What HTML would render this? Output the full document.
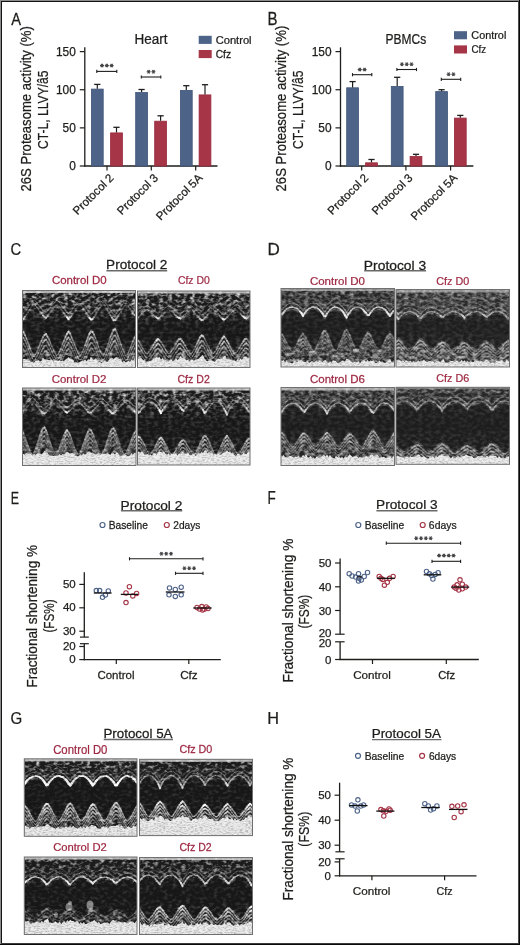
<!DOCTYPE html>
<html><head><meta charset="utf-8"><style>
html,body{margin:0;padding:0;background:#fff;}
body{width:520px;height:945px;overflow:hidden;}
svg{display:block;will-change:transform;}
text{font-family:"Liberation Sans", sans-serif;stroke:currentColor;}
</style></head><body>
<svg width="520" height="945" viewBox="0 0 520 945">
<defs><clipPath id="ec1"><rect x="22.5" y="290.5" width="113" height="77"/></clipPath><filter id="sp1" x="22.5" y="290.5" width="113" height="77" filterUnits="userSpaceOnUse" color-interpolation-filters="sRGB"><feTurbulence type="fractalNoise" baseFrequency="0.22 0.32" numOctaves="2" seed="11"/><feColorMatrix type="matrix" values="0 0 0 0 1 0 0 0 0 1 0 0 0 0 1 2.4 0 0 0 -1.02"/></filter><filter id="dk1" x="22.5" y="290.5" width="113" height="77" filterUnits="userSpaceOnUse" color-interpolation-filters="sRGB"><feTurbulence type="fractalNoise" baseFrequency="0.35 0.8" numOctaves="2" seed="61"/><feColorMatrix type="matrix" values="0 0 0 0 0 0 0 0 0 0 0 0 0 0 0 3.0 0 0 0 -1.25"/></filter><filter id="bl1" x="-5%" y="-20%" width="110%" height="140%"><feGaussianBlur stdDeviation="0.45"/></filter><linearGradient id="dg1" x1="0" y1="0" x2="0" y2="1"><stop offset="0" stop-color="#fff" stop-opacity="0.9"/><stop offset="0.12" stop-color="#fff" stop-opacity="0.8"/><stop offset="0.3" stop-color="#fff" stop-opacity="0.6"/><stop offset="0.45" stop-color="#fff" stop-opacity="0.3"/><stop offset="0.6" stop-color="#fff" stop-opacity="0.25"/><stop offset="0.75" stop-color="#fff" stop-opacity="0.5"/><stop offset="0.9" stop-color="#fff" stop-opacity="0.8"/><stop offset="1" stop-color="#fff" stop-opacity="0.9"/></linearGradient><mask id="mk1" maskUnits="userSpaceOnUse" x="22.5" y="290.5" width="113" height="77"><rect x="22.5" y="290.5" width="113" height="77" fill="url(#dg1)"/></mask><clipPath id="ec2"><rect x="137.5" y="291" width="112.5" height="76.5"/></clipPath><filter id="sp2" x="137.5" y="291" width="112.5" height="76.5" filterUnits="userSpaceOnUse" color-interpolation-filters="sRGB"><feTurbulence type="fractalNoise" baseFrequency="0.22 0.32" numOctaves="2" seed="12"/><feColorMatrix type="matrix" values="0 0 0 0 1 0 0 0 0 1 0 0 0 0 1 2.4 0 0 0 -1.02"/></filter><filter id="dk2" x="137.5" y="291" width="112.5" height="76.5" filterUnits="userSpaceOnUse" color-interpolation-filters="sRGB"><feTurbulence type="fractalNoise" baseFrequency="0.35 0.8" numOctaves="2" seed="62"/><feColorMatrix type="matrix" values="0 0 0 0 0 0 0 0 0 0 0 0 0 0 0 3.0 0 0 0 -1.25"/></filter><filter id="bl2" x="-5%" y="-20%" width="110%" height="140%"><feGaussianBlur stdDeviation="0.45"/></filter><linearGradient id="dg2" x1="0" y1="0" x2="0" y2="1"><stop offset="0" stop-color="#fff" stop-opacity="0.9"/><stop offset="0.12" stop-color="#fff" stop-opacity="0.8"/><stop offset="0.3" stop-color="#fff" stop-opacity="0.6"/><stop offset="0.45" stop-color="#fff" stop-opacity="0.3"/><stop offset="0.6" stop-color="#fff" stop-opacity="0.25"/><stop offset="0.75" stop-color="#fff" stop-opacity="0.5"/><stop offset="0.9" stop-color="#fff" stop-opacity="0.8"/><stop offset="1" stop-color="#fff" stop-opacity="0.9"/></linearGradient><mask id="mk2" maskUnits="userSpaceOnUse" x="137.5" y="291" width="112.5" height="76.5"><rect x="137.5" y="291" width="112.5" height="76.5" fill="url(#dg2)"/></mask><clipPath id="ec3"><rect x="22.5" y="388" width="113.5" height="77.5"/></clipPath><filter id="sp3" x="22.5" y="388" width="113.5" height="77.5" filterUnits="userSpaceOnUse" color-interpolation-filters="sRGB"><feTurbulence type="fractalNoise" baseFrequency="0.22 0.32" numOctaves="2" seed="13"/><feColorMatrix type="matrix" values="0 0 0 0 1 0 0 0 0 1 0 0 0 0 1 2.4 0 0 0 -1.02"/></filter><filter id="dk3" x="22.5" y="388" width="113.5" height="77.5" filterUnits="userSpaceOnUse" color-interpolation-filters="sRGB"><feTurbulence type="fractalNoise" baseFrequency="0.35 0.8" numOctaves="2" seed="63"/><feColorMatrix type="matrix" values="0 0 0 0 0 0 0 0 0 0 0 0 0 0 0 3.0 0 0 0 -1.25"/></filter><filter id="bl3" x="-5%" y="-20%" width="110%" height="140%"><feGaussianBlur stdDeviation="0.45"/></filter><linearGradient id="dg3" x1="0" y1="0" x2="0" y2="1"><stop offset="0" stop-color="#fff" stop-opacity="0.9"/><stop offset="0.12" stop-color="#fff" stop-opacity="0.8"/><stop offset="0.3" stop-color="#fff" stop-opacity="0.6"/><stop offset="0.45" stop-color="#fff" stop-opacity="0.3"/><stop offset="0.6" stop-color="#fff" stop-opacity="0.25"/><stop offset="0.75" stop-color="#fff" stop-opacity="0.5"/><stop offset="0.9" stop-color="#fff" stop-opacity="0.8"/><stop offset="1" stop-color="#fff" stop-opacity="0.9"/></linearGradient><mask id="mk3" maskUnits="userSpaceOnUse" x="22.5" y="388" width="113.5" height="77.5"><rect x="22.5" y="388" width="113.5" height="77.5" fill="url(#dg3)"/></mask><clipPath id="ec4"><rect x="137.5" y="388" width="112.5" height="77"/></clipPath><filter id="sp4" x="137.5" y="388" width="112.5" height="77" filterUnits="userSpaceOnUse" color-interpolation-filters="sRGB"><feTurbulence type="fractalNoise" baseFrequency="0.22 0.32" numOctaves="2" seed="14"/><feColorMatrix type="matrix" values="0 0 0 0 1 0 0 0 0 1 0 0 0 0 1 2.4 0 0 0 -1.02"/></filter><filter id="dk4" x="137.5" y="388" width="112.5" height="77" filterUnits="userSpaceOnUse" color-interpolation-filters="sRGB"><feTurbulence type="fractalNoise" baseFrequency="0.35 0.8" numOctaves="2" seed="64"/><feColorMatrix type="matrix" values="0 0 0 0 0 0 0 0 0 0 0 0 0 0 0 3.0 0 0 0 -1.25"/></filter><filter id="bl4" x="-5%" y="-20%" width="110%" height="140%"><feGaussianBlur stdDeviation="0.45"/></filter><linearGradient id="dg4" x1="0" y1="0" x2="0" y2="1"><stop offset="0" stop-color="#fff" stop-opacity="0.9"/><stop offset="0.12" stop-color="#fff" stop-opacity="0.8"/><stop offset="0.3" stop-color="#fff" stop-opacity="0.6"/><stop offset="0.45" stop-color="#fff" stop-opacity="0.3"/><stop offset="0.6" stop-color="#fff" stop-opacity="0.25"/><stop offset="0.75" stop-color="#fff" stop-opacity="0.5"/><stop offset="0.9" stop-color="#fff" stop-opacity="0.8"/><stop offset="1" stop-color="#fff" stop-opacity="0.9"/></linearGradient><mask id="mk4" maskUnits="userSpaceOnUse" x="137.5" y="388" width="112.5" height="77"><rect x="137.5" y="388" width="112.5" height="77" fill="url(#dg4)"/></mask><clipPath id="ec5"><rect x="281" y="288.5" width="113.5" height="78.5"/></clipPath><filter id="sp5" x="281" y="288.5" width="113.5" height="78.5" filterUnits="userSpaceOnUse" color-interpolation-filters="sRGB"><feTurbulence type="fractalNoise" baseFrequency="0.22 0.32" numOctaves="2" seed="15"/><feColorMatrix type="matrix" values="0 0 0 0 1 0 0 0 0 1 0 0 0 0 1 1.7 0 0 0 -0.62"/></filter><filter id="dk5" x="281" y="288.5" width="113.5" height="78.5" filterUnits="userSpaceOnUse" color-interpolation-filters="sRGB"><feTurbulence type="fractalNoise" baseFrequency="0.35 0.8" numOctaves="2" seed="65"/><feColorMatrix type="matrix" values="0 0 0 0 0 0 0 0 0 0 0 0 0 0 0 3.0 0 0 0 -1.25"/></filter><filter id="bl5" x="-5%" y="-20%" width="110%" height="140%"><feGaussianBlur stdDeviation="0.45"/></filter><linearGradient id="dg5" x1="0" y1="0" x2="0" y2="1"><stop offset="0" stop-color="#fff" stop-opacity="0.8"/><stop offset="0.1" stop-color="#fff" stop-opacity="0.6"/><stop offset="0.3" stop-color="#fff" stop-opacity="0.5"/><stop offset="0.5" stop-color="#fff" stop-opacity="0.3"/><stop offset="0.7" stop-color="#fff" stop-opacity="0.55"/><stop offset="0.85" stop-color="#fff" stop-opacity="0.8"/><stop offset="1" stop-color="#fff" stop-opacity="0.9"/></linearGradient><mask id="mk5" maskUnits="userSpaceOnUse" x="281" y="288.5" width="113.5" height="78.5"><rect x="281" y="288.5" width="113.5" height="78.5" fill="url(#dg5)"/></mask><clipPath id="ec6"><rect x="396" y="289.5" width="113.5" height="77.5"/></clipPath><filter id="sp6" x="396" y="289.5" width="113.5" height="77.5" filterUnits="userSpaceOnUse" color-interpolation-filters="sRGB"><feTurbulence type="fractalNoise" baseFrequency="0.22 0.32" numOctaves="2" seed="16"/><feColorMatrix type="matrix" values="0 0 0 0 1 0 0 0 0 1 0 0 0 0 1 1.7 0 0 0 -0.6"/></filter><filter id="dk6" x="396" y="289.5" width="113.5" height="77.5" filterUnits="userSpaceOnUse" color-interpolation-filters="sRGB"><feTurbulence type="fractalNoise" baseFrequency="0.35 0.8" numOctaves="2" seed="66"/><feColorMatrix type="matrix" values="0 0 0 0 0 0 0 0 0 0 0 0 0 0 0 3.0 0 0 0 -1.25"/></filter><filter id="bl6" x="-5%" y="-20%" width="110%" height="140%"><feGaussianBlur stdDeviation="0.45"/></filter><linearGradient id="dg6" x1="0" y1="0" x2="0" y2="1"><stop offset="0" stop-color="#fff" stop-opacity="0.8"/><stop offset="0.1" stop-color="#fff" stop-opacity="0.6"/><stop offset="0.3" stop-color="#fff" stop-opacity="0.5"/><stop offset="0.5" stop-color="#fff" stop-opacity="0.3"/><stop offset="0.7" stop-color="#fff" stop-opacity="0.55"/><stop offset="0.85" stop-color="#fff" stop-opacity="0.8"/><stop offset="1" stop-color="#fff" stop-opacity="0.9"/></linearGradient><mask id="mk6" maskUnits="userSpaceOnUse" x="396" y="289.5" width="113.5" height="77.5"><rect x="396" y="289.5" width="113.5" height="77.5" fill="url(#dg6)"/></mask><clipPath id="ec7"><rect x="281" y="387.5" width="113.5" height="78"/></clipPath><filter id="sp7" x="281" y="387.5" width="113.5" height="78" filterUnits="userSpaceOnUse" color-interpolation-filters="sRGB"><feTurbulence type="fractalNoise" baseFrequency="0.22 0.32" numOctaves="2" seed="17"/><feColorMatrix type="matrix" values="0 0 0 0 1 0 0 0 0 1 0 0 0 0 1 1.7 0 0 0 -0.62"/></filter><filter id="dk7" x="281" y="387.5" width="113.5" height="78" filterUnits="userSpaceOnUse" color-interpolation-filters="sRGB"><feTurbulence type="fractalNoise" baseFrequency="0.35 0.8" numOctaves="2" seed="67"/><feColorMatrix type="matrix" values="0 0 0 0 0 0 0 0 0 0 0 0 0 0 0 3.0 0 0 0 -1.25"/></filter><filter id="bl7" x="-5%" y="-20%" width="110%" height="140%"><feGaussianBlur stdDeviation="0.45"/></filter><linearGradient id="dg7" x1="0" y1="0" x2="0" y2="1"><stop offset="0" stop-color="#fff" stop-opacity="0.8"/><stop offset="0.1" stop-color="#fff" stop-opacity="0.6"/><stop offset="0.3" stop-color="#fff" stop-opacity="0.5"/><stop offset="0.5" stop-color="#fff" stop-opacity="0.3"/><stop offset="0.7" stop-color="#fff" stop-opacity="0.55"/><stop offset="0.85" stop-color="#fff" stop-opacity="0.8"/><stop offset="1" stop-color="#fff" stop-opacity="0.9"/></linearGradient><mask id="mk7" maskUnits="userSpaceOnUse" x="281" y="387.5" width="113.5" height="78"><rect x="281" y="387.5" width="113.5" height="78" fill="url(#dg7)"/></mask><clipPath id="ec8"><rect x="396" y="387.3" width="113.5" height="77"/></clipPath><filter id="sp8" x="396" y="387.3" width="113.5" height="77" filterUnits="userSpaceOnUse" color-interpolation-filters="sRGB"><feTurbulence type="fractalNoise" baseFrequency="0.22 0.32" numOctaves="2" seed="18"/><feColorMatrix type="matrix" values="0 0 0 0 1 0 0 0 0 1 0 0 0 0 1 1.6 0 0 0 -0.62"/></filter><filter id="dk8" x="396" y="387.3" width="113.5" height="77" filterUnits="userSpaceOnUse" color-interpolation-filters="sRGB"><feTurbulence type="fractalNoise" baseFrequency="0.35 0.8" numOctaves="2" seed="68"/><feColorMatrix type="matrix" values="0 0 0 0 0 0 0 0 0 0 0 0 0 0 0 3.0 0 0 0 -1.25"/></filter><filter id="bl8" x="-5%" y="-20%" width="110%" height="140%"><feGaussianBlur stdDeviation="0.45"/></filter><linearGradient id="dg8" x1="0" y1="0" x2="0" y2="1"><stop offset="0" stop-color="#fff" stop-opacity="0.8"/><stop offset="0.1" stop-color="#fff" stop-opacity="0.6"/><stop offset="0.3" stop-color="#fff" stop-opacity="0.5"/><stop offset="0.5" stop-color="#fff" stop-opacity="0.3"/><stop offset="0.7" stop-color="#fff" stop-opacity="0.55"/><stop offset="0.85" stop-color="#fff" stop-opacity="0.8"/><stop offset="1" stop-color="#fff" stop-opacity="0.9"/></linearGradient><mask id="mk8" maskUnits="userSpaceOnUse" x="396" y="387.3" width="113.5" height="77"><rect x="396" y="387.3" width="113.5" height="77" fill="url(#dg8)"/></mask><clipPath id="ec9"><rect x="24.3" y="758.8" width="112.7" height="77.5"/></clipPath><filter id="sp9" x="24.3" y="758.8" width="112.7" height="77.5" filterUnits="userSpaceOnUse" color-interpolation-filters="sRGB"><feTurbulence type="fractalNoise" baseFrequency="0.22 0.32" numOctaves="2" seed="19"/><feColorMatrix type="matrix" values="0 0 0 0 1 0 0 0 0 1 0 0 0 0 1 2.6 0 0 0 -1.22"/></filter><filter id="dk9" x="24.3" y="758.8" width="112.7" height="77.5" filterUnits="userSpaceOnUse" color-interpolation-filters="sRGB"><feTurbulence type="fractalNoise" baseFrequency="0.35 0.8" numOctaves="2" seed="69"/><feColorMatrix type="matrix" values="0 0 0 0 0 0 0 0 0 0 0 0 0 0 0 3.0 0 0 0 -1.25"/></filter><filter id="bl9" x="-5%" y="-20%" width="110%" height="140%"><feGaussianBlur stdDeviation="0.45"/></filter><linearGradient id="dg9" x1="0" y1="0" x2="0" y2="1"><stop offset="0" stop-color="#fff" stop-opacity="0.9"/><stop offset="0.1" stop-color="#fff" stop-opacity="0.8"/><stop offset="0.22" stop-color="#fff" stop-opacity="0.6"/><stop offset="0.35" stop-color="#fff" stop-opacity="0.3"/><stop offset="0.55" stop-color="#fff" stop-opacity="0.3"/><stop offset="0.7" stop-color="#fff" stop-opacity="0.6"/><stop offset="0.85" stop-color="#fff" stop-opacity="0.8"/><stop offset="1" stop-color="#fff" stop-opacity="0.9"/></linearGradient><mask id="mk9" maskUnits="userSpaceOnUse" x="24.3" y="758.8" width="112.7" height="77.5"><rect x="24.3" y="758.8" width="112.7" height="77.5" fill="url(#dg9)"/></mask><clipPath id="ec10"><rect x="139.5" y="759.3" width="113" height="76.3"/></clipPath><filter id="sp10" x="139.5" y="759.3" width="113" height="76.3" filterUnits="userSpaceOnUse" color-interpolation-filters="sRGB"><feTurbulence type="fractalNoise" baseFrequency="0.22 0.32" numOctaves="2" seed="20"/><feColorMatrix type="matrix" values="0 0 0 0 1 0 0 0 0 1 0 0 0 0 1 2.6 0 0 0 -1.22"/></filter><filter id="dk10" x="139.5" y="759.3" width="113" height="76.3" filterUnits="userSpaceOnUse" color-interpolation-filters="sRGB"><feTurbulence type="fractalNoise" baseFrequency="0.35 0.8" numOctaves="2" seed="70"/><feColorMatrix type="matrix" values="0 0 0 0 0 0 0 0 0 0 0 0 0 0 0 3.0 0 0 0 -1.25"/></filter><filter id="bl10" x="-5%" y="-20%" width="110%" height="140%"><feGaussianBlur stdDeviation="0.45"/></filter><linearGradient id="dg10" x1="0" y1="0" x2="0" y2="1"><stop offset="0" stop-color="#fff" stop-opacity="0.8"/><stop offset="0.1" stop-color="#fff" stop-opacity="0.6"/><stop offset="0.3" stop-color="#fff" stop-opacity="0.5"/><stop offset="0.5" stop-color="#fff" stop-opacity="0.3"/><stop offset="0.7" stop-color="#fff" stop-opacity="0.55"/><stop offset="0.85" stop-color="#fff" stop-opacity="0.8"/><stop offset="1" stop-color="#fff" stop-opacity="0.9"/></linearGradient><mask id="mk10" maskUnits="userSpaceOnUse" x="139.5" y="759.3" width="113" height="76.3"><rect x="139.5" y="759.3" width="113" height="76.3" fill="url(#dg10)"/></mask><clipPath id="ec11"><rect x="24.3" y="857" width="112.7" height="77.5"/></clipPath><filter id="sp11" x="24.3" y="857" width="112.7" height="77.5" filterUnits="userSpaceOnUse" color-interpolation-filters="sRGB"><feTurbulence type="fractalNoise" baseFrequency="0.22 0.32" numOctaves="2" seed="21"/><feColorMatrix type="matrix" values="0 0 0 0 1 0 0 0 0 1 0 0 0 0 1 2.6 0 0 0 -1.22"/></filter><filter id="dk11" x="24.3" y="857" width="112.7" height="77.5" filterUnits="userSpaceOnUse" color-interpolation-filters="sRGB"><feTurbulence type="fractalNoise" baseFrequency="0.35 0.8" numOctaves="2" seed="71"/><feColorMatrix type="matrix" values="0 0 0 0 0 0 0 0 0 0 0 0 0 0 0 3.0 0 0 0 -1.25"/></filter><filter id="bl11" x="-5%" y="-20%" width="110%" height="140%"><feGaussianBlur stdDeviation="0.45"/></filter><linearGradient id="dg11" x1="0" y1="0" x2="0" y2="1"><stop offset="0" stop-color="#fff" stop-opacity="0.8"/><stop offset="0.1" stop-color="#fff" stop-opacity="0.6"/><stop offset="0.3" stop-color="#fff" stop-opacity="0.5"/><stop offset="0.5" stop-color="#fff" stop-opacity="0.3"/><stop offset="0.7" stop-color="#fff" stop-opacity="0.55"/><stop offset="0.85" stop-color="#fff" stop-opacity="0.8"/><stop offset="1" stop-color="#fff" stop-opacity="0.9"/></linearGradient><mask id="mk11" maskUnits="userSpaceOnUse" x="24.3" y="857" width="112.7" height="77.5"><rect x="24.3" y="857" width="112.7" height="77.5" fill="url(#dg11)"/></mask><clipPath id="ec12"><rect x="139.5" y="857.5" width="113" height="77"/></clipPath><filter id="sp12" x="139.5" y="857.5" width="113" height="77" filterUnits="userSpaceOnUse" color-interpolation-filters="sRGB"><feTurbulence type="fractalNoise" baseFrequency="0.22 0.32" numOctaves="2" seed="22"/><feColorMatrix type="matrix" values="0 0 0 0 1 0 0 0 0 1 0 0 0 0 1 2.6 0 0 0 -1.22"/></filter><filter id="dk12" x="139.5" y="857.5" width="113" height="77" filterUnits="userSpaceOnUse" color-interpolation-filters="sRGB"><feTurbulence type="fractalNoise" baseFrequency="0.35 0.8" numOctaves="2" seed="72"/><feColorMatrix type="matrix" values="0 0 0 0 0 0 0 0 0 0 0 0 0 0 0 3.0 0 0 0 -1.25"/></filter><filter id="bl12" x="-5%" y="-20%" width="110%" height="140%"><feGaussianBlur stdDeviation="0.45"/></filter><linearGradient id="dg12" x1="0" y1="0" x2="0" y2="1"><stop offset="0" stop-color="#fff" stop-opacity="0.8"/><stop offset="0.1" stop-color="#fff" stop-opacity="0.6"/><stop offset="0.3" stop-color="#fff" stop-opacity="0.5"/><stop offset="0.5" stop-color="#fff" stop-opacity="0.3"/><stop offset="0.7" stop-color="#fff" stop-opacity="0.55"/><stop offset="0.85" stop-color="#fff" stop-opacity="0.8"/><stop offset="1" stop-color="#fff" stop-opacity="0.9"/></linearGradient><mask id="mk12" maskUnits="userSpaceOnUse" x="139.5" y="857.5" width="113" height="77"><rect x="139.5" y="857.5" width="113" height="77" fill="url(#dg12)"/></mask></defs>
<rect x="0" y="0" width="520" height="945" fill="#fff"/>
<text font-size="16.72" fill="#1d1d1b" color="#1d1d1b" stroke-width="0.25" transform="translate(11.17 25.00) scale(0.8752 1)">A</text>
<text font-size="17.59" fill="#1d1d1b" color="#1d1d1b" stroke-width="0.25" transform="translate(267.47 25.20) scale(0.8547 1)">B</text>
<text font-size="16.76" fill="#1d1d1b" color="#1d1d1b" stroke-width="0.25" transform="translate(10.45 254.80) scale(0.8858 1)">C</text>
<text font-size="17.15" fill="#1d1d1b" color="#1d1d1b" stroke-width="0.25" transform="translate(267.50 254.90) scale(0.9942 1)">D</text>
<text font-size="17.15" fill="#1d1d1b" color="#1d1d1b" stroke-width="0.25" transform="translate(10.79 504.00) scale(0.7207 1)">E</text>
<text font-size="17.44" fill="#1d1d1b" color="#1d1d1b" stroke-width="0.25" transform="translate(267.59 504.00) scale(0.7742 1)">F</text>
<text font-size="16.76" fill="#1d1d1b" color="#1d1d1b" stroke-width="0.25" transform="translate(10.49 723.90) scale(0.9004 1)">G</text>
<text font-size="17.30" fill="#1d1d1b" color="#1d1d1b" stroke-width="0.25" transform="translate(267.36 723.90) scale(0.9418 1)">H</text>
<text font-size="14.39" fill="#1d1d1b" color="#1d1d1b" stroke-width="0.25" transform="translate(134.49 44.00) scale(0.9380 1)">Heart</text>
<rect x="198.70" y="35.80" width="13.00" height="8.10" fill="#4e6388"/>
<rect x="198.70" y="50.00" width="13.00" height="8.10" fill="#a53547"/>
<text font-size="10.63" fill="#1d1d1b" color="#1d1d1b" stroke-width="0.25" transform="translate(215.63 43.50) scale(1.0513 1)">Control</text>
<text font-size="10.23" fill="#1d1d1b" color="#1d1d1b" stroke-width="0.25" transform="translate(215.68 57.60) scale(1.0062 1)">Cfz</text>
<text font-size="15.12" fill="#1d1d1b" color="#1d1d1b" stroke-width="0.25" transform="translate(30.80 191.46) rotate(-90) scale(0.8672 1)">26S Proteasome activity (%)</text>
<text font-size="15.12" fill="#1d1d1b" color="#1d1d1b" stroke-width="0.25" transform="translate(47.60 148.91) rotate(-90) scale(0.8003 1)">CT-L, LLVY/â5</text>
<line x1="84.80" y1="47.30" x2="84.80" y2="166.60" stroke="#1d1d1b" stroke-width="1.3"/>
<line x1="84.20" y1="166.00" x2="217.50" y2="166.00" stroke="#1d1d1b" stroke-width="1.3"/>
<line x1="79.80" y1="166.00" x2="84.80" y2="166.00" stroke="#1d1d1b" stroke-width="1.2"/>
<text x="75.80" y="170.25" font-size="11.9" fill="#1d1d1b" color="#1d1d1b" stroke-width="0.25" text-anchor="end">0</text>
<line x1="79.80" y1="127.87" x2="84.80" y2="127.87" stroke="#1d1d1b" stroke-width="1.2"/>
<text x="75.80" y="132.12" font-size="11.9" fill="#1d1d1b" color="#1d1d1b" stroke-width="0.25" text-anchor="end">50</text>
<line x1="79.80" y1="89.74" x2="84.80" y2="89.74" stroke="#1d1d1b" stroke-width="1.2"/>
<text x="75.80" y="93.99" font-size="11.9" fill="#1d1d1b" color="#1d1d1b" stroke-width="0.25" text-anchor="end">100</text>
<line x1="79.80" y1="51.61" x2="84.80" y2="51.61" stroke="#1d1d1b" stroke-width="1.2"/>
<text x="75.80" y="55.86" font-size="11.9" fill="#1d1d1b" color="#1d1d1b" stroke-width="0.25" text-anchor="end">150</text>
<line x1="107.00" y1="166.00" x2="107.00" y2="170.50" stroke="#1d1d1b" stroke-width="1.2"/>
<text x="0" y="0" font-size="11.6" fill="#1d1d1b" color="#1d1d1b" stroke-width="0.25" text-anchor="end" transform="translate(114.40 178.60) rotate(-45)">Protocol 2</text>
<line x1="151.30" y1="166.00" x2="151.30" y2="170.50" stroke="#1d1d1b" stroke-width="1.2"/>
<text x="0" y="0" font-size="11.6" fill="#1d1d1b" color="#1d1d1b" stroke-width="0.25" text-anchor="end" transform="translate(158.70 178.60) rotate(-45)">Protocol 3</text>
<line x1="195.70" y1="166.00" x2="195.70" y2="170.50" stroke="#1d1d1b" stroke-width="1.2"/>
<text x="0" y="0" font-size="11.6" fill="#1d1d1b" color="#1d1d1b" stroke-width="0.25" text-anchor="end" transform="translate(203.10 178.60) rotate(-45)">Protocol 5A</text>
<rect x="91.40" y="89.10" width="11.8" height="76.90" fill="#4e6388" stroke="#3e5479" stroke-width="0.8"/>
<line x1="97.30" y1="88.70" x2="97.30" y2="84.40" stroke="#1d1d1b" stroke-width="1.2"/>
<line x1="94.20" y1="84.40" x2="100.40" y2="84.40" stroke="#1d1d1b" stroke-width="1.3"/>
<rect x="110.60" y="132.90" width="11.8" height="33.10" fill="#a53547" stroke="#982a3d" stroke-width="0.8"/>
<line x1="116.50" y1="132.50" x2="116.50" y2="127.30" stroke="#1d1d1b" stroke-width="1.2"/>
<line x1="113.40" y1="127.30" x2="119.60" y2="127.30" stroke="#1d1d1b" stroke-width="1.3"/>
<rect x="135.70" y="92.50" width="11.8" height="73.50" fill="#4e6388" stroke="#3e5479" stroke-width="0.8"/>
<line x1="141.60" y1="92.10" x2="141.60" y2="89.50" stroke="#1d1d1b" stroke-width="1.2"/>
<line x1="138.50" y1="89.50" x2="144.70" y2="89.50" stroke="#1d1d1b" stroke-width="1.3"/>
<rect x="154.70" y="121.20" width="11.8" height="44.80" fill="#a53547" stroke="#982a3d" stroke-width="0.8"/>
<line x1="160.60" y1="120.80" x2="160.60" y2="115.80" stroke="#1d1d1b" stroke-width="1.2"/>
<line x1="157.50" y1="115.80" x2="163.70" y2="115.80" stroke="#1d1d1b" stroke-width="1.3"/>
<rect x="180.40" y="90.40" width="11.8" height="75.60" fill="#4e6388" stroke="#3e5479" stroke-width="0.8"/>
<line x1="186.30" y1="90.00" x2="186.30" y2="85.70" stroke="#1d1d1b" stroke-width="1.2"/>
<line x1="183.20" y1="85.70" x2="189.40" y2="85.70" stroke="#1d1d1b" stroke-width="1.3"/>
<rect x="199.10" y="94.90" width="11.8" height="71.10" fill="#a53547" stroke="#982a3d" stroke-width="0.8"/>
<line x1="205.00" y1="94.50" x2="205.00" y2="84.70" stroke="#1d1d1b" stroke-width="1.2"/>
<line x1="201.90" y1="84.70" x2="208.10" y2="84.70" stroke="#1d1d1b" stroke-width="1.3"/>
<line x1="96.80" y1="71.40" x2="116.80" y2="71.40" stroke="#1d1d1b" stroke-width="1.1"/>
<line x1="96.80" y1="69.80" x2="96.80" y2="73.00" stroke="#1d1d1b" stroke-width="1.1"/>
<line x1="116.80" y1="69.80" x2="116.80" y2="73.00" stroke="#1d1d1b" stroke-width="1.1"/>
<path d="M100.00 65.60L104.00 65.60M101.00 63.87L103.00 67.33M103.00 63.87L101.00 67.33" stroke="#444" stroke-width="1.1" fill="none"/>
<path d="M104.80 65.60L108.80 65.60M105.80 63.87L107.80 67.33M107.80 63.87L105.80 67.33" stroke="#444" stroke-width="1.1" fill="none"/>
<path d="M109.60 65.60L113.60 65.60M110.60 63.87L112.60 67.33M112.60 63.87L110.60 67.33" stroke="#444" stroke-width="1.1" fill="none"/>
<line x1="141.30" y1="77.00" x2="160.80" y2="77.00" stroke="#1d1d1b" stroke-width="1.1"/>
<line x1="141.30" y1="75.40" x2="141.30" y2="78.60" stroke="#1d1d1b" stroke-width="1.1"/>
<line x1="160.80" y1="75.40" x2="160.80" y2="78.60" stroke="#1d1d1b" stroke-width="1.1"/>
<path d="M146.65 71.80L150.65 71.80M147.65 70.07L149.65 73.53M149.65 70.07L147.65 73.53" stroke="#444" stroke-width="1.1" fill="none"/>
<path d="M151.45 71.80L155.45 71.80M152.45 70.07L154.45 73.53M154.45 70.07L152.45 73.53" stroke="#444" stroke-width="1.1" fill="none"/>
<text font-size="14.04" fill="#1d1d1b" color="#1d1d1b" stroke-width="0.25" transform="translate(385.52 43.60) scale(0.8539 1)">PBMCs</text>
<rect x="454.00" y="31.20" width="13.00" height="8.10" fill="#4e6388"/>
<rect x="454.00" y="45.40" width="13.00" height="8.10" fill="#a53547"/>
<text font-size="10.63" fill="#1d1d1b" color="#1d1d1b" stroke-width="0.25" transform="translate(471.35 38.80) scale(1.0211 1)">Control</text>
<text font-size="10.23" fill="#1d1d1b" color="#1d1d1b" stroke-width="0.25" transform="translate(471.40 52.70) scale(0.9573 1)">Cfz</text>
<text font-size="15.12" fill="#1d1d1b" color="#1d1d1b" stroke-width="0.25" transform="translate(285.80 191.46) rotate(-90) scale(0.8698 1)">26S Proteasome activity (%)</text>
<text font-size="15.12" fill="#1d1d1b" color="#1d1d1b" stroke-width="0.25" transform="translate(303.10 149.12) rotate(-90) scale(0.8034 1)">CT-L, LLVY/â5</text>
<line x1="340.50" y1="47.30" x2="340.50" y2="166.60" stroke="#1d1d1b" stroke-width="1.3"/>
<line x1="339.90" y1="166.00" x2="473.40" y2="166.00" stroke="#1d1d1b" stroke-width="1.3"/>
<line x1="335.50" y1="166.00" x2="340.50" y2="166.00" stroke="#1d1d1b" stroke-width="1.2"/>
<text x="331.50" y="170.25" font-size="11.9" fill="#1d1d1b" color="#1d1d1b" stroke-width="0.25" text-anchor="end">0</text>
<line x1="335.50" y1="127.87" x2="340.50" y2="127.87" stroke="#1d1d1b" stroke-width="1.2"/>
<text x="331.50" y="132.12" font-size="11.9" fill="#1d1d1b" color="#1d1d1b" stroke-width="0.25" text-anchor="end">50</text>
<line x1="335.50" y1="89.74" x2="340.50" y2="89.74" stroke="#1d1d1b" stroke-width="1.2"/>
<text x="331.50" y="93.99" font-size="11.9" fill="#1d1d1b" color="#1d1d1b" stroke-width="0.25" text-anchor="end">100</text>
<line x1="335.50" y1="51.61" x2="340.50" y2="51.61" stroke="#1d1d1b" stroke-width="1.2"/>
<text x="331.50" y="55.86" font-size="11.9" fill="#1d1d1b" color="#1d1d1b" stroke-width="0.25" text-anchor="end">150</text>
<line x1="361.70" y1="166.00" x2="361.70" y2="170.50" stroke="#1d1d1b" stroke-width="1.2"/>
<text x="0" y="0" font-size="11.6" fill="#1d1d1b" color="#1d1d1b" stroke-width="0.25" text-anchor="end" transform="translate(369.10 178.60) rotate(-45)">Protocol 2</text>
<line x1="405.90" y1="166.00" x2="405.90" y2="170.50" stroke="#1d1d1b" stroke-width="1.2"/>
<text x="0" y="0" font-size="11.6" fill="#1d1d1b" color="#1d1d1b" stroke-width="0.25" text-anchor="end" transform="translate(413.30 178.60) rotate(-45)">Protocol 3</text>
<line x1="450.60" y1="166.00" x2="450.60" y2="170.50" stroke="#1d1d1b" stroke-width="1.2"/>
<text x="0" y="0" font-size="11.6" fill="#1d1d1b" color="#1d1d1b" stroke-width="0.25" text-anchor="end" transform="translate(458.00 178.60) rotate(-45)">Protocol 5A</text>
<rect x="346.70" y="87.80" width="11.8" height="78.20" fill="#4e6388" stroke="#3e5479" stroke-width="0.8"/>
<line x1="352.60" y1="87.40" x2="352.60" y2="81.60" stroke="#1d1d1b" stroke-width="1.2"/>
<line x1="349.50" y1="81.60" x2="355.70" y2="81.60" stroke="#1d1d1b" stroke-width="1.3"/>
<rect x="365.60" y="162.80" width="11.8" height="3.20" fill="#a53547" stroke="#982a3d" stroke-width="0.8"/>
<line x1="371.50" y1="162.40" x2="371.50" y2="159.50" stroke="#1d1d1b" stroke-width="1.2"/>
<line x1="368.40" y1="159.50" x2="374.60" y2="159.50" stroke="#1d1d1b" stroke-width="1.3"/>
<rect x="391.30" y="86.40" width="11.8" height="79.60" fill="#4e6388" stroke="#3e5479" stroke-width="0.8"/>
<line x1="397.20" y1="86.00" x2="397.20" y2="77.30" stroke="#1d1d1b" stroke-width="1.2"/>
<line x1="394.10" y1="77.30" x2="400.30" y2="77.30" stroke="#1d1d1b" stroke-width="1.3"/>
<rect x="410.10" y="156.40" width="11.8" height="9.60" fill="#a53547" stroke="#982a3d" stroke-width="0.8"/>
<line x1="416.00" y1="156.00" x2="416.00" y2="154.30" stroke="#1d1d1b" stroke-width="1.2"/>
<line x1="412.90" y1="154.30" x2="419.10" y2="154.30" stroke="#1d1d1b" stroke-width="1.3"/>
<rect x="435.70" y="91.60" width="11.8" height="74.40" fill="#4e6388" stroke="#3e5479" stroke-width="0.8"/>
<line x1="441.60" y1="91.20" x2="441.60" y2="89.70" stroke="#1d1d1b" stroke-width="1.2"/>
<line x1="438.50" y1="89.70" x2="444.70" y2="89.70" stroke="#1d1d1b" stroke-width="1.3"/>
<rect x="454.40" y="118.10" width="11.8" height="47.90" fill="#a53547" stroke="#982a3d" stroke-width="0.8"/>
<line x1="460.30" y1="117.70" x2="460.30" y2="115.40" stroke="#1d1d1b" stroke-width="1.2"/>
<line x1="457.20" y1="115.40" x2="463.40" y2="115.40" stroke="#1d1d1b" stroke-width="1.3"/>
<line x1="352.50" y1="74.70" x2="371.80" y2="74.70" stroke="#1d1d1b" stroke-width="1.1"/>
<line x1="352.50" y1="73.10" x2="352.50" y2="76.30" stroke="#1d1d1b" stroke-width="1.1"/>
<line x1="371.80" y1="73.10" x2="371.80" y2="76.30" stroke="#1d1d1b" stroke-width="1.1"/>
<path d="M357.75 69.60L361.75 69.60M358.75 67.87L360.75 71.33M360.75 67.87L358.75 71.33" stroke="#444" stroke-width="1.1" fill="none"/>
<path d="M362.55 69.60L366.55 69.60M363.55 67.87L365.55 71.33M365.55 67.87L363.55 71.33" stroke="#444" stroke-width="1.1" fill="none"/>
<line x1="396.90" y1="69.50" x2="416.50" y2="69.50" stroke="#1d1d1b" stroke-width="1.1"/>
<line x1="396.90" y1="67.90" x2="396.90" y2="71.10" stroke="#1d1d1b" stroke-width="1.1"/>
<line x1="416.50" y1="67.90" x2="416.50" y2="71.10" stroke="#1d1d1b" stroke-width="1.1"/>
<path d="M399.90 64.20L403.90 64.20M400.90 62.47L402.90 65.93M402.90 62.47L400.90 65.93" stroke="#444" stroke-width="1.1" fill="none"/>
<path d="M404.70 64.20L408.70 64.20M405.70 62.47L407.70 65.93M407.70 62.47L405.70 65.93" stroke="#444" stroke-width="1.1" fill="none"/>
<path d="M409.50 64.20L413.50 64.20M410.50 62.47L412.50 65.93M412.50 62.47L410.50 65.93" stroke="#444" stroke-width="1.1" fill="none"/>
<line x1="441.30" y1="79.30" x2="460.70" y2="79.30" stroke="#1d1d1b" stroke-width="1.1"/>
<line x1="441.30" y1="77.70" x2="441.30" y2="80.90" stroke="#1d1d1b" stroke-width="1.1"/>
<line x1="460.70" y1="77.70" x2="460.70" y2="80.90" stroke="#1d1d1b" stroke-width="1.1"/>
<path d="M446.60 74.20L450.60 74.20M447.60 72.47L449.60 75.93M449.60 72.47L447.60 75.93" stroke="#444" stroke-width="1.1" fill="none"/>
<path d="M451.40 74.20L455.40 74.20M452.40 72.47L454.40 75.93M454.40 72.47L452.40 75.93" stroke="#444" stroke-width="1.1" fill="none"/>
<text font-size="12.97" fill="#1d1d1b" color="#1d1d1b" stroke-width="0.25" transform="translate(106.08 269.40) scale(1.0495 1)">Protocol 2</text>
<line x1="106.40" y1="270.70" x2="167.20" y2="270.70" stroke="#6a6a6a" stroke-width="1.4"/>
<text font-size="11.18" fill="#9e2a44" color="#9e2a44" stroke-width="0.25" transform="translate(51.92 284.10) scale(1.0262 1)">Control D0</text>
<text font-size="11.26" fill="#9e2a44" color="#9e2a44" stroke-width="0.25" transform="translate(177.97 284.40) scale(0.9249 1)">Cfz D0</text>
<text font-size="11.73" fill="#9e2a44" color="#9e2a44" stroke-width="0.25" transform="translate(51.72 382.50) scale(0.9766 1)">Control D2</text>
<text font-size="11.61" fill="#9e2a44" color="#9e2a44" stroke-width="0.25" transform="translate(177.46 382.50) scale(0.9125 1)">Cfz D2</text>
<g clip-path="url(#ec1)">
<rect x="22.5" y="290.5" width="113" height="77" fill="#1b1b1b"/>
<rect x="22.5" y="290.5" width="113" height="77" filter="url(#sp1)" mask="url(#mk1)"/>
<path d="M20.5 320.3 L22.0 322.1 L23.5 321.6 L25.0 319.7 L26.5 317.5 L28.0 315.2 L29.5 312.9 L31.0 310.7 L32.5 308.7 L34.0 307.0 L35.5 308.5 L37.0 310.3 L38.5 312.3 L40.0 314.3 L41.5 316.4 L43.0 318.3 L44.5 320.0 L46.0 320.5 L47.5 318.9 L49.0 317.0 L50.5 315.0 L52.0 312.9 L53.5 310.9 L55.0 309.1 L56.5 307.5 L58.0 308.1 L59.5 309.9 L61.0 312.0 L62.5 314.2 L64.0 316.5 L65.5 318.6 L67.0 320.5 L68.5 322.2 L70.0 320.5 L71.5 318.6 L73.0 316.5 L74.5 314.2 L76.0 312.0 L77.5 309.9 L79.0 308.1 L80.5 307.5 L82.0 309.4 L83.5 311.5 L85.0 313.8 L86.5 316.2 L88.0 318.5 L89.5 320.6 L91.0 322.4 L92.5 321.8 L94.0 319.9 L95.5 317.7 L97.0 315.4 L98.5 313.0 L100.0 310.8 L101.5 308.7 L103.0 307.0 L104.5 308.8 L106.0 311.0 L107.5 313.4 L109.0 316.0 L110.5 318.5 L112.0 320.8 L113.5 322.9 L115.0 323.5 L116.5 321.5 L118.0 319.3 L119.5 316.8 L121.0 314.3 L122.5 311.8 L124.0 309.5 L125.5 307.6 L127.0 308.0 L128.5 309.8 L130.0 311.7 L131.5 313.8 L133.0 316.0 L134.5 318.0 L136.0 319.9 L137.5 321.4 L139.0 319.9 L139.0 331.9 L137.5 329.9 L136.0 331.9 L134.5 334.8 L133.0 338.3 L131.5 342.1 L130.0 345.9 L128.5 349.2 L127.0 351.8 L125.5 352.3 L124.0 349.6 L122.5 346.0 L121.0 341.6 L119.5 337.1 L118.0 332.7 L116.5 329.1 L115.0 326.4 L113.5 327.1 L112.0 330.2 L110.5 334.1 L109.0 338.6 L107.5 343.1 L106.0 347.3 L104.5 350.7 L103.0 353.0 L101.5 350.8 L100.0 347.7 L98.5 343.8 L97.0 339.5 L95.5 335.4 L94.0 331.7 L92.5 328.8 L91.0 328.1 L89.5 330.6 L88.0 334.1 L86.5 338.1 L85.0 342.4 L83.5 346.4 L82.0 349.9 L80.5 352.4 L79.0 351.7 L77.5 349.0 L76.0 345.5 L74.5 341.5 L73.0 337.5 L71.5 333.8 L70.0 330.8 L68.5 328.7 L67.0 330.8 L65.5 333.8 L64.0 337.5 L62.5 341.5 L61.0 345.5 L59.5 349.0 L58.0 351.7 L56.5 352.5 L55.0 350.2 L53.5 347.2 L52.0 343.7 L50.5 340.0 L49.0 336.4 L47.5 333.4 L46.0 331.2 L44.5 331.8 L43.0 334.3 L41.5 337.6 L40.0 341.2 L38.5 344.9 L37.0 348.3 L35.5 351.1 L34.0 353.0 L32.5 350.8 L31.0 347.7 L29.5 343.9 L28.0 339.8 L26.5 335.7 L25.0 332.1 L23.5 329.3 L22.0 328.6 L20.5 331.0 Z" fill="#161616" opacity="0.45" filter="url(#bl1)"/>
<rect x="22.5" y="290.5" width="113" height="2.5" fill="#e6e6e6" opacity="0.75"/>
<path d="M20.5 358.5 L22.0 357.6 L23.5 359.2 L25.0 358.8 L26.5 359.9 L28.0 360.9 L29.5 360.2 L31.0 361.7 L32.5 362.3 L34.0 362.9 L35.5 360.6 L37.0 361.1 L38.5 360.0 L40.0 361.8 L41.5 360.7 L43.0 357.8 L44.5 359.8 L46.0 359.4 L47.5 359.5 L49.0 360.2 L50.5 359.5 L52.0 359.6 L53.5 361.7 L55.0 360.5 L56.5 361.0 L58.0 361.1 L59.5 360.3 L61.0 361.3 L62.5 360.7 L64.0 361.3 L65.5 359.4 L67.0 358.8 L68.5 356.9 L70.0 358.9 L71.5 359.2 L73.0 359.5 L74.5 362.5 L76.0 363.0 L77.5 362.9 L79.0 362.6 L80.5 361.4 L82.0 361.0 L83.5 360.8 L85.0 359.6 L86.5 361.2 L88.0 359.2 L89.5 359.7 L91.0 356.9 L92.5 359.2 L94.0 360.0 L95.5 358.2 L97.0 359.7 L98.5 362.5 L100.0 361.5 L101.5 363.4 L103.0 361.7 L104.5 360.5 L106.0 362.0 L107.5 362.0 L109.0 359.8 L110.5 358.4 L112.0 358.1 L113.5 359.0 L115.0 357.8 L116.5 357.1 L118.0 358.6 L119.5 359.0 L121.0 359.5 L122.5 362.4 L124.0 360.8 L125.5 362.2 L127.0 361.8 L128.5 360.8 L130.0 362.2 L131.5 359.8 L133.0 360.7 L134.5 358.3 L136.0 358.3 L137.5 356.3 L139.0 357.8 L137.5 369.5 L20.5 369.5 Z" fill="#f6f6f6" opacity="0.94" filter="url(#bl1)"/>
<clipPath id="bc1"><path d="M20.5 358.5 L22.0 357.6 L23.5 359.2 L25.0 358.8 L26.5 359.9 L28.0 360.9 L29.5 360.2 L31.0 361.7 L32.5 362.3 L34.0 362.9 L35.5 360.6 L37.0 361.1 L38.5 360.0 L40.0 361.8 L41.5 360.7 L43.0 357.8 L44.5 359.8 L46.0 359.4 L47.5 359.5 L49.0 360.2 L50.5 359.5 L52.0 359.6 L53.5 361.7 L55.0 360.5 L56.5 361.0 L58.0 361.1 L59.5 360.3 L61.0 361.3 L62.5 360.7 L64.0 361.3 L65.5 359.4 L67.0 358.8 L68.5 356.9 L70.0 358.9 L71.5 359.2 L73.0 359.5 L74.5 362.5 L76.0 363.0 L77.5 362.9 L79.0 362.6 L80.5 361.4 L82.0 361.0 L83.5 360.8 L85.0 359.6 L86.5 361.2 L88.0 359.2 L89.5 359.7 L91.0 356.9 L92.5 359.2 L94.0 360.0 L95.5 358.2 L97.0 359.7 L98.5 362.5 L100.0 361.5 L101.5 363.4 L103.0 361.7 L104.5 360.5 L106.0 362.0 L107.5 362.0 L109.0 359.8 L110.5 358.4 L112.0 358.1 L113.5 359.0 L115.0 357.8 L116.5 357.1 L118.0 358.6 L119.5 359.0 L121.0 359.5 L122.5 362.4 L124.0 360.8 L125.5 362.2 L127.0 361.8 L128.5 360.8 L130.0 362.2 L131.5 359.8 L133.0 360.7 L134.5 358.3 L136.0 358.3 L137.5 356.3 L139.0 357.8 L137.5 369.5 L20.5 369.5 Z"/></clipPath>
<rect x="22.5" y="290.5" width="113" height="77" filter="url(#dk1)" clip-path="url(#bc1)" opacity="0.2"/>
<g filter="url(#bl1)" fill="none" stroke-linecap="round"><path d="M20.5 317.7L22.0 319.3M43.0 315.5L44.5 316.8M44.5 316.8L46.0 317.8M91.0 319.5L92.5 319.1M113.5 320.2L115.0 320.1M44.5 335.0L46.0 334.0M67.0 333.8L68.5 331.6M89.5 333.6L91.0 331.4M91.0 331.4L92.5 332.0" stroke="#fff" stroke-width="2.0" stroke-opacity="0.625"/><path d="M22.0 319.3L23.5 318.8M112.0 317.8L113.5 320.2M20.5 334.0L22.0 331.5M113.5 330.1L115.0 329.1M136.0 334.8L137.5 333.0" stroke="#fff" stroke-width="2.0" stroke-opacity="0.5"/><path d="M23.5 318.8L25.0 316.6M46.0 317.8L47.5 316.2M68.5 319.1L70.0 317.3M92.5 319.1L94.0 317.1M134.5 314.8L136.0 316.7M23.5 332.0L25.0 335.2M46.0 334.0L47.5 336.7M65.5 337.0L67.0 333.8M68.5 331.6L70.0 333.4M86.5 341.4L88.0 337.3M88.0 337.3L89.5 333.6M92.5 332.0L94.0 334.6M134.5 337.8L136.0 334.8M44.5 340.4L46.0 339.7M67.0 339.1L68.5 337.3M89.5 339.1L91.0 337.0M113.5 341.7L115.0 340.7M136.0 346.4L137.5 344.0" stroke="#fff" stroke-width="1.75" stroke-opacity="0.5"/><path d="M25.0 316.6L26.5 314.6M28.0 312.6L29.5 309.7M37.0 307.3L38.5 309.3M61.0 309.2L62.5 311.1M62.5 311.1L64.0 313.3M71.5 315.9L73.0 313.6M83.5 308.8L85.0 310.8M85.0 310.8L86.5 313.4M94.0 317.1L95.5 314.8M95.5 314.8L97.0 312.3M107.5 310.6L109.0 313.0M109.0 313.0L110.5 315.3M118.0 316.0L119.5 313.9M128.5 306.6L130.0 308.7M130.0 308.7L131.5 311.1M131.5 311.1L133.0 313.3M20.5 312.0L22.0 313.5M22.0 313.5L23.5 313.4M43.0 310.2L44.5 311.4M44.5 311.4L46.0 312.3M46.0 312.3L47.5 310.5M65.5 310.6L67.0 312.3M68.5 313.5L70.0 312.5M88.0 310.5L89.5 312.5M89.5 312.5L91.0 314.2M91.0 314.2L92.5 313.1M112.0 312.5L113.5 314.4M113.5 314.4L115.0 314.9M115.0 314.9L116.5 313.4M134.5 309.7L136.0 311.4M136.0 311.4L137.5 313.0M37.0 351.1L38.5 348.1M50.5 343.1L52.0 346.8M61.0 348.8L62.5 344.2M73.0 340.5L74.5 344.5M83.5 349.4L85.0 345.6M95.5 338.1L97.0 342.5M41.5 345.9L43.0 342.6M70.0 339.5L71.5 342.3M23.5 343.9L25.0 346.3M46.0 345.5L47.5 347.3M47.5 347.3L49.0 349.8M64.0 350.8L65.5 347.5M68.5 342.9L70.0 344.9M70.0 344.9L71.5 347.9M86.5 352.0L88.0 347.8M88.0 347.8L89.5 344.9M92.5 343.3L94.0 345.6M116.5 343.3L118.0 346.8M133.0 351.6L134.5 348.6M23.5 349.2L25.0 351.6M46.0 351.0L47.5 353.0M47.5 353.0L49.0 355.3M64.0 356.1L65.5 353.5M65.5 353.5L67.0 350.5M68.5 348.6L70.0 351.0M70.0 351.0L71.5 353.3M86.5 356.9L88.0 353.7M88.0 353.7L89.5 350.7M92.5 348.8L94.0 351.2M110.5 353.5L112.0 350.1M115.0 347.0L116.5 349.3M116.5 349.3L118.0 352.6M133.0 356.9L134.5 354.2M134.5 354.2L136.0 351.7" stroke="#fff" stroke-width="1.5" stroke-opacity="0.25"/><path d="M26.5 314.6L28.0 312.6M38.5 309.3L40.0 311.6M49.0 314.1L50.5 311.7M50.5 311.7L52.0 310.3M59.5 306.7L61.0 309.2M73.0 313.6L74.5 311.3M74.5 311.3L76.0 308.7M97.0 312.3L98.5 310.1M106.0 308.3L107.5 310.6M119.5 313.9L121.0 311.5M41.5 356.1L43.0 353.6" stroke="#fff" stroke-width="1.5" stroke-opacity="0.125"/><path d="M29.5 309.7L31.0 307.6M31.0 307.6L32.5 305.4M32.5 305.4L34.0 304.1M34.0 304.1L35.5 305.6M52.0 310.3L53.5 308.1M53.5 308.1L55.0 306.3M55.0 306.3L56.5 304.3M56.5 304.3L58.0 305.2M58.0 305.2L59.5 306.7M76.0 308.7L77.5 307.2M77.5 307.2L79.0 305.4M79.0 305.4L80.5 304.6M80.5 304.6L82.0 306.5M82.0 306.5L83.5 308.8M100.0 307.8L101.5 306.0M101.5 306.0L103.0 303.9M103.0 303.9L104.5 305.9M104.5 305.9L106.0 308.3M121.0 311.5L122.5 308.9M125.5 304.9L127.0 304.9M127.0 304.9L128.5 306.6M23.5 313.4L25.0 311.1M25.0 311.1L26.5 309.7M40.0 306.8L41.5 308.6M62.5 306.8L64.0 308.6M73.0 308.4L74.5 306.7M58.0 363.9L59.5 361.2M61.0 358.2L62.5 355.0M128.5 361.9L130.0 358.7M25.0 351.6L26.5 354.6M26.5 354.6L28.0 358.4M29.5 362.1L31.0 365.2M35.5 368.0L37.0 365.3M38.5 362.9L40.0 359.2M40.0 359.2L41.5 356.1M49.0 355.3L50.5 358.4M58.0 368.3L59.5 365.8M73.0 356.1L74.5 359.8M74.5 359.8L76.0 362.8M85.0 360.5L86.5 356.9M94.0 351.2L95.5 354.8M95.5 354.8L97.0 358.1M97.0 358.1L98.5 361.3M104.5 367.4L106.0 364.8M106.0 364.8L107.5 360.9M107.5 360.9L109.0 357.0M109.0 357.0L110.5 353.5M128.5 366.3L130.0 363.5M131.5 360.2L133.0 356.9" stroke="#fff" stroke-width="1.25" stroke-opacity="0.125"/><path d="M35.5 305.6L37.0 307.3M98.5 310.1L100.0 307.8M122.5 308.9L124.0 306.5M124.0 306.5L125.5 304.9M26.5 309.7L28.0 307.5M38.5 304.8L40.0 306.8M41.5 308.6L43.0 310.2M47.5 310.5L49.0 309.2M49.0 309.2L50.5 307.3M61.0 304.8L62.5 306.8M64.0 308.6L65.5 310.6M70.0 312.5L71.5 310.5M71.5 310.5L73.0 308.4M85.0 305.9L86.5 308.2M86.5 308.2L88.0 310.5M92.5 313.1L94.0 311.5M94.0 311.5L95.5 309.7M95.5 309.7L97.0 307.8M107.5 305.9L109.0 308.4M109.0 308.4L110.5 310.2M110.5 310.2L112.0 312.5M116.5 313.4L118.0 310.9M118.0 310.9L119.5 308.6M130.0 304.4L131.5 306.1M131.5 306.1L133.0 307.8M133.0 307.8L134.5 309.7M31.0 351.0L32.5 353.7M32.5 353.7L34.0 356.3M35.5 354.4L37.0 351.1M52.0 346.8L53.5 349.9M56.5 355.5L58.0 354.5M98.5 346.7L100.0 350.7M124.0 352.3L125.5 355.5M125.5 355.5L127.0 355.1M127.0 355.1L128.5 352.2M26.5 344.0L28.0 348.1M35.5 358.7L37.0 356.2M38.5 353.1L40.0 349.4M40.0 349.4L41.5 345.9M49.0 344.8L50.5 348.3M52.0 352.0L53.5 355.2M58.0 359.2L59.5 356.8M59.5 356.8L61.0 353.4M61.0 353.4L62.5 349.8M73.0 345.5L74.5 349.6M74.5 349.6L76.0 353.3M76.0 353.3L77.5 356.5M82.0 357.7L83.5 354.4M83.5 354.4L85.0 350.4M85.0 350.4L86.5 346.6M94.0 340.0L95.5 343.5M95.5 343.5L97.0 347.8M97.0 347.8L98.5 351.9M98.5 351.9L100.0 355.6M104.5 358.4L106.0 354.9M107.5 351.0L109.0 346.7M118.0 341.6L119.5 345.2M119.5 345.2L121.0 349.6M121.0 349.6L122.5 353.7M128.5 356.7L130.0 354.0M130.0 354.0L131.5 349.8M25.0 346.3L26.5 349.6M26.5 349.6L28.0 352.9M28.0 352.9L29.5 357.0M29.5 357.0L31.0 360.5M35.5 363.3L37.0 360.9M37.0 360.9L38.5 357.7M38.5 357.7L40.0 354.5M40.0 354.5L41.5 351.3M49.0 349.8L50.5 353.6M50.5 353.6L52.0 356.4M52.0 356.4L53.5 359.8M59.5 361.2L61.0 358.2M62.5 355.0L64.0 350.8M71.5 347.9L73.0 351.1M73.0 351.1L74.5 354.7M74.5 354.7L76.0 358.5M76.0 358.5L77.5 361.3M82.0 362.5L83.5 359.0M83.5 359.0L85.0 355.5M85.0 355.5L86.5 352.0M94.0 345.6L95.5 349.0M95.5 349.0L97.0 352.9M97.0 352.9L98.5 357.0M98.5 357.0L100.0 360.2M104.5 363.1L106.0 359.7M106.0 359.7L107.5 355.8M107.5 355.8L109.0 352.0M109.0 352.0L110.5 348.1M118.0 346.8L119.5 350.9M119.5 350.9L121.0 354.6M121.0 354.6L122.5 358.5M127.0 363.8L128.5 361.9M130.0 358.7L131.5 355.1M131.5 355.1L133.0 351.6M28.0 358.4L29.5 362.1M37.0 365.3L38.5 362.9M50.5 358.4L52.0 361.5M52.0 361.5L53.5 364.9M59.5 365.8L61.0 363.1M61.0 363.1L62.5 360.0M62.5 360.0L64.0 356.1M71.5 353.3L73.0 356.1M76.0 362.8L77.5 366.2M82.0 366.6L83.5 363.7M83.5 363.7L85.0 360.5M98.5 361.3L100.0 365.3M118.0 352.6L119.5 355.9M119.5 355.9L121.0 359.9M121.0 359.9L122.5 363.7M127.0 368.4L128.5 366.3M130.0 363.5L131.5 360.2" stroke="#fff" stroke-width="1.25" stroke-opacity="0.25"/><path d="M40.0 311.6L41.5 313.1M67.0 312.3L68.5 313.5M26.5 338.7L28.0 342.9M28.0 342.9L29.5 346.7M38.5 348.1L40.0 343.9M40.0 343.9L41.5 340.5M49.0 339.1L50.5 343.1M59.5 351.8L61.0 348.8M62.5 344.2L64.0 340.8M71.5 337.0L73.0 340.5M74.5 344.5L76.0 348.3M85.0 345.6L86.5 341.4M94.0 334.6L95.5 338.1M97.0 342.5L98.5 346.7M106.0 350.2L107.5 346.2M107.5 346.2L109.0 341.8M109.0 341.8L110.5 336.8M118.0 336.0L119.5 340.1M119.5 340.1L121.0 344.7M128.5 352.2L130.0 348.9M130.0 348.9L131.5 344.8M131.5 344.8L133.0 341.2M23.5 337.8L25.0 340.4M46.0 339.7L47.5 341.9M47.5 341.9L49.0 344.8M64.0 345.6L65.5 342.5M65.5 342.5L67.0 339.1M68.5 337.3L70.0 339.5M86.5 346.6L88.0 342.6M88.0 342.6L89.5 339.1M92.5 337.5L94.0 340.0M110.5 342.7L112.0 339.1M115.0 335.4L116.5 337.6M116.5 337.6L118.0 341.6M133.0 346.6L134.5 343.5M134.5 343.5L136.0 340.7M41.5 351.3L43.0 348.5M65.5 347.5L67.0 345.2M110.5 348.1L112.0 344.3M115.0 340.7L116.5 343.3M134.5 348.6L136.0 346.4" stroke="#fff" stroke-width="1.5" stroke-opacity="0.375"/><path d="M41.5 313.1L43.0 315.5M64.0 313.3L65.5 315.5M65.5 315.5L67.0 317.2M70.0 317.3L71.5 315.9M86.5 313.4L88.0 315.6M88.0 315.6L89.5 317.9M110.5 315.3L112.0 317.8M115.0 320.1L116.5 318.7M116.5 318.7L118.0 316.0M133.0 313.3L134.5 314.8M41.5 340.5L43.0 337.1M47.5 336.7L49.0 339.1M64.0 340.8L65.5 337.0M70.0 333.4L71.5 337.0M110.5 336.8L112.0 333.4M115.0 329.1L116.5 331.8M116.5 331.8L118.0 336.0M133.0 341.2L134.5 337.8M20.5 339.8L22.0 337.1M22.0 337.1L23.5 337.8M43.0 342.6L44.5 340.4M91.0 337.0L92.5 337.5M112.0 339.1L113.5 336.2M113.5 336.2L115.0 335.4M20.5 344.9L22.0 342.7M43.0 348.5L44.5 346.0M44.5 346.0L46.0 345.5M67.0 345.2L68.5 342.9M89.5 344.9L91.0 342.8M112.0 344.3L113.5 341.7M44.5 351.8L46.0 351.0M67.0 350.5L68.5 348.6M89.5 350.7L91.0 348.1M91.0 348.1L92.5 348.8" stroke="#fff" stroke-width="1.75" stroke-opacity="0.375"/><path d="M47.5 316.2L49.0 314.1M22.0 342.7L23.5 343.9M91.0 342.8L92.5 343.3M20.5 350.7L22.0 348.6M22.0 348.6L23.5 349.2M43.0 353.6L44.5 351.8M112.0 350.1L113.5 347.6M113.5 347.6L115.0 347.0M136.0 351.7L137.5 350.1" stroke="#fff" stroke-width="1.75" stroke-opacity="0.25"/><path d="M67.0 317.2L68.5 319.1M89.5 317.9L91.0 319.5M136.0 316.7L137.5 318.4" stroke="#fff" stroke-width="2.0" stroke-opacity="0.875"/><path d="M28.0 307.5L29.5 305.2M35.5 301.1L37.0 303.0M37.0 303.0L38.5 304.8M50.5 307.3L52.0 305.3M53.5 303.8L55.0 302.2M55.0 302.2L56.5 300.2M56.5 300.2L58.0 301.0M58.0 301.0L59.5 302.5M59.5 302.5L61.0 304.8M74.5 306.7L76.0 304.2M76.0 304.2L77.5 302.6M82.0 302.3L83.5 303.9M98.5 305.3L100.0 303.6M100.0 303.6L101.5 301.3M101.5 301.3L103.0 300.3M104.5 301.7L106.0 303.6M119.5 308.6L121.0 306.8M122.5 304.3L124.0 302.1M31.0 355.2L32.5 358.4M32.5 358.4L34.0 360.8M55.0 357.6L56.5 360.2M56.5 360.2L58.0 359.2M79.0 359.5L80.5 359.6M80.5 359.6L82.0 357.7M100.0 355.6L101.5 358.2M101.5 358.2L103.0 360.2M103.0 360.2L104.5 358.4M122.5 353.7L124.0 357.1M124.0 357.1L125.5 360.1M125.5 360.1L127.0 359.6M31.0 360.5L32.5 362.9M32.5 362.9L34.0 365.1M34.0 365.1L35.5 363.3M55.0 362.8L56.5 364.4M56.5 364.4L58.0 363.9M77.5 361.3L79.0 364.2M80.5 364.3L82.0 362.5M101.5 363.2L103.0 365.2M122.5 358.5L124.0 362.1M125.5 364.5L127.0 363.8M34.0 369.2L35.5 368.0M53.5 364.9L55.0 367.3M56.5 368.7L58.0 368.3M77.5 366.2L79.0 368.3M80.5 368.9L82.0 366.6M101.5 367.7L103.0 369.6M103.0 369.6L104.5 367.4M122.5 363.7L124.0 366.6M124.0 366.6L125.5 369.2" stroke="#fff" stroke-width="1.0" stroke-opacity="0.25"/><path d="M29.5 305.2L31.0 303.0M31.0 303.0L32.5 301.5M32.5 301.5L34.0 300.2M34.0 300.2L35.5 301.1M52.0 305.3L53.5 303.8M77.5 302.6L79.0 300.9M79.0 300.9L80.5 300.7M80.5 300.7L82.0 302.3M83.5 303.9L85.0 305.9M97.0 307.8L98.5 305.3M103.0 300.3L104.5 301.7M106.0 303.6L107.5 305.9M121.0 306.8L122.5 304.3M124.0 302.1L125.5 300.8M125.5 300.8L127.0 301.1M127.0 301.1L128.5 302.3M128.5 302.3L130.0 304.4M53.5 359.8L55.0 362.8M79.0 364.2L80.5 364.3M100.0 360.2L101.5 363.2M103.0 365.2L104.5 363.1M124.0 362.1L125.5 364.5M31.0 365.2L32.5 367.9M32.5 367.9L34.0 369.2M55.0 367.3L56.5 368.7M79.0 368.3L80.5 368.9M100.0 365.3L101.5 367.7M125.5 369.2L127.0 368.4" stroke="#fff" stroke-width="1.0" stroke-opacity="0.125"/><path d="M22.0 331.5L23.5 332.0M43.0 337.1L44.5 335.0M112.0 333.4L113.5 330.1" stroke="#fff" stroke-width="2.0" stroke-opacity="0.375"/><path d="M25.0 335.2L26.5 338.7" stroke="#fff" stroke-width="1.5" stroke-opacity="0.5"/><path d="M29.5 346.7L31.0 351.0M34.0 356.3L35.5 354.4M53.5 349.9L55.0 352.9M55.0 352.9L56.5 355.5M58.0 354.5L59.5 351.8M76.0 348.3L77.5 351.7M77.5 351.7L79.0 354.9M79.0 354.9L80.5 355.6M80.5 355.6L82.0 352.8M82.0 352.8L83.5 349.4M100.0 350.7L101.5 354.1M101.5 354.1L103.0 355.9M103.0 355.9L104.5 353.7M104.5 353.7L106.0 350.2M121.0 344.7L122.5 349.1M122.5 349.1L124.0 352.3M25.0 340.4L26.5 344.0M28.0 348.1L29.5 352.2M29.5 352.2L31.0 355.2M37.0 356.2L38.5 353.1M50.5 348.3L52.0 352.0M62.5 349.8L64.0 345.6M71.5 342.3L73.0 345.5M106.0 354.9L107.5 351.0M109.0 346.7L110.5 342.7M127.0 359.6L128.5 356.7M131.5 349.8L133.0 346.6" stroke="#fff" stroke-width="1.25" stroke-opacity="0.375"/><path d="M34.0 360.8L35.5 358.7M53.5 355.2L55.0 357.6M77.5 356.5L79.0 359.5" stroke="#fff" stroke-width="1.0" stroke-opacity="0.375"/><path d="M136.0 340.7L137.5 338.6" stroke="#fff" stroke-width="1.75" stroke-opacity="0.625"/></g>
</g>
<rect x="22.5" y="290.5" width="113" height="77" fill="none" stroke="#707070" stroke-width="1"/>
<g clip-path="url(#ec2)">
<rect x="137.5" y="291" width="112.5" height="76.5" fill="#1b1b1b"/>
<rect x="137.5" y="291" width="112.5" height="76.5" filter="url(#sp2)" mask="url(#mk2)"/>
<path d="M135.5 321.4 L137.0 321.1 L138.5 319.9 L140.0 318.6 L141.5 317.1 L143.0 315.6 L144.5 314.3 L146.0 313.1 L147.5 312.8 L149.0 313.9 L150.5 315.1 L152.0 316.5 L153.5 317.9 L155.0 319.3 L156.5 320.5 L158.0 321.4 L159.5 320.5 L161.0 319.3 L162.5 317.9 L164.0 316.5 L165.5 315.1 L167.0 313.9 L168.5 312.8 L170.0 313.1 L171.5 314.3 L173.0 315.6 L174.5 317.0 L176.0 318.5 L177.5 319.8 L179.0 320.9 L180.5 321.3 L182.0 320.2 L183.5 318.9 L185.0 317.5 L186.5 316.1 L188.0 314.7 L189.5 313.5 L191.0 312.5 L192.5 313.7 L194.0 315.2 L195.5 316.8 L197.0 318.6 L198.5 320.3 L200.0 321.9 L201.5 323.1 L203.0 322.7 L204.5 321.4 L206.0 319.7 L207.5 318.0 L209.0 316.3 L210.5 314.7 L212.0 313.3 L213.5 312.8 L215.0 314.0 L216.5 315.5 L218.0 317.0 L219.5 318.6 L221.0 320.2 L222.5 321.5 L224.0 322.6 L225.5 321.5 L227.0 320.2 L228.5 318.6 L230.0 317.0 L231.5 315.5 L233.0 314.0 L234.5 312.8 L236.0 313.2 L237.5 314.3 L239.0 315.7 L240.5 317.2 L242.0 318.6 L243.5 320.0 L245.0 321.2 L246.5 321.5 L248.0 320.4 L249.5 319.1 L251.0 317.7 L252.5 316.2 L252.5 344.9 L251.0 342.1 L249.5 339.5 L248.0 337.2 L246.5 335.5 L245.0 336.0 L243.5 337.9 L242.0 340.3 L240.5 343.1 L239.0 345.8 L237.5 348.2 L236.0 350.1 L234.5 350.6 L233.0 348.8 L231.5 346.3 L230.0 343.4 L228.5 340.4 L227.0 337.6 L225.5 335.4 L224.0 333.8 L222.5 335.4 L221.0 337.6 L219.5 340.4 L218.0 343.4 L216.5 346.3 L215.0 348.8 L213.5 350.6 L212.0 350.0 L210.5 347.7 L209.0 344.9 L207.5 341.6 L206.0 338.4 L204.5 335.5 L203.0 333.3 L201.5 332.7 L200.0 334.7 L198.5 337.4 L197.0 340.5 L195.5 343.8 L194.0 346.8 L192.5 349.3 L191.0 351.0 L189.5 349.6 L188.0 347.6 L186.5 345.1 L185.0 342.4 L183.5 339.8 L182.0 337.6 L180.5 336.0 L179.0 336.4 L177.5 338.3 L176.0 340.6 L174.5 343.3 L173.0 345.9 L171.5 348.3 L170.0 350.1 L168.5 350.6 L167.0 349.0 L165.5 346.8 L164.0 344.3 L162.5 341.6 L161.0 339.2 L159.5 337.2 L158.0 335.8 L156.5 337.2 L155.0 339.2 L153.5 341.6 L152.0 344.3 L150.5 346.8 L149.0 349.0 L147.5 350.6 L146.0 350.1 L144.5 348.3 L143.0 345.9 L141.5 343.2 L140.0 340.5 L138.5 338.1 L137.0 336.2 L135.5 335.8 Z" fill="#161616" opacity="0.45" filter="url(#bl2)"/>
<rect x="137.5" y="291" width="112.5" height="2.5" fill="#e6e6e6" opacity="0.75"/>
<path d="M135.5 356.9 L137.0 357.9 L138.5 358.9 L140.0 358.1 L141.5 358.3 L143.0 360.0 L144.5 360.0 L146.0 362.0 L147.5 361.6 L149.0 361.2 L150.5 360.7 L152.0 360.6 L153.5 358.4 L155.0 358.6 L156.5 356.7 L158.0 357.8 L159.5 356.4 L161.0 359.8 L162.5 358.1 L164.0 360.7 L165.5 360.0 L167.0 360.5 L168.5 362.1 L170.0 359.4 L171.5 359.4 L173.0 361.7 L174.5 359.9 L176.0 357.9 L177.5 360.0 L179.0 358.8 L180.5 355.8 L182.0 357.9 L183.5 357.8 L185.0 359.1 L186.5 360.6 L188.0 359.6 L189.5 361.5 L191.0 359.6 L192.5 359.8 L194.0 361.6 L195.5 359.8 L197.0 359.2 L198.5 358.9 L200.0 357.4 L201.5 355.8 L203.0 355.1 L204.5 358.6 L206.0 360.4 L207.5 361.2 L209.0 360.8 L210.5 360.3 L212.0 360.5 L213.5 361.6 L215.0 361.4 L216.5 359.3 L218.0 359.1 L219.5 358.9 L221.0 358.5 L222.5 358.4 L224.0 355.9 L225.5 355.9 L227.0 359.5 L228.5 359.1 L230.0 360.0 L231.5 359.6 L233.0 360.6 L234.5 360.6 L236.0 361.8 L237.5 359.5 L239.0 360.6 L240.5 358.8 L242.0 359.8 L243.5 356.9 L245.0 356.6 L246.5 356.4 L248.0 358.5 L249.5 357.5 L251.0 359.5 L252.5 359.3 L254.0 360.0 L252.0 369.5 L135.5 369.5 Z" fill="#f6f6f6" opacity="0.94" filter="url(#bl2)"/>
<clipPath id="bc2"><path d="M135.5 356.9 L137.0 357.9 L138.5 358.9 L140.0 358.1 L141.5 358.3 L143.0 360.0 L144.5 360.0 L146.0 362.0 L147.5 361.6 L149.0 361.2 L150.5 360.7 L152.0 360.6 L153.5 358.4 L155.0 358.6 L156.5 356.7 L158.0 357.8 L159.5 356.4 L161.0 359.8 L162.5 358.1 L164.0 360.7 L165.5 360.0 L167.0 360.5 L168.5 362.1 L170.0 359.4 L171.5 359.4 L173.0 361.7 L174.5 359.9 L176.0 357.9 L177.5 360.0 L179.0 358.8 L180.5 355.8 L182.0 357.9 L183.5 357.8 L185.0 359.1 L186.5 360.6 L188.0 359.6 L189.5 361.5 L191.0 359.6 L192.5 359.8 L194.0 361.6 L195.5 359.8 L197.0 359.2 L198.5 358.9 L200.0 357.4 L201.5 355.8 L203.0 355.1 L204.5 358.6 L206.0 360.4 L207.5 361.2 L209.0 360.8 L210.5 360.3 L212.0 360.5 L213.5 361.6 L215.0 361.4 L216.5 359.3 L218.0 359.1 L219.5 358.9 L221.0 358.5 L222.5 358.4 L224.0 355.9 L225.5 355.9 L227.0 359.5 L228.5 359.1 L230.0 360.0 L231.5 359.6 L233.0 360.6 L234.5 360.6 L236.0 361.8 L237.5 359.5 L239.0 360.6 L240.5 358.8 L242.0 359.8 L243.5 356.9 L245.0 356.6 L246.5 356.4 L248.0 358.5 L249.5 357.5 L251.0 359.5 L252.5 359.3 L254.0 360.0 L252.0 369.5 L135.5 369.5 Z"/></clipPath>
<rect x="137.5" y="291" width="112.5" height="76.5" filter="url(#dk2)" clip-path="url(#bc2)" opacity="0.2"/>
<g filter="url(#bl2)" fill="none" stroke-linecap="round"><path d="M135.5 318.4L137.0 318.4M177.5 317.1L179.0 317.9M200.0 318.8L201.5 320.1M245.0 318.0L246.5 318.6M201.5 335.5L203.0 336.3M222.5 338.2L224.0 336.5" stroke="#fff" stroke-width="2.0" stroke-opacity="0.625"/><path d="M137.0 318.4L138.5 317.2M176.0 315.6L177.5 317.1M180.5 318.5L182.0 317.3M182.0 317.3L183.5 315.8M197.0 315.7L198.5 317.3M198.5 317.3L200.0 318.8M203.0 319.9L204.5 318.1M219.5 315.6L221.0 317.5M221.0 317.5L222.5 318.7M225.5 318.8L227.0 317.1M137.0 339.5L138.5 340.9M153.5 344.9L155.0 342.3M159.5 340.3L161.0 342.0M176.0 343.7L177.5 341.2M180.5 339.1L182.0 340.9M197.0 343.9L198.5 340.5M203.0 336.3L204.5 338.3M242.0 343.5L243.5 341.2M246.5 338.7L248.0 340.5M248.0 340.5L249.5 342.4M200.0 342.7L201.5 340.8M156.5 349.6L158.0 348.5M200.0 347.4L201.5 345.4M222.5 347.9L224.0 346.2M245.0 348.2L246.5 348.3M156.5 354.5L158.0 353.1M179.0 353.9L180.5 352.9M222.5 352.4L224.0 351.5M245.0 353.4L246.5 353.1" stroke="#fff" stroke-width="1.75" stroke-opacity="0.375"/><path d="M138.5 317.2L140.0 315.8M140.0 315.8L141.5 313.9M152.0 313.2L153.5 315.1M161.0 316.0L162.5 315.2M162.5 315.2L164.0 313.8M164.0 313.8L165.5 312.2M173.0 312.4L174.5 314.4M185.0 314.6L186.5 313.2M194.0 312.0L195.5 314.0M204.5 318.1L206.0 316.9M206.0 316.9L207.5 315.1M218.0 313.9L219.5 315.6M227.0 317.1L228.5 315.9M228.5 315.9L230.0 314.0M230.0 314.0L231.5 312.4M240.5 313.9L242.0 315.7M249.5 316.0L251.0 314.8M135.5 313.6L137.0 313.4M155.0 311.4L156.5 312.3M156.5 312.3L158.0 313.2M158.0 313.2L159.5 312.4M177.5 312.4L179.0 313.3M179.0 313.3L180.5 313.7M180.5 313.7L182.0 312.4M198.5 312.5L200.0 314.1M200.0 314.1L201.5 315.1M201.5 315.1L203.0 314.5M221.0 312.5L222.5 313.5M222.5 313.5L224.0 314.5M224.0 314.5L225.5 313.4M243.5 312.2L245.0 313.6M245.0 313.6L246.5 313.5M246.5 313.5L248.0 312.6M149.0 351.8L150.5 349.5M161.0 342.0L162.5 344.6M173.0 349.2L174.5 346.4M174.5 346.4L176.0 343.7M185.0 345.5L186.5 348.1M194.0 349.7L195.5 346.6M204.5 338.3L206.0 341.7M206.0 341.7L207.5 344.8M207.5 344.8L209.0 347.7M215.0 351.6L216.5 349.6M218.0 346.3L219.5 343.2M237.5 351.2L239.0 348.5M203.0 341.2L204.5 343.5M219.5 348.3L221.0 345.6M242.0 348.1L243.5 345.3M248.0 344.7L249.5 347.2M153.5 353.9L155.0 351.0M159.5 349.9L161.0 351.4M182.0 349.9L183.5 352.1M197.0 352.6L198.5 350.0M203.0 346.2L204.5 348.0M224.0 346.2L225.5 348.1M225.5 348.1L227.0 350.1M242.0 352.5L243.5 350.1M248.0 349.3L249.5 351.7M135.5 352.8L137.0 353.7M137.0 353.7L138.5 354.9M153.5 357.8L155.0 355.9M155.0 355.9L156.5 354.5M158.0 353.1L159.5 354.4M159.5 354.4L161.0 355.8M176.0 356.9L177.5 355.2M177.5 355.2L179.0 353.9M180.5 352.9L182.0 354.9M182.0 354.9L183.5 356.8M197.0 356.8L198.5 354.7M198.5 354.7L200.0 352.3M201.5 350.8L203.0 351.2M203.0 351.2L204.5 353.1M219.5 357.2L221.0 354.4M221.0 354.4L222.5 352.4M224.0 351.5L225.5 352.8M225.5 352.8L227.0 354.3M242.0 357.1L243.5 354.5M243.5 354.5L245.0 353.4M246.5 353.1L248.0 354.5M248.0 354.5L249.5 356.3" stroke="#fff" stroke-width="1.5" stroke-opacity="0.25"/><path d="M141.5 313.9L143.0 312.9M149.0 310.9L150.5 312.5M150.5 312.5L152.0 313.2M171.5 311.5L173.0 312.4M183.5 315.8L185.0 314.6M195.5 314.0L197.0 315.7M207.5 315.1L209.0 313.2M215.0 310.9L216.5 312.1M216.5 312.1L218.0 313.9M237.5 311.2L239.0 312.6M239.0 312.6L240.5 313.9M135.5 306.5L137.0 307.1M155.0 305.4L156.5 306.4M156.5 306.4L158.0 306.6M158.0 306.6L159.5 305.6M177.5 305.4L179.0 307.1M179.0 307.1L180.5 306.8M180.5 306.8L182.0 305.6M198.5 306.3L200.0 307.8M200.0 307.8L201.5 308.1M201.5 308.1L203.0 307.7M221.0 305.6L222.5 307.1M222.5 307.1L224.0 308.0M224.0 308.0L225.5 307.7M243.5 306.6L245.0 306.4M245.0 306.4L246.5 306.6M246.5 306.6L248.0 305.6" stroke="#fff" stroke-width="1.5" stroke-opacity="0.125"/><path d="M143.0 312.9L144.5 311.1M147.5 309.5L149.0 310.9M186.5 313.2L188.0 311.9M192.5 310.4L194.0 312.0M213.5 309.7L215.0 310.9M231.5 312.4L233.0 311.1M137.0 313.4L138.5 312.2M138.5 312.2L140.0 310.9M140.0 310.9L141.5 309.6M152.0 309.0L153.5 310.6M153.5 310.6L155.0 311.4M173.0 308.4L174.5 309.5M176.0 311.0L177.5 312.4M182.0 312.4L183.5 311.4M195.5 309.7L197.0 310.8M203.0 314.5L204.5 313.5M204.5 313.5L206.0 312.4M219.5 311.0L221.0 312.5M225.5 313.4L227.0 312.7M227.0 312.7L228.5 310.8M239.0 308.4L240.5 309.5M240.5 309.5L242.0 310.8M242.0 310.8L243.5 312.2M143.0 348.8L144.5 351.1M147.5 353.7L149.0 351.8M188.0 350.9L189.5 352.9M192.5 352.1L194.0 349.7M212.0 353.2L213.5 353.3M231.5 349.6L233.0 351.5M236.0 352.9L237.5 351.2M138.5 345.4L140.0 347.9M141.5 350.4L143.0 352.9M143.0 352.9L144.5 355.1M149.0 356.0L150.5 353.9M150.5 353.9L152.0 351.6M152.0 351.6L153.5 348.8M162.5 348.9L164.0 351.6M170.0 357.1L171.5 355.2M171.5 355.2L173.0 353.2M173.0 353.2L174.5 350.5M174.5 350.5L176.0 348.1M194.0 354.0L195.5 351.2M204.5 343.5L206.0 345.8M206.0 345.8L207.5 349.2M209.0 352.2L210.5 354.8M215.0 356.0L216.5 353.9M218.0 350.9L219.5 348.3M228.5 348.0L230.0 350.4M236.0 357.4L237.5 355.6M237.5 355.6L239.0 353.0M239.0 353.0L240.5 350.1M240.5 350.1L242.0 348.1M138.5 350.6L140.0 352.7M140.0 352.7L141.5 355.0M141.5 355.0L143.0 357.4M143.0 357.4L144.5 359.7M149.0 360.3L150.5 358.1M150.5 358.1L152.0 355.9M152.0 355.9L153.5 353.9M161.0 351.4L162.5 353.4M162.5 353.4L164.0 355.6M164.0 355.6L165.5 358.5M170.0 361.4L171.5 359.6M171.5 359.6L173.0 357.7M173.0 357.7L174.5 354.8M174.5 354.8L176.0 352.6M183.5 352.1L185.0 354.4M185.0 354.4L186.5 356.4M186.5 356.4L188.0 358.7M192.5 360.2L194.0 358.1M194.0 358.1L195.5 355.7M195.5 355.7L197.0 352.6M204.5 348.0L206.0 350.9M206.0 350.9L207.5 353.3M207.5 353.3L209.0 356.7M209.0 356.7L210.5 359.3M215.0 359.7L216.5 358.0M216.5 358.0L218.0 355.3M218.0 355.3L219.5 352.5M227.0 350.1L228.5 352.7M228.5 352.7L230.0 355.0M230.0 355.0L231.5 358.0M236.0 361.2L237.5 359.8M237.5 359.8L239.0 357.4M239.0 357.4L240.5 354.8M240.5 354.8L242.0 352.5M249.5 351.7L251.0 353.7M140.0 356.8L141.5 359.4M141.5 359.4L143.0 361.6M149.0 364.4L150.5 362.2M150.5 362.2L152.0 360.4M152.0 360.4L153.5 357.8M162.5 358.1L164.0 360.6M183.5 356.8L185.0 358.8M185.0 358.8L186.5 360.6M195.5 360.0L197.0 356.8M204.5 353.1L206.0 355.6M206.0 355.6L207.5 358.3M209.0 360.7L210.5 363.5M215.0 363.8L216.5 361.8M218.0 359.3L219.5 357.2M227.0 354.3L228.5 356.8M228.5 356.8L230.0 359.5M236.0 365.2L237.5 363.9M237.5 363.9L239.0 361.9M240.5 359.3L242.0 357.1" stroke="#fff" stroke-width="1.25" stroke-opacity="0.25"/><path d="M144.5 311.1L146.0 310.0M146.0 310.0L147.5 309.5M165.5 312.2L167.0 310.7M167.0 310.7L168.5 309.6M168.5 309.6L170.0 310.3M170.0 310.3L171.5 311.5M188.0 311.9L189.5 310.8M189.5 310.8L191.0 309.7M191.0 309.7L192.5 310.4M209.0 313.2L210.5 311.6M210.5 311.6L212.0 310.0M212.0 310.0L213.5 309.7M233.0 311.1L234.5 309.9M234.5 309.9L236.0 310.0M236.0 310.0L237.5 311.2M159.5 312.4L161.0 311.4M161.0 311.4L162.5 310.2M174.5 309.5L176.0 311.0M183.5 311.4L185.0 310.3M197.0 310.8L198.5 312.5M206.0 312.4L207.5 310.8M218.0 309.8L219.5 311.0M248.0 312.6L249.5 311.6M249.5 311.6L251.0 310.3M137.0 307.1L138.5 306.1M138.5 306.1L140.0 304.8M140.0 304.8L141.5 304.2M152.0 303.6L153.5 304.4M153.5 304.4L155.0 305.4M159.5 305.6L161.0 305.8M161.0 305.8L162.5 305.0M173.0 303.0L174.5 303.7M174.5 303.7L176.0 305.4M176.0 305.4L177.5 305.4M182.0 305.6L183.5 305.5M183.5 305.5L185.0 304.5M195.5 303.3L197.0 305.4M197.0 305.4L198.5 306.3M203.0 307.7L204.5 306.3M204.5 306.3L206.0 305.8M206.0 305.8L207.5 305.0M218.0 303.0L219.5 304.4M219.5 304.4L221.0 305.6M225.5 307.7L227.0 305.9M227.0 305.9L228.5 304.6M239.0 302.6L240.5 303.5M240.5 303.5L242.0 305.0M242.0 305.0L243.5 306.6M248.0 305.6L249.5 305.9M249.5 305.9L251.0 304.5M138.5 354.9L140.0 356.8M143.0 361.6L144.5 363.5M161.0 355.8L162.5 358.1M164.0 360.6L165.5 362.6M170.0 365.0L171.5 364.0M171.5 364.0L173.0 361.6M173.0 361.6L174.5 359.7M174.5 359.7L176.0 356.9M186.5 360.6L188.0 362.7M192.5 364.4L194.0 362.1M194.0 362.1L195.5 360.0M207.5 358.3L209.0 360.7M216.5 361.8L218.0 359.3M230.0 359.5L231.5 362.2M239.0 361.9L240.5 359.3M249.5 356.3L251.0 358.4" stroke="#fff" stroke-width="1.25" stroke-opacity="0.125"/><path d="M153.5 315.1L155.0 316.4M159.5 317.8L161.0 316.0M248.0 317.7L249.5 316.0M200.0 352.3L201.5 350.8" stroke="#fff" stroke-width="1.75" stroke-opacity="0.25"/><path d="M155.0 316.4L156.5 317.5M224.0 319.6L225.5 318.8M242.0 315.7L243.5 316.7M246.5 318.6L248.0 317.7M155.0 342.3L156.5 340.4M158.0 339.1L159.5 340.3M182.0 340.9L183.5 342.5M198.5 340.5L200.0 337.4M219.5 343.2L221.0 340.5M221.0 340.5L222.5 338.2M224.0 336.5L225.5 338.1M225.5 338.1L227.0 340.8M156.5 345.2L158.0 343.7M179.0 343.9L180.5 343.9M245.0 344.1L246.5 343.4M179.0 348.6L180.5 348.3" stroke="#fff" stroke-width="1.75" stroke-opacity="0.5"/><path d="M156.5 317.5L158.0 318.5M179.0 317.9L180.5 318.5M243.5 316.7L245.0 318.0M156.5 340.4L158.0 339.1" stroke="#fff" stroke-width="2.0" stroke-opacity="0.75"/><path d="M158.0 318.5L159.5 317.8M222.5 343.5L224.0 341.5" stroke="#fff" stroke-width="1.75" stroke-opacity="0.625"/><path d="M174.5 314.4L176.0 315.6M138.5 340.9L140.0 343.7M140.0 343.7L141.5 346.5M141.5 346.5L143.0 348.8M150.5 349.5L152.0 347.3M152.0 347.3L153.5 344.9M162.5 344.6L164.0 347.1M164.0 347.1L165.5 349.6M171.5 351.1L173.0 349.2M183.5 342.5L185.0 345.5M195.5 346.6L197.0 343.9M216.5 349.6L218.0 346.3M228.5 343.4L230.0 346.3M230.0 346.3L231.5 349.6M239.0 348.5L240.5 345.9M240.5 345.9L242.0 343.5M249.5 342.4L251.0 345.3M137.0 343.8L138.5 345.4M153.5 348.8L155.0 347.1M159.5 344.6L161.0 346.9M176.0 348.1L177.5 345.6M180.5 343.9L182.0 345.6M182.0 345.6L183.5 347.3M197.0 348.0L198.5 345.1M198.5 345.1L200.0 342.7M201.5 340.8L203.0 341.2M224.0 341.5L225.5 343.2M225.5 343.2L227.0 345.4M243.5 345.3L245.0 344.1M246.5 343.4L248.0 344.7M135.5 348.1L137.0 348.7M137.0 348.7L138.5 350.6M155.0 351.0L156.5 349.6M158.0 348.5L159.5 349.9M176.0 352.6L177.5 350.8M177.5 350.8L179.0 348.6M180.5 348.3L182.0 349.9M198.5 350.0L200.0 347.4M201.5 345.4L203.0 346.2M219.5 352.5L221.0 350.0M221.0 350.0L222.5 347.9M243.5 350.1L245.0 348.2M246.5 348.3L248.0 349.3" stroke="#fff" stroke-width="1.5" stroke-opacity="0.375"/><path d="M201.5 320.1L203.0 319.9M179.0 339.2L180.5 339.1M200.0 337.4L201.5 335.5M243.5 341.2L245.0 339.1" stroke="#fff" stroke-width="2.0" stroke-opacity="0.5"/><path d="M222.5 318.7L224.0 319.6" stroke="#fff" stroke-width="2.0" stroke-opacity="0.875"/><path d="M141.5 309.6L143.0 308.5M143.0 308.5L144.5 306.9M150.5 307.7L152.0 309.0M171.5 307.2L173.0 308.4M185.0 310.3L186.5 308.4M186.5 308.4L188.0 307.2M188.0 307.2L189.5 306.0M194.0 308.2L195.5 309.7M210.5 307.5L212.0 305.9M215.0 307.1L216.5 308.0M230.0 309.3L231.5 308.2M233.0 306.9L234.5 305.9M234.5 305.9L236.0 306.0M236.0 306.0L237.5 307.5M141.5 304.2L143.0 302.1M143.0 302.1L144.5 301.7M144.5 301.7L146.0 300.8M146.0 300.8L147.5 300.6M147.5 300.6L149.0 301.1M149.0 301.1L150.5 302.0M150.5 302.0L152.0 303.6M162.5 305.0L164.0 302.8M164.0 302.8L165.5 302.0M165.5 302.0L167.0 300.9M167.0 300.9L168.5 300.0M168.5 300.0L170.0 300.3M170.0 300.3L171.5 301.1M171.5 301.1L173.0 303.0M185.0 304.5L186.5 303.0M186.5 303.0L188.0 301.3M188.0 301.3L189.5 300.6M189.5 300.6L191.0 301.0M191.0 301.0L192.5 301.0M192.5 301.0L194.0 302.1M194.0 302.1L195.5 303.3M207.5 305.0L209.0 302.8M209.0 302.8L210.5 302.1M210.5 302.1L212.0 301.3M212.0 301.3L213.5 301.2M213.5 301.2L215.0 301.2M215.0 301.2L216.5 301.8M216.5 301.8L218.0 303.0M228.5 304.6L230.0 303.9M230.0 303.9L231.5 302.8M231.5 302.8L233.0 301.1M233.0 301.1L234.5 300.6M234.5 300.6L236.0 300.1M236.0 300.1L237.5 301.4M237.5 301.4L239.0 302.6M147.5 361.9L149.0 360.3M167.0 360.3L168.5 361.8M144.5 363.5L146.0 365.5M146.0 365.5L147.5 365.5M147.5 365.5L149.0 364.4M188.0 362.7L189.5 364.9M189.5 364.9L191.0 365.9M210.5 363.5L212.0 365.2M212.0 365.2L213.5 365.3M213.5 365.3L215.0 363.8M231.5 362.2L233.0 364.0M234.5 365.4L236.0 365.2" stroke="#fff" stroke-width="1.0" stroke-opacity="0.125"/><path d="M144.5 306.9L146.0 306.4M146.0 306.4L147.5 305.5M147.5 305.5L149.0 307.0M149.0 307.0L150.5 307.7M162.5 310.2L164.0 309.3M164.0 309.3L165.5 307.6M165.5 307.6L167.0 306.7M167.0 306.7L168.5 305.8M168.5 305.8L170.0 306.3M170.0 306.3L171.5 307.2M189.5 306.0L191.0 305.2M191.0 305.2L192.5 306.7M192.5 306.7L194.0 308.2M207.5 310.8L209.0 308.8M209.0 308.8L210.5 307.5M212.0 305.9L213.5 305.8M213.5 305.8L215.0 307.1M216.5 308.0L218.0 309.8M228.5 310.8L230.0 309.3M231.5 308.2L233.0 306.9M237.5 307.5L239.0 308.4M146.0 357.3L147.5 357.3M147.5 357.3L149.0 356.0M165.5 353.8L167.0 356.2M168.5 357.3L170.0 357.1M191.0 358.3L192.5 356.4M210.5 354.8L212.0 357.1M212.0 357.1L213.5 357.5M213.5 357.5L215.0 356.0M231.5 353.7L233.0 355.9M233.0 355.9L234.5 357.3M234.5 357.3L236.0 357.4M144.5 359.7L146.0 361.0M146.0 361.0L147.5 361.9M165.5 358.5L167.0 360.3M168.5 361.8L170.0 361.4M188.0 358.7L189.5 360.7M189.5 360.7L191.0 362.2M191.0 362.2L192.5 360.2M210.5 359.3L212.0 360.9M212.0 360.9L213.5 361.4M213.5 361.4L215.0 359.7M231.5 358.0L233.0 360.1M233.0 360.1L234.5 361.7M234.5 361.7L236.0 361.2M165.5 362.6L167.0 364.5M167.0 364.5L168.5 365.9M168.5 365.9L170.0 365.0M191.0 365.9L192.5 364.4M233.0 364.0L234.5 365.4" stroke="#fff" stroke-width="1.0" stroke-opacity="0.25"/><path d="M135.5 338.5L137.0 339.5M177.5 341.2L179.0 339.2M245.0 339.1L246.5 338.7" stroke="#fff" stroke-width="2.0" stroke-opacity="0.375"/><path d="M144.5 351.1L146.0 353.5M146.0 353.5L147.5 353.7M165.5 349.6L167.0 351.9M167.0 351.9L168.5 353.7M168.5 353.7L170.0 353.1M170.0 353.1L171.5 351.1M186.5 348.1L188.0 350.9M189.5 352.9L191.0 353.8M191.0 353.8L192.5 352.1M209.0 347.7L210.5 350.7M210.5 350.7L212.0 353.2M213.5 353.3L215.0 351.6M233.0 351.5L234.5 353.7M234.5 353.7L236.0 352.9M140.0 347.9L141.5 350.4M161.0 346.9L162.5 348.9M164.0 351.6L165.5 353.8M183.5 347.3L185.0 349.5M185.0 349.5L186.5 352.1M186.5 352.1L188.0 354.9M192.5 356.4L194.0 354.0M195.5 351.2L197.0 348.0M207.5 349.2L209.0 352.2M216.5 353.9L218.0 350.9M227.0 345.4L228.5 348.0M230.0 350.4L231.5 353.7M249.5 347.2L251.0 349.4" stroke="#fff" stroke-width="1.25" stroke-opacity="0.375"/><path d="M227.0 340.8L228.5 343.4M135.5 343.4L137.0 343.8M155.0 347.1L156.5 345.2M158.0 343.7L159.5 344.6M177.5 345.6L179.0 343.9M221.0 345.6L222.5 343.5" stroke="#fff" stroke-width="1.5" stroke-opacity="0.5"/><path d="M144.5 355.1L146.0 357.3M167.0 356.2L168.5 357.3M188.0 354.9L189.5 356.4M189.5 356.4L191.0 358.3" stroke="#fff" stroke-width="1.0" stroke-opacity="0.375"/></g>
</g>
<rect x="137.5" y="291" width="112.5" height="76.5" fill="none" stroke="#707070" stroke-width="1"/>
<g clip-path="url(#ec3)">
<rect x="22.5" y="388" width="113.5" height="77.5" fill="#1b1b1b"/>
<rect x="22.5" y="388" width="113.5" height="77.5" filter="url(#sp3)" mask="url(#mk3)"/>
<path d="M20.5 415.6 L22.0 415.3 L23.5 413.9 L25.0 412.4 L26.5 410.8 L28.0 409.1 L29.5 407.5 L31.0 406.1 L32.5 405.0 L34.0 406.3 L35.5 407.8 L37.0 409.5 L38.5 411.4 L40.0 413.2 L41.5 414.9 L43.0 416.4 L44.5 416.8 L46.0 415.4 L47.5 413.8 L49.0 412.0 L50.5 410.2 L52.0 408.4 L53.5 406.7 L55.0 405.4 L56.5 405.7 L58.0 407.0 L59.5 408.5 L61.0 410.1 L62.5 411.7 L64.0 413.2 L65.5 414.5 L67.0 415.6 L68.5 414.5 L70.0 413.2 L71.5 411.7 L73.0 410.1 L74.5 408.5 L76.0 407.0 L77.5 405.7 L79.0 405.4 L80.5 406.6 L82.0 408.1 L83.5 409.8 L85.0 411.5 L86.5 413.1 L88.0 414.6 L89.5 415.9 L91.0 415.5 L92.5 414.1 L94.0 412.6 L95.5 410.9 L97.0 409.2 L98.5 407.6 L100.0 406.2 L101.5 405.0 L103.0 406.2 L104.5 407.7 L106.0 409.4 L107.5 411.2 L109.0 412.9 L110.5 414.6 L112.0 416.0 L113.5 416.4 L115.0 415.1 L116.5 413.5 L118.0 411.8 L119.5 410.0 L121.0 408.2 L122.5 406.7 L124.0 405.4 L125.5 405.7 L127.0 406.9 L128.5 408.3 L130.0 409.9 L131.5 411.4 L133.0 412.9 L134.5 414.2 L136.0 415.3 L137.5 414.2 L139.0 412.9 L139.0 433.1 L137.5 430.1 L136.0 428.1 L134.5 430.1 L133.0 433.1 L131.5 436.7 L130.0 440.7 L128.5 444.6 L127.0 448.1 L125.5 450.7 L124.0 451.3 L122.5 448.6 L121.0 444.9 L119.5 440.6 L118.0 436.0 L116.5 431.7 L115.0 428.0 L113.5 425.2 L112.0 426.0 L110.5 429.1 L109.0 433.1 L107.5 437.5 L106.0 442.1 L104.5 446.2 L103.0 449.6 L101.5 452.0 L100.0 449.8 L98.5 446.5 L97.0 442.5 L95.5 438.2 L94.0 433.9 L92.5 430.2 L91.0 427.2 L89.5 426.5 L88.0 429.1 L86.5 432.6 L85.0 436.7 L83.5 441.1 L82.0 445.3 L80.5 448.8 L79.0 451.4 L77.5 450.7 L76.0 447.9 L74.5 444.3 L73.0 440.3 L71.5 436.1 L70.0 432.4 L68.5 429.3 L67.0 427.2 L65.5 429.3 L64.0 432.4 L62.5 436.1 L61.0 440.3 L59.5 444.3 L58.0 447.9 L56.5 450.7 L55.0 451.3 L53.5 448.5 L52.0 444.7 L50.5 440.2 L49.0 435.4 L47.5 430.9 L46.0 427.1 L44.5 424.3 L43.0 425.1 L41.5 428.3 L40.0 432.4 L38.5 437.0 L37.0 441.7 L35.5 446.0 L34.0 449.6 L32.5 452.0 L31.0 449.8 L29.5 446.6 L28.0 442.7 L26.5 438.5 L25.0 434.3 L23.5 430.6 L22.0 427.7 L20.5 427.0 Z" fill="#161616" opacity="0.45" filter="url(#bl3)"/>
<rect x="22.5" y="388" width="113.5" height="2.5" fill="#e6e6e6" opacity="0.75"/>
<path d="M20.5 451.8 L22.0 453.4 L23.5 454.0 L25.0 455.0 L26.5 453.3 L28.0 453.7 L29.5 453.7 L31.0 454.1 L32.5 455.7 L34.0 453.8 L35.5 454.9 L37.0 453.6 L38.5 453.5 L40.0 453.5 L41.5 454.3 L43.0 452.9 L44.5 450.8 L46.0 452.3 L47.5 452.5 L49.0 455.3 L50.5 455.4 L52.0 455.7 L53.5 456.0 L55.0 455.8 L56.5 456.4 L58.0 455.8 L59.5 453.9 L61.0 455.5 L62.5 454.0 L64.0 454.4 L65.5 453.3 L67.0 452.1 L68.5 452.6 L70.0 453.4 L71.5 453.5 L73.0 453.2 L74.5 455.7 L76.0 455.8 L77.5 456.5 L79.0 455.6 L80.5 455.1 L82.0 455.5 L83.5 453.3 L85.0 454.7 L86.5 453.5 L88.0 452.1 L89.5 451.6 L91.0 452.8 L92.5 452.6 L94.0 453.7 L95.5 454.6 L97.0 454.2 L98.5 453.6 L100.0 454.9 L101.5 454.2 L103.0 454.1 L104.5 453.8 L106.0 454.1 L107.5 452.9 L109.0 454.3 L110.5 454.7 L112.0 452.3 L113.5 453.1 L115.0 454.5 L116.5 452.2 L118.0 452.9 L119.5 455.4 L121.0 455.8 L122.5 455.4 L124.0 453.9 L125.5 454.7 L127.0 456.1 L128.5 455.9 L130.0 455.4 L131.5 453.1 L133.0 454.8 L134.5 452.8 L136.0 453.1 L137.5 452.0 L139.0 455.2 L140.5 454.4 L138.0 467.5 L20.5 467.5 Z" fill="#f6f6f6" opacity="0.94" filter="url(#bl3)"/>
<clipPath id="bc3"><path d="M20.5 451.8 L22.0 453.4 L23.5 454.0 L25.0 455.0 L26.5 453.3 L28.0 453.7 L29.5 453.7 L31.0 454.1 L32.5 455.7 L34.0 453.8 L35.5 454.9 L37.0 453.6 L38.5 453.5 L40.0 453.5 L41.5 454.3 L43.0 452.9 L44.5 450.8 L46.0 452.3 L47.5 452.5 L49.0 455.3 L50.5 455.4 L52.0 455.7 L53.5 456.0 L55.0 455.8 L56.5 456.4 L58.0 455.8 L59.5 453.9 L61.0 455.5 L62.5 454.0 L64.0 454.4 L65.5 453.3 L67.0 452.1 L68.5 452.6 L70.0 453.4 L71.5 453.5 L73.0 453.2 L74.5 455.7 L76.0 455.8 L77.5 456.5 L79.0 455.6 L80.5 455.1 L82.0 455.5 L83.5 453.3 L85.0 454.7 L86.5 453.5 L88.0 452.1 L89.5 451.6 L91.0 452.8 L92.5 452.6 L94.0 453.7 L95.5 454.6 L97.0 454.2 L98.5 453.6 L100.0 454.9 L101.5 454.2 L103.0 454.1 L104.5 453.8 L106.0 454.1 L107.5 452.9 L109.0 454.3 L110.5 454.7 L112.0 452.3 L113.5 453.1 L115.0 454.5 L116.5 452.2 L118.0 452.9 L119.5 455.4 L121.0 455.8 L122.5 455.4 L124.0 453.9 L125.5 454.7 L127.0 456.1 L128.5 455.9 L130.0 455.4 L131.5 453.1 L133.0 454.8 L134.5 452.8 L136.0 453.1 L137.5 452.0 L139.0 455.2 L140.5 454.4 L138.0 467.5 L20.5 467.5 Z"/></clipPath>
<rect x="22.5" y="388" width="113.5" height="77.5" filter="url(#dk3)" clip-path="url(#bc3)" opacity="0.2"/>
<g filter="url(#bl3)" fill="none" stroke-linecap="round"><path d="M20.5 412.8L22.0 412.1M41.5 411.6L43.0 413.3M43.0 413.3L44.5 413.4M88.0 411.9L89.5 412.8M89.5 412.8L91.0 412.4M110.5 411.7L112.0 413.3M65.5 432.4L67.0 430.3" stroke="#fff" stroke-width="2.0" stroke-opacity="0.625"/><path d="M22.0 412.1L23.5 411.0M40.0 410.1L41.5 411.6M64.0 410.3L65.5 411.7M86.5 409.8L88.0 411.9M91.0 412.4L92.5 410.9M115.0 412.3L116.5 410.4M131.5 408.4L133.0 409.9M133.0 409.9L134.5 411.2M40.0 435.3L41.5 431.4M46.0 430.3L47.5 434.2M64.0 435.3L65.5 432.4M109.0 436.1L110.5 431.8M131.5 439.4L133.0 436.1M133.0 436.1L134.5 432.9M41.5 435.2L43.0 432.6M43.0 432.6L44.5 431.9M65.5 436.2L67.0 434.1M88.0 436.2L89.5 433.8M89.5 433.8L91.0 434.4M110.5 435.9L112.0 433.6M41.5 439.4L43.0 437.1M43.0 437.1L44.5 435.9M65.5 440.4L67.0 438.9M88.0 440.2L89.5 437.7M110.5 440.7L112.0 437.7M134.5 441.3L136.0 439.4M43.0 440.9L44.5 440.5" stroke="#fff" stroke-width="1.75" stroke-opacity="0.375"/><path d="M23.5 411.0L25.0 409.3M25.0 409.3L26.5 407.7M26.5 407.7L28.0 405.9M35.5 404.7L37.0 406.2M37.0 406.2L38.5 408.1M38.5 408.1L40.0 410.1M47.5 410.8L49.0 409.1M49.0 409.1L50.5 406.8M59.5 405.2L61.0 406.7M61.0 406.7L62.5 408.4M70.0 410.2L71.5 408.9M82.0 404.8L83.5 406.6M83.5 406.6L85.0 408.5M94.0 409.7L95.5 407.9M95.5 407.9L97.0 406.1M107.5 407.9L109.0 410.1M116.5 410.4L118.0 408.5M128.5 405.6L130.0 407.2M130.0 407.2L131.5 408.4M20.5 407.2L22.0 407.5M41.5 406.9L43.0 408.2M43.0 408.2L44.5 408.5M44.5 408.5L46.0 407.1M64.0 405.3L65.5 406.6M67.0 407.5L68.5 406.5M86.5 405.6L88.0 406.4M88.0 406.4L89.5 407.5M89.5 407.5L91.0 407.2M110.5 406.4L112.0 407.9M112.0 407.9L113.5 408.5M133.0 405.3L134.5 406.2M134.5 406.2L136.0 407.0M136.0 407.0L137.5 406.3M23.5 433.5L25.0 437.5M35.5 448.7L37.0 444.6M47.5 434.2L49.0 438.5M49.0 438.5L50.5 443.0M58.0 451.1L59.5 447.4M71.5 438.9L73.0 443.3M73.0 443.3L74.5 447.6M94.0 437.0L95.5 441.3M95.5 441.3L97.0 445.5M107.5 440.3L109.0 436.1M116.5 434.7L118.0 439.1M118.0 439.1L119.5 443.4M22.0 434.6L23.5 437.4M44.5 431.9L46.0 434.1M46.0 434.1L47.5 438.0M68.5 436.6L70.0 439.5M91.0 434.4L92.5 437.5M109.0 440.1L110.5 435.9M115.0 435.3L116.5 438.7M131.5 443.5L133.0 439.9M22.0 439.0L23.5 441.6M40.0 443.3L41.5 439.4M44.5 435.9L46.0 438.6M46.0 438.6L47.5 442.0M62.5 447.0L64.0 443.3M64.0 443.3L65.5 440.4M67.0 438.9L68.5 440.3M68.5 440.3L70.0 443.3M85.0 447.3L86.5 443.4M86.5 443.4L88.0 440.2M109.0 444.0L110.5 440.7M113.5 436.8L115.0 439.4M115.0 439.4L116.5 442.4M131.5 447.6L133.0 444.0M133.0 444.0L134.5 441.3M136.0 439.4L137.5 441.3M22.0 443.1L23.5 446.1M40.0 447.7L41.5 444.0M44.5 440.5L46.0 443.0M46.0 443.0L47.5 446.3M62.5 450.6L64.0 447.3M64.0 447.3L65.5 444.8M67.0 442.8L68.5 444.4M68.5 444.4L70.0 447.5M86.5 447.8L88.0 444.2M91.0 442.9L92.5 445.1M133.0 448.0L134.5 445.7M136.0 443.8L137.5 445.7M64.0 451.6L65.5 448.7M86.5 451.5L88.0 448.6M136.0 447.8L137.5 449.6" stroke="#fff" stroke-width="1.5" stroke-opacity="0.25"/><path d="M28.0 405.9L29.5 404.3M29.5 404.3L31.0 402.8M31.0 402.8L32.5 402.0M32.5 402.0L34.0 402.9M34.0 402.9L35.5 404.7M52.0 405.7L53.5 403.6M53.5 403.6L55.0 402.6M55.0 402.6L56.5 402.8M56.5 402.8L58.0 403.8M74.5 405.3L76.0 403.7M76.0 403.7L77.5 402.6M79.0 402.6L80.5 403.3M98.5 404.7L100.0 403.4M100.0 403.4L101.5 401.7M101.5 401.7L103.0 403.4M121.0 405.1L122.5 403.7M122.5 403.7L124.0 402.0M38.5 403.6L40.0 405.5M40.0 405.5L41.5 406.9M47.5 405.9L49.0 404.5M71.5 404.3L73.0 402.5M83.5 402.2L85.0 404.1M92.5 406.1L94.0 404.6M94.0 404.6L95.5 403.4M115.0 407.2L116.5 405.8M130.0 402.0L131.5 403.5M28.0 452.5L29.5 456.2M34.0 458.7L35.5 455.5M35.5 455.5L37.0 451.6M37.0 451.6L38.5 447.7M74.5 454.4L76.0 457.4M104.5 456.1L106.0 451.8M125.5 460.0L127.0 457.7M130.0 451.1L131.5 447.6M25.0 448.7L26.5 452.2M26.5 452.2L28.0 456.5M28.0 456.5L29.5 459.1M35.5 459.0L37.0 455.3M47.5 446.3L49.0 449.9M56.5 463.0L58.0 460.5M58.0 460.5L59.5 457.3M59.5 457.3L61.0 453.7M70.0 447.5L71.5 450.7M71.5 450.7L73.0 453.8M73.0 453.8L74.5 457.5M74.5 457.5L76.0 460.8M80.5 461.3L82.0 458.6M82.0 458.6L83.5 455.1M83.5 455.1L85.0 451.1M95.5 452.6L97.0 455.8M97.0 455.8L98.5 459.1M103.0 462.3L104.5 458.9M104.5 458.9L106.0 455.7M106.0 455.7L107.5 451.7M107.5 451.7L109.0 447.9M116.5 447.0L118.0 450.6M119.5 454.6L121.0 457.6M127.0 460.8L128.5 457.8M128.5 457.8L130.0 454.7M130.0 454.7L131.5 451.1M23.5 449.6L25.0 452.7M25.0 452.7L26.5 456.5M26.5 456.5L28.0 459.7M28.0 459.7L29.5 462.4M34.0 465.2L35.5 462.3M35.5 462.3L37.0 458.5M37.0 458.5L38.5 455.1M38.5 455.1L40.0 451.4M47.5 449.9L49.0 453.6M49.0 453.6L50.5 457.9M50.5 457.9L52.0 461.3M56.5 465.7L58.0 463.5M58.0 463.5L59.5 460.9M59.5 460.9L61.0 457.8M61.0 457.8L62.5 454.3M70.0 451.0L71.5 454.3M71.5 454.3L73.0 457.6M73.0 457.6L74.5 460.7M74.5 460.7L76.0 463.5M80.5 464.7L82.0 461.6M82.0 461.6L83.5 458.3M83.5 458.3L85.0 454.9M92.5 449.4L94.0 452.7M94.0 452.7L95.5 456.2M95.5 456.2L97.0 459.5M97.0 459.5L98.5 462.9M103.0 465.2L104.5 462.6M104.5 462.6L106.0 459.0M106.0 459.0L107.5 455.5M107.5 455.5L109.0 452.2M116.5 450.7L118.0 454.3M118.0 454.3L119.5 458.0M119.5 458.0L121.0 461.2M125.5 465.8L127.0 464.0M127.0 464.0L128.5 461.2M128.5 461.2L130.0 457.8M130.0 457.8L131.5 454.8" stroke="#fff" stroke-width="1.25" stroke-opacity="0.125"/><path d="M44.5 413.4L46.0 412.4M67.0 412.6L68.5 411.4M109.0 410.1L110.5 411.7M113.5 413.3L115.0 412.3M136.0 412.2L137.5 411.0M22.0 431.0L23.5 433.5M44.5 427.3L46.0 430.3M67.0 430.3L68.5 432.2M68.5 432.2L70.0 435.1M85.0 439.5L86.5 435.6M86.5 435.6L88.0 431.8M91.0 430.3L92.5 433.3M113.5 428.4L115.0 430.7M136.0 431.2L137.5 432.9M20.5 434.2L22.0 434.6M112.0 433.6L113.5 432.8M134.5 437.1L136.0 435.6" stroke="#fff" stroke-width="1.75" stroke-opacity="0.5"/><path d="M46.0 412.4L47.5 410.8M62.5 408.4L64.0 410.3M68.5 411.4L70.0 410.2M85.0 408.5L86.5 409.8M62.5 439.3L64.0 435.3M115.0 430.7L116.5 434.7M20.5 438.7L22.0 439.0M89.5 437.7L91.0 439.0M112.0 437.7L113.5 436.8M20.5 442.5L22.0 443.1M41.5 444.0L43.0 440.9M65.5 444.8L67.0 442.8M88.0 444.2L89.5 442.3M89.5 442.3L91.0 442.9M110.5 444.5L112.0 441.6M112.0 441.6L113.5 441.5M134.5 445.7L136.0 443.8M41.5 447.9L43.0 445.5M65.5 448.7L67.0 447.0M88.0 448.6L89.5 446.6M112.0 446.3L113.5 445.5M134.5 449.2L136.0 447.8" stroke="#fff" stroke-width="1.75" stroke-opacity="0.25"/><path d="M50.5 406.8L52.0 405.7M77.5 402.6L79.0 402.6M80.5 403.3L82.0 404.8M97.0 406.1L98.5 404.7M103.0 403.4L104.5 404.6M119.5 407.3L121.0 405.1M124.0 402.0L125.5 402.6M125.5 402.6L127.0 403.7M22.0 407.5L23.5 405.8M23.5 405.8L25.0 404.5M25.0 404.5L26.5 403.2M37.0 402.1L38.5 403.6M46.0 407.1L47.5 405.9M59.5 400.8L61.0 402.6M61.0 402.6L62.5 404.2M62.5 404.2L64.0 405.3M68.5 406.5L70.0 405.3M70.0 405.3L71.5 404.3M85.0 404.1L86.5 405.6M91.0 407.2L92.5 406.1M106.0 402.0L107.5 403.3M107.5 403.3L109.0 405.1M109.0 405.1L110.5 406.4M116.5 405.8L118.0 404.3M128.5 400.9L130.0 402.0M131.5 403.5L133.0 405.3M29.5 449.8L31.0 453.0M32.5 455.0L34.0 452.6M52.0 447.7L53.5 451.2M53.5 451.2L55.0 454.5M55.0 454.5L56.5 453.9M56.5 453.9L58.0 451.1M74.5 447.6L76.0 450.9M77.5 453.9L79.0 454.2M80.5 451.7L82.0 448.5M97.0 445.5L98.5 449.7M98.5 449.7L100.0 452.8M100.0 452.8L101.5 455.0M119.5 443.4L121.0 448.1M121.0 448.1L122.5 451.6M125.5 453.6L127.0 451.0M25.0 441.2L26.5 445.4M28.0 449.2L29.5 452.9M34.0 455.8L35.5 452.6M35.5 452.6L37.0 448.5M38.5 443.8L40.0 439.1M47.5 438.0L49.0 441.9M49.0 441.9L50.5 447.1M50.5 447.1L52.0 451.2M58.0 453.8L59.5 450.4M59.5 450.4L61.0 446.7M70.0 439.5L71.5 443.2M71.5 443.2L73.0 446.7M73.0 446.7L74.5 451.1M74.5 451.1L76.0 453.9M82.0 451.4L83.5 448.0M83.5 448.0L85.0 443.7M92.5 437.5L94.0 441.1M94.0 441.1L95.5 444.7M95.5 444.7L97.0 448.8M97.0 448.8L98.5 452.9M103.0 456.1L104.5 452.5M104.5 452.5L106.0 448.5M106.0 448.5L107.5 444.0M107.5 444.0L109.0 440.1M118.0 442.8L119.5 446.9M125.5 456.5L127.0 454.2M127.0 454.2L128.5 451.0M130.0 447.3L131.5 443.5M23.5 441.6L25.0 444.8M25.0 444.8L26.5 448.9M26.5 448.9L28.0 452.5M38.5 447.7L40.0 443.3M47.5 442.0L49.0 446.0M49.0 446.0L50.5 450.3M50.5 450.3L52.0 454.7M56.5 459.8L58.0 457.5M58.0 457.5L59.5 454.0M59.5 454.0L61.0 450.7M61.0 450.7L62.5 447.0M70.0 443.3L71.5 447.0M71.5 447.0L73.0 450.3M73.0 450.3L74.5 454.4M80.5 458.3L82.0 455.2M82.0 455.2L83.5 450.9M83.5 450.9L85.0 447.3M92.5 441.1L94.0 445.0M94.0 445.0L95.5 448.4M95.5 448.4L97.0 452.6M97.0 452.6L98.5 456.0M103.0 458.9L104.5 456.1M106.0 451.8L107.5 448.1M107.5 448.1L109.0 444.0M116.5 442.4L118.0 446.3M118.0 446.3L119.5 450.5M119.5 450.5L121.0 454.7M127.0 457.7L128.5 454.4M128.5 454.4L130.0 451.1M23.5 446.1L25.0 448.7M34.0 461.8L35.5 459.0M37.0 455.3L38.5 451.1M38.5 451.1L40.0 447.7M49.0 449.9L50.5 454.2M50.5 454.2L52.0 457.8M61.0 453.7L62.5 450.6M92.5 445.1L94.0 448.4M94.0 448.4L95.5 452.6M118.0 450.6L119.5 454.6M125.5 463.0L127.0 460.8" stroke="#fff" stroke-width="1.25" stroke-opacity="0.25"/><path d="M58.0 403.8L59.5 405.2M71.5 408.9L73.0 407.3M73.0 407.3L74.5 405.3M104.5 404.6L106.0 406.2M106.0 406.2L107.5 407.9M118.0 408.5L119.5 407.3M127.0 403.7L128.5 405.6M113.5 408.5L115.0 407.2M85.0 451.1L86.5 447.8M109.0 447.9L110.5 444.5M113.5 441.5L115.0 443.7M115.0 443.7L116.5 447.0M131.5 451.1L133.0 448.0M22.0 447.8L23.5 449.6M40.0 451.4L41.5 447.9M44.5 444.6L46.0 447.3M46.0 447.3L47.5 449.9M62.5 454.3L64.0 451.6M67.0 447.0L68.5 448.6M68.5 448.6L70.0 451.0M85.0 454.9L86.5 451.5M91.0 447.3L92.5 449.4M109.0 452.2L110.5 448.6M113.5 445.5L115.0 447.9M115.0 447.9L116.5 450.7M131.5 454.8L133.0 451.8M133.0 451.8L134.5 449.2" stroke="#fff" stroke-width="1.5" stroke-opacity="0.125"/><path d="M65.5 411.7L67.0 412.6M134.5 411.2L136.0 412.2" stroke="#fff" stroke-width="2.0" stroke-opacity="0.875"/><path d="M92.5 410.9L94.0 409.7M65.5 406.6L67.0 407.5M25.0 437.5L26.5 441.6M26.5 441.6L28.0 445.8M37.0 444.6L38.5 439.9M38.5 439.9L40.0 435.3M59.5 447.4L61.0 443.2M61.0 443.2L62.5 439.3M70.0 435.1L71.5 438.9M82.0 448.5L83.5 443.8M83.5 443.8L85.0 439.5M92.5 433.3L94.0 437.0M104.5 449.4L106.0 445.2M106.0 445.2L107.5 440.3M127.0 451.0L128.5 447.4M128.5 447.4L130.0 443.9M130.0 443.9L131.5 439.4M40.0 439.1L41.5 435.2M62.5 443.1L64.0 439.3M67.0 434.1L68.5 436.6M85.0 443.7L86.5 439.3M86.5 439.3L88.0 436.2M113.5 432.8L115.0 435.3M133.0 439.9L134.5 437.1M136.0 435.6L137.5 437.1M91.0 439.0L92.5 441.1" stroke="#fff" stroke-width="1.5" stroke-opacity="0.375"/><path d="M112.0 413.3L113.5 413.3" stroke="#fff" stroke-width="2.0" stroke-opacity="0.75"/><path d="M26.5 403.2L28.0 401.9M34.0 398.9L35.5 400.3M55.0 398.5L56.5 398.5M73.0 402.5L74.5 401.1M79.0 398.3L80.5 399.6M80.5 399.6L82.0 400.6M82.0 400.6L83.5 402.2M101.5 398.2L103.0 398.9M119.5 402.3L121.0 400.7M124.0 398.1L125.5 398.7M125.5 398.7L127.0 399.9M127.0 399.9L128.5 400.9M32.5 461.0L34.0 458.7M29.5 459.1L31.0 462.2M31.0 462.2L32.5 464.3M32.5 464.3L34.0 461.8M52.0 457.8L53.5 461.3M53.5 461.3L55.0 463.2M55.0 463.2L56.5 463.0M76.0 460.8L77.5 462.8M77.5 462.8L79.0 463.7M98.5 459.1L100.0 461.9M100.0 461.9L101.5 464.3M101.5 464.3L103.0 462.3M121.0 457.6L122.5 460.9M122.5 460.9L124.0 463.7M29.5 462.4L31.0 465.5M31.0 465.5L32.5 467.3M32.5 467.3L34.0 465.2M52.0 461.3L53.5 464.4M53.5 464.4L55.0 466.8M55.0 466.8L56.5 465.7M76.0 463.5L77.5 466.2M77.5 466.2L79.0 466.1M79.0 466.1L80.5 464.7M98.5 462.9L100.0 465.0M100.0 465.0L101.5 467.1M101.5 467.1L103.0 465.2M121.0 461.2L122.5 463.9M122.5 463.9L124.0 466.1M124.0 466.1L125.5 465.8" stroke="#fff" stroke-width="1.0" stroke-opacity="0.125"/><path d="M28.0 401.9L29.5 400.4M29.5 400.4L31.0 399.0M31.0 399.0L32.5 397.7M32.5 397.7L34.0 398.9M35.5 400.3L37.0 402.1M49.0 404.5L50.5 402.9M50.5 402.9L52.0 401.3M52.0 401.3L53.5 399.7M53.5 399.7L55.0 398.5M56.5 398.5L58.0 399.9M58.0 399.9L59.5 400.8M74.5 401.1L76.0 400.0M76.0 400.0L77.5 399.0M77.5 399.0L79.0 398.3M95.5 403.4L97.0 401.6M97.0 401.6L98.5 400.6M98.5 400.6L100.0 399.2M100.0 399.2L101.5 398.2M103.0 398.9L104.5 400.5M104.5 400.5L106.0 402.0M118.0 404.3L119.5 402.3M121.0 400.7L122.5 399.2M122.5 399.2L124.0 398.1M29.5 452.9L31.0 455.9M31.0 455.9L32.5 458.3M32.5 458.3L34.0 455.8M52.0 451.2L53.5 454.4M53.5 454.4L55.0 457.1M55.0 457.1L56.5 456.8M76.0 453.9L77.5 457.0M77.5 457.0L79.0 457.6M79.0 457.6L80.5 454.6M98.5 452.9L100.0 455.6M100.0 455.6L101.5 457.7M101.5 457.7L103.0 456.1M121.0 451.6L122.5 455.0M122.5 455.0L124.0 457.1M124.0 457.1L125.5 456.5M29.5 456.2L31.0 458.7M31.0 458.7L32.5 461.0M52.0 454.7L53.5 457.7M53.5 457.7L55.0 460.4M55.0 460.4L56.5 459.8M76.0 457.4L77.5 459.8M77.5 459.8L79.0 460.7M79.0 460.7L80.5 458.3M98.5 456.0L100.0 458.7M100.0 458.7L101.5 461.3M101.5 461.3L103.0 458.9M121.0 454.7L122.5 457.9M122.5 457.9L124.0 460.1M124.0 460.1L125.5 460.0M79.0 463.7L80.5 461.3M124.0 463.7L125.5 463.0" stroke="#fff" stroke-width="1.0" stroke-opacity="0.25"/><path d="M20.5 429.7L22.0 431.0M88.0 431.8L89.5 429.6M89.5 429.6L91.0 430.3" stroke="#fff" stroke-width="2.0" stroke-opacity="0.375"/><path d="M28.0 445.8L29.5 449.8M31.0 453.0L32.5 455.0M34.0 452.6L35.5 448.7M50.5 443.0L52.0 447.7M76.0 450.9L77.5 453.9M79.0 454.2L80.5 451.7M101.5 455.0L103.0 452.3M103.0 452.3L104.5 449.4M122.5 451.6L124.0 454.5M124.0 454.5L125.5 453.6M23.5 437.4L25.0 441.2M26.5 445.4L28.0 449.2M37.0 448.5L38.5 443.8M56.5 456.8L58.0 453.8M61.0 446.7L62.5 443.1M80.5 454.6L82.0 451.4M116.5 438.7L118.0 442.8M119.5 446.9L121.0 451.6M128.5 451.0L130.0 447.3" stroke="#fff" stroke-width="1.25" stroke-opacity="0.375"/><path d="M41.5 431.4L43.0 428.3M43.0 428.3L44.5 427.3M110.5 431.8L112.0 429.0M112.0 429.0L113.5 428.4M134.5 432.9L136.0 431.2" stroke="#fff" stroke-width="2.0" stroke-opacity="0.5"/><path d="M64.0 439.3L65.5 436.2" stroke="#fff" stroke-width="1.5" stroke-opacity="0.5"/><path d="M20.5 446.7L22.0 447.8M43.0 445.5L44.5 444.6M89.5 446.6L91.0 447.3M110.5 448.6L112.0 446.3" stroke="#fff" stroke-width="1.75" stroke-opacity="0.125"/></g>
</g>
<rect x="22.5" y="388" width="113.5" height="77.5" fill="none" stroke="#707070" stroke-width="1"/>
<g clip-path="url(#ec4)">
<rect x="137.5" y="388" width="112.5" height="77" fill="#1b1b1b"/>
<rect x="137.5" y="388" width="112.5" height="77" filter="url(#sp4)" mask="url(#mk4)"/>
<path d="M135.5 410.4 L137.0 412.8 L138.5 415.8 L140.0 414.7 L141.5 412.0 L143.0 409.8 L144.5 408.0 L146.0 406.6 L147.5 405.6 L149.0 405.1 L150.5 405.0 L152.0 405.4 L153.5 406.1 L155.0 407.3 L156.5 408.8 L158.0 410.7 L159.5 413.0 L161.0 416.3 L162.5 413.0 L164.0 410.7 L165.5 408.8 L167.0 407.3 L168.5 406.1 L170.0 405.4 L171.5 405.0 L173.0 405.1 L174.5 405.5 L176.0 406.3 L177.5 407.4 L179.0 408.9 L180.5 410.7 L182.0 412.9 L183.5 413.8 L185.0 411.4 L186.5 409.4 L188.0 407.9 L189.5 406.6 L191.0 405.7 L192.5 405.2 L194.0 405.0 L195.5 405.2 L197.0 405.9 L198.5 407.0 L200.0 408.6 L201.5 410.6 L203.0 413.0 L204.5 416.0 L206.0 414.9 L207.5 412.1 L209.0 409.9 L210.5 408.0 L212.0 406.6 L213.5 405.6 L215.0 405.1 L216.5 405.0 L218.0 405.4 L219.5 406.2 L221.0 407.5 L222.5 409.2 L224.0 411.3 L225.5 413.8 L227.0 417.4 L228.5 413.8 L230.0 411.3 L231.5 409.2 L233.0 407.5 L234.5 406.2 L236.0 405.4 L237.5 405.0 L239.0 405.1 L240.5 405.6 L242.0 406.4 L243.5 407.6 L245.0 409.2 L246.5 411.2 L248.0 413.6 L249.5 414.6 L251.0 411.9 L252.5 409.8 L252.5 439.8 L251.0 437.4 L249.5 435.6 L248.0 436.1 L246.5 438.1 L245.0 440.7 L243.5 443.6 L242.0 446.5 L240.5 449.1 L239.0 451.1 L237.5 451.5 L236.0 449.5 L234.5 446.8 L233.0 443.5 L231.5 440.2 L230.0 437.1 L228.5 434.6 L227.0 432.8 L225.5 434.6 L224.0 437.1 L222.5 440.2 L221.0 443.5 L219.5 446.8 L218.0 449.5 L216.5 451.5 L215.0 450.9 L213.5 448.6 L212.0 445.6 L210.5 442.3 L209.0 439.0 L207.5 436.0 L206.0 433.7 L204.5 433.1 L203.0 435.2 L201.5 437.9 L200.0 441.2 L198.5 444.6 L197.0 447.7 L195.5 450.2 L194.0 452.0 L192.5 450.6 L191.0 448.6 L189.5 446.1 L188.0 443.4 L186.5 440.8 L185.0 438.6 L183.5 436.9 L182.0 437.4 L180.5 439.3 L179.0 441.6 L177.5 444.3 L176.0 446.9 L174.5 449.3 L173.0 451.1 L171.5 451.6 L170.0 449.7 L168.5 447.2 L167.0 444.3 L165.5 441.3 L164.0 438.5 L162.5 436.2 L161.0 434.6 L159.5 436.2 L158.0 438.5 L156.5 441.3 L155.0 444.3 L153.5 447.2 L152.0 449.7 L150.5 451.6 L149.0 450.9 L147.5 448.7 L146.0 445.8 L144.5 442.5 L143.0 439.3 L141.5 436.4 L140.0 434.1 L138.5 433.6 L137.0 435.6 L135.5 438.3 Z" fill="#161616" opacity="0.45" filter="url(#bl4)"/>
<rect x="137.5" y="388" width="112.5" height="2.5" fill="#e6e6e6" opacity="0.75"/>
<path d="M135.5 451.8 L137.0 452.8 L138.5 451.6 L140.0 452.9 L141.5 451.7 L143.0 452.5 L144.5 454.7 L146.0 454.9 L147.5 454.1 L149.0 455.6 L150.5 454.7 L152.0 455.8 L153.5 453.4 L155.0 453.3 L156.5 454.9 L158.0 452.5 L159.5 451.3 L161.0 451.9 L162.5 452.5 L164.0 451.8 L165.5 453.8 L167.0 454.7 L168.5 453.5 L170.0 455.4 L171.5 453.8 L173.0 454.4 L174.5 453.5 L176.0 453.6 L177.5 455.6 L179.0 453.3 L180.5 454.5 L182.0 451.9 L183.5 452.1 L185.0 453.9 L186.5 454.0 L188.0 452.7 L189.5 454.7 L191.0 455.2 L192.5 453.9 L194.0 453.7 L195.5 456.1 L197.0 454.7 L198.5 453.3 L200.0 453.5 L201.5 452.1 L203.0 453.1 L204.5 451.0 L206.0 450.1 L207.5 453.4 L209.0 451.9 L210.5 453.2 L212.0 452.9 L213.5 455.5 L215.0 453.7 L216.5 455.1 L218.0 453.6 L219.5 454.5 L221.0 454.7 L222.5 453.6 L224.0 452.6 L225.5 451.7 L227.0 450.3 L228.5 452.1 L230.0 451.4 L231.5 453.4 L233.0 453.3 L234.5 455.7 L236.0 456.3 L237.5 453.6 L239.0 453.8 L240.5 455.5 L242.0 454.7 L243.5 452.5 L245.0 454.1 L246.5 454.2 L248.0 451.6 L249.5 451.0 L251.0 452.7 L252.5 454.6 L254.0 453.1 L252.0 467 L135.5 467 Z" fill="#f6f6f6" opacity="0.94" filter="url(#bl4)"/>
<clipPath id="bc4"><path d="M135.5 451.8 L137.0 452.8 L138.5 451.6 L140.0 452.9 L141.5 451.7 L143.0 452.5 L144.5 454.7 L146.0 454.9 L147.5 454.1 L149.0 455.6 L150.5 454.7 L152.0 455.8 L153.5 453.4 L155.0 453.3 L156.5 454.9 L158.0 452.5 L159.5 451.3 L161.0 451.9 L162.5 452.5 L164.0 451.8 L165.5 453.8 L167.0 454.7 L168.5 453.5 L170.0 455.4 L171.5 453.8 L173.0 454.4 L174.5 453.5 L176.0 453.6 L177.5 455.6 L179.0 453.3 L180.5 454.5 L182.0 451.9 L183.5 452.1 L185.0 453.9 L186.5 454.0 L188.0 452.7 L189.5 454.7 L191.0 455.2 L192.5 453.9 L194.0 453.7 L195.5 456.1 L197.0 454.7 L198.5 453.3 L200.0 453.5 L201.5 452.1 L203.0 453.1 L204.5 451.0 L206.0 450.1 L207.5 453.4 L209.0 451.9 L210.5 453.2 L212.0 452.9 L213.5 455.5 L215.0 453.7 L216.5 455.1 L218.0 453.6 L219.5 454.5 L221.0 454.7 L222.5 453.6 L224.0 452.6 L225.5 451.7 L227.0 450.3 L228.5 452.1 L230.0 451.4 L231.5 453.4 L233.0 453.3 L234.5 455.7 L236.0 456.3 L237.5 453.6 L239.0 453.8 L240.5 455.5 L242.0 454.7 L243.5 452.5 L245.0 454.1 L246.5 454.2 L248.0 451.6 L249.5 451.0 L251.0 452.7 L252.5 454.6 L254.0 453.1 L252.0 467 L135.5 467 Z"/></clipPath>
<rect x="137.5" y="388" width="112.5" height="77" filter="url(#dk4)" clip-path="url(#bc4)" opacity="0.2"/>
<g filter="url(#bl4)" fill="none" stroke-linecap="round"><path d="M135.5 407.3L137.0 409.6M140.0 411.6L141.5 408.8M158.0 407.9L159.5 410.2M224.0 408.5L225.5 411.1M249.5 411.8L251.0 408.7M162.5 439.3L164.0 441.8M179.0 444.9L180.5 442.2M249.5 438.7L251.0 440.5M137.0 442.4L138.5 440.3M182.0 443.8L183.5 443.9M203.0 441.8L204.5 439.7M225.5 441.4L227.0 440.1M248.0 443.0L249.5 442.7M159.5 446.9L161.0 445.3" stroke="#fff" stroke-width="1.75" stroke-opacity="0.5"/><path d="M137.0 409.6L138.5 412.7M180.5 407.4L182.0 409.6M204.5 412.9L206.0 411.6M246.5 407.9L248.0 410.7M248.0 410.7L249.5 411.8M137.0 438.7L138.5 436.9M159.5 439.0L161.0 437.6M225.5 437.8L227.0 435.7" stroke="#fff" stroke-width="2.0" stroke-opacity="0.625"/><path d="M138.5 412.7L140.0 411.6M138.5 436.9L140.0 437.4M180.5 442.2L182.0 440.7M203.0 437.8L204.5 436.1M204.5 436.1L206.0 436.4M246.5 441.4L248.0 439.4M248.0 439.4L249.5 438.7" stroke="#fff" stroke-width="2.0" stroke-opacity="0.5"/><path d="M141.5 408.8L143.0 406.8M143.0 406.8L144.5 405.3M152.0 402.4L153.5 403.0M153.5 403.0L155.0 404.2M155.0 404.2L156.5 405.9M164.0 407.6L165.5 405.9M165.5 405.9L167.0 404.6M176.0 403.5L177.5 404.3M177.5 404.3L179.0 405.6M197.0 403.2L198.5 404.4M198.5 404.4L200.0 405.8M207.5 409.3L209.0 406.9M210.5 405.4L212.0 403.7M221.0 404.8L222.5 405.9M230.0 408.2L231.5 406.4M231.5 406.4L233.0 404.6M240.5 402.4L242.0 403.2M243.5 404.5L245.0 406.5M135.5 403.0L137.0 405.2M137.0 405.2L138.5 407.6M138.5 407.6L140.0 406.6M158.0 402.8L159.5 404.9M161.0 408.2L162.5 405.1M180.5 403.3L182.0 405.3M182.0 405.3L183.5 405.6M183.5 405.6L185.0 404.0M201.5 402.7L203.0 405.5M203.0 405.5L204.5 408.2M204.5 408.2L206.0 406.8M224.0 403.8L225.5 405.7M225.5 405.7L227.0 409.2M227.0 409.2L228.5 405.8M246.5 403.8L248.0 405.7M248.0 405.7L249.5 406.6M249.5 406.6L251.0 403.9M144.5 445.2L146.0 448.7M152.0 452.5L153.5 450.2M153.5 450.2L155.0 447.6M165.5 444.6L167.0 447.3M167.0 447.3L168.5 450.5M176.0 450.2L177.5 447.4M177.5 447.4L179.0 444.9M210.5 445.5L212.0 448.5M218.0 452.7L219.5 449.9M219.5 449.9L221.0 446.4M233.0 446.5L234.5 449.4M240.5 452.0L242.0 449.2M156.5 448.0L158.0 445.0M162.5 443.1L164.0 445.0M183.5 443.9L185.0 445.5M185.0 445.5L186.5 447.6M200.0 447.4L201.5 444.4M206.0 440.7L207.5 443.1M222.5 446.6L224.0 443.7M228.5 441.4L230.0 443.7M245.0 447.2L246.5 444.9M249.5 442.7L251.0 444.3M135.5 448.3L137.0 445.9M140.0 444.6L141.5 446.9M156.5 451.2L158.0 448.6M161.0 445.3L162.5 446.7M162.5 446.7L164.0 448.6M179.0 451.5L180.5 449.2M185.0 448.9L186.5 450.9M200.0 451.0L201.5 448.4M201.5 448.4L203.0 445.7M204.5 444.0L206.0 444.6M222.5 450.1L224.0 447.4M224.0 447.4L225.5 445.3M228.5 445.4L230.0 447.8M245.0 451.1L246.5 448.5M246.5 448.5L248.0 446.7M249.5 446.0L251.0 447.7M135.5 452.3L137.0 450.4M138.5 448.0L140.0 448.7M140.0 448.7L141.5 450.6M156.5 454.9L158.0 452.5M158.0 452.5L159.5 450.5M161.0 449.3L162.5 450.4M162.5 450.4L164.0 452.7M179.0 454.9L180.5 453.0M183.5 450.9L185.0 452.4M185.0 452.4L186.5 454.7M201.5 452.3L203.0 449.7M204.5 448.1L206.0 448.4M222.5 453.7L224.0 451.6M224.0 451.6L225.5 449.2M227.0 447.5L228.5 449.0M228.5 449.0L230.0 451.3M245.0 454.3L246.5 452.2M246.5 452.2L248.0 450.3M249.5 450.3L251.0 451.6M135.5 456.0L137.0 454.0M138.5 452.5L140.0 452.7M140.0 452.7L141.5 454.6M158.0 456.1L159.5 454.4M161.0 452.9L162.5 454.7M224.0 455.2L225.5 453.2M246.5 456.2L248.0 454.3" stroke="#fff" stroke-width="1.5" stroke-opacity="0.25"/><path d="M144.5 405.3L146.0 403.4M167.0 404.6L168.5 403.0M174.5 402.5L176.0 403.5M186.5 406.7L188.0 404.9M188.0 404.9L189.5 403.6M209.0 406.9L210.5 405.4M218.0 402.7L219.5 403.2M219.5 403.2L221.0 404.8M233.0 404.6L234.5 403.2M242.0 403.2L243.5 404.5M200.0 454.5L201.5 452.3M206.0 448.4L207.5 450.4M156.5 458.4L158.0 456.1M162.5 454.7L164.0 456.3M179.0 459.0L180.5 456.8M180.5 456.8L182.0 455.6M183.5 455.0L185.0 456.0M185.0 456.0L186.5 457.8M200.0 458.6L201.5 455.8M201.5 455.8L203.0 453.2M204.5 451.6L206.0 452.1M206.0 452.1L207.5 454.5M222.5 457.2L224.0 455.2M227.0 451.9L228.5 452.9M228.5 452.9L230.0 454.8M245.0 458.0L246.5 456.2M249.5 454.0L251.0 455.6" stroke="#fff" stroke-width="1.5" stroke-opacity="0.125"/><path d="M146.0 403.4L147.5 402.4M149.0 401.9L150.5 401.9M168.5 403.0L170.0 402.1M170.0 402.1L171.5 402.2M171.5 402.2L173.0 401.9M173.0 401.9L174.5 402.5M191.0 402.7L192.5 402.4M194.0 402.1L195.5 402.3M195.5 402.3L197.0 403.2M216.5 402.3L218.0 402.7M236.0 402.1L237.5 402.0M237.5 402.0L239.0 402.1M239.0 402.1L240.5 402.4M143.0 402.2L144.5 400.9M177.5 400.0L179.0 401.6M185.0 404.0L186.5 402.1M207.5 404.7L209.0 402.5M209.0 402.5L210.5 400.7M228.5 405.8L230.0 403.5M230.0 403.5L231.5 402.1M243.5 400.2L245.0 402.0M152.0 459.0L153.5 456.7M164.0 448.6L165.5 451.5M173.0 460.0L174.5 458.8M174.5 458.8L176.0 456.2M195.5 459.4L197.0 457.3M212.0 455.0L213.5 457.7M233.0 453.3L234.5 456.3M240.5 458.6L242.0 456.0M242.0 456.0L243.5 453.6M141.5 450.6L143.0 453.4M143.0 453.4L144.5 456.2M144.5 456.2L146.0 458.5M146.0 458.5L147.5 461.4M152.0 461.8L153.5 460.1M155.0 457.6L156.5 454.9M165.5 455.0L167.0 457.6M167.0 457.6L168.5 460.0M174.5 462.0L176.0 459.9M176.0 459.9L177.5 457.6M197.0 460.3L198.5 457.8M198.5 457.8L200.0 454.5M209.0 453.1L210.5 455.6M210.5 455.6L212.0 458.4M212.0 458.4L213.5 461.4M218.0 462.0L219.5 459.9M219.5 459.9L221.0 456.8M230.0 451.3L231.5 453.8M233.0 457.0L234.5 459.4M239.0 463.4L240.5 461.8M242.0 459.1L243.5 457.0M243.5 457.0L245.0 454.3M141.5 454.6L143.0 456.6M143.0 456.6L144.5 459.6M144.5 459.6L146.0 461.7M146.0 461.7L147.5 464.7M152.0 465.2L153.5 463.0M153.5 463.0L155.0 460.7M155.0 460.7L156.5 458.4M164.0 456.3L165.5 458.7M165.5 458.7L167.0 460.9M167.0 460.9L168.5 463.1M173.0 466.2L174.5 465.0M174.5 465.0L176.0 462.8M176.0 462.8L177.5 460.8M177.5 460.8L179.0 459.0M186.5 457.8L188.0 460.4M188.0 460.4L189.5 462.0M189.5 462.0L191.0 464.5M195.5 465.3L197.0 463.7M197.0 463.7L198.5 460.9M198.5 460.9L200.0 458.6M207.5 454.5L209.0 456.6M209.0 456.6L210.5 458.9M210.5 458.9L212.0 461.9M212.0 461.9L213.5 464.4M218.0 465.3L219.5 462.7M219.5 462.7L221.0 460.3M221.0 460.3L222.5 457.2M230.0 454.8L231.5 457.5M231.5 457.5L233.0 459.9M233.0 459.9L234.5 463.1M239.0 466.2L240.5 464.7M240.5 464.7L242.0 462.9M242.0 462.9L243.5 460.4M243.5 460.4L245.0 458.0" stroke="#fff" stroke-width="1.25" stroke-opacity="0.125"/><path d="M147.5 402.4L149.0 401.9M150.5 401.9L152.0 402.4M189.5 403.6L191.0 402.7M192.5 402.4L194.0 402.1M212.0 403.7L213.5 402.3M213.5 402.3L215.0 401.9M215.0 401.9L216.5 402.3M234.5 403.2L236.0 402.1M140.0 406.6L141.5 404.2M141.5 404.2L143.0 402.2M155.0 399.9L156.5 401.2M156.5 401.2L158.0 402.8M162.5 405.1L164.0 403.1M164.0 403.1L165.5 401.3M176.0 398.9L177.5 400.0M179.0 401.6L180.5 403.3M186.5 402.1L188.0 400.6M198.5 399.6L200.0 401.2M200.0 401.2L201.5 402.7M206.0 406.8L207.5 404.7M221.0 400.1L222.5 401.8M222.5 401.8L224.0 403.8M242.0 399.1L243.5 400.2M245.0 402.0L246.5 403.8M146.0 448.7L147.5 451.5M149.0 454.0L150.5 454.2M168.5 450.5L170.0 452.9M170.0 452.9L171.5 454.5M171.5 454.5L173.0 454.3M189.5 448.9L191.0 451.3M191.0 451.3L192.5 453.9M192.5 453.9L194.0 454.8M194.0 454.8L195.5 453.5M213.5 451.9L215.0 454.3M216.5 454.8L218.0 452.7M234.5 449.4L236.0 452.2M239.0 454.2L240.5 452.0M141.5 442.9L143.0 445.8M143.0 445.8L144.5 449.3M144.5 449.3L146.0 452.2M146.0 452.2L147.5 455.1M152.0 455.7L153.5 453.3M153.5 453.3L155.0 450.4M155.0 450.4L156.5 448.0M164.0 445.0L165.5 447.9M165.5 447.9L167.0 450.5M167.0 450.5L168.5 453.5M173.0 457.3L174.5 455.3M174.5 455.3L176.0 453.4M176.0 453.4L177.5 450.7M177.5 450.7L179.0 447.9M186.5 447.6L188.0 450.0M188.0 450.0L189.5 452.5M189.5 452.5L191.0 455.1M195.5 456.3L197.0 454.0M198.5 450.8L200.0 447.4M207.5 443.1L209.0 445.9M209.0 445.9L210.5 448.5M210.5 448.5L212.0 452.1M212.0 452.1L213.5 454.9M218.0 455.8L219.5 452.7M219.5 452.7L221.0 449.8M221.0 449.8L222.5 446.6M231.5 446.8L233.0 449.7M233.0 449.7L234.5 452.9M242.0 452.7L243.5 449.8M243.5 449.8L245.0 447.2M141.5 446.9L143.0 449.3M143.0 449.3L144.5 452.2M144.5 452.2L146.0 455.7M146.0 455.7L147.5 457.7M153.5 456.7L155.0 454.4M155.0 454.4L156.5 451.2M165.5 451.5L167.0 454.4M167.0 454.4L168.5 456.4M176.0 456.2L177.5 453.9M177.5 453.9L179.0 451.5M186.5 450.9L188.0 453.5M188.0 453.5L189.5 455.5M189.5 455.5L191.0 457.6M197.0 457.3L198.5 454.0M198.5 454.0L200.0 451.0M207.5 446.7L209.0 449.5M209.0 449.5L210.5 452.3M210.5 452.3L212.0 455.0M218.0 458.8L219.5 456.6M219.5 456.6L221.0 453.0M221.0 453.0L222.5 450.1M230.0 447.8L231.5 450.1M231.5 450.1L233.0 453.3M239.0 460.2L240.5 458.6M243.5 453.6L245.0 451.1M153.5 460.1L155.0 457.6M164.0 452.7L165.5 455.0M173.0 463.1L174.5 462.0M177.5 457.6L179.0 454.9M186.5 454.7L188.0 456.6M188.0 456.6L189.5 458.7M189.5 458.7L191.0 461.4M195.5 462.4L197.0 460.3M207.5 450.4L209.0 453.1M221.0 456.8L222.5 453.7M231.5 453.8L233.0 457.0M240.5 461.8L242.0 459.1" stroke="#fff" stroke-width="1.25" stroke-opacity="0.25"/><path d="M156.5 405.9L158.0 407.9M162.5 410.0L164.0 407.6M179.0 405.6L180.5 407.4M183.5 410.6L185.0 408.5M185.0 408.5L186.5 406.7M200.0 405.8L201.5 407.3M201.5 407.3L203.0 409.8M206.0 411.6L207.5 409.3M222.5 405.9L224.0 408.5M227.0 414.6L228.5 411.1M228.5 411.1L230.0 408.2M245.0 406.5L246.5 407.9M135.5 441.2L137.0 438.7M140.0 437.4L141.5 439.7M156.5 444.2L158.0 441.3M158.0 441.3L159.5 439.0M161.0 437.6L162.5 439.3M183.5 440.2L185.0 441.3M200.0 443.8L201.5 440.6M201.5 440.6L203.0 437.8M206.0 436.4L207.5 438.7M224.0 440.0L225.5 437.8M227.0 435.7L228.5 437.9M245.0 443.7L246.5 441.4M159.5 442.7L161.0 441.6M203.0 445.7L204.5 444.0M225.5 445.3L227.0 443.8M248.0 446.7L249.5 446.0M159.5 450.5L161.0 449.3M182.0 451.8L183.5 450.9M248.0 450.3L249.5 450.3" stroke="#fff" stroke-width="1.75" stroke-opacity="0.375"/><path d="M159.5 410.2L161.0 413.2" stroke="#fff" stroke-width="2.0" stroke-opacity="1.0"/><path d="M161.0 413.2L162.5 410.0" stroke="#fff" stroke-width="1.75" stroke-opacity="0.625"/><path d="M182.0 409.6L183.5 410.6M203.0 409.8L204.5 412.9M225.5 411.1L227.0 414.6" stroke="#fff" stroke-width="2.0" stroke-opacity="0.75"/><path d="M144.5 400.9L146.0 399.2M146.0 399.2L147.5 398.3M147.5 398.3L149.0 397.9M150.5 398.0L152.0 398.3M152.0 398.3L153.5 399.0M153.5 399.0L155.0 399.9M165.5 401.3L167.0 400.3M167.0 400.3L168.5 398.9M168.5 398.9L170.0 398.7M173.0 398.4L174.5 398.2M174.5 398.2L176.0 398.9M188.0 400.6L189.5 399.4M189.5 399.4L191.0 398.4M191.0 398.4L192.5 398.3M192.5 398.3L194.0 397.7M194.0 397.7L195.5 397.9M195.5 397.9L197.0 398.6M197.0 398.6L198.5 399.6M213.5 398.4L215.0 398.1M215.0 398.1L216.5 398.3M218.0 398.3L219.5 399.4M219.5 399.4L221.0 400.1M231.5 402.1L233.0 400.1M236.0 398.2L237.5 397.7M239.0 398.2L240.5 398.8M240.5 398.8L242.0 399.1M147.5 455.1L149.0 456.7M149.0 456.7L150.5 457.6M150.5 457.6L152.0 455.7M168.5 453.5L170.0 455.6M170.0 455.6L171.5 457.8M171.5 457.8L173.0 457.3M191.0 455.1L192.5 456.9M192.5 456.9L194.0 458.2M194.0 458.2L195.5 456.3M213.5 454.9L215.0 457.0M215.0 457.0L216.5 457.9M216.5 457.9L218.0 455.8M234.5 452.9L236.0 455.3M236.0 455.3L237.5 457.6M237.5 457.6L239.0 457.3M147.5 457.7L149.0 460.3M150.5 460.8L152.0 459.0M191.0 457.6L192.5 459.6M194.0 460.7L195.5 459.4M213.5 457.7L215.0 459.7M215.0 459.7L216.5 460.2M216.5 460.2L218.0 458.8M234.5 456.3L236.0 458.8M236.0 458.8L237.5 460.6M237.5 460.6L239.0 460.2M150.5 463.4L152.0 461.8" stroke="#fff" stroke-width="1.0" stroke-opacity="0.25"/><path d="M149.0 397.9L150.5 398.0M170.0 398.7L171.5 397.7M171.5 397.7L173.0 398.4M210.5 400.7L212.0 399.2M212.0 399.2L213.5 398.4M216.5 398.3L218.0 398.3M233.0 400.1L234.5 398.9M234.5 398.9L236.0 398.2M237.5 397.7L239.0 398.2M149.0 460.3L150.5 460.8M168.5 456.4L170.0 459.3M170.0 459.3L171.5 460.6M171.5 460.6L173.0 460.0M192.5 459.6L194.0 460.7M147.5 461.4L149.0 463.0M149.0 463.0L150.5 463.4M168.5 460.0L170.0 462.4M170.0 462.4L171.5 464.0M171.5 464.0L173.0 463.1M191.0 461.4L192.5 462.5M192.5 462.5L194.0 463.7M194.0 463.7L195.5 462.4M213.5 461.4L215.0 462.8M215.0 462.8L216.5 463.6M216.5 463.6L218.0 462.0M234.5 459.4L236.0 461.6M236.0 461.6L237.5 463.7M237.5 463.7L239.0 463.4M147.5 464.7L149.0 466.0M149.0 466.0L150.5 466.4M150.5 466.4L152.0 465.2M168.5 463.1L170.0 465.3M170.0 465.3L171.5 466.8M171.5 466.8L173.0 466.2M191.0 464.5L192.5 466.1M192.5 466.1L194.0 466.9M194.0 466.9L195.5 465.3M213.5 464.4L215.0 466.3M215.0 466.3L216.5 466.4M216.5 466.4L218.0 465.3M234.5 463.1L236.0 465.1M236.0 465.1L237.5 466.8M237.5 466.8L239.0 466.2" stroke="#fff" stroke-width="1.0" stroke-opacity="0.125"/><path d="M159.5 404.9L161.0 408.2M141.5 439.7L143.0 442.0M143.0 442.0L144.5 445.2M155.0 447.6L156.5 444.2M164.0 441.8L165.5 444.6M174.5 452.3L176.0 450.2M186.5 444.1L188.0 446.3M188.0 446.3L189.5 448.9M197.0 450.7L198.5 447.6M198.5 447.6L200.0 443.8M207.5 438.7L209.0 441.7M209.0 441.7L210.5 445.5M221.0 446.4L222.5 442.9M230.0 440.1L231.5 443.1M231.5 443.1L233.0 446.5M242.0 449.2L243.5 446.3M243.5 446.3L245.0 443.7M135.5 445.3L137.0 442.4M138.5 440.3L140.0 441.3M140.0 441.3L141.5 442.9M158.0 445.0L159.5 442.7M179.0 447.9L180.5 445.7M180.5 445.7L182.0 443.8M201.5 444.4L203.0 441.8M224.0 443.7L225.5 441.4M227.0 440.1L228.5 441.4M246.5 444.9L248.0 443.0M138.5 444.1L140.0 444.6M158.0 448.6L159.5 446.9M180.5 449.2L182.0 447.6M183.5 447.8L185.0 448.9M206.0 444.6L207.5 446.7M227.0 443.8L228.5 445.4M180.5 453.0L182.0 451.8" stroke="#fff" stroke-width="1.5" stroke-opacity="0.375"/><path d="M147.5 451.5L149.0 454.0M150.5 454.2L152.0 452.5M173.0 454.3L174.5 452.3M195.5 453.5L197.0 450.7M212.0 448.5L213.5 451.9M215.0 454.3L216.5 454.8M236.0 452.2L237.5 454.7M237.5 454.7L239.0 454.2M197.0 454.0L198.5 450.8M230.0 443.7L231.5 446.8M239.0 457.3L240.5 455.2M240.5 455.2L242.0 452.7" stroke="#fff" stroke-width="1.25" stroke-opacity="0.375"/><path d="M182.0 440.7L183.5 440.2" stroke="#fff" stroke-width="2.0" stroke-opacity="0.375"/><path d="M185.0 441.3L186.5 444.1M222.5 442.9L224.0 440.0M228.5 437.9L230.0 440.1M137.0 445.9L138.5 444.1M182.0 447.6L183.5 447.8M137.0 450.4L138.5 448.0M203.0 449.7L204.5 448.1M225.5 449.2L227.0 447.5M137.0 454.0L138.5 452.5M159.5 454.4L161.0 452.9M248.0 454.3L249.5 454.0" stroke="#fff" stroke-width="1.75" stroke-opacity="0.25"/><path d="M161.0 441.6L162.5 443.1M204.5 439.7L206.0 440.7" stroke="#fff" stroke-width="1.5" stroke-opacity="0.5"/><path d="M182.0 455.6L183.5 455.0M203.0 453.2L204.5 451.6M225.5 453.2L227.0 451.9" stroke="#fff" stroke-width="1.75" stroke-opacity="0.125"/></g>
</g>
<rect x="137.5" y="388" width="112.5" height="77" fill="none" stroke="#707070" stroke-width="1"/>
<text font-size="12.42" fill="#1d1d1b" color="#1d1d1b" stroke-width="0.25" transform="translate(363.86 269.50) scale(1.1148 1)">Protocol 3</text>
<line x1="364.20" y1="270.80" x2="426.10" y2="270.80" stroke="#6a6a6a" stroke-width="1.4"/>
<text font-size="11.39" fill="#9e2a44" color="#9e2a44" stroke-width="0.25" transform="translate(309.92 284.50) scale(1.0113 1)">Control D0</text>
<text font-size="11.40" fill="#9e2a44" color="#9e2a44" stroke-width="0.25" transform="translate(436.35 284.50) scale(0.9433 1)">Cfz D0</text>
<text font-size="11.39" fill="#9e2a44" color="#9e2a44" stroke-width="0.25" transform="translate(309.91 382.50) scale(1.0123 1)">Control D6</text>
<text font-size="11.19" fill="#9e2a44" color="#9e2a44" stroke-width="0.25" transform="translate(436.35 382.20) scale(0.9623 1)">Cfz D6</text>
<g clip-path="url(#ec5)">
<rect x="281" y="288.5" width="113.5" height="78.5" fill="#242424"/>
<rect x="281" y="288.5" width="113.5" height="78.5" filter="url(#sp5)" mask="url(#mk5)"/>
<path d="M279.0 315.3 L280.5 317.3 L282.0 317.5 L283.5 315.4 L285.0 313.7 L286.5 312.3 L288.0 311.3 L289.5 310.5 L291.0 310.1 L292.5 310.0 L294.0 310.3 L295.5 310.8 L297.0 311.7 L298.5 312.9 L300.0 314.4 L301.5 316.3 L303.0 318.9 L304.5 316.3 L306.0 314.4 L307.5 312.9 L309.0 311.7 L310.5 310.8 L312.0 310.3 L313.5 310.0 L315.0 310.1 L316.5 310.6 L318.0 311.6 L319.5 312.9 L321.0 314.6 L322.5 316.6 L324.0 319.2 L325.5 319.0 L327.0 316.5 L328.5 314.4 L330.0 312.8 L331.5 311.5 L333.0 310.6 L334.5 310.1 L336.0 310.0 L337.5 310.4 L339.0 311.1 L340.5 312.3 L342.0 313.8 L343.5 315.7 L345.0 318.1 L346.5 320.8 L348.0 317.7 L349.5 315.4 L351.0 313.6 L352.5 312.1 L354.0 311.0 L355.5 310.3 L357.0 310.0 L358.5 310.1 L360.0 310.6 L361.5 311.4 L363.0 312.6 L364.5 314.1 L366.0 316.0 L367.5 318.3 L369.0 317.8 L370.5 315.6 L372.0 313.8 L373.5 312.4 L375.0 311.2 L376.5 310.5 L378.0 310.1 L379.5 310.0 L381.0 310.3 L382.5 311.0 L384.0 312.0 L385.5 313.3 L387.0 314.9 L388.5 316.9 L390.0 318.8 L391.5 316.3 L393.0 314.4 L394.5 312.9 L396.0 311.7 L397.5 310.8 L397.5 344.5 L396.0 341.4 L394.5 338.1 L393.0 335.0 L391.5 332.4 L390.0 330.5 L388.5 331.8 L387.0 334.2 L385.5 337.2 L384.0 340.5 L382.5 343.7 L381.0 346.4 L379.5 348.5 L378.0 348.0 L376.5 345.7 L375.0 342.7 L373.5 339.3 L372.0 335.9 L370.5 332.9 L369.0 330.7 L367.5 330.3 L366.0 332.4 L364.5 335.3 L363.0 338.6 L361.5 342.0 L360.0 345.1 L358.5 347.6 L357.0 348.7 L355.5 346.5 L354.0 343.4 L352.5 339.6 L351.0 335.7 L349.5 332.0 L348.0 328.9 L346.5 326.8 L345.0 328.6 L343.5 331.5 L342.0 335.2 L340.5 339.1 L339.0 342.9 L337.5 346.1 L336.0 348.5 L334.5 347.7 L333.0 345.0 L331.5 341.6 L330.0 337.7 L328.5 333.9 L327.0 330.6 L325.5 328.1 L324.0 327.9 L322.5 330.4 L321.0 333.7 L319.5 337.5 L318.0 341.3 L316.5 344.8 L315.0 347.5 L313.5 348.7 L312.0 346.9 L310.5 344.3 L309.0 341.3 L307.5 338.2 L306.0 335.2 L304.5 332.9 L303.0 331.2 L301.5 332.9 L300.0 335.2 L298.5 338.2 L297.0 341.3 L295.5 344.3 L294.0 346.9 L292.5 348.7 L291.0 347.8 L289.5 345.6 L288.0 342.7 L286.5 339.6 L285.0 336.5 L283.5 333.8 L282.0 331.8 L280.5 331.9 L279.0 334.0 Z" fill="#161616" opacity="0.6" filter="url(#bl5)"/>
<rect x="281" y="288.5" width="113.5" height="2.5" fill="#d0d0d0" opacity="0.6"/>
<path d="M279.0 362.4 L280.5 359.0 L282.0 361.3 L283.5 359.8 L285.0 362.8 L286.5 360.0 L288.0 363.0 L289.5 362.5 L291.0 363.1 L292.5 363.6 L294.0 361.1 L295.5 361.3 L297.0 362.3 L298.5 360.7 L300.0 360.4 L301.5 359.9 L303.0 361.4 L304.5 361.9 L306.0 362.1 L307.5 360.5 L309.0 363.0 L310.5 361.9 L312.0 361.1 L313.5 361.9 L315.0 361.7 L316.5 360.5 L318.0 361.9 L319.5 361.0 L321.0 361.3 L322.5 362.1 L324.0 360.6 L325.5 359.9 L327.0 361.9 L328.5 362.7 L330.0 361.4 L331.5 363.1 L333.0 360.3 L334.5 360.8 L336.0 360.9 L337.5 363.3 L339.0 362.4 L340.5 362.3 L342.0 360.6 L343.5 360.8 L345.0 361.6 L346.5 358.6 L348.0 359.2 L349.5 359.5 L351.0 361.2 L352.5 362.7 L354.0 362.0 L355.5 361.6 L357.0 362.0 L358.5 360.9 L360.0 363.3 L361.5 361.2 L363.0 360.6 L364.5 360.6 L366.0 361.8 L367.5 359.8 L369.0 361.7 L370.5 360.4 L372.0 361.1 L373.5 360.2 L375.0 363.1 L376.5 362.9 L378.0 361.9 L379.5 360.8 L381.0 361.9 L382.5 361.4 L384.0 362.7 L385.5 362.7 L387.0 361.8 L388.5 359.9 L390.0 358.8 L391.5 362.0 L393.0 362.5 L394.5 360.3 L396.0 361.7 L397.5 361.8 L399.0 363.5 L396.5 369.0 L279 369.0 Z" fill="#f6f6f6" opacity="0.94" filter="url(#bl5)"/>
<clipPath id="bc5"><path d="M279.0 362.4 L280.5 359.0 L282.0 361.3 L283.5 359.8 L285.0 362.8 L286.5 360.0 L288.0 363.0 L289.5 362.5 L291.0 363.1 L292.5 363.6 L294.0 361.1 L295.5 361.3 L297.0 362.3 L298.5 360.7 L300.0 360.4 L301.5 359.9 L303.0 361.4 L304.5 361.9 L306.0 362.1 L307.5 360.5 L309.0 363.0 L310.5 361.9 L312.0 361.1 L313.5 361.9 L315.0 361.7 L316.5 360.5 L318.0 361.9 L319.5 361.0 L321.0 361.3 L322.5 362.1 L324.0 360.6 L325.5 359.9 L327.0 361.9 L328.5 362.7 L330.0 361.4 L331.5 363.1 L333.0 360.3 L334.5 360.8 L336.0 360.9 L337.5 363.3 L339.0 362.4 L340.5 362.3 L342.0 360.6 L343.5 360.8 L345.0 361.6 L346.5 358.6 L348.0 359.2 L349.5 359.5 L351.0 361.2 L352.5 362.7 L354.0 362.0 L355.5 361.6 L357.0 362.0 L358.5 360.9 L360.0 363.3 L361.5 361.2 L363.0 360.6 L364.5 360.6 L366.0 361.8 L367.5 359.8 L369.0 361.7 L370.5 360.4 L372.0 361.1 L373.5 360.2 L375.0 363.1 L376.5 362.9 L378.0 361.9 L379.5 360.8 L381.0 361.9 L382.5 361.4 L384.0 362.7 L385.5 362.7 L387.0 361.8 L388.5 359.9 L390.0 358.8 L391.5 362.0 L393.0 362.5 L394.5 360.3 L396.0 361.7 L397.5 361.8 L399.0 363.5 L396.5 369.0 L279 369.0 Z"/></clipPath>
<rect x="281" y="288.5" width="113.5" height="78.5" filter="url(#dk5)" clip-path="url(#bc5)" opacity="0.2"/>
<g filter="url(#bl5)" fill="none" stroke-linecap="round"><path d="M279.0 312.0L280.5 314.0M300.0 311.5L301.5 313.1M322.5 313.3L324.0 316.0M324.0 316.0L325.5 316.2M343.5 312.4L345.0 315.2M364.5 311.4L366.0 312.8M369.0 315.0L370.5 312.7M387.0 312.1L388.5 314.0" stroke="#fff" stroke-width="2.0" stroke-opacity="0.75"/><path d="M280.5 314.0L282.0 314.5M282.0 314.5L283.5 312.6M303.0 315.8L304.5 313.4M321.0 311.5L322.5 313.3M325.5 316.2L327.0 313.5M346.5 317.5L348.0 314.5M366.0 312.8L367.5 315.0M390.0 315.9L391.5 313.6" stroke="#fff" stroke-width="2.0" stroke-opacity="0.625"/><path d="M283.5 312.6L285.0 310.8M297.0 308.4L298.5 309.8M298.5 309.8L300.0 311.5M306.0 311.3L307.5 310.1M327.0 313.5L328.5 311.6M361.5 308.4L363.0 309.6M370.5 312.7L372.0 310.9M384.0 309.0L385.5 310.1M393.0 311.2L394.5 310.2" stroke="#fff" stroke-width="1.75" stroke-opacity="0.5"/><path d="M285.0 310.8L286.5 309.0M313.5 307.1L315.0 307.4M330.0 309.6L331.5 308.5M339.0 308.2L340.5 309.1M352.5 308.9L354.0 308.2M378.0 307.0L379.5 307.2M345.0 310.0L346.5 312.6" stroke="#fff" stroke-width="1.5" stroke-opacity="0.375"/><path d="M286.5 309.0L288.0 308.2M288.0 308.2L289.5 307.4M291.0 307.2L292.5 307.1M307.5 310.1L309.0 308.4M312.0 307.0L313.5 307.1M315.0 307.4L316.5 307.4M316.5 307.4L318.0 308.7M328.5 311.6L330.0 309.6M331.5 308.5L333.0 307.6M334.5 306.9L336.0 307.2M337.5 307.6L339.0 308.2M351.0 310.6L352.5 308.9M354.0 308.2L355.5 307.2M355.5 307.2L357.0 307.3M357.0 307.3L358.5 307.2M358.5 307.2L360.0 307.6M360.0 307.6L361.5 308.4M372.0 310.9L373.5 309.0M376.5 307.4L378.0 307.0M379.5 307.2L381.0 307.6M382.5 308.0L384.0 309.0" stroke="#fff" stroke-width="1.5" stroke-opacity="0.5"/><path d="M289.5 307.4L291.0 307.2M292.5 307.1L294.0 307.5M294.0 307.5L295.5 308.1M295.5 308.1L297.0 308.4M309.0 308.4L310.5 308.1M310.5 308.1L312.0 307.0M318.0 308.7L319.5 309.9M333.0 307.6L334.5 306.9M336.0 307.2L337.5 307.6M373.5 309.0L375.0 308.2M375.0 308.2L376.5 307.4M381.0 307.6L382.5 308.0M394.5 310.2L396.0 308.9" stroke="#fff" stroke-width="1.5" stroke-opacity="0.625"/><path d="M301.5 313.1L303.0 315.8" stroke="#fff" stroke-width="2.25" stroke-opacity="0.875"/><path d="M304.5 313.4L306.0 311.3M319.5 309.9L321.0 311.5M340.5 309.1L342.0 310.6M348.0 314.5L349.5 312.6M349.5 312.6L351.0 310.6M385.5 310.1L387.0 312.1M391.5 313.6L393.0 311.2" stroke="#fff" stroke-width="1.75" stroke-opacity="0.625"/><path d="M342.0 310.6L343.5 312.4M363.0 309.6L364.5 311.4" stroke="#fff" stroke-width="1.75" stroke-opacity="0.75"/><path d="M345.0 315.2L346.5 317.5" stroke="#fff" stroke-width="2.25" stroke-opacity="0.75"/><path d="M367.5 315.0L369.0 315.0" stroke="#fff" stroke-width="2.0" stroke-opacity="0.5"/><path d="M388.5 314.0L390.0 315.9" stroke="#fff" stroke-width="2.25" stroke-opacity="0.625"/><path d="M279.0 307.6L280.5 309.7M280.5 309.7L282.0 309.5M300.0 306.7L301.5 308.5M301.5 308.5L303.0 310.8M303.0 310.8L304.5 308.4M322.5 308.8L324.0 311.2M324.0 311.2L325.5 311.2M343.5 308.0L345.0 310.0M346.5 312.6L348.0 310.2M366.0 308.6L367.5 310.7M367.5 310.7L369.0 310.2M387.0 307.5L388.5 308.9M388.5 308.9L390.0 311.0M390.0 311.0L391.5 308.8M283.5 336.7L285.0 339.8M285.0 339.8L286.5 342.5M297.0 344.0L298.5 341.1M307.5 341.1L309.0 344.1M316.5 347.9L318.0 344.4M327.0 333.9L328.5 336.8M337.5 349.4L339.0 345.8M340.5 341.8L342.0 338.4M349.5 334.8L351.0 338.6M361.5 344.8L363.0 341.6M370.5 336.0L372.0 338.9M372.0 338.9L373.5 342.4M384.0 343.2L385.5 340.2M394.5 340.7L396.0 344.5M303.0 338.4L304.5 339.3M325.5 335.2L327.0 337.7M342.0 341.9L343.5 338.3M343.5 338.3L345.0 335.8M346.5 333.7L348.0 336.2M348.0 336.2L349.5 339.2M300.0 345.4L301.5 343.2M303.0 342.1L304.5 343.7M321.0 344.5L322.5 340.9M325.5 339.4L327.0 341.3" stroke="#fff" stroke-width="1.5" stroke-opacity="0.25"/><path d="M282.0 309.5L283.5 307.7M298.5 305.6L300.0 306.7M306.0 307.1L307.5 305.5M328.5 307.1L330.0 305.4M340.5 305.1L342.0 306.3M369.0 310.2L370.5 307.9M370.5 307.9L372.0 306.7M382.5 304.2L384.0 304.5M384.0 304.5L385.5 305.7M282.0 304.1L283.5 303.3M283.5 303.3L285.0 302.6M285.0 302.6L286.5 300.8M297.0 300.1L298.5 301.4M298.5 301.4L300.0 302.7M304.5 303.0L306.0 303.1M306.0 303.1L307.5 301.3M318.0 300.0L319.5 301.8M319.5 301.8L321.0 303.2M321.0 303.2L322.5 304.7M325.5 305.2L327.0 304.5M327.0 304.5L328.5 303.4M328.5 303.4L330.0 302.6M340.5 301.5L342.0 303.3M342.0 303.3L343.5 303.5M348.0 305.3L349.5 304.5M349.5 304.5L351.0 303.2M361.5 300.9L363.0 301.5M363.0 301.5L364.5 302.9M364.5 302.9L366.0 304.5M369.0 304.5L370.5 303.2M370.5 303.2L372.0 302.3M372.0 302.3L373.5 300.8M382.5 299.5L384.0 300.5M384.0 300.5L385.5 302.8M385.5 302.8L387.0 302.8M391.5 303.7L393.0 303.2M393.0 303.2L394.5 301.3M288.0 345.6L289.5 348.6M291.0 350.8L292.5 351.5M292.5 351.5L294.0 349.7M294.0 349.7L295.5 347.1M309.0 344.1L310.5 347.4M312.0 349.6L313.5 351.6M333.0 348.1L334.5 350.4M334.5 350.4L336.0 351.2M336.0 351.2L337.5 349.4M354.0 346.4L355.5 349.6M358.5 350.9L360.0 347.8M375.0 345.4L376.5 348.7M376.5 348.7L378.0 350.7M379.5 351.4L381.0 349.8M285.0 343.2L286.5 345.7M286.5 345.7L288.0 348.8M288.0 348.8L289.5 351.8M294.0 352.9L295.5 350.4M295.5 350.4L297.0 347.7M297.0 347.7L298.5 344.5M306.0 341.8L307.5 344.7M307.5 344.7L309.0 347.6M309.0 347.6L310.5 350.6M315.0 353.7L316.5 351.0M316.5 351.0L318.0 347.7M318.0 347.7L319.5 344.0M328.5 340.9L330.0 344.3M330.0 344.3L331.5 347.8M331.5 347.8L333.0 351.2M337.5 352.5L339.0 349.4M339.0 349.4L340.5 345.6M349.5 339.2L351.0 342.3M351.0 342.3L352.5 346.3M352.5 346.3L354.0 349.9M358.5 353.8L360.0 351.2M360.0 351.2L361.5 348.5M361.5 348.5L363.0 345.1M372.0 342.6L373.5 345.7M373.5 345.7L375.0 348.8M375.0 348.8L376.5 351.9M381.0 352.5L382.5 349.8M382.5 349.8L384.0 346.7M384.0 346.7L385.5 343.7M393.0 341.8L394.5 344.9M394.5 344.9L396.0 348.0M283.5 344.3L285.0 346.8M285.0 346.8L286.5 349.7M286.5 349.7L288.0 352.1M288.0 352.1L289.5 355.0M294.0 356.1L295.5 353.7M295.5 353.7L297.0 351.4M297.0 351.4L298.5 348.3M306.0 345.5L307.5 348.1M307.5 348.1L309.0 351.4M309.0 351.4L310.5 354.0M315.0 356.9L316.5 354.2M316.5 354.2L318.0 350.8M318.0 350.8L319.5 347.7M319.5 347.7L321.0 344.5M327.0 341.3L328.5 344.3M328.5 344.3L330.0 347.6M330.0 347.6L331.5 351.4M331.5 351.4L333.0 354.6M337.5 355.7L339.0 352.2M339.0 352.2L340.5 348.8M340.5 348.8L342.0 345.7M349.5 342.5L351.0 345.9M351.0 345.9L352.5 349.7M352.5 349.7L354.0 352.9M358.5 357.0L360.0 354.3M360.0 354.3L361.5 351.7M361.5 351.7L363.0 348.9M370.5 343.6L372.0 346.4M372.0 346.4L373.5 349.1M373.5 349.1L375.0 352.4M375.0 352.4L376.5 355.2M381.0 355.8L382.5 353.4M382.5 353.4L384.0 350.1M384.0 350.1L385.5 347.7M393.0 345.1L394.5 348.3M394.5 348.3L396.0 350.9M283.5 348.0L285.0 350.5M285.0 350.5L286.5 352.9M286.5 352.9L288.0 355.5M288.0 355.5L289.5 357.8M294.0 359.5L295.5 356.9M295.5 356.9L297.0 354.8M297.0 354.8L298.5 351.8M306.0 349.1L307.5 351.5M307.5 351.5L309.0 354.3M309.0 354.3L310.5 357.2M315.0 359.7L316.5 357.3M316.5 357.3L318.0 354.3M318.0 354.3L319.5 351.1M319.5 351.1L321.0 347.9M327.0 345.2L328.5 348.2M328.5 348.2L330.0 351.5M330.0 351.5L331.5 354.8M331.5 354.8L333.0 357.9M337.5 358.4L339.0 355.7M339.0 355.7L340.5 352.8M340.5 352.8L342.0 349.5M349.5 346.8L351.0 349.8M351.0 349.8L352.5 353.0M352.5 353.0L354.0 355.9M358.5 359.8L360.0 357.4M360.0 357.4L361.5 355.2M361.5 355.2L363.0 352.2M370.5 347.4L372.0 350.1M372.0 350.1L373.5 352.9M373.5 352.9L375.0 355.7M375.0 355.7L376.5 358.3M381.0 358.5L382.5 356.4M382.5 356.4L384.0 353.6M384.0 353.6L385.5 350.8M393.0 348.9L394.5 351.6M394.5 351.6L396.0 354.4M283.5 352.2L285.0 353.8M285.0 353.8L286.5 356.4M286.5 356.4L288.0 358.7M294.0 362.2L295.5 360.0M295.5 360.0L297.0 358.1M297.0 358.1L298.5 355.3M306.0 352.8L307.5 355.3M315.0 362.5L316.5 361.0M316.5 361.0L318.0 357.7M318.0 357.7L319.5 355.0M319.5 355.0L321.0 352.1M327.0 349.6L328.5 351.8M331.5 358.4L333.0 361.1M337.5 362.0L339.0 359.2M339.0 359.2L340.5 355.8M340.5 355.8L342.0 353.2M349.5 350.5L351.0 353.1M351.0 353.1L352.5 356.4M358.5 362.8L360.0 360.8M360.0 360.8L361.5 358.6M361.5 358.6L363.0 355.8M373.5 356.2L375.0 359.1M375.0 359.1L376.5 361.2M381.0 362.0L382.5 360.1M382.5 360.1L384.0 357.4M384.0 357.4L385.5 354.4M393.0 352.6L394.5 355.3M394.5 355.3L396.0 357.9" stroke="#fff" stroke-width="1.25" stroke-opacity="0.125"/><path d="M283.5 307.7L285.0 306.7M285.0 306.7L286.5 305.2M297.0 304.5L298.5 305.6M304.5 308.4L306.0 307.1M318.0 304.6L319.5 305.7M319.5 305.7L321.0 306.8M321.0 306.8L322.5 308.8M325.5 311.2L327.0 308.7M327.0 308.7L328.5 307.1M342.0 306.3L343.5 308.0M348.0 310.2L349.5 307.6M349.5 307.6L351.0 306.0M361.5 304.4L363.0 305.1M363.0 305.1L364.5 306.5M364.5 306.5L366.0 308.6M372.0 306.7L373.5 305.1M385.5 305.7L387.0 307.5M391.5 308.8L393.0 307.2M393.0 307.2L394.5 305.9M289.5 348.6L291.0 350.8M310.5 347.4L312.0 349.6M313.5 351.6L315.0 350.8M315.0 350.8L316.5 347.9M331.5 344.8L333.0 348.1M352.5 342.3L354.0 346.4M355.5 349.6L357.0 352.0M357.0 352.0L358.5 350.9M378.0 350.7L379.5 351.4M283.5 340.9L285.0 343.2M319.5 344.0L321.0 340.8M327.0 337.7L328.5 340.9M340.5 345.6L342.0 341.9M370.5 340.0L372.0 342.6" stroke="#fff" stroke-width="1.25" stroke-opacity="0.25"/><path d="M286.5 305.2L288.0 304.1M288.0 304.1L289.5 303.6M289.5 303.6L291.0 303.2M292.5 303.1L294.0 303.4M295.5 303.9L297.0 304.5M309.0 304.5L310.5 303.6M312.0 303.5L313.5 303.0M313.5 303.0L315.0 303.4M315.0 303.4L316.5 303.6M316.5 303.6L318.0 304.6M330.0 305.4L331.5 304.6M331.5 304.6L333.0 303.8M334.5 303.0L336.0 303.3M336.0 303.3L337.5 303.1M339.0 303.7L340.5 305.1M351.0 306.0L352.5 305.1M352.5 305.1L354.0 304.0M355.5 303.3L357.0 302.8M357.0 302.8L358.5 303.5M358.5 303.5L360.0 303.8M360.0 303.8L361.5 304.4M373.5 305.1L375.0 304.1M376.5 303.5L378.0 303.4M378.0 303.4L379.5 303.2M381.0 303.4L382.5 304.2" stroke="#fff" stroke-width="1.0" stroke-opacity="0.25"/><path d="M291.0 303.2L292.5 303.1M294.0 303.4L295.5 303.9M307.5 305.5L309.0 304.5M310.5 303.6L312.0 303.5M333.0 303.8L334.5 303.0M337.5 303.1L339.0 303.7M354.0 304.0L355.5 303.3M375.0 304.1L376.5 303.5M379.5 303.2L381.0 303.4M394.5 305.9L396.0 304.2M286.5 300.8L288.0 300.4M288.0 300.4L289.5 299.2M289.5 299.2L291.0 298.6M291.0 298.6L292.5 297.9M292.5 297.9L294.0 298.4M294.0 298.4L295.5 299.2M295.5 299.2L297.0 300.1M307.5 301.3L309.0 301.4M309.0 301.4L310.5 299.3M310.5 299.3L312.0 299.0M312.0 299.0L313.5 298.2M313.5 298.2L315.0 298.7M315.0 298.7L316.5 300.0M316.5 300.0L318.0 300.0M330.0 302.6L331.5 300.4M331.5 300.4L333.0 299.8M333.0 299.8L334.5 298.6M334.5 298.6L336.0 297.5M336.0 297.5L337.5 298.3M337.5 298.3L339.0 299.4M339.0 299.4L340.5 301.5M351.0 303.2L352.5 301.9M352.5 301.9L354.0 300.5M354.0 300.5L355.5 298.8M355.5 298.8L357.0 298.7M357.0 298.7L358.5 299.0M358.5 299.0L360.0 298.7M360.0 298.7L361.5 300.9M373.5 300.8L375.0 300.2M375.0 300.2L376.5 298.7M376.5 298.7L378.0 298.2M378.0 298.2L379.5 297.5M379.5 297.5L381.0 299.3M381.0 299.3L382.5 299.5M394.5 301.3L396.0 300.3M289.5 351.8L291.0 353.7M291.0 353.7L292.5 354.4M292.5 354.4L294.0 352.9M310.5 350.6L312.0 352.9M312.0 352.9L313.5 354.4M313.5 354.4L315.0 353.7M333.0 351.2L334.5 353.4M334.5 353.4L336.0 354.4M336.0 354.4L337.5 352.5M354.0 349.9L355.5 352.8M355.5 352.8L357.0 354.6M357.0 354.6L358.5 353.8M376.5 351.9L378.0 354.3M378.0 354.3L379.5 354.6M379.5 354.6L381.0 352.5M289.5 355.0L291.0 356.9M291.0 356.9L292.5 357.7M292.5 357.7L294.0 356.1M310.5 354.0L312.0 356.3M312.0 356.3L313.5 357.5M313.5 357.5L315.0 356.9M333.0 354.6L334.5 356.5M334.5 356.5L336.0 357.3M336.0 357.3L337.5 355.7M354.0 352.9L355.5 355.9M355.5 355.9L357.0 357.8M357.0 357.8L358.5 357.0M376.5 355.2L378.0 357.0M378.0 357.0L379.5 357.6M379.5 357.6L381.0 355.8M289.5 357.8L291.0 360.1M291.0 360.1L292.5 360.6M292.5 360.6L294.0 359.5M310.5 357.2L312.0 359.5M312.0 359.5L313.5 360.6M313.5 360.6L315.0 359.7M333.0 357.9L334.5 360.0M334.5 360.0L336.0 360.4M336.0 360.4L337.5 358.4M354.0 355.9L355.5 359.0M355.5 359.0L357.0 360.5M357.0 360.5L358.5 359.8M376.5 358.3L378.0 360.1M378.0 360.1L379.5 360.8M379.5 360.8L381.0 358.5M291.0 363.2L292.5 363.6M292.5 363.6L294.0 362.2M310.5 360.0L312.0 362.1M312.0 362.1L313.5 363.7M333.0 361.1L334.5 362.7M357.0 363.7L358.5 362.8M376.5 361.2L378.0 362.9M378.0 362.9L379.5 363.7M379.5 363.7L381.0 362.0" stroke="#fff" stroke-width="1.0" stroke-opacity="0.125"/><path d="M279.0 302.9L280.5 304.5M280.5 304.5L282.0 304.1M300.0 302.7L301.5 304.0M301.5 304.0L303.0 304.1M303.0 304.1L304.5 303.0M322.5 304.7L324.0 304.8M324.0 304.8L325.5 305.2M343.5 303.5L345.0 305.6M345.0 305.6L346.5 305.3M346.5 305.3L348.0 305.3M366.0 304.5L367.5 305.3M367.5 305.3L369.0 304.5M387.0 302.8L388.5 303.5M388.5 303.5L390.0 304.4M390.0 304.4L391.5 303.7M286.5 342.5L288.0 345.6M295.5 347.1L297.0 344.0M306.0 338.5L307.5 341.1M318.0 344.4L319.5 340.4M319.5 340.4L321.0 337.0M328.5 336.8L330.0 341.0M330.0 341.0L331.5 344.8M339.0 345.8L340.5 341.8M351.0 338.6L352.5 342.3M360.0 347.8L361.5 344.8M373.5 342.4L375.0 345.4M381.0 349.8L382.5 346.7M382.5 346.7L384.0 343.2M393.0 338.0L394.5 340.7M282.0 338.4L283.5 340.9M298.5 344.5L300.0 341.8M300.0 341.8L301.5 339.4M304.5 339.3L306.0 341.8M321.0 340.8L322.5 337.5M363.0 345.1L364.5 342.1M364.5 342.1L366.0 339.3M369.0 337.7L370.5 340.0M385.5 343.7L387.0 341.2M387.0 341.2L388.5 338.5M390.0 337.3L391.5 339.3M391.5 339.3L393.0 341.8M282.0 342.6L283.5 344.3M298.5 348.3L300.0 345.4M304.5 343.7L306.0 345.5M342.0 345.7L343.5 342.3M343.5 342.3L345.0 339.4M346.5 338.1L348.0 340.3M348.0 340.3L349.5 342.5M363.0 348.9L364.5 345.9M364.5 345.9L366.0 343.4M369.0 341.6L370.5 343.6M385.5 347.7L387.0 344.8M387.0 344.8L388.5 342.6M390.0 341.4L391.5 343.0M391.5 343.0L393.0 345.1M282.0 346.6L283.5 348.0M298.5 351.8L300.0 349.1M300.0 349.1L301.5 347.1M303.0 345.8L304.5 347.0M304.5 347.0L306.0 349.1M321.0 347.9L322.5 345.0M325.5 343.4L327.0 345.2M342.0 349.5L343.5 346.2M343.5 346.2L345.0 343.7M346.5 342.0L348.0 344.1M348.0 344.1L349.5 346.8M363.0 352.2L364.5 349.2M364.5 349.2L366.0 347.2M369.0 345.3L370.5 347.4M385.5 350.8L387.0 348.2M387.0 348.2L388.5 346.5M390.0 345.2L391.5 346.6M391.5 346.6L393.0 348.9M282.0 350.2L283.5 352.2M298.5 355.3L300.0 353.1M300.0 353.1L301.5 351.3M303.0 349.6L304.5 351.0M304.5 351.0L306.0 352.8M321.0 352.1L322.5 349.1M325.5 347.3L327.0 349.6M342.0 353.2L343.5 350.0M343.5 350.0L345.0 347.8M346.5 346.4L348.0 348.3M348.0 348.3L349.5 350.5M363.0 355.8L364.5 353.4M364.5 353.4L366.0 350.5M369.0 349.0L370.5 351.4M385.5 354.4L387.0 352.3M387.0 352.3L388.5 350.2M390.0 349.6L391.5 351.0M391.5 351.0L393.0 352.6" stroke="#fff" stroke-width="1.5" stroke-opacity="0.125"/><path d="M279.0 336.9L280.5 334.7M280.5 334.7L282.0 334.6M301.5 335.8L303.0 334.0M324.0 331.1L325.5 331.3M345.0 331.3L346.5 329.8M367.5 333.5L369.0 333.7M387.0 337.1L388.5 335.0M388.5 335.0L390.0 333.8" stroke="#fff" stroke-width="2.0" stroke-opacity="0.25"/><path d="M282.0 334.6L283.5 336.7M298.5 341.1L300.0 338.0M300.0 338.0L301.5 335.8M303.0 334.0L304.5 336.1M304.5 336.1L306.0 338.5M321.0 337.0L322.5 333.6M325.5 331.3L327.0 333.9M343.5 334.8L345.0 331.3M346.5 329.8L348.0 332.1M348.0 332.1L349.5 334.8M363.0 341.6L364.5 338.4M369.0 333.7L370.5 336.0M385.5 340.2L387.0 337.1M390.0 333.8L391.5 335.0M391.5 335.0L393.0 338.0M279.0 340.7L280.5 339.0M280.5 339.0L282.0 338.4M322.5 337.5L324.0 335.0M324.0 335.0L325.5 335.2M345.0 335.8L346.5 333.7M366.0 339.3L367.5 337.5M367.5 337.5L369.0 337.7M388.5 338.5L390.0 337.3M280.5 342.7L282.0 342.6M301.5 343.2L303.0 342.1M322.5 340.9L324.0 338.9M324.0 338.9L325.5 339.4M345.0 339.4L346.5 338.1M366.0 343.4L367.5 341.0M367.5 341.0L369.0 341.6M388.5 342.6L390.0 341.4M301.5 347.1L303.0 345.8M322.5 345.0L324.0 343.3" stroke="#fff" stroke-width="1.75" stroke-opacity="0.25"/><path d="M322.5 333.6L324.0 331.1M366.0 335.3L367.5 333.5" stroke="#fff" stroke-width="2.0" stroke-opacity="0.375"/><path d="M342.0 338.4L343.5 334.8M364.5 338.4L366.0 335.3M279.0 344.5L280.5 342.7M279.0 348.3L280.5 346.5M280.5 346.5L282.0 346.6M324.0 343.3L325.5 343.4M345.0 343.7L346.5 342.0M366.0 347.2L367.5 344.8M367.5 344.8L369.0 345.3M388.5 346.5L390.0 345.2M279.0 352.2L280.5 350.5M280.5 350.5L282.0 350.2M301.5 351.3L303.0 349.6M322.5 349.1L324.0 347.4M324.0 347.4L325.5 347.3M345.0 347.8L346.5 346.4M366.0 350.5L367.5 348.7M367.5 348.7L369.0 349.0M388.5 350.2L390.0 349.6" stroke="#fff" stroke-width="1.75" stroke-opacity="0.125"/><path d="M301.5 339.4L303.0 338.4" stroke="#fff" stroke-width="1.75" stroke-opacity="0.375"/></g>
<ellipse cx="312" cy="352" rx="3" ry="1.2" fill="#fff" opacity="0.45" filter="url(#bl5)"/>
<ellipse cx="335" cy="356" rx="3" ry="1.2" fill="#fff" opacity="0.4" filter="url(#bl5)"/>
<ellipse cx="356" cy="350" rx="3" ry="1.5" fill="#fff" opacity="0.45" filter="url(#bl5)"/>
<ellipse cx="375" cy="355" rx="3" ry="1.2" fill="#fff" opacity="0.35" filter="url(#bl5)"/>
<ellipse cx="300" cy="340" rx="2" ry="1.5" fill="#fff" opacity="0.35" filter="url(#bl5)"/>
</g>
<rect x="281" y="288.5" width="113.5" height="78.5" fill="none" stroke="#707070" stroke-width="1"/>
<g clip-path="url(#ec6)">
<rect x="396" y="289.5" width="113.5" height="77.5" fill="#2a2a2a"/>
<rect x="396" y="289.5" width="113.5" height="77.5" filter="url(#sp6)" mask="url(#mk6)"/>
<path d="M394.0 317.4 L395.5 318.7 L397.0 320.4 L398.5 322.3 L400.0 320.1 L401.5 318.5 L403.0 317.2 L404.5 316.1 L406.0 315.3 L407.5 314.8 L409.0 314.6 L410.5 314.7 L412.0 315.0 L413.5 315.7 L415.0 316.6 L416.5 317.7 L418.0 319.2 L419.5 320.9 L421.0 321.3 L422.5 319.5 L424.0 318.0 L425.5 316.8 L427.0 315.8 L428.5 315.1 L430.0 314.7 L431.5 314.6 L433.0 314.7 L434.5 315.1 L436.0 315.7 L437.5 316.5 L439.0 317.5 L440.5 318.7 L442.0 320.3 L443.5 319.5 L445.0 318.1 L446.5 317.0 L448.0 316.1 L449.5 315.4 L451.0 314.9 L452.5 314.6 L454.0 314.6 L455.5 314.8 L457.0 315.2 L458.5 315.9 L460.0 316.7 L461.5 317.8 L463.0 319.1 L464.5 320.6 L466.0 318.9 L467.5 317.6 L469.0 316.6 L470.5 315.8 L472.0 315.2 L473.5 314.8 L475.0 314.6 L476.5 314.7 L478.0 314.9 L479.5 315.4 L481.0 316.2 L482.5 317.1 L484.0 318.2 L485.5 319.6 L487.0 319.9 L488.5 318.5 L490.0 317.3 L491.5 316.3 L493.0 315.6 L494.5 315.0 L496.0 314.7 L497.5 314.6 L499.0 314.8 L500.5 315.2 L502.0 315.9 L503.5 316.8 L505.0 318.0 L506.5 319.5 L508.0 321.4 L509.5 320.4 L511.0 318.8 L512.5 317.4 L512.5 341.3 L511.0 339.6 L509.5 338.3 L508.0 337.9 L506.5 339.0 L505.0 340.5 L503.5 342.3 L502.0 344.1 L500.5 345.9 L499.0 347.3 L497.5 348.3 L496.0 347.7 L494.5 346.5 L493.0 345.1 L491.5 343.6 L490.0 342.1 L488.5 340.8 L487.0 339.8 L485.5 340.0 L484.0 341.0 L482.5 342.4 L481.0 343.9 L479.5 345.4 L478.0 346.8 L476.5 347.9 L475.0 348.2 L473.5 347.3 L472.0 346.1 L470.5 344.6 L469.0 343.1 L467.5 341.6 L466.0 340.4 L464.5 339.6 L463.0 340.3 L461.5 341.4 L460.0 342.9 L458.5 344.4 L457.0 345.9 L455.5 347.2 L454.0 348.1 L452.5 348.0 L451.0 346.9 L449.5 345.5 L448.0 344.0 L446.5 342.4 L445.0 341.0 L443.5 339.9 L442.0 339.5 L440.5 340.4 L439.0 341.7 L437.5 343.2 L436.0 344.8 L434.5 346.3 L433.0 347.5 L431.5 348.4 L430.0 347.5 L428.5 346.0 L427.0 344.2 L425.5 342.3 L424.0 340.4 L422.5 338.8 L421.0 337.6 L419.5 337.8 L418.0 339.1 L416.5 340.8 L415.0 342.7 L413.5 344.6 L412.0 346.3 L410.5 347.7 L409.0 348.2 L407.5 347.0 L406.0 345.4 L404.5 343.5 L403.0 341.5 L401.5 339.7 L400.0 338.2 L398.5 337.1 L397.0 338.0 L395.5 339.5 L394.0 341.3 Z" fill="#161616" opacity="0.6" filter="url(#bl6)"/>
<rect x="396" y="289.5" width="113.5" height="3" fill="#d0d0d0" opacity="0.6"/>
<path d="M394.0 360.8 L395.5 360.8 L397.0 360.1 L398.5 359.6 L400.0 360.1 L401.5 361.4 L403.0 360.5 L404.5 362.0 L406.0 360.2 L407.5 361.3 L409.0 361.5 L410.5 360.8 L412.0 362.7 L413.5 361.1 L415.0 362.4 L416.5 362.6 L418.0 359.9 L419.5 361.5 L421.0 361.1 L422.5 361.1 L424.0 359.5 L425.5 361.2 L427.0 362.1 L428.5 361.2 L430.0 361.1 L431.5 361.4 L433.0 361.2 L434.5 362.8 L436.0 361.2 L437.5 361.2 L439.0 361.6 L440.5 362.3 L442.0 359.7 L443.5 359.1 L445.0 362.5 L446.5 362.4 L448.0 362.5 L449.5 361.9 L451.0 361.1 L452.5 360.9 L454.0 361.4 L455.5 361.8 L457.0 360.4 L458.5 362.3 L460.0 362.1 L461.5 359.5 L463.0 361.8 L464.5 360.3 L466.0 362.1 L467.5 361.0 L469.0 362.4 L470.5 361.5 L472.0 362.2 L473.5 361.9 L475.0 360.5 L476.5 360.8 L478.0 361.0 L479.5 361.5 L481.0 361.1 L482.5 361.4 L484.0 361.5 L485.5 360.3 L487.0 359.9 L488.5 360.9 L490.0 362.7 L491.5 362.4 L493.0 362.2 L494.5 362.9 L496.0 361.1 L497.5 360.7 L499.0 360.7 L500.5 360.6 L502.0 360.1 L503.5 361.8 L505.0 362.4 L506.5 359.4 L508.0 360.7 L509.5 361.7 L511.0 361.7 L512.5 360.1 L514.0 361.9 L511.5 369.0 L394 369.0 Z" fill="#f6f6f6" opacity="0.94" filter="url(#bl6)"/>
<clipPath id="bc6"><path d="M394.0 360.8 L395.5 360.8 L397.0 360.1 L398.5 359.6 L400.0 360.1 L401.5 361.4 L403.0 360.5 L404.5 362.0 L406.0 360.2 L407.5 361.3 L409.0 361.5 L410.5 360.8 L412.0 362.7 L413.5 361.1 L415.0 362.4 L416.5 362.6 L418.0 359.9 L419.5 361.5 L421.0 361.1 L422.5 361.1 L424.0 359.5 L425.5 361.2 L427.0 362.1 L428.5 361.2 L430.0 361.1 L431.5 361.4 L433.0 361.2 L434.5 362.8 L436.0 361.2 L437.5 361.2 L439.0 361.6 L440.5 362.3 L442.0 359.7 L443.5 359.1 L445.0 362.5 L446.5 362.4 L448.0 362.5 L449.5 361.9 L451.0 361.1 L452.5 360.9 L454.0 361.4 L455.5 361.8 L457.0 360.4 L458.5 362.3 L460.0 362.1 L461.5 359.5 L463.0 361.8 L464.5 360.3 L466.0 362.1 L467.5 361.0 L469.0 362.4 L470.5 361.5 L472.0 362.2 L473.5 361.9 L475.0 360.5 L476.5 360.8 L478.0 361.0 L479.5 361.5 L481.0 361.1 L482.5 361.4 L484.0 361.5 L485.5 360.3 L487.0 359.9 L488.5 360.9 L490.0 362.7 L491.5 362.4 L493.0 362.2 L494.5 362.9 L496.0 361.1 L497.5 360.7 L499.0 360.7 L500.5 360.6 L502.0 360.1 L503.5 361.8 L505.0 362.4 L506.5 359.4 L508.0 360.7 L509.5 361.7 L511.0 361.7 L512.5 360.1 L514.0 361.9 L511.5 369.0 L394 369.0 Z"/></clipPath>
<rect x="396" y="289.5" width="113.5" height="77.5" filter="url(#dk6)" clip-path="url(#bc6)" opacity="0.2"/>
<g filter="url(#bl6)" fill="none" stroke-linecap="round"><path d="M394.0 314.2L395.5 315.5M422.5 316.3L424.0 314.7M398.5 340.2L400.0 341.4M416.5 344.0L418.0 342.3M422.5 341.7L424.0 343.1M437.5 346.3L439.0 344.5M461.5 344.5L463.0 343.3M464.5 342.9L466.0 343.5M466.0 343.5L467.5 344.8M487.0 343.1L488.5 343.9M488.5 343.9L490.0 345.1M503.5 345.3L505.0 343.3M509.5 341.5L511.0 342.7M418.0 345.9L419.5 344.5M440.5 347.2L442.0 345.6M485.5 346.2L487.0 346.1M506.5 345.2L508.0 344.1M397.0 348.3L398.5 347.2M418.0 348.7L419.5 347.8M419.5 347.8L421.0 348.0M440.5 350.5L442.0 349.2M484.0 350.8L485.5 350.1M485.5 350.1L487.0 350.0M506.5 348.8L508.0 347.8M397.0 351.6L398.5 350.6M440.5 353.3L442.0 352.9M463.0 353.7L464.5 352.9M484.0 354.1L485.5 353.5M506.5 352.6L508.0 351.7M397.0 355.0L398.5 354.6" stroke="#fff" stroke-width="1.75" stroke-opacity="0.25"/><path d="M395.5 315.5L397.0 317.4M416.5 314.5L418.0 316.3M461.5 314.6L463.0 316.0M482.5 314.3L484.0 315.1" stroke="#fff" stroke-width="1.75" stroke-opacity="0.5"/><path d="M397.0 317.4L398.5 319.0M440.5 315.7L442.0 317.1M442.0 317.1L443.5 316.7M484.0 315.1L485.5 316.3M440.5 343.5L442.0 342.4" stroke="#fff" stroke-width="2.0" stroke-opacity="0.5"/><path d="M398.5 319.0L400.0 317.0M400.0 317.0L401.5 315.5M421.0 318.3L422.5 316.3M437.5 313.2L439.0 314.3M439.0 314.3L440.5 315.7M443.5 316.7L445.0 314.9M460.0 314.0L461.5 314.6M464.5 317.8L466.0 315.6M466.0 315.6L467.5 314.9M487.0 316.9L488.5 315.4M488.5 315.4L490.0 314.5M503.5 313.6L505.0 314.7M505.0 314.7L506.5 316.8M509.5 317.8L511.0 316.1M394.0 344.3L395.5 342.8M395.5 342.8L397.0 341.2M400.0 341.4L401.5 342.4M421.0 340.9L422.5 341.7M439.0 344.5L440.5 343.5M443.5 342.7L445.0 344.0M460.0 346.0L461.5 344.5M482.5 345.4L484.0 343.9M505.0 343.3L506.5 342.1M397.0 344.7L398.5 343.7M419.5 344.5L421.0 344.2M463.0 346.5L464.5 346.2M484.0 347.5L485.5 346.2M463.0 350.5L464.5 349.8" stroke="#fff" stroke-width="1.75" stroke-opacity="0.375"/><path d="M401.5 315.5L403.0 314.2M403.0 314.2L404.5 312.8M415.0 313.8L416.5 314.5M445.0 314.9L446.5 314.1M446.5 314.1L448.0 313.4M448.0 313.4L449.5 312.5M469.0 314.0L470.5 313.1M478.0 311.7L479.5 312.1M490.0 314.5L491.5 313.0M502.0 312.8L503.5 313.6M395.5 311.4L397.0 312.7M398.5 314.2L400.0 312.6M418.0 311.5L419.5 313.4M419.5 313.4L421.0 313.9M439.0 310.4L440.5 311.1M440.5 311.1L442.0 312.6M442.0 312.6L443.5 311.8M461.5 310.3L463.0 312.0M463.0 312.0L464.5 312.7M464.5 312.7L466.0 311.7M484.0 310.9L485.5 311.8M505.0 310.8L506.5 311.8M506.5 311.8L508.0 314.0M508.0 314.0L509.5 312.8M401.5 342.4L403.0 344.3M403.0 344.3L404.5 346.8M412.0 349.4L413.5 347.6M413.5 347.6L415.0 345.7M415.0 345.7L416.5 344.0M424.0 343.1L425.5 345.1M434.5 349.1L436.0 347.8M436.0 347.8L437.5 346.3M445.0 344.0L446.5 345.7M446.5 345.7L448.0 347.2M448.0 347.2L449.5 348.4M455.5 350.1L457.0 348.9M457.0 348.9L458.5 347.3M458.5 347.3L460.0 346.0M467.5 344.8L469.0 346.1M478.0 349.8L479.5 348.1M479.5 348.1L481.0 347.0M481.0 347.0L482.5 345.4M490.0 345.1L491.5 346.4M491.5 346.4L493.0 348.0M500.5 349.0L502.0 347.5M502.0 347.5L503.5 345.3M394.0 347.3L395.5 345.9M398.5 343.7L400.0 344.6M400.0 344.6L401.5 346.2M416.5 347.4L418.0 345.9M421.0 344.2L422.5 345.0M422.5 345.0L424.0 346.5M439.0 348.2L440.5 347.2M442.0 345.6L443.5 346.0M443.5 346.0L445.0 347.3M460.0 348.8L461.5 347.6M461.5 347.6L463.0 346.5M464.5 346.2L466.0 346.9M466.0 346.9L467.5 348.0M482.5 348.5L484.0 347.5M487.0 346.1L488.5 347.0M488.5 347.0L490.0 348.7M503.5 348.5L505.0 346.9M505.0 346.9L506.5 345.2M508.0 344.1L509.5 344.9M509.5 344.9L511.0 346.0M394.0 351.2L395.5 349.6M398.5 347.2L400.0 348.1M400.0 348.1L401.5 349.8M416.5 350.5L418.0 348.7M422.5 348.4L424.0 350.5M437.5 352.5L439.0 351.0M439.0 351.0L440.5 350.5M442.0 349.2L443.5 349.5M443.5 349.5L445.0 350.9M460.0 352.5L461.5 350.8M461.5 350.8L463.0 350.5M464.5 349.8L466.0 350.2M466.0 350.2L467.5 351.1M482.5 352.0L484.0 350.8M487.0 350.0L488.5 350.8M488.5 350.8L490.0 351.9M503.5 351.6L505.0 350.3M505.0 350.3L506.5 348.8M508.0 347.8L509.5 348.4M509.5 348.4L511.0 349.8M439.0 354.6L440.5 353.3M508.0 351.7L509.5 352.1M509.5 352.1L511.0 353.2" stroke="#fff" stroke-width="1.5" stroke-opacity="0.25"/><path d="M404.5 312.8L406.0 312.5M407.5 311.8L409.0 311.4M410.5 311.4L412.0 312.0M427.0 312.8L428.5 312.1M428.5 312.1L430.0 311.7M430.0 311.7L431.5 311.3M431.5 311.3L433.0 311.9M433.0 311.9L434.5 312.0M449.5 312.5L451.0 312.2M451.0 312.2L452.5 311.4M452.5 311.4L454.0 311.9M454.0 311.9L455.5 311.9M470.5 313.1L472.0 312.0M475.0 311.9L476.5 311.5M493.0 312.3L494.5 312.0M494.5 312.0L496.0 311.8M496.0 311.8L497.5 311.8M497.5 311.8L499.0 311.4M499.0 311.4L500.5 312.1" stroke="#fff" stroke-width="1.25" stroke-opacity="0.375"/><path d="M406.0 312.5L407.5 311.8M409.0 311.4L410.5 311.4M472.0 312.0L473.5 312.0M473.5 312.0L475.0 311.9M476.5 311.5L478.0 311.7M394.0 310.1L395.5 311.4M400.0 312.6L401.5 311.4M401.5 311.4L403.0 310.0M415.0 309.5L416.5 310.6M416.5 310.6L418.0 311.5M421.0 313.9L422.5 311.7M422.5 311.7L424.0 310.6M424.0 310.6L425.5 309.5M436.0 308.7L437.5 309.6M437.5 309.6L439.0 310.4M457.0 308.1L458.5 309.1M460.0 309.4L461.5 310.3M466.0 311.7L467.5 310.5M479.5 308.7L481.0 308.9M481.0 308.9L482.5 309.8M488.5 311.1L490.0 310.2M490.0 310.2L491.5 309.1M503.5 309.7L505.0 310.8M509.5 312.8L511.0 311.5M404.5 346.8L406.0 348.2M406.0 348.2L407.5 350.3M407.5 350.3L409.0 350.9M409.0 350.9L410.5 351.0M410.5 351.0L412.0 349.4M427.0 347.1L428.5 349.0M428.5 349.0L430.0 350.3M430.0 350.3L431.5 351.1M431.5 351.1L433.0 350.2M433.0 350.2L434.5 349.1M449.5 348.4L451.0 350.0M451.0 350.0L452.5 350.7M452.5 350.7L454.0 351.3M454.0 351.3L455.5 350.1M470.5 347.8L472.0 349.3M472.0 349.3L473.5 350.6M473.5 350.6L475.0 350.9M475.0 350.9L476.5 351.0M493.0 348.0L494.5 349.6M494.5 349.6L496.0 350.9M496.0 350.9L497.5 351.5M497.5 351.5L499.0 350.2M499.0 350.2L500.5 349.0M403.0 347.9L404.5 349.7M410.5 353.9L412.0 352.7M415.0 348.7L416.5 347.4M425.5 348.4L427.0 350.4M433.0 353.2L434.5 352.7M434.5 352.7L436.0 350.7M436.0 350.7L437.5 349.2M446.5 348.7L448.0 350.1M448.0 350.1L449.5 351.9M449.5 351.9L451.0 353.0M457.0 352.1L458.5 350.7M469.0 349.5L470.5 351.0M476.5 353.9L478.0 352.6M478.0 352.6L479.5 351.4M490.0 348.7L491.5 350.0M493.0 351.4L494.5 352.6M502.0 350.3L503.5 348.5M401.5 349.8L403.0 351.0M436.0 354.1L437.5 352.5M448.0 353.3L449.5 354.9M449.5 354.9L451.0 355.9M467.5 351.1L469.0 352.9M470.5 353.9L472.0 355.0M478.0 355.7L479.5 354.4M490.0 351.9L491.5 353.0M493.0 354.3L494.5 355.4" stroke="#fff" stroke-width="1.25" stroke-opacity="0.25"/><path d="M412.0 312.0L413.5 312.5M413.5 312.5L415.0 313.8M424.0 314.7L425.5 314.1M425.5 314.1L427.0 312.8M434.5 312.0L436.0 312.9M436.0 312.9L437.5 313.2M455.5 311.9L457.0 312.4M457.0 312.4L458.5 312.9M458.5 312.9L460.0 314.0M467.5 314.9L469.0 314.0M479.5 312.1L481.0 312.9M481.0 312.9L482.5 314.3M491.5 313.0L493.0 312.3M500.5 312.1L502.0 312.8M397.0 312.7L398.5 314.2M485.5 311.8L487.0 312.3M395.5 345.9L397.0 344.7" stroke="#fff" stroke-width="1.5" stroke-opacity="0.375"/><path d="M418.0 316.3L419.5 318.2M419.5 318.2L421.0 318.3M485.5 316.3L487.0 316.9M506.5 316.8L508.0 318.7M508.0 318.7L509.5 317.8M397.0 341.2L398.5 340.2M418.0 342.3L419.5 340.6M442.0 342.4L443.5 342.7M463.0 343.3L464.5 342.9M506.5 342.1L508.0 340.8M508.0 340.8L509.5 341.5" stroke="#fff" stroke-width="2.0" stroke-opacity="0.375"/><path d="M463.0 316.0L464.5 317.8" stroke="#fff" stroke-width="2.0" stroke-opacity="0.625"/><path d="M403.0 310.0L404.5 308.8M404.5 308.8L406.0 308.2M406.0 308.2L407.5 307.9M410.5 308.0L412.0 307.8M427.0 308.5L428.5 308.1M428.5 308.1L430.0 307.5M448.0 308.6L449.5 308.5M451.0 307.6L452.5 307.5M452.5 307.5L454.0 307.3M454.0 307.3L455.5 307.7M470.5 309.0L472.0 308.4M473.5 308.0L475.0 307.5M476.5 307.6L478.0 307.6M478.0 307.6L479.5 308.7M491.5 309.1L493.0 308.6M493.0 308.6L494.5 307.9M496.0 308.0L497.5 307.8M499.0 307.8L500.5 307.9M403.0 305.6L404.5 305.0M404.5 305.0L406.0 304.7M406.0 304.7L407.5 303.0M407.5 303.0L409.0 302.5M409.0 302.5L410.5 302.7M410.5 302.7L412.0 303.3M412.0 303.3L413.5 304.9M425.5 305.7L427.0 304.2M427.0 304.2L428.5 303.4M428.5 303.4L430.0 303.6M430.0 303.6L431.5 303.0M431.5 303.0L433.0 303.5M433.0 303.5L434.5 303.2M434.5 303.2L436.0 304.8M448.0 304.9L449.5 303.6M449.5 303.6L451.0 303.6M451.0 303.6L452.5 302.2M452.5 302.2L454.0 302.7M454.0 302.7L455.5 302.8M455.5 302.8L457.0 304.2M469.0 305.4L470.5 305.0M470.5 305.0L472.0 303.1M472.0 303.1L473.5 302.9M473.5 302.9L475.0 303.2M475.0 303.2L476.5 303.2M476.5 303.2L478.0 303.0M478.0 303.0L479.5 304.3M491.5 304.7L493.0 303.7M493.0 303.7L494.5 303.7M494.5 303.7L496.0 303.4M496.0 303.4L497.5 302.4M497.5 302.4L499.0 302.5M499.0 302.5L500.5 303.6M500.5 303.6L502.0 305.1M403.0 299.8L404.5 298.7M404.5 298.7L406.0 298.6M406.0 298.6L407.5 298.7M407.5 298.7L409.0 297.0M409.0 297.0L410.5 297.1M410.5 297.1L412.0 298.8M412.0 298.8L413.5 299.2M425.5 300.1L427.0 299.4M427.0 299.4L428.5 298.0M428.5 298.0L430.0 298.2M430.0 298.2L431.5 297.9M431.5 297.9L433.0 298.3M433.0 298.3L434.5 298.4M434.5 298.4L436.0 299.0M448.0 299.7L449.5 298.4M449.5 298.4L451.0 298.4M451.0 298.4L452.5 297.2M452.5 297.2L454.0 298.2M454.0 298.2L455.5 297.6M455.5 297.6L457.0 297.8M469.0 298.8L470.5 299.4M470.5 299.4L472.0 298.9M472.0 298.9L473.5 297.6M473.5 297.6L475.0 297.7M475.0 297.7L476.5 297.4M476.5 297.4L478.0 298.5M478.0 298.5L479.5 298.2M491.5 298.9L493.0 299.4M493.0 299.4L494.5 298.5M494.5 298.5L496.0 297.5M496.0 297.5L497.5 298.3M497.5 298.3L499.0 297.5M499.0 297.5L500.5 298.2M500.5 298.2L502.0 299.3M407.5 353.1L409.0 353.9M409.0 353.9L410.5 353.9M428.5 352.1L430.0 353.8M431.5 354.6L433.0 353.2M451.0 353.0L452.5 354.3M473.5 353.2L475.0 354.5M494.5 352.6L496.0 353.7M406.0 354.5L407.5 355.8M407.5 355.8L409.0 356.9M409.0 356.9L410.5 356.7M428.5 355.2L430.0 356.3M431.5 357.4L433.0 356.8M451.0 355.9L452.5 357.2M452.5 357.2L454.0 357.0M454.0 357.0L455.5 356.6M472.0 355.0L473.5 356.5M473.5 356.5L475.0 356.9M475.0 356.9L476.5 357.2M494.5 355.4L496.0 356.6M496.0 356.6L497.5 357.7M497.5 357.7L499.0 356.3M406.0 357.9L407.5 359.4M407.5 359.4L409.0 360.4M409.0 360.4L410.5 359.9M428.5 358.2L430.0 359.9M430.0 359.9L431.5 360.7M431.5 360.7L433.0 359.6M451.0 358.8L452.5 359.7M452.5 359.7L454.0 360.4M454.0 360.4L455.5 359.4M472.0 358.6L473.5 359.7M473.5 359.7L475.0 360.2M475.0 360.2L476.5 360.0M494.5 358.6L496.0 359.9M496.0 359.9L497.5 360.6M497.5 360.6L499.0 359.8M406.0 360.7L407.5 362.4M407.5 362.4L409.0 363.0M409.0 363.0L410.5 362.9M428.5 361.8L430.0 362.5M430.0 362.5L431.5 363.0M431.5 363.0L433.0 362.5M451.0 362.1L452.5 363.2M452.5 363.2L454.0 363.0M454.0 363.0L455.5 362.7M472.0 361.8L473.5 362.6M473.5 362.6L475.0 363.4M475.0 363.4L476.5 363.2M494.5 362.0L496.0 363.1M496.0 363.1L497.5 363.6M497.5 363.6L499.0 362.5" stroke="#fff" stroke-width="1.0" stroke-opacity="0.125"/><path d="M407.5 307.9L409.0 307.3M409.0 307.3L410.5 308.0M412.0 307.8L413.5 308.9M425.5 309.5L427.0 308.5M430.0 307.5L431.5 307.5M431.5 307.5L433.0 308.0M433.0 308.0L434.5 308.0M434.5 308.0L436.0 308.7M449.5 308.5L451.0 307.6M455.5 307.7L457.0 308.1M469.0 309.1L470.5 309.0M472.0 308.4L473.5 308.0M475.0 307.5L476.5 307.6M494.5 307.9L496.0 308.0M497.5 307.8L499.0 307.8M500.5 307.9L502.0 309.0M406.0 351.9L407.5 353.1M430.0 353.8L431.5 354.6M452.5 354.3L454.0 354.1M454.0 354.1L455.5 353.4M472.0 352.5L473.5 353.2M475.0 354.5L476.5 353.9M496.0 353.7L497.5 354.1M497.5 354.1L499.0 353.5M430.0 356.3L431.5 357.4" stroke="#fff" stroke-width="1.0" stroke-opacity="0.25"/><path d="M413.5 308.9L415.0 309.5M443.5 311.8L445.0 310.9M445.0 310.9L446.5 309.5M446.5 309.5L448.0 308.6M458.5 309.1L460.0 309.4M467.5 310.5L469.0 309.1M482.5 309.8L484.0 310.9M487.0 312.3L488.5 311.1M502.0 309.0L503.5 309.7M394.0 305.9L395.5 306.7M400.0 307.1L401.5 306.3M401.5 306.3L403.0 305.6M413.5 304.9L415.0 305.6M415.0 305.6L416.5 306.6M416.5 306.6L418.0 306.7M421.0 308.0L422.5 307.0M422.5 307.0L424.0 306.2M424.0 306.2L425.5 305.7M436.0 304.8L437.5 304.6M437.5 304.6L439.0 306.2M443.5 306.9L445.0 306.6M445.0 306.6L446.5 305.4M446.5 305.4L448.0 304.9M457.0 304.2L458.5 304.9M458.5 304.9L460.0 304.9M460.0 304.9L461.5 305.4M466.0 306.8L467.5 306.4M467.5 306.4L469.0 305.4M479.5 304.3L481.0 305.3M481.0 305.3L482.5 305.2M482.5 305.2L484.0 306.8M487.0 307.4L488.5 306.7M488.5 306.7L490.0 305.9M490.0 305.9L491.5 304.7M502.0 305.1L503.5 305.2M503.5 305.2L505.0 306.2M509.5 307.8L511.0 306.5M394.0 300.5L395.5 300.1M400.0 301.2L401.5 300.4M401.5 300.4L403.0 299.8M413.5 299.2L415.0 299.4M415.0 299.4L416.5 300.0M416.5 300.0L418.0 301.3M421.0 301.0L422.5 301.5M422.5 301.5L424.0 299.9M424.0 299.9L425.5 300.1M436.0 299.0L437.5 300.1M437.5 300.1L439.0 300.3M443.5 300.8L445.0 299.7M445.0 299.7L446.5 299.2M446.5 299.2L448.0 299.7M457.0 297.8L458.5 299.5M458.5 299.5L460.0 299.1M460.0 299.1L461.5 299.5M466.0 299.7L467.5 300.4M467.5 300.4L469.0 298.8M479.5 298.2L481.0 298.5M481.0 298.5L482.5 299.4M482.5 299.4L484.0 299.5M487.0 300.0L488.5 299.9M488.5 299.9L490.0 300.1M490.0 300.1L491.5 298.9M502.0 299.3L503.5 299.8M503.5 299.8L505.0 300.4M509.5 300.7L511.0 300.9M476.5 351.0L478.0 349.8M401.5 346.2L403.0 347.9M404.5 349.7L406.0 351.9M412.0 352.7L413.5 350.6M413.5 350.6L415.0 348.7M424.0 346.5L425.5 348.4M427.0 350.4L428.5 352.1M445.0 347.3L446.5 348.7M455.5 353.4L457.0 352.1M458.5 350.7L460.0 348.8M467.5 348.0L469.0 349.5M470.5 351.0L472.0 352.5M479.5 351.4L481.0 349.9M481.0 349.9L482.5 348.5M491.5 350.0L493.0 351.4M499.0 353.5L500.5 352.0M500.5 352.0L502.0 350.3M403.0 351.0L404.5 353.3M404.5 353.3L406.0 354.5M410.5 356.7L412.0 355.4M412.0 355.4L413.5 354.0M413.5 354.0L415.0 352.4M415.0 352.4L416.5 350.5M424.0 350.5L425.5 352.2M425.5 352.2L427.0 353.4M427.0 353.4L428.5 355.2M433.0 356.8L434.5 355.7M434.5 355.7L436.0 354.1M445.0 350.9L446.5 352.3M446.5 352.3L448.0 353.3M455.5 356.6L457.0 355.4M457.0 355.4L458.5 353.5M458.5 353.5L460.0 352.5M469.0 352.9L470.5 353.9M476.5 357.2L478.0 355.7M479.5 354.4L481.0 353.5M481.0 353.5L482.5 352.0M491.5 353.0L493.0 354.3M499.0 356.3L500.5 355.1M500.5 355.1L502.0 353.3M502.0 353.3L503.5 351.6M401.5 353.3L403.0 354.4M403.0 354.4L404.5 356.2M404.5 356.2L406.0 357.9M410.5 359.9L412.0 358.9M412.0 358.9L413.5 357.0M413.5 357.0L415.0 355.2M415.0 355.2L416.5 354.2M424.0 353.7L425.5 355.0M425.5 355.0L427.0 356.6M427.0 356.6L428.5 358.2M433.0 359.6L434.5 358.7M434.5 358.7L436.0 357.5M436.0 357.5L437.5 356.2M445.0 353.8L446.5 355.6M446.5 355.6L448.0 356.8M448.0 356.8L449.5 357.8M449.5 357.8L451.0 358.8M455.5 359.4L457.0 358.2M457.0 358.2L458.5 357.3M458.5 357.3L460.0 355.4M467.5 354.5L469.0 356.1M469.0 356.1L470.5 357.2M470.5 357.2L472.0 358.6M476.5 360.0L478.0 359.1M478.0 359.1L479.5 358.1M479.5 358.1L481.0 356.3M481.0 356.3L482.5 354.9M490.0 355.0L491.5 356.4M491.5 356.4L493.0 357.3M493.0 357.3L494.5 358.6M499.0 359.8L500.5 358.5M500.5 358.5L502.0 356.7M502.0 356.7L503.5 354.9M401.5 356.7L403.0 357.8M403.0 357.8L404.5 359.8M404.5 359.8L406.0 360.7M410.5 362.9L412.0 361.4M412.0 361.4L413.5 360.5M413.5 360.5L415.0 358.6M415.0 358.6L416.5 357.5M424.0 356.9L425.5 358.8M425.5 358.8L427.0 360.3M427.0 360.3L428.5 361.8M433.0 362.5L434.5 362.0M434.5 362.0L436.0 360.4M436.0 360.4L437.5 359.1M445.0 357.7L446.5 358.7M446.5 358.7L448.0 359.9M448.0 359.9L449.5 360.8M449.5 360.8L451.0 362.1M455.5 362.7L457.0 361.7M457.0 361.7L458.5 359.9M458.5 359.9L460.0 359.2M467.5 358.2L469.0 359.3M469.0 359.3L470.5 360.4M470.5 360.4L472.0 361.8M476.5 363.2L478.0 361.9M478.0 361.9L479.5 361.1M479.5 361.1L481.0 359.7M481.0 359.7L482.5 358.5M490.0 358.1L491.5 359.3M491.5 359.3L493.0 360.8M493.0 360.8L494.5 362.0M499.0 362.5L500.5 361.1M500.5 361.1L502.0 359.9M502.0 359.9L503.5 358.3" stroke="#fff" stroke-width="1.25" stroke-opacity="0.125"/><path d="M395.5 306.7L397.0 307.8M397.0 307.8L398.5 307.8M398.5 307.8L400.0 307.1M418.0 306.7L419.5 307.9M419.5 307.9L421.0 308.0M439.0 306.2L440.5 306.1M440.5 306.1L442.0 306.9M442.0 306.9L443.5 306.9M461.5 305.4L463.0 306.7M463.0 306.7L464.5 306.9M464.5 306.9L466.0 306.8M484.0 306.8L485.5 306.5M485.5 306.5L487.0 307.4M505.0 306.2L506.5 307.9M506.5 307.9L508.0 307.9M508.0 307.9L509.5 307.8M395.5 300.1L397.0 301.0M397.0 301.0L398.5 302.0M398.5 302.0L400.0 301.2M418.0 301.3L419.5 301.0M419.5 301.0L421.0 301.0M439.0 300.3L440.5 299.9M440.5 299.9L442.0 300.3M442.0 300.3L443.5 300.8M461.5 299.5L463.0 300.0M463.0 300.0L464.5 300.8M464.5 300.8L466.0 299.7M484.0 299.5L485.5 300.7M485.5 300.7L487.0 300.0M505.0 300.4L506.5 300.9M506.5 300.9L508.0 301.1M508.0 301.1L509.5 300.7M425.5 345.1L427.0 347.1M469.0 346.1L470.5 347.8M437.5 349.2L439.0 348.2M395.5 349.6L397.0 348.3M421.0 348.0L422.5 348.4M394.0 354.6L395.5 352.7M395.5 352.7L397.0 351.6M398.5 350.6L400.0 352.0M400.0 352.0L401.5 353.3M416.5 354.2L418.0 352.7M421.0 351.2L422.5 352.3M422.5 352.3L424.0 353.7M437.5 356.2L439.0 354.6M442.0 352.9L443.5 353.3M443.5 353.3L445.0 353.8M460.0 355.4L461.5 354.5M461.5 354.5L463.0 353.7M464.5 352.9L466.0 353.8M466.0 353.8L467.5 354.5M482.5 354.9L484.0 354.1M487.0 353.4L488.5 353.8M488.5 353.8L490.0 355.0M503.5 354.9L505.0 353.4M505.0 353.4L506.5 352.6M394.0 357.6L395.5 356.0M395.5 356.0L397.0 355.0M398.5 354.6L400.0 355.0M400.0 355.0L401.5 356.7M416.5 357.5L418.0 355.9M421.0 355.0L422.5 355.9M422.5 355.9L424.0 356.9M437.5 359.1L439.0 358.2M439.0 358.2L440.5 357.2M442.0 356.0L443.5 356.4M443.5 356.4L445.0 357.7M460.0 359.2L461.5 357.7M461.5 357.7L463.0 356.9M464.5 356.7L466.0 357.3M466.0 357.3L467.5 358.2M482.5 358.5L484.0 357.7M487.0 356.8L488.5 357.6M488.5 357.6L490.0 358.1M503.5 358.3L505.0 357.1M505.0 357.1L506.5 355.5M508.0 355.2L509.5 355.5M509.5 355.5L511.0 356.4" stroke="#fff" stroke-width="1.5" stroke-opacity="0.125"/><path d="M419.5 340.6L421.0 340.9M484.0 343.9L485.5 342.9M485.5 342.9L487.0 343.1" stroke="#fff" stroke-width="2.0" stroke-opacity="0.25"/><path d="M418.0 352.7L419.5 351.2M419.5 351.2L421.0 351.2M485.5 353.5L487.0 353.4M418.0 355.9L419.5 354.7M419.5 354.7L421.0 355.0M440.5 357.2L442.0 356.0M463.0 356.9L464.5 356.7M484.0 357.7L485.5 356.4M485.5 356.4L487.0 356.8M506.5 355.5L508.0 355.2" stroke="#fff" stroke-width="1.75" stroke-opacity="0.125"/></g>
</g>
<rect x="396" y="289.5" width="113.5" height="77.5" fill="none" stroke="#707070" stroke-width="1"/>
<g clip-path="url(#ec7)">
<rect x="281" y="387.5" width="113.5" height="78" fill="#242424"/>
<rect x="281" y="387.5" width="113.5" height="78" filter="url(#sp7)" mask="url(#mk7)"/>
<path d="M279.0 412.7 L280.5 415.1 L282.0 414.3 L283.5 412.0 L285.0 410.2 L286.5 408.7 L288.0 407.5 L289.5 406.7 L291.0 406.2 L292.5 406.0 L294.0 406.2 L295.5 406.7 L297.0 407.5 L298.5 408.6 L300.0 410.1 L301.5 411.8 L303.0 414.0 L304.5 414.9 L306.0 412.5 L307.5 410.6 L309.0 409.1 L310.5 407.8 L312.0 406.9 L313.5 406.3 L315.0 406.0 L316.5 406.1 L318.0 406.5 L319.5 407.2 L321.0 408.3 L322.5 409.7 L324.0 411.4 L325.5 413.4 L327.0 416.3 L328.5 413.4 L330.0 411.4 L331.5 409.7 L333.0 408.3 L334.5 407.2 L336.0 406.5 L337.5 406.1 L339.0 406.0 L340.5 406.3 L342.0 406.9 L343.5 407.7 L345.0 408.9 L346.5 410.4 L348.0 412.1 L349.5 414.3 L351.0 413.5 L352.5 411.5 L354.0 409.8 L355.5 408.5 L357.0 407.4 L358.5 406.6 L360.0 406.2 L361.5 406.0 L363.0 406.2 L364.5 406.8 L366.0 407.7 L367.5 409.0 L369.0 410.6 L370.5 412.6 L372.0 415.0 L373.5 416.0 L375.0 413.3 L376.5 411.2 L378.0 409.5 L379.5 408.1 L381.0 407.0 L382.5 406.3 L384.0 406.0 L385.5 406.1 L387.0 406.5 L388.5 407.3 L390.0 408.4 L391.5 409.8 L393.0 411.6 L394.5 413.7 L396.0 416.7 L397.5 413.7 L397.5 430.3 L396.0 429.0 L394.5 430.3 L393.0 432.2 L391.5 434.5 L390.0 436.9 L388.5 439.4 L387.0 441.5 L385.5 443.2 L384.0 443.6 L382.5 442.1 L381.0 439.9 L379.5 437.4 L378.0 434.8 L376.5 432.3 L375.0 430.1 L373.5 428.6 L372.0 429.0 L370.5 430.8 L369.0 433.1 L367.5 435.7 L366.0 438.3 L364.5 440.7 L363.0 442.6 L361.5 444.0 L360.0 442.9 L358.5 441.2 L357.0 439.2 L355.5 437.0 L354.0 434.9 L352.5 433.0 L351.0 431.5 L349.5 431.1 L348.0 432.5 L346.5 434.2 L345.0 436.3 L343.5 438.5 L342.0 440.6 L340.5 442.4 L339.0 443.7 L337.5 443.2 L336.0 441.6 L334.5 439.5 L333.0 437.2 L331.5 434.8 L330.0 432.6 L328.5 430.8 L327.0 429.6 L325.5 430.8 L324.0 432.6 L322.5 434.8 L321.0 437.2 L319.5 439.5 L318.0 441.6 L316.5 443.2 L315.0 443.7 L313.5 442.3 L312.0 440.4 L310.5 438.2 L309.0 435.8 L307.5 433.6 L306.0 431.7 L304.5 430.3 L303.0 430.7 L301.5 432.3 L300.0 434.3 L298.5 436.6 L297.0 438.9 L295.5 441.1 L294.0 442.8 L292.5 444.0 L291.0 442.8 L289.5 441.0 L288.0 438.8 L286.5 436.3 L285.0 434.0 L283.5 431.9 L282.0 430.3 L280.5 429.8 L279.0 431.3 Z" fill="#161616" opacity="0.6" filter="url(#bl7)"/>
<rect x="281" y="387.5" width="113.5" height="3" fill="#d8d8d8" opacity="0.7"/>
<path d="M279.0 455.6 L280.5 455.7 L282.0 456.5 L283.5 455.0 L285.0 457.1 L286.5 457.3 L288.0 457.6 L289.5 456.0 L291.0 455.9 L292.5 457.1 L294.0 458.2 L295.5 456.5 L297.0 457.1 L298.5 456.1 L300.0 457.4 L301.5 457.2 L303.0 454.8 L304.5 456.4 L306.0 454.1 L307.5 457.1 L309.0 457.8 L310.5 455.8 L312.0 457.9 L313.5 457.6 L315.0 459.0 L316.5 456.5 L318.0 457.5 L319.5 458.4 L321.0 457.3 L322.5 455.8 L324.0 454.6 L325.5 456.7 L327.0 454.3 L328.5 456.9 L330.0 454.7 L331.5 457.4 L333.0 457.8 L334.5 458.5 L336.0 455.8 L337.5 457.1 L339.0 456.1 L340.5 458.2 L342.0 456.8 L343.5 458.5 L345.0 456.2 L346.5 457.1 L348.0 456.8 L349.5 454.2 L351.0 455.4 L352.5 457.3 L354.0 456.4 L355.5 456.3 L357.0 456.3 L358.5 458.2 L360.0 456.5 L361.5 457.8 L363.0 457.6 L364.5 457.4 L366.0 455.8 L367.5 457.1 L369.0 457.5 L370.5 454.9 L372.0 454.3 L373.5 455.8 L375.0 455.6 L376.5 455.2 L378.0 454.9 L379.5 457.7 L381.0 456.7 L382.5 457.3 L384.0 456.8 L385.5 457.9 L387.0 458.1 L388.5 456.5 L390.0 455.4 L391.5 457.9 L393.0 457.1 L394.5 453.7 L396.0 454.5 L397.5 455.8 L399.0 455.5 L396.5 467.5 L279 467.5 Z" fill="#f6f6f6" opacity="0.94" filter="url(#bl7)"/>
<clipPath id="bc7"><path d="M279.0 455.6 L280.5 455.7 L282.0 456.5 L283.5 455.0 L285.0 457.1 L286.5 457.3 L288.0 457.6 L289.5 456.0 L291.0 455.9 L292.5 457.1 L294.0 458.2 L295.5 456.5 L297.0 457.1 L298.5 456.1 L300.0 457.4 L301.5 457.2 L303.0 454.8 L304.5 456.4 L306.0 454.1 L307.5 457.1 L309.0 457.8 L310.5 455.8 L312.0 457.9 L313.5 457.6 L315.0 459.0 L316.5 456.5 L318.0 457.5 L319.5 458.4 L321.0 457.3 L322.5 455.8 L324.0 454.6 L325.5 456.7 L327.0 454.3 L328.5 456.9 L330.0 454.7 L331.5 457.4 L333.0 457.8 L334.5 458.5 L336.0 455.8 L337.5 457.1 L339.0 456.1 L340.5 458.2 L342.0 456.8 L343.5 458.5 L345.0 456.2 L346.5 457.1 L348.0 456.8 L349.5 454.2 L351.0 455.4 L352.5 457.3 L354.0 456.4 L355.5 456.3 L357.0 456.3 L358.5 458.2 L360.0 456.5 L361.5 457.8 L363.0 457.6 L364.5 457.4 L366.0 455.8 L367.5 457.1 L369.0 457.5 L370.5 454.9 L372.0 454.3 L373.5 455.8 L375.0 455.6 L376.5 455.2 L378.0 454.9 L379.5 457.7 L381.0 456.7 L382.5 457.3 L384.0 456.8 L385.5 457.9 L387.0 458.1 L388.5 456.5 L390.0 455.4 L391.5 457.9 L393.0 457.1 L394.5 453.7 L396.0 454.5 L397.5 455.8 L399.0 455.5 L396.5 467.5 L279 467.5 Z"/></clipPath>
<rect x="281" y="387.5" width="113.5" height="78" filter="url(#dk7)" clip-path="url(#bc7)" opacity="0.2"/>
<g filter="url(#bl7)" fill="none" stroke-linecap="round"><path d="M279.0 409.9L280.5 412.5M325.5 410.5L327.0 413.5M372.0 411.8L373.5 412.8" stroke="#fff" stroke-width="2.0" stroke-opacity="0.625"/><path d="M280.5 412.5L282.0 411.2M301.5 409.0L303.0 410.9M303.0 410.9L304.5 411.9M348.0 409.2L349.5 411.5M349.5 411.5L351.0 410.2M370.5 409.7L372.0 411.8M394.5 410.6L396.0 413.5M280.5 432.7L282.0 433.1M301.5 435.1L303.0 433.5M325.5 434.0L327.0 432.7M348.0 435.8L349.5 434.5" stroke="#fff" stroke-width="2.0" stroke-opacity="0.5"/><path d="M282.0 411.2L283.5 408.9M306.0 409.5L307.5 407.8M322.5 406.7L324.0 408.4M328.5 410.4L330.0 408.4M345.0 405.6L346.5 407.5M369.0 407.3L370.5 409.7M373.5 412.8L375.0 410.5M375.0 410.5L376.5 408.1M393.0 408.7L394.5 410.6M300.0 437.2L301.5 435.1M304.5 433.5L306.0 434.7M306.0 434.7L307.5 436.2M322.5 438.1L324.0 435.8M324.0 435.8L325.5 434.0M327.0 432.7L328.5 433.7M328.5 433.7L330.0 435.7M346.5 437.2L348.0 435.8M351.0 434.4L352.5 436.0M369.0 436.2L370.5 433.5M373.5 431.2L375.0 432.9M279.0 437.7L280.5 436.6M303.0 437.2L304.5 437.1M349.5 437.8L351.0 437.8M370.5 437.6L372.0 435.9M394.5 437.3L396.0 435.7M279.0 441.4L280.5 440.3M303.0 440.9L304.5 440.4M325.5 441.0L327.0 440.1M349.5 441.2L351.0 442.0M370.5 441.5L372.0 439.5M394.5 440.5L396.0 439.8" stroke="#fff" stroke-width="1.75" stroke-opacity="0.375"/><path d="M283.5 408.9L285.0 407.0M285.0 407.0L286.5 406.0M295.5 403.4L297.0 404.6M297.0 404.6L298.5 405.7M298.5 405.7L300.0 406.9M307.5 407.8L309.0 406.0M318.0 403.6L319.5 404.6M319.5 404.6L321.0 405.1M321.0 405.1L322.5 406.7M330.0 408.4L331.5 406.3M331.5 406.3L333.0 405.6M333.0 405.6L334.5 404.2M342.0 404.2L343.5 405.0M343.5 405.0L345.0 405.6M352.5 408.3L354.0 406.7M354.0 406.7L355.5 405.5M355.5 405.5L357.0 404.7M364.5 403.6L366.0 404.7M366.0 404.7L367.5 406.0M367.5 406.0L369.0 407.3M376.5 408.1L378.0 406.5M378.0 406.5L379.5 405.1M387.0 403.4L388.5 404.0M388.5 404.0L390.0 405.6M325.5 405.6L327.0 408.0M364.5 444.0L366.0 440.9M367.5 439.0L369.0 436.2M376.5 434.9L378.0 437.7M282.0 436.8L283.5 438.4M300.0 440.5L301.5 439.2M324.0 439.4L325.5 437.8M327.0 436.2L328.5 437.6M373.5 435.2L375.0 436.5M391.5 441.0L393.0 439.0M393.0 439.0L394.5 437.3" stroke="#fff" stroke-width="1.5" stroke-opacity="0.375"/><path d="M286.5 406.0L288.0 404.8M390.0 405.6L391.5 406.7" stroke="#fff" stroke-width="1.5" stroke-opacity="0.5"/><path d="M288.0 404.8L289.5 403.9M289.5 403.9L291.0 403.5M294.0 403.3L295.5 403.4M340.5 403.6L342.0 404.2M360.0 403.0L361.5 403.2M285.0 403.1L286.5 401.3M298.5 401.2L300.0 402.9M300.0 402.9L301.5 404.2M307.5 403.2L309.0 401.9M321.0 401.0L322.5 402.5M322.5 402.5L324.0 404.1M328.5 405.9L330.0 403.8M330.0 403.8L331.5 402.5M331.5 402.5L333.0 400.9M343.5 400.4L345.0 401.3M345.0 401.3L346.5 402.6M352.5 404.1L354.0 402.5M354.0 402.5L355.5 401.5M366.0 400.2L367.5 401.4M367.5 401.4L369.0 402.9M369.0 402.9L370.5 405.0M388.5 400.4L390.0 401.0M390.0 401.0L391.5 402.6M391.5 402.6L393.0 403.7M288.0 441.7L289.5 444.3M289.5 444.3L291.0 446.0M291.0 446.0L292.5 447.2M292.5 447.2L294.0 446.1M294.0 446.1L295.5 444.1M310.5 440.8L312.0 443.1M312.0 443.1L313.5 445.3M313.5 445.3L315.0 446.6M315.0 446.6L316.5 446.1M316.5 446.1L318.0 444.4M334.5 442.7L336.0 444.7M336.0 444.7L337.5 446.2M337.5 446.2L339.0 446.6M339.0 446.6L340.5 445.6M340.5 445.6L342.0 443.4M357.0 442.4L358.5 444.5M358.5 444.5L360.0 445.7M360.0 445.7L361.5 446.7M361.5 446.7L363.0 445.8M363.0 445.8L364.5 444.0M379.5 440.2L381.0 443.1M381.0 443.1L382.5 445.0M382.5 445.0L384.0 446.4M384.0 446.4L385.5 446.5M385.5 446.5L387.0 444.4M283.5 438.4L285.0 440.3M285.0 440.3L286.5 442.7M286.5 442.7L288.0 444.8M288.0 444.8L289.5 446.9M295.5 447.3L297.0 444.8M297.0 444.8L298.5 443.0M298.5 443.0L300.0 440.5M307.5 440.0L309.0 442.5M310.5 444.8L312.0 446.4M316.5 449.6L318.0 447.6M318.0 447.6L319.5 445.7M319.5 445.7L321.0 443.4M331.5 441.1L333.0 443.5M333.0 443.5L334.5 445.5M334.5 445.5L336.0 448.0M340.5 448.4L342.0 446.6M343.5 444.6L345.0 442.4M352.5 439.9L354.0 441.1M354.0 441.1L355.5 443.6M355.5 443.6L357.0 445.6M357.0 445.6L358.5 447.2M363.0 448.8L364.5 447.0M364.5 447.0L366.0 444.3M366.0 444.3L367.5 442.4M367.5 442.4L369.0 439.7M376.5 439.1L378.0 441.2M378.0 441.2L379.5 444.0M379.5 444.0L381.0 445.9M385.5 449.6L387.0 447.7M387.0 447.7L388.5 445.6M388.5 445.6L390.0 443.3M390.0 443.3L391.5 441.0M283.5 441.9L285.0 443.8M295.5 450.5L297.0 448.7M297.0 448.7L298.5 446.2M309.0 445.5L310.5 447.8M318.0 451.2L319.5 448.8M321.0 447.2L322.5 444.6M330.0 443.0L331.5 445.0M333.0 446.8L334.5 448.8M334.5 448.8L336.0 450.9M343.5 447.8L345.0 446.4M352.5 442.9L354.0 444.8M355.5 447.0L357.0 448.9M357.0 448.9L358.5 450.4M367.5 445.6L369.0 443.3M387.0 450.7L388.5 449.2M390.0 446.7L391.5 444.7M298.5 449.8L300.0 448.0" stroke="#fff" stroke-width="1.25" stroke-opacity="0.25"/><path d="M291.0 403.5L292.5 403.2M292.5 403.2L294.0 403.3M310.5 404.7L312.0 404.1M312.0 404.1L313.5 403.2M313.5 403.2L315.0 402.9M315.0 402.9L316.5 403.4M316.5 403.4L318.0 403.6M334.5 404.2L336.0 403.3M336.0 403.3L337.5 403.1M337.5 403.1L339.0 402.7M339.0 402.7L340.5 403.6M357.0 404.7L358.5 403.3M358.5 403.3L360.0 403.0M361.5 403.2L363.0 403.4M363.0 403.4L364.5 403.6M379.5 405.1L381.0 403.8M381.0 403.8L382.5 403.1M382.5 403.1L384.0 402.9M385.5 403.3L387.0 403.4" stroke="#fff" stroke-width="1.25" stroke-opacity="0.375"/><path d="M300.0 406.9L301.5 409.0M324.0 408.4L325.5 410.5M327.0 413.5L328.5 410.4M346.5 407.5L348.0 409.2M351.0 410.2L352.5 408.3M391.5 406.7L393.0 408.7M393.0 435.2L394.5 433.4M325.5 437.8L327.0 436.2" stroke="#fff" stroke-width="1.75" stroke-opacity="0.5"/><path d="M304.5 411.9L306.0 409.5" stroke="#fff" stroke-width="1.75" stroke-opacity="0.625"/><path d="M309.0 406.0L310.5 404.7M279.0 404.7L280.5 407.0M280.5 407.0L282.0 406.4M301.5 404.2L303.0 405.9M303.0 405.9L304.5 407.3M324.0 404.1L325.5 405.6M327.0 408.0L328.5 405.9M346.5 402.6L348.0 404.6M348.0 404.6L349.5 406.3M349.5 406.3L351.0 405.6M370.5 405.0L372.0 406.8M372.0 406.8L373.5 407.7M373.5 407.7L375.0 405.3M393.0 403.7L394.5 405.8M394.5 405.8L396.0 408.8M283.5 435.1L285.0 437.0M285.0 437.0L286.5 439.2M286.5 439.2L288.0 441.7M295.5 444.1L297.0 442.0M297.0 442.0L298.5 439.7M298.5 439.7L300.0 437.2M307.5 436.2L309.0 438.7M309.0 438.7L310.5 440.8M318.0 444.4L319.5 442.5M319.5 442.5L321.0 440.4M321.0 440.4L322.5 438.1M330.0 435.7L331.5 437.5M331.5 437.5L333.0 440.3M333.0 440.3L334.5 442.7M342.0 443.4L343.5 441.8M343.5 441.8L345.0 439.1M352.5 436.0L354.0 437.9M354.0 437.9L355.5 439.8M355.5 439.8L357.0 442.4M366.0 440.9L367.5 439.0M378.0 437.7L379.5 440.2M387.0 444.4L388.5 442.4M388.5 442.4L390.0 439.7M390.0 439.7L391.5 437.7M304.5 437.1L306.0 438.0M306.0 438.0L307.5 440.0M322.5 441.2L324.0 439.4M328.5 437.6L330.0 439.3M345.0 442.4L346.5 440.5M346.5 440.5L348.0 439.1M351.0 437.8L352.5 439.9M369.0 439.7L370.5 437.6M375.0 436.5L376.5 439.1M282.0 440.6L283.5 441.9M300.0 444.0L301.5 442.7M304.5 440.4L306.0 441.6M306.0 441.6L307.5 443.5M322.5 444.6L324.0 443.0M324.0 443.0L325.5 441.0M327.0 440.1L328.5 440.8M328.5 440.8L330.0 443.0M346.5 444.5L348.0 442.6M351.0 442.0L352.5 442.9M369.0 443.3L370.5 441.5M373.5 439.2L375.0 440.2M391.5 444.7L393.0 442.2M393.0 442.2L394.5 440.5M300.0 448.0L301.5 445.9M351.0 445.7L352.5 446.9M369.0 446.9L370.5 444.7M393.0 446.0L394.5 444.4" stroke="#fff" stroke-width="1.5" stroke-opacity="0.25"/><path d="M384.0 402.9L385.5 403.3" stroke="#fff" stroke-width="1.25" stroke-opacity="0.5"/><path d="M282.0 406.4L283.5 404.4M283.5 404.4L285.0 403.1M297.0 400.5L298.5 401.2M306.0 404.7L307.5 403.2M319.5 400.2L321.0 401.0M351.0 405.6L352.5 404.1M375.0 405.3L376.5 403.9M376.5 403.9L378.0 402.4M282.0 400.7L283.5 399.6M283.5 399.6L285.0 399.2M285.0 399.2L286.5 397.6M297.0 396.8L298.5 398.2M298.5 398.2L300.0 398.9M300.0 398.9L301.5 399.5M306.0 400.7L307.5 398.9M307.5 398.9L309.0 397.4M319.5 396.6L321.0 396.9M321.0 396.9L322.5 398.8M322.5 398.8L324.0 399.9M328.5 400.1L330.0 400.1M330.0 400.1L331.5 397.9M331.5 397.9L333.0 397.2M343.5 396.6L345.0 397.3M345.0 397.3L346.5 398.7M351.0 399.6L352.5 399.2M352.5 399.2L354.0 398.6M354.0 398.6L355.5 396.8M366.0 397.0L367.5 398.0M367.5 398.0L369.0 399.6M369.0 399.6L370.5 400.1M375.0 400.4L376.5 399.5M376.5 399.5L378.0 399.0M388.5 396.8L390.0 397.6M390.0 397.6L391.5 399.1M391.5 399.1L393.0 400.3M294.0 448.8L295.5 447.3M309.0 442.5L310.5 444.8M321.0 443.4L322.5 441.2M330.0 439.3L331.5 441.1M342.0 446.6L343.5 444.6M285.0 443.8L286.5 446.0M286.5 446.0L288.0 448.6M288.0 448.6L289.5 450.1M294.0 452.2L295.5 450.5M298.5 446.2L300.0 444.0M307.5 443.5L309.0 445.5M310.5 447.8L312.0 449.8M316.5 452.6L318.0 451.2M319.5 448.8L321.0 447.2M331.5 445.0L333.0 446.8M340.5 451.5L342.0 449.9M342.0 449.9L343.5 447.8M354.0 444.8L355.5 447.0M363.0 452.1L364.5 450.2M364.5 450.2L366.0 448.1M366.0 448.1L367.5 445.6M376.5 442.2L378.0 444.7M378.0 444.7L379.5 447.1M379.5 447.1L381.0 449.4M385.5 452.3L387.0 450.7M388.5 449.2L390.0 446.7M283.5 445.7L285.0 447.1M285.0 447.1L286.5 449.3M286.5 449.3L288.0 451.4M288.0 451.4L289.5 453.6M294.0 454.9L295.5 453.8M295.5 453.8L297.0 451.6M297.0 451.6L298.5 449.8M307.5 447.0L309.0 448.9M309.0 448.9L310.5 451.1M310.5 451.1L312.0 453.2M316.5 455.7L318.0 454.3M318.0 454.3L319.5 452.4M319.5 452.4L321.0 450.0M321.0 450.0L322.5 448.1M330.0 446.3L331.5 448.3M331.5 448.3L333.0 450.3M333.0 450.3L334.5 452.4M334.5 452.4L336.0 453.8M340.5 454.6L342.0 453.4M342.0 453.4L343.5 451.2M343.5 451.2L345.0 449.6M352.5 446.9L354.0 448.6M354.0 448.6L355.5 449.9M355.5 449.9L357.0 451.7M357.0 451.7L358.5 453.9M363.0 454.8L364.5 452.8M364.5 452.8L366.0 451.1M366.0 451.1L367.5 449.0M367.5 449.0L369.0 446.9M376.5 446.2L378.0 448.3M378.0 448.3L379.5 450.4M379.5 450.4L381.0 452.3M385.5 455.0L387.0 453.9M387.0 453.9L388.5 451.8M388.5 451.8L390.0 450.1M390.0 450.1L391.5 447.7M283.5 449.4L285.0 451.1M285.0 451.1L286.5 452.7M286.5 452.7L288.0 455.0M288.0 455.0L289.5 456.5M294.0 458.1L295.5 456.8M295.5 456.8L297.0 454.8M297.0 454.8L298.5 453.4M298.5 453.4L300.0 451.2M307.5 450.9L309.0 452.6M309.0 452.6L310.5 454.3M310.5 454.3L312.0 455.9M316.5 458.3L318.0 456.8M318.0 456.8L319.5 455.8M319.5 455.8L321.0 453.4M321.0 453.4L322.5 451.4M330.0 449.9L331.5 451.6M331.5 451.6L333.0 453.5M333.0 453.5L334.5 455.7M334.5 455.7L336.0 457.0M340.5 458.0L342.0 456.4M342.0 456.4L343.5 454.8M343.5 454.8L345.0 452.6M352.5 450.1L354.0 451.6M354.0 451.6L355.5 453.1M355.5 453.1L357.0 455.4M357.0 455.4L358.5 456.7M363.0 458.2L364.5 456.6M364.5 456.6L366.0 454.6M366.0 454.6L367.5 452.5M367.5 452.5L369.0 450.5M376.5 449.5L378.0 451.8M378.0 451.8L379.5 453.6M379.5 453.6L381.0 456.0M385.5 458.3L387.0 456.7M387.0 456.7L388.5 455.6M388.5 455.6L390.0 453.2M390.0 453.2L391.5 451.4" stroke="#fff" stroke-width="1.25" stroke-opacity="0.125"/><path d="M286.5 401.3L288.0 400.3M289.5 399.8L291.0 399.4M292.5 399.0L294.0 398.9M294.0 398.9L295.5 399.9M295.5 399.9L297.0 400.5M310.5 400.6L312.0 399.7M312.0 399.7L313.5 399.6M315.0 398.8L316.5 399.0M333.0 400.9L334.5 400.4M334.5 400.4L336.0 399.4M336.0 399.4L337.5 399.0M337.5 399.0L339.0 399.0M355.5 401.5L357.0 400.1M357.0 400.1L358.5 399.8M360.0 399.3L361.5 398.9M361.5 398.9L363.0 399.1M363.0 399.1L364.5 399.7M364.5 399.7L366.0 400.2M379.5 401.2L381.0 399.6M381.0 399.6L382.5 399.2M385.5 398.7L387.0 399.1M387.0 399.1L388.5 400.4M289.5 446.9L291.0 448.7M291.0 448.7L292.5 450.3M292.5 450.3L294.0 448.8M312.0 446.4L313.5 448.2M313.5 448.2L315.0 449.7M315.0 449.7L316.5 449.6M337.5 449.0L339.0 449.8M339.0 449.8L340.5 448.4M358.5 447.2L360.0 448.8M360.0 448.8L361.5 450.2M381.0 445.9L382.5 447.8M382.5 447.8L384.0 449.8M384.0 449.8L385.5 449.6M289.5 450.1L291.0 451.9M292.5 452.9L294.0 452.2M312.0 449.8L313.5 451.5M336.0 450.9L337.5 452.3" stroke="#fff" stroke-width="1.0" stroke-opacity="0.25"/><path d="M288.0 400.3L289.5 399.8M291.0 399.4L292.5 399.0M309.0 401.9L310.5 400.6M313.5 399.6L315.0 398.8M316.5 399.0L318.0 399.7M318.0 399.7L319.5 400.2M339.0 399.0L340.5 399.0M340.5 399.0L342.0 399.7M342.0 399.7L343.5 400.4M358.5 399.8L360.0 399.3M378.0 402.4L379.5 401.2M382.5 399.2L384.0 398.9M384.0 398.9L385.5 398.7M286.5 397.6L288.0 396.0M288.0 396.0L289.5 395.3M289.5 395.3L291.0 394.6M291.0 394.6L292.5 394.4M292.5 394.4L294.0 394.2M294.0 394.2L295.5 395.3M295.5 395.3L297.0 396.8M309.0 397.4L310.5 396.6M310.5 396.6L312.0 396.2M312.0 396.2L313.5 394.2M313.5 394.2L315.0 394.8M315.0 394.8L316.5 394.5M316.5 394.5L318.0 394.9M318.0 394.9L319.5 396.6M333.0 397.2L334.5 396.0M334.5 396.0L336.0 394.7M336.0 394.7L337.5 394.5M337.5 394.5L339.0 393.9M339.0 393.9L340.5 395.4M340.5 395.4L342.0 395.3M342.0 395.3L343.5 396.6M355.5 396.8L357.0 395.7M357.0 395.7L358.5 395.1M358.5 395.1L360.0 394.1M360.0 394.1L361.5 394.1M361.5 394.1L363.0 393.9M363.0 393.9L364.5 394.9M364.5 394.9L366.0 397.0M378.0 399.0L379.5 397.8M379.5 397.8L381.0 395.7M381.0 395.7L382.5 394.8M382.5 394.8L384.0 394.4M384.0 394.4L385.5 394.6M385.5 394.6L387.0 395.2M387.0 395.2L388.5 396.8M336.0 448.0L337.5 449.0M361.5 450.2L363.0 448.8M291.0 451.9L292.5 452.9M313.5 451.5L315.0 453.0M315.0 453.0L316.5 452.6M337.5 452.3L339.0 452.6M339.0 452.6L340.5 451.5M358.5 450.4L360.0 452.2M360.0 452.2L361.5 452.7M361.5 452.7L363.0 452.1M381.0 449.4L382.5 451.5M382.5 451.5L384.0 452.9M384.0 452.9L385.5 452.3M289.5 453.6L291.0 455.0M291.0 455.0L292.5 456.0M292.5 456.0L294.0 454.9M312.0 453.2L313.5 454.9M313.5 454.9L315.0 456.0M315.0 456.0L316.5 455.7M336.0 453.8L337.5 455.3M337.5 455.3L339.0 455.7M339.0 455.7L340.5 454.6M358.5 453.9L360.0 454.8M360.0 454.8L361.5 456.0M361.5 456.0L363.0 454.8M381.0 452.3L382.5 454.1M382.5 454.1L384.0 455.5M384.0 455.5L385.5 455.0M289.5 456.5L291.0 458.2M291.0 458.2L292.5 459.1M292.5 459.1L294.0 458.1M312.0 455.9L313.5 457.3M313.5 457.3L315.0 458.8M315.0 458.8L316.5 458.3M336.0 457.0L337.5 458.3M337.5 458.3L339.0 458.8M339.0 458.8L340.5 458.0M358.5 456.7L360.0 457.8M360.0 457.8L361.5 459.2M361.5 459.2L363.0 458.2M381.0 456.0L382.5 457.3M382.5 457.3L384.0 458.8M384.0 458.8L385.5 458.3" stroke="#fff" stroke-width="1.0" stroke-opacity="0.125"/><path d="M304.5 407.3L306.0 404.7M279.0 400.7L280.5 401.5M280.5 401.5L282.0 400.7M301.5 399.5L303.0 400.3M303.0 400.3L304.5 400.5M304.5 400.5L306.0 400.7M324.0 399.9L325.5 400.7M325.5 400.7L327.0 400.7M327.0 400.7L328.5 400.1M346.5 398.7L348.0 400.2M348.0 400.2L349.5 400.4M349.5 400.4L351.0 399.6M370.5 400.1L372.0 401.7M372.0 401.7L373.5 401.9M373.5 401.9L375.0 400.4M393.0 400.3L394.5 401.6M394.5 401.6L396.0 401.8M345.0 446.4L346.5 444.5M375.0 440.2L376.5 442.2M282.0 444.0L283.5 445.7M304.5 444.6L306.0 445.2M306.0 445.2L307.5 447.0M322.5 448.1L324.0 446.7M324.0 446.7L325.5 445.1M327.0 443.6L328.5 445.0M328.5 445.0L330.0 446.3M345.0 449.6L346.5 447.5M346.5 447.5L348.0 446.0M373.5 443.0L375.0 444.5M375.0 444.5L376.5 446.2M391.5 447.7L393.0 446.0M282.0 448.2L283.5 449.4M300.0 451.2L301.5 449.4M304.5 448.0L306.0 449.4M306.0 449.4L307.5 450.9M322.5 451.4L324.0 449.6M324.0 449.6L325.5 448.2M327.0 447.7L328.5 448.7M328.5 448.7L330.0 449.9M345.0 452.6L346.5 451.5M346.5 451.5L348.0 449.6M351.0 449.0L352.5 450.1M369.0 450.5L370.5 448.8M373.5 446.7L375.0 447.6M375.0 447.6L376.5 449.5M391.5 451.4L393.0 449.4M393.0 449.4L394.5 447.8" stroke="#fff" stroke-width="1.5" stroke-opacity="0.125"/><path d="M279.0 434.0L280.5 432.7M303.0 433.5L304.5 433.5M349.5 434.5L351.0 434.4M370.5 433.5L372.0 432.0M372.0 432.0L373.5 431.2M394.5 433.4L396.0 432.3" stroke="#fff" stroke-width="2.0" stroke-opacity="0.375"/><path d="M282.0 433.1L283.5 435.1M345.0 439.1L346.5 437.2M375.0 432.9L376.5 434.9M391.5 437.7L393.0 435.2M280.5 436.6L282.0 436.8M301.5 439.2L303.0 437.2M348.0 439.1L349.5 437.8M372.0 435.9L373.5 435.2M280.5 440.3L282.0 440.6M301.5 442.7L303.0 440.9M348.0 442.6L349.5 441.2M372.0 439.5L373.5 439.2M279.0 445.0L280.5 444.3M280.5 444.3L282.0 444.0M301.5 445.9L303.0 445.0M325.5 445.1L327.0 443.6M348.0 446.0L349.5 444.8M372.0 443.1L373.5 443.0M394.5 444.4L396.0 443.3M325.5 448.2L327.0 447.7M394.5 447.8L396.0 446.9" stroke="#fff" stroke-width="1.75" stroke-opacity="0.25"/><path d="M303.0 445.0L304.5 444.6M349.5 444.8L351.0 445.7M370.5 444.7L372.0 443.1M279.0 449.1L280.5 447.4M280.5 447.4L282.0 448.2M301.5 449.4L303.0 448.1M303.0 448.1L304.5 448.0M348.0 449.6L349.5 448.5M349.5 448.5L351.0 449.0M370.5 448.8L372.0 446.9M372.0 446.9L373.5 446.7" stroke="#fff" stroke-width="1.75" stroke-opacity="0.125"/></g>
</g>
<rect x="281" y="387.5" width="113.5" height="78" fill="none" stroke="#707070" stroke-width="1"/>
<g clip-path="url(#ec8)">
<rect x="396" y="387.3" width="113.5" height="77" fill="#282828"/>
<rect x="396" y="387.3" width="113.5" height="77" filter="url(#sp8)" mask="url(#mk8)"/>
<path d="M394.0 409.4 L395.5 408.0 L397.0 406.8 L398.5 405.8 L400.0 405.0 L401.5 404.5 L403.0 404.1 L404.5 404.0 L406.0 404.1 L407.5 404.5 L409.0 405.2 L410.5 406.1 L412.0 407.2 L413.5 408.6 L415.0 410.2 L416.5 412.2 L418.0 411.5 L419.5 409.6 L421.0 408.1 L422.5 406.8 L424.0 405.7 L425.5 404.9 L427.0 404.4 L428.5 404.1 L430.0 404.0 L431.5 404.2 L433.0 404.8 L434.5 405.5 L436.0 406.6 L437.5 407.8 L439.0 409.4 L440.5 411.2 L442.0 413.8 L443.5 411.2 L445.0 409.4 L446.5 407.8 L448.0 406.6 L449.5 405.5 L451.0 404.8 L452.5 404.2 L454.0 404.0 L455.5 404.1 L457.0 404.3 L458.5 404.8 L460.0 405.6 L461.5 406.5 L463.0 407.7 L464.5 409.1 L466.0 410.8 L467.5 411.5 L469.0 409.6 L470.5 408.1 L472.0 406.9 L473.5 405.9 L475.0 405.1 L476.5 404.5 L478.0 404.1 L479.5 404.0 L481.0 404.1 L482.5 404.6 L484.0 405.3 L485.5 406.2 L487.0 407.5 L488.5 409.0 L490.0 410.7 L491.5 412.9 L493.0 412.1 L494.5 410.1 L496.0 408.4 L497.5 407.0 L499.0 405.9 L500.5 405.0 L502.0 404.4 L503.5 404.1 L505.0 404.0 L506.5 404.3 L508.0 404.8 L509.5 405.6 L511.0 406.6 L512.5 407.9 L512.5 444.2 L511.0 445.7 L509.5 447.3 L508.0 448.7 L506.5 449.9 L505.0 450.8 L503.5 450.5 L502.0 449.5 L500.5 448.2 L499.0 446.8 L497.5 445.2 L496.0 443.7 L494.5 442.4 L493.0 441.4 L491.5 441.2 L490.0 442.1 L488.5 443.3 L487.0 444.7 L485.5 446.2 L484.0 447.8 L482.5 449.1 L481.0 450.2 L479.5 451.0 L478.0 450.3 L476.5 449.4 L475.0 448.3 L473.5 447.0 L472.0 445.7 L470.5 444.5 L469.0 443.5 L467.5 442.8 L466.0 443.0 L464.5 443.9 L463.0 444.9 L461.5 446.2 L460.0 447.5 L458.5 448.7 L457.0 449.8 L455.5 450.6 L454.0 450.8 L452.5 449.9 L451.0 448.7 L449.5 447.4 L448.0 445.9 L446.5 444.4 L445.0 443.1 L443.5 442.0 L442.0 441.2 L440.5 442.0 L439.0 443.1 L437.5 444.4 L436.0 445.9 L434.5 447.4 L433.0 448.7 L431.5 449.9 L430.0 450.8 L428.5 450.6 L427.0 449.6 L425.5 448.5 L424.0 447.1 L422.5 445.7 L421.0 444.3 L419.5 443.1 L418.0 442.2 L416.5 442.0 L415.0 442.8 L413.5 443.9 L412.0 445.2 L410.5 446.6 L409.0 448.0 L407.5 449.3 L406.0 450.3 L404.5 451.0 L403.0 450.4 L401.5 449.5 L400.0 448.4 L398.5 447.2 L397.0 445.9 L395.5 444.8 L394.0 443.8 Z" fill="#161616" opacity="0.6" filter="url(#bl8)"/>
<rect x="396" y="387.3" width="113.5" height="2" fill="#bbbbbb" opacity="0.5"/>
<path d="M394.0 454.7 L395.5 456.7 L397.0 456.0 L398.5 455.9 L400.0 457.1 L401.5 457.3 L403.0 457.4 L404.5 457.4 L406.0 456.7 L407.5 456.5 L409.0 457.7 L410.5 456.3 L412.0 457.0 L413.5 456.9 L415.0 456.6 L416.5 456.2 L418.0 454.2 L419.5 454.8 L421.0 456.9 L422.5 456.8 L424.0 456.0 L425.5 457.8 L427.0 458.6 L428.5 458.6 L430.0 456.6 L431.5 456.8 L433.0 455.7 L434.5 458.5 L436.0 455.8 L437.5 456.9 L439.0 455.8 L440.5 455.4 L442.0 454.3 L443.5 456.1 L445.0 456.0 L446.5 455.6 L448.0 455.4 L449.5 456.9 L451.0 458.6 L452.5 456.3 L454.0 458.1 L455.5 457.9 L457.0 456.3 L458.5 456.3 L460.0 457.6 L461.5 456.5 L463.0 456.0 L464.5 455.7 L466.0 454.0 L467.5 455.7 L469.0 455.9 L470.5 456.2 L472.0 456.0 L473.5 457.9 L475.0 458.2 L476.5 457.5 L478.0 456.1 L479.5 456.4 L481.0 456.3 L482.5 456.0 L484.0 457.6 L485.5 456.9 L487.0 455.4 L488.5 457.2 L490.0 455.7 L491.5 455.5 L493.0 455.8 L494.5 456.0 L496.0 456.1 L497.5 458.0 L499.0 455.7 L500.5 457.8 L502.0 458.6 L503.5 457.4 L505.0 458.5 L506.5 456.4 L508.0 457.0 L509.5 456.2 L511.0 456.3 L512.5 456.8 L514.0 454.5 L511.5 466.3 L394 466.3 Z" fill="#f6f6f6" opacity="0.94" filter="url(#bl8)"/>
<clipPath id="bc8"><path d="M394.0 454.7 L395.5 456.7 L397.0 456.0 L398.5 455.9 L400.0 457.1 L401.5 457.3 L403.0 457.4 L404.5 457.4 L406.0 456.7 L407.5 456.5 L409.0 457.7 L410.5 456.3 L412.0 457.0 L413.5 456.9 L415.0 456.6 L416.5 456.2 L418.0 454.2 L419.5 454.8 L421.0 456.9 L422.5 456.8 L424.0 456.0 L425.5 457.8 L427.0 458.6 L428.5 458.6 L430.0 456.6 L431.5 456.8 L433.0 455.7 L434.5 458.5 L436.0 455.8 L437.5 456.9 L439.0 455.8 L440.5 455.4 L442.0 454.3 L443.5 456.1 L445.0 456.0 L446.5 455.6 L448.0 455.4 L449.5 456.9 L451.0 458.6 L452.5 456.3 L454.0 458.1 L455.5 457.9 L457.0 456.3 L458.5 456.3 L460.0 457.6 L461.5 456.5 L463.0 456.0 L464.5 455.7 L466.0 454.0 L467.5 455.7 L469.0 455.9 L470.5 456.2 L472.0 456.0 L473.5 457.9 L475.0 458.2 L476.5 457.5 L478.0 456.1 L479.5 456.4 L481.0 456.3 L482.5 456.0 L484.0 457.6 L485.5 456.9 L487.0 455.4 L488.5 457.2 L490.0 455.7 L491.5 455.5 L493.0 455.8 L494.5 456.0 L496.0 456.1 L497.5 458.0 L499.0 455.7 L500.5 457.8 L502.0 458.6 L503.5 457.4 L505.0 458.5 L506.5 456.4 L508.0 457.0 L509.5 456.2 L511.0 456.3 L512.5 456.8 L514.0 454.5 L511.5 466.3 L394 466.3 Z"/></clipPath>
<rect x="396" y="387.3" width="113.5" height="77" filter="url(#dk8)" clip-path="url(#bc8)" opacity="0.2"/>
<g filter="url(#bl8)" fill="none" stroke-linecap="round"><path d="M394.0 406.3L395.5 405.2M412.0 404.1L413.5 405.9M443.5 408.0L445.0 406.5M461.5 403.7L463.0 404.8M469.0 406.6L470.5 405.3M493.0 409.4L494.5 406.9M394.0 446.8L395.5 447.9M412.0 448.1L413.5 446.7M419.5 445.8L421.0 447.5M437.5 447.7L439.0 446.2M443.5 444.9L445.0 446.0M463.0 448.1L464.5 446.7M469.0 446.9L470.5 447.6M487.0 447.4L488.5 446.4M493.0 444.8L494.5 445.7M494.5 445.7L496.0 446.8M415.0 449.4L416.5 448.5M464.5 450.4L466.0 449.7M490.0 448.5L491.5 448.0M491.5 448.0L493.0 447.9M415.0 452.4L416.5 452.1M440.5 451.6L442.0 450.9M464.5 453.8L466.0 453.0M466.0 453.0L467.5 452.9M491.5 451.3L493.0 451.6M416.5 455.3L418.0 455.6M440.5 455.5L442.0 454.6M464.5 457.1L466.0 456.1M466.0 456.1L467.5 455.9M491.5 454.5L493.0 454.7" stroke="#fff" stroke-width="1.75" stroke-opacity="0.25"/><path d="M395.5 405.2L397.0 403.5M410.5 403.1L412.0 404.1M445.0 406.5L446.5 404.6M439.0 449.3L440.5 448.1M488.5 450.0L490.0 448.5" stroke="#fff" stroke-width="1.5" stroke-opacity="0.375"/><path d="M397.0 403.5L398.5 402.8M398.5 402.8L400.0 402.1M407.5 401.7L409.0 402.1M409.0 402.1L410.5 403.1M421.0 405.3L422.5 404.1M422.5 404.1L424.0 403.0M424.0 403.0L425.5 401.6M433.0 402.1L434.5 402.4M434.5 402.4L436.0 403.6M436.0 403.6L437.5 405.2M446.5 404.6L448.0 403.8M448.0 403.8L449.5 402.8M457.0 401.0L458.5 401.9M458.5 401.9L460.0 402.6M460.0 402.6L461.5 403.7M470.5 405.3L472.0 403.7M472.0 403.7L473.5 402.6M473.5 402.6L475.0 401.7M482.5 401.6L484.0 402.1M484.0 402.1L485.5 403.3M485.5 403.3L487.0 404.5M496.0 405.8L497.5 403.9M497.5 403.9L499.0 403.1M499.0 403.1L500.5 401.7M508.0 401.6L509.5 402.8M509.5 402.8L511.0 403.9M413.5 401.3L415.0 402.6M415.0 402.6L416.5 404.6M416.5 404.6L418.0 404.0M439.0 401.8L440.5 403.7M440.5 403.7L442.0 405.8M442.0 405.8L443.5 403.5M464.5 401.4L466.0 403.1M466.0 403.1L467.5 403.9M467.5 403.9L469.0 402.0M488.5 401.2L490.0 402.9M490.0 402.9L491.5 404.8M491.5 404.8L493.0 404.0M395.5 447.9L397.0 448.6M398.5 450.0L400.0 451.6M407.5 452.1L409.0 451.0M409.0 451.0L410.5 449.9M410.5 449.9L412.0 448.1M421.0 447.5L422.5 448.8M422.5 448.8L424.0 450.3M424.0 450.3L425.5 451.6M433.0 451.9L434.5 450.4M434.5 450.4L436.0 448.6M436.0 448.6L437.5 447.7M445.0 446.0L446.5 447.2M446.5 447.2L448.0 449.1M448.0 449.1L449.5 450.3M457.0 452.4L458.5 451.7M458.5 451.7L460.0 450.2M460.0 450.2L461.5 449.1M470.5 447.6L472.0 448.5M472.0 448.5L473.5 449.8M473.5 449.8L475.0 451.5M482.5 452.3L484.0 450.8M484.0 450.8L485.5 449.3M485.5 449.3L487.0 447.4M496.0 446.8L497.5 448.2M497.5 448.2L499.0 450.0M499.0 450.0L500.5 451.3M509.5 450.1L511.0 448.6M394.0 450.4L395.5 451.2M412.0 451.7L413.5 450.2M413.5 450.2L415.0 449.4M418.0 448.9L419.5 449.4M419.5 449.4L421.0 450.8M437.5 450.7L439.0 449.3M442.0 447.8L443.5 448.4M443.5 448.4L445.0 449.6M461.5 452.5L463.0 451.4M463.0 451.4L464.5 450.4M467.5 448.9L469.0 450.1M469.0 450.1L470.5 450.6M487.0 451.3L488.5 450.0M493.0 447.9L494.5 449.2M494.5 449.2L496.0 450.0M412.0 454.8L413.5 453.9M413.5 453.9L415.0 452.4M439.0 452.9L440.5 451.6M442.0 450.9L443.5 451.8M443.5 451.8L445.0 453.0M463.0 454.7L464.5 453.8M467.5 452.9L469.0 453.2M469.0 453.2L470.5 454.2M487.0 454.0L488.5 452.9M493.0 451.6L494.5 452.3M439.0 455.9L440.5 455.5M442.0 454.6L443.5 455.2M488.5 456.4L490.0 455.5" stroke="#fff" stroke-width="1.5" stroke-opacity="0.25"/><path d="M400.0 402.1L401.5 401.2M401.5 401.2L403.0 401.2M403.0 401.2L404.5 401.0M404.5 401.0L406.0 401.1M406.0 401.1L407.5 401.7M425.5 401.6L427.0 401.5M427.0 401.5L428.5 400.8M428.5 400.8L430.0 401.1M430.0 401.1L431.5 401.1M431.5 401.1L433.0 402.1M449.5 402.8L451.0 401.8M451.0 401.8L452.5 401.4M452.5 401.4L454.0 401.3M454.0 401.3L455.5 400.8M455.5 400.8L457.0 401.0M475.0 401.7L476.5 401.6M476.5 401.6L478.0 400.8M478.0 400.8L479.5 401.3M479.5 401.3L481.0 401.0M481.0 401.0L482.5 401.6M500.5 401.7L502.0 401.2M502.0 401.2L503.5 401.2M503.5 401.2L505.0 400.8M505.0 400.8L506.5 401.1M506.5 401.1L508.0 401.6M394.0 401.9L395.5 400.9M395.5 400.9L397.0 399.2M397.0 399.2L398.5 398.3M418.0 404.0L419.5 402.2M419.5 402.2L421.0 400.6M421.0 400.6L422.5 399.4M436.0 399.1L437.5 400.2M437.5 400.2L439.0 401.8M443.5 403.5L445.0 402.2M445.0 402.2L446.5 400.6M446.5 400.6L448.0 399.2M460.0 398.2L461.5 399.4M461.5 399.4L463.0 400.4M463.0 400.4L464.5 401.4M469.0 402.0L470.5 400.7M470.5 400.7L472.0 399.6M472.0 399.6L473.5 398.6M485.5 399.3L487.0 400.3M487.0 400.3L488.5 401.2M493.0 404.0L494.5 402.6M496.0 401.1L497.5 400.0M400.0 451.6L401.5 452.6M401.5 452.6L403.0 453.6M403.0 453.6L404.5 453.7M406.0 453.0L407.5 452.1M425.5 451.6L427.0 452.4M428.5 453.4L430.0 453.6M430.0 453.6L431.5 452.7M431.5 452.7L433.0 451.9M449.5 450.3L451.0 451.8M451.0 451.8L452.5 452.8M452.5 452.8L454.0 453.5M454.0 453.5L455.5 453.5M455.5 453.5L457.0 452.4M475.0 451.5L476.5 452.3M476.5 452.3L478.0 453.3M478.0 453.3L479.5 453.9M479.5 453.9L481.0 452.9M481.0 452.9L482.5 452.3M500.5 451.3L502.0 452.3M502.0 452.3L503.5 453.8M505.0 454.1L506.5 452.7M506.5 452.7L508.0 452.0M397.0 452.4L398.5 453.1M398.5 453.1L400.0 454.7M400.0 454.7L401.5 455.6M406.0 456.6L407.5 455.4M409.0 454.2L410.5 452.6M410.5 452.6L412.0 451.7M422.5 451.7L424.0 453.0M425.5 454.9L427.0 456.0M431.5 455.9L433.0 454.8M433.0 454.8L434.5 453.6M434.5 453.6L436.0 452.2M445.0 449.6L446.5 451.0M449.5 453.7L451.0 455.1M457.0 455.5L458.5 454.5M458.5 454.5L460.0 453.8M470.5 450.6L472.0 452.0M473.5 453.5L475.0 454.3M475.0 454.3L476.5 455.5M482.5 455.1L484.0 454.3M485.5 452.2L487.0 451.3M496.0 450.0L497.5 451.4M497.5 451.4L499.0 452.8M500.5 454.4L502.0 455.7M506.5 455.6L508.0 454.6M509.5 453.6L511.0 452.0M395.5 454.2L397.0 455.4M397.0 455.4L398.5 456.9M410.5 455.9L412.0 454.8M422.5 455.4L424.0 456.8M425.5 457.6L427.0 458.9M431.5 459.2L433.0 458.2M434.5 456.9L436.0 455.7M436.0 455.7L437.5 454.1M460.0 457.0L461.5 455.8M470.5 454.2L472.0 455.4M484.0 457.4L485.5 455.9M496.0 453.4L497.5 455.0" stroke="#fff" stroke-width="1.25" stroke-opacity="0.25"/><path d="M413.5 405.9L415.0 407.0M418.0 408.3L419.5 406.9M419.5 406.9L421.0 405.3M437.5 405.2L439.0 406.7M463.0 404.8L464.5 405.8M467.5 408.8L469.0 406.6M487.0 404.5L488.5 405.8M488.5 405.8L490.0 407.6M494.5 406.9L496.0 405.8M413.5 446.7L415.0 446.1M418.0 445.1L419.5 445.8M461.5 449.1L463.0 448.1M467.5 445.8L469.0 446.9M488.5 446.4L490.0 444.9M416.5 448.5L418.0 448.9M440.5 448.1L442.0 447.8M466.0 449.7L467.5 448.9M490.0 451.7L491.5 451.3" stroke="#fff" stroke-width="1.75" stroke-opacity="0.375"/><path d="M415.0 407.0L416.5 409.5M440.5 407.9L442.0 410.6M490.0 407.6L491.5 409.6M491.5 409.6L493.0 409.4M415.0 446.1L416.5 444.8M416.5 444.8L418.0 445.1M439.0 446.2L440.5 444.9M440.5 444.9L442.0 444.0M442.0 444.0L443.5 444.9M464.5 446.7L466.0 445.8M466.0 445.8L467.5 445.8M490.0 444.9L491.5 444.2M491.5 444.2L493.0 444.8" stroke="#fff" stroke-width="2.0" stroke-opacity="0.375"/><path d="M416.5 409.5L418.0 408.3M439.0 406.7L440.5 407.9M442.0 410.6L443.5 408.0M464.5 405.8L466.0 408.1M466.0 408.1L467.5 408.8" stroke="#fff" stroke-width="2.0" stroke-opacity="0.25"/><path d="M398.5 398.3L400.0 398.3M404.5 397.0L406.0 397.4M424.0 398.8L425.5 397.7M425.5 397.7L427.0 397.6M427.0 397.6L428.5 397.0M433.0 397.8L434.5 398.4M452.5 397.4L454.0 397.3M473.5 398.6L475.0 397.7M482.5 397.7L484.0 398.2M497.5 400.0L499.0 398.4M503.5 397.1L505.0 396.9M506.5 397.3L508.0 397.6M508.0 397.6L509.5 398.3M401.5 455.6L403.0 456.1M451.0 455.1L452.5 455.9M454.0 456.6L455.5 456.3M476.5 455.5L478.0 456.5M478.0 456.5L479.5 457.0M479.5 457.0L481.0 456.1M502.0 455.7L503.5 456.2M503.5 456.2L505.0 456.9M505.0 456.9L506.5 455.6M401.5 458.7L403.0 459.2M403.0 459.2L404.5 460.0M404.5 460.0L406.0 459.6M427.0 458.9L428.5 459.9M428.5 459.9L430.0 459.7M430.0 459.7L431.5 459.2M451.0 458.0L452.5 458.9M452.5 458.9L454.0 459.9M454.0 459.9L455.5 459.5M476.5 458.6L478.0 459.6M478.0 459.6L479.5 459.8M502.0 458.9L503.5 459.4M503.5 459.4L505.0 459.8M505.0 459.8L506.5 459.0M401.5 461.9L403.0 462.6M403.0 462.6L404.5 463.1M404.5 463.1L406.0 462.6M427.0 462.1L428.5 462.4M428.5 462.4L430.0 462.5M430.0 462.5L431.5 462.3M451.0 460.9L452.5 462.0M452.5 462.0L454.0 462.8M454.0 462.8L455.5 462.7M476.5 461.8L478.0 462.5M478.0 462.5L479.5 463.2M479.5 463.2L481.0 462.0M502.0 461.6L503.5 462.6M503.5 462.6L505.0 463.1M505.0 463.1L506.5 462.0M401.5 464.9L403.0 465.4M403.0 465.4L404.5 466.1M404.5 466.1L406.0 465.2M427.0 465.0L428.5 465.6M428.5 465.6L430.0 465.9M430.0 465.9L431.5 465.1M451.0 463.9L452.5 464.9M452.5 464.9L454.0 465.8M454.0 465.8L455.5 465.6M476.5 464.4L478.0 465.4M478.0 465.4L479.5 466.2M479.5 466.2L481.0 465.3M502.0 464.8L503.5 465.5M503.5 465.5L505.0 465.5M505.0 465.5L506.5 464.9" stroke="#fff" stroke-width="1.0" stroke-opacity="0.125"/><path d="M400.0 398.3L401.5 397.1M401.5 397.1L403.0 396.9M403.0 396.9L404.5 397.0M406.0 397.4L407.5 397.4M407.5 397.4L409.0 397.8M422.5 399.4L424.0 398.8M428.5 397.0L430.0 396.9M430.0 396.9L431.5 397.0M431.5 397.0L433.0 397.8M448.0 399.2L449.5 398.1M449.5 398.1L451.0 397.4M451.0 397.4L452.5 397.4M454.0 397.3L455.5 397.3M455.5 397.3L457.0 397.6M457.0 397.6L458.5 397.7M458.5 397.7L460.0 398.2M475.0 397.7L476.5 397.3M476.5 397.3L478.0 396.9M478.0 396.9L479.5 396.9M479.5 396.9L481.0 396.9M481.0 396.9L482.5 397.7M499.0 398.4L500.5 397.8M500.5 397.8L502.0 397.4M502.0 397.4L503.5 397.1M505.0 396.9L506.5 397.3M403.0 456.1L404.5 456.7M404.5 456.7L406.0 456.6M427.0 456.0L428.5 456.4M428.5 456.4L430.0 456.5M430.0 456.5L431.5 455.9M452.5 455.9L454.0 456.6M479.5 459.8L481.0 459.0" stroke="#fff" stroke-width="1.0" stroke-opacity="0.25"/><path d="M409.0 397.8L410.5 398.7M410.5 398.7L412.0 399.7M412.0 399.7L413.5 401.3M434.5 398.4L436.0 399.1M484.0 398.2L485.5 399.3M494.5 402.6L496.0 401.1M509.5 398.3L511.0 399.6M404.5 453.7L406.0 453.0M427.0 452.4L428.5 453.4M503.5 453.8L505.0 454.1M395.5 451.2L397.0 452.4M407.5 455.4L409.0 454.2M421.0 450.8L422.5 451.7M424.0 453.0L425.5 454.9M436.0 452.2L437.5 450.7M446.5 451.0L448.0 452.2M448.0 452.2L449.5 453.7M455.5 456.3L457.0 455.5M460.0 453.8L461.5 452.5M472.0 452.0L473.5 453.5M481.0 456.1L482.5 455.1M484.0 454.3L485.5 452.2M499.0 452.8L500.5 454.4M508.0 454.6L509.5 453.6M398.5 456.9L400.0 457.9M400.0 457.9L401.5 458.7M406.0 459.6L407.5 458.4M407.5 458.4L409.0 457.0M409.0 457.0L410.5 455.9M421.0 454.0L422.5 455.4M424.0 456.8L425.5 457.6M433.0 458.2L434.5 456.9M445.0 453.0L446.5 454.1M446.5 454.1L448.0 455.2M448.0 455.2L449.5 456.7M449.5 456.7L451.0 458.0M455.5 459.5L457.0 458.6M457.0 458.6L458.5 457.9M458.5 457.9L460.0 457.0M472.0 455.4L473.5 456.6M473.5 456.6L475.0 457.2M475.0 457.2L476.5 458.6M481.0 459.0L482.5 458.0M482.5 458.0L484.0 457.4M485.5 455.9L487.0 454.0M497.5 455.0L499.0 456.1M499.0 456.1L500.5 457.8M500.5 457.8L502.0 458.9M506.5 459.0L508.0 457.9M508.0 457.9L509.5 456.3M509.5 456.3L511.0 455.4M395.5 457.5L397.0 458.5M397.0 458.5L398.5 459.7M398.5 459.7L400.0 460.8M400.0 460.8L401.5 461.9M406.0 462.6L407.5 461.7M407.5 461.7L409.0 460.7M409.0 460.7L410.5 459.6M410.5 459.6L412.0 458.0M421.0 457.0L422.5 458.5M422.5 458.5L424.0 459.5M424.0 459.5L425.5 461.2M425.5 461.2L427.0 462.1M431.5 462.3L433.0 460.9M433.0 460.9L434.5 459.9M434.5 459.9L436.0 458.4M436.0 458.4L437.5 457.6M445.0 456.4L446.5 457.2M446.5 457.2L448.0 458.7M448.0 458.7L449.5 459.8M449.5 459.8L451.0 460.9M455.5 462.7L457.0 461.8M457.0 461.8L458.5 461.0M458.5 461.0L460.0 460.3M460.0 460.3L461.5 458.9M470.5 457.8L472.0 458.5M472.0 458.5L473.5 459.3M473.5 459.3L475.0 460.7M475.0 460.7L476.5 461.8M481.0 462.0L482.5 461.6M482.5 461.6L484.0 460.5M484.0 460.5L485.5 458.8M485.5 458.8L487.0 457.5M496.0 456.8L497.5 458.2M497.5 458.2L499.0 459.6M499.0 459.6L500.5 460.5M500.5 460.5L502.0 461.6M506.5 462.0L508.0 461.2M508.0 461.2L509.5 460.1M509.5 460.1L511.0 458.3M395.5 460.8L397.0 462.0M397.0 462.0L398.5 463.1M398.5 463.1L400.0 463.7M400.0 463.7L401.5 464.9M406.0 465.2L407.5 464.9M407.5 464.9L409.0 463.7M409.0 463.7L410.5 462.7M410.5 462.7L412.0 461.4M421.0 460.7L422.5 461.7M422.5 461.7L424.0 462.5M424.0 462.5L425.5 464.0M425.5 464.0L427.0 465.0M431.5 465.1L433.0 464.1M433.0 464.1L434.5 463.4M434.5 463.4L436.0 462.0M436.0 462.0L437.5 460.6M445.0 459.7L446.5 460.7M446.5 460.7L448.0 462.1M448.0 462.1L449.5 463.0M449.5 463.0L451.0 463.9M455.5 465.6L457.0 465.0M457.0 465.0L458.5 464.4M458.5 464.4L460.0 462.8M460.0 462.8L461.5 461.8M470.5 461.1L472.0 461.7M472.0 461.7L473.5 462.9M473.5 462.9L475.0 463.5M475.0 463.5L476.5 464.4M481.0 465.3L482.5 464.5M482.5 464.5L484.0 463.7M484.0 463.7L485.5 461.9M485.5 461.9L487.0 461.0M496.0 460.5L497.5 461.4M497.5 461.4L499.0 462.7M499.0 462.7L500.5 463.7M500.5 463.7L502.0 464.8M506.5 464.9L508.0 464.4M508.0 464.4L509.5 462.9M509.5 462.9L511.0 461.7" stroke="#fff" stroke-width="1.25" stroke-opacity="0.125"/><path d="M397.0 448.6L398.5 450.0M508.0 452.0L509.5 450.1M394.0 453.5L395.5 454.2M418.0 452.1L419.5 453.1M419.5 453.1L421.0 454.0M437.5 454.1L439.0 452.9M461.5 455.8L463.0 454.7M488.5 452.9L490.0 451.7M494.5 452.3L496.0 453.4M394.0 456.6L395.5 457.5M412.0 458.0L413.5 456.8M413.5 456.8L415.0 455.9M418.0 455.6L419.5 456.4M419.5 456.4L421.0 457.0M437.5 457.6L439.0 455.9M443.5 455.2L445.0 456.4M461.5 458.9L463.0 457.6M463.0 457.6L464.5 457.1M467.5 455.9L469.0 456.6M469.0 456.6L470.5 457.8M487.0 457.5L488.5 456.4M493.0 454.7L494.5 455.9M494.5 455.9L496.0 456.8M394.0 460.1L395.5 460.8M412.0 461.4L413.5 460.1M413.5 460.1L415.0 459.5M418.0 459.1L419.5 459.7M419.5 459.7L421.0 460.7M437.5 460.6L439.0 459.6M439.0 459.6L440.5 459.1M442.0 458.1L443.5 458.7M443.5 458.7L445.0 459.7M461.5 461.8L463.0 461.1M463.0 461.1L464.5 460.0M467.5 459.3L469.0 459.8M469.0 459.8L470.5 461.1M487.0 461.0L488.5 459.9M488.5 459.9L490.0 459.0M493.0 458.3L494.5 459.4M494.5 459.4L496.0 460.5" stroke="#fff" stroke-width="1.5" stroke-opacity="0.125"/><path d="M416.5 452.1L418.0 452.1M415.0 455.9L416.5 455.3M490.0 455.5L491.5 454.5M415.0 459.5L416.5 458.5M416.5 458.5L418.0 459.1M440.5 459.1L442.0 458.1M464.5 460.0L466.0 459.5M466.0 459.5L467.5 459.3M490.0 459.0L491.5 458.1M491.5 458.1L493.0 458.3" stroke="#fff" stroke-width="1.75" stroke-opacity="0.125"/></g>
</g>
<rect x="396" y="387.3" width="113.5" height="77" fill="none" stroke="#707070" stroke-width="1"/>
<text font-size="13.11" fill="#1d1d1b" color="#1d1d1b" stroke-width="0.25" transform="translate(103.40 738.25) scale(1.0199 1)">Protocol 5A</text>
<line x1="103.70" y1="739.55" x2="173.00" y2="739.55" stroke="#6a6a6a" stroke-width="1.4"/>
<text font-size="12.08" fill="#9e2a44" color="#9e2a44" stroke-width="0.25" transform="translate(53.17 753.75) scale(0.9403 1)">Control D0</text>
<text font-size="11.40" fill="#9e2a44" color="#9e2a44" stroke-width="0.25" transform="translate(179.45 753.25) scale(0.9462 1)">Cfz D0</text>
<text font-size="11.39" fill="#9e2a44" color="#9e2a44" stroke-width="0.25" transform="translate(53.18 851.25) scale(0.9856 1)">Control D2</text>
<text font-size="11.40" fill="#9e2a44" color="#9e2a44" stroke-width="0.25" transform="translate(179.46 851.25) scale(0.9276 1)">Cfz D2</text>
<g clip-path="url(#ec9)">
<rect x="24.3" y="758.8" width="112.7" height="77.5" fill="#1b1b1b"/>
<rect x="24.3" y="758.8" width="112.7" height="77.5" filter="url(#sp9)" mask="url(#mk9)"/>
<path d="M22.3 785.2 L23.8 787.4 L25.3 785.7 L26.8 783.9 L28.3 782.4 L29.8 781.1 L31.3 780.2 L32.8 779.5 L34.3 779.1 L35.8 779.0 L37.3 779.2 L38.8 779.8 L40.3 780.7 L41.8 782.0 L43.3 783.5 L44.8 785.4 L46.3 787.7 L47.8 787.5 L49.3 785.2 L50.8 783.4 L52.3 781.9 L53.8 780.7 L55.3 779.8 L56.8 779.2 L58.3 779.0 L59.8 779.1 L61.3 779.6 L62.8 780.4 L64.3 781.5 L65.8 782.9 L67.3 784.6 L68.8 786.7 L70.3 788.3 L71.8 785.8 L73.3 783.9 L74.8 782.3 L76.3 781.0 L77.8 780.0 L79.3 779.4 L80.8 779.0 L82.3 779.0 L83.8 779.4 L85.3 780.0 L86.8 781.0 L88.3 782.3 L89.8 783.9 L91.3 785.8 L92.8 788.2 L94.3 786.4 L95.8 784.3 L97.3 782.7 L98.8 781.3 L100.3 780.3 L101.8 779.5 L103.3 779.1 L104.8 779.0 L106.3 779.3 L107.8 779.9 L109.3 780.8 L110.8 782.1 L112.3 783.8 L113.8 785.7 L115.3 788.1 L116.8 788.0 L118.3 785.6 L119.8 783.6 L121.3 782.0 L122.8 780.8 L124.3 779.8 L125.8 779.2 L127.3 779.0 L128.8 779.1 L130.3 779.6 L131.8 780.3 L133.3 781.4 L134.8 782.8 L136.3 784.4 L137.8 786.5 L139.3 788.0 L139.3 801.3 L137.8 802.2 L136.3 804.2 L134.8 806.8 L133.3 809.7 L131.8 812.6 L130.3 815.2 L128.8 817.3 L127.3 818.4 L125.8 816.6 L124.3 814.2 L122.8 811.1 L121.3 807.9 L119.8 804.8 L118.3 802.0 L116.8 800.0 L115.3 799.9 L113.8 801.9 L112.3 804.6 L110.8 807.7 L109.3 810.9 L107.8 814.0 L106.3 816.5 L104.8 818.3 L103.3 817.4 L101.8 815.4 L100.3 812.8 L98.8 809.9 L97.3 807.0 L95.8 804.3 L94.3 802.2 L92.8 801.1 L91.3 802.7 L89.8 805.0 L88.3 807.7 L86.8 810.7 L85.3 813.5 L83.8 816.0 L82.3 817.9 L80.8 818.0 L79.3 816.1 L77.8 813.6 L76.3 810.6 L74.8 807.6 L73.3 804.8 L71.8 802.4 L70.3 800.7 L68.8 801.6 L67.3 803.8 L65.8 806.4 L64.3 809.4 L62.8 812.4 L61.3 815.1 L59.8 817.3 L58.3 818.4 L56.8 816.8 L55.3 814.4 L53.8 811.5 L52.3 808.5 L50.8 805.5 L49.3 802.9 L47.8 800.9 L46.3 800.8 L44.8 802.8 L43.3 805.3 L41.8 808.3 L40.3 811.3 L38.8 814.2 L37.3 816.6 L35.8 818.3 L34.3 817.5 L32.8 815.7 L31.3 813.3 L29.8 810.6 L28.3 808.0 L26.8 805.6 L25.3 803.7 L23.8 802.7 L22.3 804.1 Z" fill="#161616" opacity="0.6" filter="url(#bl9)"/>
<rect x="24.3" y="758.8" width="112.7" height="2.5" fill="#e6e6e6" opacity="0.75"/>
<path d="M22.3 826.7 L23.8 826.4 L25.3 826.1 L26.8 826.6 L28.3 826.6 L29.8 829.0 L31.3 827.0 L32.8 826.7 L34.3 827.2 L35.8 827.2 L37.3 827.4 L38.8 827.0 L40.3 826.2 L41.8 826.6 L43.3 826.0 L44.8 826.3 L46.3 824.4 L47.8 824.1 L49.3 825.2 L50.8 826.8 L52.3 826.8 L53.8 828.2 L55.3 828.7 L56.8 827.7 L58.3 826.7 L59.8 828.7 L61.3 828.6 L62.8 827.3 L64.3 827.8 L65.8 826.2 L67.3 827.6 L68.8 826.8 L70.3 826.1 L71.8 827.4 L73.3 825.7 L74.8 827.2 L76.3 828.1 L77.8 828.7 L79.3 827.5 L80.8 826.8 L82.3 828.4 L83.8 826.6 L85.3 828.3 L86.8 825.8 L88.3 826.9 L89.8 826.5 L91.3 824.8 L92.8 825.2 L94.3 825.8 L95.8 826.0 L97.3 828.2 L98.8 828.5 L100.3 828.9 L101.8 827.0 L103.3 826.5 L104.8 827.6 L106.3 826.7 L107.8 828.4 L109.3 826.7 L110.8 825.9 L112.3 825.9 L113.8 825.7 L115.3 826.0 L116.8 825.2 L118.3 825.4 L119.8 827.2 L121.3 825.6 L122.8 826.5 L124.3 828.4 L125.8 828.7 L127.3 826.7 L128.8 826.6 L130.3 827.8 L131.8 828.1 L133.3 825.7 L134.8 826.7 L136.3 825.6 L137.8 824.4 L139.3 824.2 L140.8 825.3 L139.0 838.3 L22.3 838.3 Z" fill="#f6f6f6" opacity="0.94" filter="url(#bl9)"/>
<clipPath id="bc9"><path d="M22.3 826.7 L23.8 826.4 L25.3 826.1 L26.8 826.6 L28.3 826.6 L29.8 829.0 L31.3 827.0 L32.8 826.7 L34.3 827.2 L35.8 827.2 L37.3 827.4 L38.8 827.0 L40.3 826.2 L41.8 826.6 L43.3 826.0 L44.8 826.3 L46.3 824.4 L47.8 824.1 L49.3 825.2 L50.8 826.8 L52.3 826.8 L53.8 828.2 L55.3 828.7 L56.8 827.7 L58.3 826.7 L59.8 828.7 L61.3 828.6 L62.8 827.3 L64.3 827.8 L65.8 826.2 L67.3 827.6 L68.8 826.8 L70.3 826.1 L71.8 827.4 L73.3 825.7 L74.8 827.2 L76.3 828.1 L77.8 828.7 L79.3 827.5 L80.8 826.8 L82.3 828.4 L83.8 826.6 L85.3 828.3 L86.8 825.8 L88.3 826.9 L89.8 826.5 L91.3 824.8 L92.8 825.2 L94.3 825.8 L95.8 826.0 L97.3 828.2 L98.8 828.5 L100.3 828.9 L101.8 827.0 L103.3 826.5 L104.8 827.6 L106.3 826.7 L107.8 828.4 L109.3 826.7 L110.8 825.9 L112.3 825.9 L113.8 825.7 L115.3 826.0 L116.8 825.2 L118.3 825.4 L119.8 827.2 L121.3 825.6 L122.8 826.5 L124.3 828.4 L125.8 828.7 L127.3 826.7 L128.8 826.6 L130.3 827.8 L131.8 828.1 L133.3 825.7 L134.8 826.7 L136.3 825.6 L137.8 824.4 L139.3 824.2 L140.8 825.3 L139.0 838.3 L22.3 838.3 Z"/></clipPath>
<rect x="24.3" y="758.8" width="112.7" height="77.5" filter="url(#dk9)" clip-path="url(#bc9)" opacity="0.2"/>
<g filter="url(#bl9)" fill="none" stroke-linecap="round"><path d="M22.3 782.2L23.8 784.2" stroke="#fff" stroke-width="2.75" stroke-opacity="1.0"/><path d="M23.8 784.2L25.3 783.0M44.8 782.6L46.3 785.0M89.8 780.9L91.3 783.0" stroke="#fff" stroke-width="2.5" stroke-opacity="0.875"/><path d="M25.3 783.0L26.8 780.6M43.3 780.5L44.8 782.6M110.8 779.2L112.3 780.5M112.3 780.5L113.8 782.4" stroke="#fff" stroke-width="2.25" stroke-opacity="0.875"/><path d="M26.8 780.6L28.3 779.5M50.8 780.4L52.3 779.1M85.3 776.9L86.8 778.0M97.3 779.7L98.8 778.1M109.3 777.8L110.8 779.2M131.8 777.1L133.3 778.7M23.8 805.5L25.3 806.6M46.3 804.0L47.8 804.0M67.3 806.5L68.8 804.6M68.8 804.6L70.3 803.5M113.8 805.2L115.3 803.0M115.3 803.0L116.8 803.1" stroke="#fff" stroke-width="2.0" stroke-opacity="0.625"/><path d="M28.3 779.5L29.8 778.0M40.3 777.8L41.8 778.7M62.8 777.1L64.3 778.5M64.3 778.5L65.8 779.6M73.3 781.2L74.8 779.4M74.8 779.4L76.3 778.2M86.8 778.0L88.3 779.3M22.3 807.3L23.8 805.5M44.8 805.6L46.3 804.0M91.3 805.5L92.8 804.4" stroke="#fff" stroke-width="2.0" stroke-opacity="0.75"/><path d="M29.8 778.0L31.3 777.5M38.8 776.6L40.3 777.8M52.3 779.1L53.8 777.6M53.8 777.6L55.3 776.8M59.8 776.0L61.3 776.8M80.8 776.1L82.3 776.2M106.3 776.1L107.8 776.7M121.3 779.0L122.8 777.7M127.3 775.7L128.8 776.5" stroke="#fff" stroke-width="1.75" stroke-opacity="0.875"/><path d="M31.3 777.5L32.8 776.5M35.8 776.0L37.3 776.4M55.3 776.8L56.8 776.1M58.3 775.9L59.8 776.0M61.3 776.8L62.8 777.1M76.3 778.2L77.8 777.3M77.8 777.3L79.3 776.0M83.8 776.2L85.3 776.9M100.3 777.0L101.8 776.5M101.8 776.5L103.3 776.4M124.3 776.8L125.8 775.9M125.8 775.9L127.3 775.7" stroke="#fff" stroke-width="1.75" stroke-opacity="0.75"/><path d="M32.8 776.5L34.3 776.4M34.3 776.4L35.8 776.0M37.3 776.4L38.8 776.6M56.8 776.1L58.3 775.9M79.3 776.0L80.8 776.1M82.3 776.2L83.8 776.2M98.8 778.1L100.3 777.0M103.3 776.4L104.8 776.0M104.8 776.0L106.3 776.1M107.8 776.7L109.3 777.8M122.8 777.7L124.3 776.8M128.8 776.5L130.3 776.9M130.3 776.9L131.8 777.1M47.8 804.0L49.3 806.1M89.8 807.9L91.3 805.5M22.3 811.0L23.8 809.1M44.8 809.5L46.3 807.8M46.3 807.8L47.8 808.1M115.3 806.7L116.8 807.2" stroke="#fff" stroke-width="1.75" stroke-opacity="0.625"/><path d="M41.8 778.7L43.3 780.5M49.3 782.2L50.8 780.4M71.8 783.2L73.3 781.2" stroke="#fff" stroke-width="2.25" stroke-opacity="0.625"/><path d="M46.3 785.0L47.8 784.6M67.3 781.5L68.8 783.8M70.3 785.2L71.8 783.2M92.8 785.1L94.3 783.6M113.8 782.4L115.3 785.1" stroke="#fff" stroke-width="2.5" stroke-opacity="0.75"/><path d="M47.8 784.6L49.3 782.2M65.8 779.6L67.3 781.5M88.3 779.3L89.8 780.9M94.3 783.6L95.8 781.3M118.3 782.7L119.8 780.9M134.8 779.5L136.3 781.8" stroke="#fff" stroke-width="2.25" stroke-opacity="0.75"/><path d="M68.8 783.8L70.3 785.2" stroke="#fff" stroke-width="2.75" stroke-opacity="0.75"/><path d="M91.3 783.0L92.8 785.1" stroke="#fff" stroke-width="2.75" stroke-opacity="0.875"/><path d="M95.8 781.3L97.3 779.7M119.8 780.9L121.3 779.0M133.3 778.7L134.8 779.5" stroke="#fff" stroke-width="2.0" stroke-opacity="0.875"/><path d="M115.3 785.1L116.8 785.1" stroke="#fff" stroke-width="2.5" stroke-opacity="1.0"/><path d="M116.8 785.1L118.3 782.7" stroke="#fff" stroke-width="2.25" stroke-opacity="1.0"/><path d="M136.3 781.8L137.8 783.2" stroke="#fff" stroke-width="2.5" stroke-opacity="0.625"/><path d="M22.3 777.8L23.8 779.7M23.8 779.7L25.3 778.4M44.8 777.5L46.3 779.7M46.3 779.7L47.8 779.3M67.3 777.2L68.8 778.6M68.8 778.6L70.3 780.5M70.3 780.5L71.8 778.0M89.8 776.4L91.3 778.1M91.3 778.1L92.8 780.4M92.8 780.4L94.3 778.7M113.8 778.0L115.3 780.2M115.3 780.2L116.8 780.3M136.3 776.8L137.8 779.0M47.8 811.4L49.3 813.6M49.3 813.6L50.8 815.7M110.8 818.0L112.3 815.1M118.3 812.5L119.8 815.5M134.8 816.7L136.3 815.0M23.8 816.9L25.3 818.1M25.3 818.1L26.8 819.5M41.8 821.8L43.3 819.0M47.8 815.3L49.3 817.6M49.3 817.6L50.8 819.3M70.3 815.5L71.8 817.0M71.8 817.0L73.3 819.0M88.3 821.4L89.8 819.1M94.3 816.8L95.8 818.3M118.3 816.2L119.8 818.7M134.8 820.7L136.3 818.3M23.8 821.1L25.3 821.3M25.3 821.3L26.8 823.4M41.8 825.4L43.3 823.0M47.8 819.5L49.3 821.1M49.3 821.1L50.8 823.1M65.8 823.9L67.3 821.8M67.3 821.8L68.8 819.7M70.3 819.5L71.8 820.3M71.8 820.3L73.3 822.8M88.3 824.6L89.8 822.6M89.8 822.6L91.3 820.8M92.8 819.5L94.3 820.5M116.8 818.5L118.3 820.0M118.3 820.0L119.8 822.6M134.8 824.4L136.3 822.3M136.3 822.3L137.8 820.7" stroke="#fff" stroke-width="1.5" stroke-opacity="0.25"/><path d="M25.3 778.4L26.8 776.1M26.8 776.1L28.3 774.7M28.3 774.7L29.8 773.7M40.3 773.6L41.8 775.0M41.8 775.0L43.3 775.9M43.3 775.9L44.8 777.5M47.8 779.3L49.3 777.4M49.3 777.4L50.8 775.9M50.8 775.9L52.3 774.5M62.8 773.5L64.3 774.0M65.8 775.8L67.3 777.2M71.8 778.0L73.3 776.5M73.3 776.5L74.8 775.2M86.8 773.7L88.3 774.9M88.3 774.9L89.8 776.4M94.3 778.7L95.8 776.8M110.8 774.7L112.3 776.3M112.3 776.3L113.8 778.0M116.8 780.3L118.3 778.1M119.8 776.4L121.3 774.6M131.8 773.2L133.3 774.2M133.3 774.2L134.8 775.5M134.8 775.5L136.3 776.8M31.3 819.5L32.8 821.8M59.8 823.2L61.3 821.3M62.8 818.9L64.3 816.1M73.3 811.2L74.8 814.0M74.8 814.0L76.3 817.2M82.3 823.6L83.8 821.9M109.3 817.5L110.8 814.4M26.8 816.1L28.3 818.0M28.3 818.0L29.8 820.3M29.8 820.3L31.3 822.5M31.3 822.5L32.8 825.1M37.3 826.1L38.8 823.4M38.8 823.4L40.3 821.1M50.8 815.7L52.3 818.5M59.8 826.6L61.3 824.3M61.3 824.3L62.8 821.8M62.8 821.8L64.3 819.2M76.3 820.7L77.8 822.8M83.8 825.3L85.3 823.0M86.8 820.4L88.3 818.1M95.8 814.5L97.3 816.8M97.3 816.8L98.8 819.9M98.8 819.9L100.3 822.4M100.3 822.4L101.8 824.9M107.8 823.5L109.3 820.9M121.3 817.8L122.8 820.8M122.8 820.8L124.3 823.7M128.8 826.2L130.3 824.4M130.3 824.4L131.8 821.9M26.8 819.5L28.3 821.5M28.3 821.5L29.8 823.9M29.8 823.9L31.3 826.4M31.3 826.4L32.8 827.8M37.3 829.1L38.8 827.1M38.8 827.1L40.3 824.5M40.3 824.5L41.8 821.8M50.8 819.3L52.3 822.1M53.8 824.6L55.3 827.0M59.8 829.2L61.3 827.6M61.3 827.6L62.8 825.5M62.8 825.5L64.3 823.1M64.3 823.1L65.8 820.1M73.3 819.0L74.8 821.3M74.8 821.3L76.3 824.1M76.3 824.1L77.8 826.3M83.8 828.3L85.3 826.5M85.3 826.5L86.8 824.1M86.8 824.1L88.3 821.4M95.8 818.3L97.3 820.6M97.3 820.6L98.8 823.2M98.8 823.2L100.3 825.6M100.3 825.6L101.8 828.0M106.3 828.8L107.8 827.0M107.8 827.0L109.3 824.2M109.3 824.2L110.8 821.0M119.8 818.7L121.3 821.6M121.3 821.6L122.8 823.9M122.8 823.9L124.3 826.8M128.8 829.9L130.3 828.1M130.3 828.1L131.8 825.3M131.8 825.3L133.3 823.3M133.3 823.3L134.8 820.7M26.8 823.4L28.3 825.2M28.3 825.2L29.8 827.1M31.3 829.4L32.8 831.1M38.8 830.4L40.3 827.9M50.8 823.1L52.3 825.5M62.8 828.5L64.3 826.2M64.3 826.2L65.8 823.9M73.3 822.8L74.8 824.7M74.8 824.7L76.3 826.9M83.8 831.2L85.3 829.4M95.8 821.9L97.3 824.2M97.3 824.2L98.8 826.4M100.3 829.2L101.8 831.4M106.3 831.9L107.8 829.7M107.8 829.7L109.3 827.5M109.3 827.5L110.8 825.0M128.8 832.4L130.3 831.1M133.3 826.6L134.8 824.4" stroke="#fff" stroke-width="1.25" stroke-opacity="0.25"/><path d="M29.8 773.7L31.3 773.0M31.3 773.0L32.8 772.5M37.3 772.1L38.8 772.6M38.8 772.6L40.3 773.6M53.8 773.8L55.3 772.6M56.8 772.2L58.3 772.1M76.3 773.7L77.8 772.6M79.3 772.6L80.8 772.3M80.8 772.3L82.3 772.2M83.8 772.1L85.3 772.7M85.3 772.7L86.8 773.7M98.8 773.9L100.3 773.2M104.8 772.2L106.3 772.0M107.8 772.6L109.3 773.8M121.3 774.6L122.8 773.9M122.8 773.9L124.3 772.7M125.8 772.1L127.3 772.0M130.3 772.8L131.8 773.2M29.8 770.1L31.3 768.6M31.3 768.6L32.8 768.5M32.8 768.5L34.3 768.0M34.3 768.0L35.8 766.8M35.8 766.8L37.3 767.9M37.3 767.9L38.8 768.5M38.8 768.5L40.3 770.3M52.3 771.4L53.8 769.6M53.8 769.6L55.3 768.5M55.3 768.5L56.8 767.3M56.8 767.3L58.3 766.4M58.3 766.4L59.8 767.3M59.8 767.3L61.3 768.8M61.3 768.8L62.8 769.3M74.8 770.8L76.3 769.6M76.3 769.6L77.8 769.5M77.8 769.5L79.3 767.6M79.3 767.6L80.8 767.7M80.8 767.7L82.3 767.2M82.3 767.2L83.8 768.3M83.8 768.3L85.3 769.3M85.3 769.3L86.8 770.5M98.8 770.2L100.3 769.1M100.3 769.1L101.8 767.8M101.8 767.8L103.3 767.5M103.3 767.5L104.8 767.5M104.8 767.5L106.3 767.1M106.3 767.1L107.8 769.0M107.8 769.0L109.3 769.6M121.3 770.7L122.8 769.3M122.8 769.3L124.3 768.6M124.3 768.6L125.8 767.7M125.8 767.7L127.3 766.9M127.3 766.9L128.8 767.5M128.8 767.5L130.3 768.2M130.3 768.2L131.8 769.8M34.3 829.7L35.8 830.7M55.3 830.4L56.8 832.1M56.8 832.1L58.3 833.4M58.3 833.4L59.8 832.8M79.3 831.2L80.8 832.8M80.8 832.8L82.3 833.1M101.8 831.4L103.3 832.4M104.8 833.4L106.3 831.9M124.3 830.3L125.8 832.4M125.8 832.4L127.3 833.2M127.3 833.2L128.8 832.4" stroke="#fff" stroke-width="1.0" stroke-opacity="0.125"/><path d="M32.8 772.5L34.3 772.4M34.3 772.4L35.8 771.8M35.8 771.8L37.3 772.1M52.3 774.5L53.8 773.8M55.3 772.6L56.8 772.2M58.3 772.1L59.8 771.8M59.8 771.8L61.3 772.7M61.3 772.7L62.8 773.5M74.8 775.2L76.3 773.7M77.8 772.6L79.3 772.6M82.3 772.2L83.8 772.1M100.3 773.2L101.8 772.8M101.8 772.8L103.3 772.4M103.3 772.4L104.8 772.2M106.3 772.0L107.8 772.6M124.3 772.7L125.8 772.1M127.3 772.0L128.8 772.4M128.8 772.4L130.3 772.8M32.8 821.8L34.3 823.6M55.3 820.4L56.8 823.0M80.8 824.0L82.3 823.6M125.8 822.6L127.3 824.4M34.3 826.6L35.8 827.2M55.3 823.8L56.8 826.2M56.8 826.2L58.3 827.3M58.3 827.3L59.8 826.6M79.3 825.5L80.8 827.0M80.8 827.0L82.3 827.2M101.8 824.9L103.3 826.6M104.8 827.2L106.3 825.6M124.3 823.7L125.8 825.5M127.3 827.6L128.8 826.2M32.8 827.8L34.3 829.7M35.8 830.7L37.3 829.1M55.3 827.0L56.8 829.1M56.8 829.1L58.3 830.6M58.3 830.6L59.8 829.2M77.8 826.3L79.3 828.3M79.3 828.3L80.8 829.8M80.8 829.8L82.3 829.9M101.8 828.0L103.3 829.9M103.3 829.9L104.8 830.4M104.8 830.4L106.3 828.8M124.3 826.8L125.8 828.7M125.8 828.7L127.3 830.5M127.3 830.5L128.8 829.9M32.8 831.1L34.3 832.6M34.3 832.6L35.8 833.4M35.8 833.4L37.3 831.8M77.8 829.6L79.3 831.2M103.3 832.4L104.8 833.4" stroke="#fff" stroke-width="1.0" stroke-opacity="0.25"/><path d="M64.3 774.0L65.8 775.8M95.8 776.8L97.3 775.6M97.3 775.6L98.8 773.9M109.3 773.8L110.8 774.7M118.3 778.1L119.8 776.4M25.3 773.1L26.8 772.2M26.8 772.2L28.3 771.6M28.3 771.6L29.8 770.1M40.3 770.3L41.8 770.5M41.8 770.5L43.3 772.7M43.3 772.7L44.8 773.2M47.8 774.2L49.3 773.4M49.3 773.4L50.8 772.0M50.8 772.0L52.3 771.4M62.8 769.3L64.3 770.7M64.3 770.7L65.8 771.4M65.8 771.4L67.3 773.5M71.8 772.8L73.3 772.9M73.3 772.9L74.8 770.8M86.8 770.5L88.3 771.1M88.3 771.1L89.8 772.9M94.3 772.8L95.8 772.4M95.8 772.4L97.3 771.9M97.3 771.9L98.8 770.2M109.3 769.6L110.8 770.7M110.8 770.7L112.3 772.2M112.3 772.2L113.8 773.6M116.8 774.2L118.3 773.6M118.3 773.6L119.8 773.1M119.8 773.1L121.3 770.7M131.8 769.8L133.3 770.0M133.3 770.0L134.8 771.5M134.8 771.5L136.3 772.5M52.3 822.1L53.8 824.6M82.3 829.9L83.8 828.3M29.8 827.1L31.3 829.4M37.3 831.8L38.8 830.4M40.3 827.9L41.8 825.4M52.3 825.5L53.8 827.9M53.8 827.9L55.3 830.4M59.8 832.8L61.3 831.1M61.3 831.1L62.8 828.5M76.3 826.9L77.8 829.6M82.3 833.1L83.8 831.2M85.3 829.4L86.8 827.2M86.8 827.2L88.3 824.6M98.8 826.4L100.3 829.2M119.8 822.6L121.3 825.2M121.3 825.2L122.8 827.9M122.8 827.9L124.3 830.3M130.3 831.1L131.8 829.0M131.8 829.0L133.3 826.6" stroke="#fff" stroke-width="1.25" stroke-opacity="0.125"/><path d="M22.3 773.1L23.8 772.9M23.8 772.9L25.3 773.1M44.8 773.2L46.3 773.7M46.3 773.7L47.8 774.2M67.3 773.5L68.8 774.0M68.8 774.0L70.3 774.1M70.3 774.1L71.8 772.8M89.8 772.9L91.3 773.9M91.3 773.9L92.8 774.4M92.8 774.4L94.3 772.8M113.8 773.6L115.3 774.1M115.3 774.1L116.8 774.2M136.3 772.5L137.8 774.0M43.3 823.0L44.8 821.0M94.3 820.5L95.8 821.9M110.8 825.0L112.3 822.6M112.3 822.6L113.8 819.9" stroke="#fff" stroke-width="1.5" stroke-opacity="0.125"/><path d="M25.3 806.6L26.8 808.3M41.8 811.0L43.3 808.3M49.3 806.1L50.8 808.6M110.8 810.9L112.3 807.3M134.8 809.6L136.3 807.3M46.3 811.3L47.8 811.4M68.8 812.2L70.3 811.3M91.3 813.7L92.8 811.6M113.8 812.3L115.3 810.9M22.3 818.5L23.8 816.9M46.3 815.5L47.8 815.3M68.8 816.3L70.3 815.5M91.3 817.4L92.8 815.9M113.8 816.6L115.3 814.5M44.8 821.0L46.3 819.2M113.8 819.9L115.3 818.6" stroke="#fff" stroke-width="1.75" stroke-opacity="0.375"/><path d="M26.8 808.3L28.3 810.7M28.3 810.7L29.8 813.3M38.8 817.2L40.3 814.4M50.8 808.6L52.3 811.3M64.3 812.2L65.8 809.8M76.3 813.4L77.8 816.8M83.8 818.8L85.3 816.7M86.8 813.8L88.3 810.6M98.8 813.0L100.3 815.8M119.8 808.1L121.3 810.7M130.3 818.3L131.8 815.5M131.8 815.5L133.3 812.5M23.8 809.1L25.3 810.7M25.3 810.7L26.8 812.0M43.3 811.9L44.8 809.5M47.8 808.1L49.3 809.5M49.3 809.5L50.8 812.4M65.8 813.3L67.3 810.6M71.8 808.9L73.3 811.2M88.3 814.0L89.8 811.3M116.8 807.2L118.3 808.8M67.3 814.3L68.8 812.2M70.3 811.3L71.8 812.9M92.8 811.6L94.3 813.2M112.3 815.1L113.8 812.3" stroke="#fff" stroke-width="1.5" stroke-opacity="0.5"/><path d="M29.8 813.3L31.3 816.1M40.3 814.4L41.8 811.0M52.3 811.3L53.8 814.3M61.3 818.0L62.8 815.4M62.8 815.4L64.3 812.2M73.3 807.8L74.8 810.4M74.8 810.4L76.3 813.4M85.3 816.7L86.8 813.8M95.8 807.2L97.3 810.2M97.3 810.2L98.8 813.0M107.8 817.0L109.3 813.8M109.3 813.8L110.8 810.9M121.3 810.7L122.8 814.1M133.3 812.5L134.8 809.6M41.8 814.9L43.3 811.9M70.3 807.6L71.8 808.9M89.8 811.3L91.3 809.5M94.3 809.3L95.8 811.0M110.8 814.4L112.3 811.4M112.3 811.4L113.8 808.7M118.3 808.8L119.8 811.7M134.8 813.1L136.3 810.8M136.3 810.8L137.8 808.9M23.8 813.4L25.3 814.3M25.3 814.3L26.8 816.1M41.8 818.5L43.3 815.3M43.3 815.3L44.8 813.0M65.8 816.7L67.3 814.3M71.8 812.9L73.3 814.9M88.3 818.1L89.8 815.3M89.8 815.3L91.3 813.7M94.3 813.2L95.8 814.5M116.8 811.1L118.3 812.5M136.3 815.0L137.8 812.5M43.3 819.0L44.8 817.3M65.8 820.1L67.3 818.0M67.3 818.0L68.8 816.3M89.8 819.1L91.3 817.4M92.8 815.9L94.3 816.8M110.8 821.0L112.3 818.7M112.3 818.7L113.8 816.6M116.8 814.7L118.3 816.2M136.3 818.3L137.8 816.3" stroke="#fff" stroke-width="1.5" stroke-opacity="0.375"/><path d="M31.3 816.1L32.8 818.9M58.3 821.5L59.8 820.1M59.8 820.1L61.3 818.0M77.8 816.8L79.3 819.0M82.3 820.7L83.8 818.8M103.3 820.5L104.8 821.4M122.8 814.1L124.3 817.2M95.8 811.0L97.3 813.2" stroke="#fff" stroke-width="1.25" stroke-opacity="0.5"/><path d="M32.8 818.9L34.3 820.3M34.3 820.3L35.8 821.5M35.8 821.5L37.3 819.8M37.3 819.8L38.8 817.2M53.8 814.3L55.3 817.7M55.3 817.7L56.8 819.7M56.8 819.7L58.3 821.5M79.3 819.0L80.8 820.8M80.8 820.8L82.3 820.7M100.3 815.8L101.8 818.3M101.8 818.3L103.3 820.5M104.8 821.4L106.3 819.4M106.3 819.4L107.8 817.0M124.3 817.2L125.8 819.7M125.8 819.7L127.3 821.5M127.3 821.5L128.8 820.0M128.8 820.0L130.3 818.3M26.8 812.0L28.3 814.3M28.3 814.3L29.8 817.1M29.8 817.1L31.3 819.5M37.3 822.5L38.8 820.3M38.8 820.3L40.3 818.0M40.3 818.0L41.8 814.9M50.8 812.4L52.3 814.9M52.3 814.9L53.8 818.0M53.8 818.0L55.3 820.4M61.3 821.3L62.8 818.9M64.3 816.1L65.8 813.3M76.3 817.2L77.8 819.6M83.8 821.9L85.3 819.6M85.3 819.6L86.8 817.0M86.8 817.0L88.3 814.0M97.3 813.2L98.8 816.1M98.8 816.1L100.3 819.4M100.3 819.4L101.8 821.2M106.3 822.6L107.8 820.5M107.8 820.5L109.3 817.5M119.8 811.7L121.3 814.8M121.3 814.8L122.8 817.3M122.8 817.3L124.3 820.5M128.8 823.0L130.3 821.1M130.3 821.1L131.8 819.1M131.8 819.1L133.3 815.8M133.3 815.8L134.8 813.1M40.3 821.1L41.8 818.5M52.3 818.5L53.8 821.2M53.8 821.2L55.3 823.8M64.3 819.2L65.8 816.7M73.3 814.9L74.8 818.0M74.8 818.0L76.3 820.7M82.3 827.2L83.8 825.3M85.3 823.0L86.8 820.4M106.3 825.6L107.8 823.5M109.3 820.9L110.8 818.0M119.8 815.5L121.3 817.8M131.8 821.9L133.3 819.4M133.3 819.4L134.8 816.7" stroke="#fff" stroke-width="1.25" stroke-opacity="0.375"/><path d="M43.3 808.3L44.8 805.6M65.8 809.8L67.3 806.5M70.3 803.5L71.8 805.1M71.8 805.1L73.3 807.8M88.3 810.6L89.8 807.9M94.3 805.1L95.8 807.2M112.3 807.3L113.8 805.2M116.8 803.1L118.3 804.9M118.3 804.9L119.8 808.1M68.8 808.8L70.3 807.6M91.3 809.5L92.8 807.9M113.8 808.7L115.3 806.7M22.3 814.5L23.8 813.4M44.8 813.0L46.3 811.3M115.3 810.9L116.8 811.1" stroke="#fff" stroke-width="1.75" stroke-opacity="0.5"/><path d="M92.8 804.4L94.3 805.1M136.3 807.3L137.8 805.5" stroke="#fff" stroke-width="2.0" stroke-opacity="0.5"/><path d="M34.3 823.6L35.8 824.6M35.8 824.6L37.3 822.5M56.8 823.0L58.3 824.3M58.3 824.3L59.8 823.2M77.8 819.6L79.3 822.5M79.3 822.5L80.8 824.0M101.8 821.2L103.3 823.7M103.3 823.7L104.8 824.2M104.8 824.2L106.3 822.6M124.3 820.5L125.8 822.6M127.3 824.4L128.8 823.0M32.8 825.1L34.3 826.6M35.8 827.2L37.3 826.1M77.8 822.8L79.3 825.5M103.3 826.6L104.8 827.2M125.8 825.5L127.3 827.6" stroke="#fff" stroke-width="1.0" stroke-opacity="0.375"/><path d="M67.3 810.6L68.8 808.8M92.8 807.9L94.3 809.3" stroke="#fff" stroke-width="1.5" stroke-opacity="0.625"/><path d="M44.8 817.3L46.3 815.5M115.3 814.5L116.8 814.7M22.3 822.0L23.8 821.1M46.3 819.2L47.8 819.5M68.8 819.7L70.3 819.5M91.3 820.8L92.8 819.5M115.3 818.6L116.8 818.5" stroke="#fff" stroke-width="1.75" stroke-opacity="0.25"/></g>
</g>
<rect x="24.3" y="758.8" width="112.7" height="77.5" fill="none" stroke="#707070" stroke-width="1"/>
<g clip-path="url(#ec10)">
<rect x="139.5" y="759.3" width="113" height="76.3" fill="#1b1b1b"/>
<rect x="139.5" y="759.3" width="113" height="76.3" filter="url(#sp10)" mask="url(#mk10)"/>
<path d="M137.5 791.0 L139.0 787.5 L140.5 784.9 L142.0 782.8 L143.5 781.2 L145.0 779.9 L146.5 779.0 L148.0 778.6 L149.5 778.6 L151.0 779.0 L152.5 779.8 L154.0 781.1 L155.5 782.8 L157.0 784.8 L158.5 787.3 L160.0 790.8 L161.5 787.3 L163.0 784.8 L164.5 782.8 L166.0 781.1 L167.5 779.8 L169.0 779.0 L170.5 778.6 L172.0 778.6 L173.5 779.0 L175.0 779.8 L176.5 781.1 L178.0 782.7 L179.5 784.7 L181.0 787.2 L182.5 790.7 L184.0 787.2 L185.5 784.7 L187.0 782.7 L188.5 781.1 L190.0 779.8 L191.5 779.0 L193.0 778.6 L194.5 778.5 L196.0 778.9 L197.5 779.5 L199.0 780.5 L200.5 781.8 L202.0 783.4 L203.5 785.3 L205.0 788.0 L206.5 785.3 L208.0 783.4 L209.5 781.8 L211.0 780.5 L212.5 779.5 L214.0 778.9 L215.5 778.5 L217.0 778.5 L218.5 778.9 L220.0 779.6 L221.5 780.6 L223.0 782.0 L224.5 783.7 L226.0 785.7 L227.5 788.6 L229.0 785.7 L230.5 783.7 L232.0 782.0 L233.5 780.6 L235.0 779.6 L236.5 778.9 L238.0 778.5 L239.5 778.5 L241.0 778.9 L242.5 779.6 L244.0 780.6 L245.5 782.0 L247.0 783.7 L248.5 785.8 L250.0 788.7 L251.5 785.8 L253.0 783.7 L254.5 782.0 L256.0 780.6 L256.0 808.1 L254.5 805.9 L253.0 803.9 L251.5 802.2 L250.0 801.1 L248.5 802.2 L247.0 803.9 L245.5 805.9 L244.0 808.1 L242.5 810.2 L241.0 812.1 L239.5 813.5 L238.0 813.5 L236.5 812.1 L235.0 810.3 L233.5 808.1 L232.0 805.9 L230.5 803.9 L229.0 802.3 L227.5 801.2 L226.0 802.3 L224.5 803.9 L223.0 805.9 L221.5 808.1 L220.0 810.3 L218.5 812.1 L217.0 813.5 L215.5 813.5 L214.0 812.2 L212.5 810.5 L211.0 808.5 L209.5 806.4 L208.0 804.5 L206.5 803.0 L205.0 801.9 L203.5 803.0 L202.0 804.5 L200.5 806.4 L199.0 808.5 L197.5 810.5 L196.0 812.2 L194.5 813.5 L193.0 813.4 L191.5 811.7 L190.0 809.5 L188.5 806.9 L187.0 804.3 L185.5 801.9 L184.0 799.9 L182.5 798.5 L181.0 799.9 L179.5 801.9 L178.0 804.3 L176.5 806.9 L175.0 809.5 L173.5 811.7 L172.0 813.4 L170.5 813.4 L169.0 811.7 L167.5 809.4 L166.0 806.8 L164.5 804.1 L163.0 801.7 L161.5 799.7 L160.0 798.3 L158.5 799.7 L157.0 801.7 L155.5 804.1 L154.0 806.8 L152.5 809.4 L151.0 811.7 L149.5 813.4 L148.0 813.4 L146.5 811.6 L145.0 809.3 L143.5 806.7 L142.0 804.0 L140.5 801.5 L139.0 799.4 L137.5 798.0 Z" fill="#161616" opacity="0.6" filter="url(#bl10)"/>
<rect x="139.5" y="759.3" width="113" height="2.5" fill="#e6e6e6" opacity="0.75"/>
<path d="M137.5 816.7 L139.0 817.3 L140.5 818.5 L142.0 819.7 L143.5 818.3 L145.0 819.9 L146.5 821.1 L148.0 821.2 L149.5 820.2 L151.0 818.8 L152.5 819.2 L154.0 820.6 L155.5 817.2 L157.0 817.1 L158.5 818.2 L160.0 815.4 L161.5 815.9 L163.0 817.1 L164.5 819.8 L166.0 818.5 L167.5 819.3 L169.0 820.2 L170.5 821.0 L172.0 820.0 L173.5 818.5 L175.0 819.8 L176.5 817.6 L178.0 817.2 L179.5 816.7 L181.0 817.5 L182.5 814.9 L184.0 817.4 L185.5 816.7 L187.0 817.2 L188.5 817.5 L190.0 820.2 L191.5 821.0 L193.0 819.1 L194.5 819.1 L196.0 818.3 L197.5 820.1 L199.0 818.6 L200.5 817.6 L202.0 818.7 L203.5 817.8 L205.0 816.4 L206.5 816.4 L208.0 818.7 L209.5 819.0 L211.0 819.1 L212.5 818.6 L214.0 821.2 L215.5 821.1 L217.0 820.6 L218.5 821.4 L220.0 819.9 L221.5 818.7 L223.0 817.5 L224.5 818.5 L226.0 817.4 L227.5 816.1 L229.0 819.0 L230.5 819.2 L232.0 817.5 L233.5 820.5 L235.0 818.0 L236.5 820.3 L238.0 819.4 L239.5 820.7 L241.0 821.3 L242.5 819.7 L244.0 820.1 L245.5 817.3 L247.0 818.6 L248.5 816.1 L250.0 816.2 L251.5 816.8 L253.0 816.7 L254.5 819.5 L256.0 817.9 L254.5 837.5999999999999 L137.5 837.5999999999999 Z" fill="#f6f6f6" opacity="0.94" filter="url(#bl10)"/>
<clipPath id="bc10"><path d="M137.5 816.7 L139.0 817.3 L140.5 818.5 L142.0 819.7 L143.5 818.3 L145.0 819.9 L146.5 821.1 L148.0 821.2 L149.5 820.2 L151.0 818.8 L152.5 819.2 L154.0 820.6 L155.5 817.2 L157.0 817.1 L158.5 818.2 L160.0 815.4 L161.5 815.9 L163.0 817.1 L164.5 819.8 L166.0 818.5 L167.5 819.3 L169.0 820.2 L170.5 821.0 L172.0 820.0 L173.5 818.5 L175.0 819.8 L176.5 817.6 L178.0 817.2 L179.5 816.7 L181.0 817.5 L182.5 814.9 L184.0 817.4 L185.5 816.7 L187.0 817.2 L188.5 817.5 L190.0 820.2 L191.5 821.0 L193.0 819.1 L194.5 819.1 L196.0 818.3 L197.5 820.1 L199.0 818.6 L200.5 817.6 L202.0 818.7 L203.5 817.8 L205.0 816.4 L206.5 816.4 L208.0 818.7 L209.5 819.0 L211.0 819.1 L212.5 818.6 L214.0 821.2 L215.5 821.1 L217.0 820.6 L218.5 821.4 L220.0 819.9 L221.5 818.7 L223.0 817.5 L224.5 818.5 L226.0 817.4 L227.5 816.1 L229.0 819.0 L230.5 819.2 L232.0 817.5 L233.5 820.5 L235.0 818.0 L236.5 820.3 L238.0 819.4 L239.5 820.7 L241.0 821.3 L242.5 819.7 L244.0 820.1 L245.5 817.3 L247.0 818.6 L248.5 816.1 L250.0 816.2 L251.5 816.8 L253.0 816.7 L254.5 819.5 L256.0 817.9 L254.5 837.5999999999999 L137.5 837.5999999999999 Z"/></clipPath>
<rect x="139.5" y="759.3" width="113" height="76.3" filter="url(#dk10)" clip-path="url(#bc10)" opacity="0.2"/>
<g filter="url(#bl10)" fill="none" stroke-linecap="round"><path d="M137.5 787.9L139.0 784.2M157.0 781.5L158.5 784.4M160.0 788.1L161.5 784.2M161.5 784.2L163.0 781.7M182.5 787.8L184.0 784.1M200.5 778.5L202.0 780.1M223.0 779.2L224.5 780.6M224.5 780.6L226.0 783.1M227.5 785.6L229.0 782.9M229.0 782.9L230.5 780.7M250.0 785.3L251.5 782.7M251.5 782.7L253.0 780.7M139.0 802.2L140.5 804.2M161.5 802.9L163.0 804.6M178.0 807.1L179.5 804.8M200.5 809.6L202.0 807.5M158.5 806.4L160.0 805.2M181.0 810.5L182.5 809.3M158.5 813.6L160.0 812.3M203.5 816.9L205.0 815.7M248.5 816.3L250.0 815.2" stroke="#fff" stroke-width="1.75" stroke-opacity="0.5"/><path d="M139.0 784.2L140.5 781.8M155.5 779.9L157.0 781.5M178.0 779.5L179.5 782.0M179.5 782.0L181.0 784.5M184.0 784.1L185.5 781.8M202.0 780.1L203.5 782.0M205.0 784.8L206.5 782.5M206.5 782.5L208.0 780.5M245.5 779.1L247.0 780.5M247.0 780.5L248.5 782.6M203.5 813.3L205.0 812.0M181.0 814.0L182.5 813.2M226.0 816.1L227.5 815.1M158.5 817.4L160.0 816.6M203.5 819.8L205.0 819.5" stroke="#fff" stroke-width="1.75" stroke-opacity="0.375"/><path d="M140.5 781.8L142.0 779.5M143.5 778.2L145.0 776.5M152.5 776.6L154.0 778.1M154.0 778.1L155.5 779.9M163.0 781.7L164.5 779.5M164.5 779.5L166.0 778.4M173.5 776.1L175.0 777.1M175.0 777.1L176.5 778.4M176.5 778.4L178.0 779.5M187.0 779.6L188.5 778.2M188.5 778.2L190.0 776.7M196.0 775.7L197.5 776.4M208.0 780.5L209.5 778.5M220.0 776.6L221.5 777.4M221.5 777.4L223.0 779.2M230.5 780.7L232.0 779.2M232.0 779.2L233.5 777.7M233.5 777.7L235.0 776.4M242.5 776.9L244.0 777.5M248.5 778.1L250.0 781.0M142.0 806.7L143.5 810.0M164.5 807.3L166.0 809.8M166.0 809.8L167.5 812.2M188.5 810.0L190.0 812.3M196.0 815.0L197.5 813.2M197.5 813.2L199.0 811.5M208.0 807.4L209.5 809.1M220.0 813.3L221.5 811.1M221.5 811.1L223.0 809.1M230.5 807.2L232.0 809.0M241.0 815.4L242.5 813.0M244.0 811.3L245.5 808.9M253.0 806.9L254.5 808.8M161.5 806.7L163.0 808.3M178.0 810.9L179.5 808.6M202.0 810.9L203.5 809.3M250.0 807.4L251.5 808.9M137.5 808.4L139.0 809.9M155.5 814.2L157.0 811.8M160.0 808.8L161.5 809.8M161.5 809.8L163.0 811.9M178.0 814.2L179.5 812.4M179.5 812.4L181.0 810.5M184.0 810.2L185.5 812.0M200.5 816.3L202.0 814.8M206.5 813.3L208.0 814.2M223.0 816.0L224.5 813.8M229.0 812.8L230.5 814.2M245.5 815.5L247.0 813.8M137.5 812.5L139.0 813.6M157.0 815.5L158.5 813.6M160.0 812.3L161.5 813.7M178.0 817.9L179.5 815.9M182.5 813.2L184.0 813.9M184.0 813.9L185.5 815.4M200.5 819.5L202.0 817.8M202.0 817.8L203.5 816.9M205.0 815.7L206.5 816.9M227.5 815.1L229.0 816.2M250.0 815.2L251.5 815.9" stroke="#fff" stroke-width="1.5" stroke-opacity="0.375"/><path d="M142.0 779.5L143.5 778.2M151.0 775.8L152.5 776.6M166.0 778.4L167.5 777.2M185.5 781.8L187.0 779.6M197.5 776.4L199.0 777.4M199.0 777.4L200.5 778.5M209.5 778.5L211.0 777.5M211.0 777.5L212.5 776.5M218.5 776.1L220.0 776.6M241.0 775.9L242.5 776.9M244.0 777.5L245.5 779.1M253.0 780.7L254.5 779.1M137.5 782.9L139.0 779.6M157.0 777.2L158.5 779.4M158.5 779.4L160.0 782.8M160.0 782.8L161.5 779.5M179.5 777.3L181.0 779.0M181.0 779.0L182.5 782.5M182.5 782.5L184.0 779.1M202.0 775.5L203.5 777.8M203.5 777.8L205.0 779.9M205.0 779.9L206.5 777.6M224.5 775.9L226.0 778.3M226.0 778.3L227.5 780.7M227.5 780.7L229.0 777.8M247.0 775.9L248.5 778.1M250.0 781.0L251.5 777.9M139.0 809.9L140.5 812.0M139.0 813.6L140.5 815.3M155.5 817.4L157.0 815.5M161.5 813.7L163.0 815.7M179.5 815.9L181.0 814.0M206.5 816.9L208.0 817.7M223.0 819.1L224.5 817.7M224.5 817.7L226.0 816.1M229.0 816.2L230.5 817.6M245.5 819.1L247.0 817.4M247.0 817.4L248.5 816.3M251.5 815.9L253.0 817.5M137.5 816.1L139.0 817.6M139.0 817.6L140.5 818.8M155.5 821.3L157.0 819.1M157.0 819.1L158.5 817.4M160.0 816.6L161.5 817.8M161.5 817.8L163.0 818.9M178.0 821.0L179.5 819.0M179.5 819.0L181.0 817.4M182.5 816.3L184.0 817.4M184.0 817.4L185.5 819.4M200.5 822.7L202.0 821.2M202.0 821.2L203.5 819.8M205.0 819.5L206.5 820.4M206.5 820.4L208.0 821.7M223.0 822.7L224.5 821.2M224.5 821.2L226.0 819.7M227.5 818.9L229.0 819.5M247.0 820.9L248.5 819.9M250.0 818.8L251.5 819.5M251.5 819.5L253.0 820.6" stroke="#fff" stroke-width="1.5" stroke-opacity="0.25"/><path d="M145.0 776.5L146.5 776.0M146.5 776.0L148.0 775.4M148.0 775.4L149.5 775.4M149.5 775.4L151.0 775.8M190.0 776.7L191.5 775.9M215.5 775.4L217.0 775.7M217.0 775.7L218.5 776.1M139.0 779.6L140.5 777.6M140.5 777.6L142.0 775.5M152.5 773.0L154.0 774.0M155.5 775.1L157.0 777.2M161.5 779.5L163.0 777.0M164.5 775.3L166.0 774.1M175.0 772.9L176.5 773.8M176.5 773.8L178.0 775.0M178.0 775.0L179.5 777.3M185.5 777.4L187.0 775.3M197.5 772.5L199.0 773.6M199.0 773.6L200.5 774.2M200.5 774.2L202.0 775.5M206.5 777.6L208.0 775.5M208.0 775.5L209.5 774.4M209.5 774.4L211.0 773.4M220.0 772.2L221.5 773.3M223.0 774.4L224.5 775.9M229.0 777.8L230.5 776.4M230.5 776.4L232.0 774.4M244.0 773.8L245.5 774.6M251.5 777.9L253.0 775.9M166.0 813.5L167.5 815.4M172.0 819.4L173.5 818.1M187.0 810.4L188.5 813.0M188.5 813.0L190.0 816.0M194.5 819.6L196.0 818.1M196.0 818.1L197.5 816.9M220.0 816.3L221.5 814.1M232.0 812.5L233.5 814.6M241.0 818.2L242.5 816.4M140.5 812.0L142.0 814.3M143.5 816.5L145.0 818.6M152.5 818.8L154.0 816.7M166.0 816.7L167.5 818.9M173.5 821.0L175.0 819.2M175.0 819.2L176.5 816.3M176.5 816.3L178.0 814.2M190.0 819.1L191.5 821.3M196.0 821.4L197.5 819.8M208.0 814.2L209.5 816.2M209.5 816.2L211.0 817.7M211.0 817.7L212.5 820.1M212.5 820.1L214.0 821.6M217.0 822.4L218.5 821.4M218.5 821.4L220.0 819.4M220.0 819.4L221.5 817.7M221.5 817.7L223.0 816.0M232.0 815.6L233.5 817.7M233.5 817.7L235.0 819.3M235.0 819.3L236.5 821.1M239.5 822.6L241.0 821.2M244.0 817.4L245.5 815.5M140.5 815.3L142.0 817.2M142.0 817.2L143.5 819.6M143.5 819.6L145.0 822.0M145.0 822.0L146.5 824.1M149.5 825.6L151.0 824.0M151.0 824.0L152.5 822.2M152.5 822.2L154.0 819.7M154.0 819.7L155.5 817.4M163.0 815.7L164.5 817.6M164.5 817.6L166.0 819.9M166.0 819.9L167.5 822.3M167.5 822.3L169.0 824.2M172.0 825.3L173.5 823.8M173.5 823.8L175.0 822.0M175.0 822.0L176.5 819.8M176.5 819.8L178.0 817.9M185.5 815.4L187.0 817.8M187.0 817.8L188.5 819.7M188.5 819.7L190.0 822.4M190.0 822.4L191.5 824.0M194.5 825.7L196.0 824.2M196.0 824.2L197.5 822.8M197.5 822.8L199.0 821.5M199.0 821.5L200.5 819.5M208.0 817.7L209.5 819.7M209.5 819.7L211.0 821.5M212.5 822.9L214.0 824.1M217.0 825.8L218.5 824.0M218.5 824.0L220.0 823.2M220.0 823.2L221.5 820.7M221.5 820.7L223.0 819.1M230.5 817.6L232.0 819.0M232.0 819.0L233.5 820.7M233.5 820.7L235.0 822.9M235.0 822.9L236.5 824.5M239.5 825.6L241.0 824.5M241.0 824.5L242.5 822.7M242.5 822.7L244.0 821.1M244.0 821.1L245.5 819.1M253.0 817.5L254.5 818.8M145.0 825.3L146.5 827.1M151.0 827.0L152.5 825.3M152.5 825.3L154.0 823.2M154.0 823.2L155.5 821.3M164.5 821.4L166.0 823.3M166.0 823.3L167.5 825.1M167.5 825.1L169.0 827.3M173.5 827.2L175.0 825.2M175.0 825.2L176.5 823.5M211.0 824.5L212.5 826.0M217.0 828.3L218.5 827.6M220.0 826.1L221.5 824.3M221.5 824.3L223.0 822.7M230.5 820.9L232.0 822.8M232.0 822.8L233.5 824.0M233.5 824.0L235.0 826.2M239.5 828.3L241.0 827.1M244.0 824.2L245.5 822.3M253.0 820.6L254.5 822.3" stroke="#fff" stroke-width="1.25" stroke-opacity="0.25"/><path d="M158.5 784.4L160.0 788.1M226.0 783.1L227.5 785.6M181.0 803.0L182.5 801.3M226.0 805.3L227.5 804.0" stroke="#fff" stroke-width="2.0" stroke-opacity="0.75"/><path d="M167.5 777.2L169.0 776.2M169.0 776.2L170.5 775.3M170.5 775.3L172.0 775.4M172.0 775.4L173.5 776.1M191.5 775.9L193.0 775.8M193.0 775.8L194.5 775.3M194.5 775.3L196.0 775.7M212.5 776.5L214.0 775.9M214.0 775.9L215.5 775.4M235.0 776.4L236.5 775.8M236.5 775.8L238.0 775.3M238.0 775.3L239.5 775.3M239.5 775.3L241.0 775.9M146.5 814.7L148.0 816.3M148.0 816.3L149.5 816.4M169.0 814.8L170.5 816.1M170.5 816.1L172.0 816.5M190.0 812.3L191.5 814.4M191.5 814.4L193.0 816.6M194.5 816.2L196.0 815.0M214.0 815.5L215.5 816.5M217.0 816.6L218.5 815.1M238.0 816.5L239.5 816.5M142.0 810.7L143.5 813.0M143.5 813.0L145.0 815.3M145.0 815.3L146.5 818.0M149.5 819.1L151.0 817.5M151.0 817.5L152.5 815.5M152.5 815.5L154.0 813.2M154.0 813.2L155.5 810.5M164.5 810.8L166.0 813.5M167.5 815.4L169.0 817.5M173.5 818.1L175.0 815.9M175.0 815.9L176.5 813.6M176.5 813.6L178.0 810.9M185.5 808.6L187.0 810.4M190.0 816.0L191.5 818.1M199.0 814.9L200.5 812.5M209.5 812.8L211.0 815.1M211.0 815.1L212.5 816.8M212.5 816.8L214.0 818.0M217.0 819.8L218.5 818.3M218.5 818.3L220.0 816.3M221.5 814.1L223.0 812.1M230.5 810.2L232.0 812.5M235.0 816.3L236.5 818.2M239.5 819.4L241.0 818.2M242.5 816.4L244.0 814.3M244.0 814.3L245.5 812.4M253.0 810.4L254.5 812.6M142.0 814.3L143.5 816.5M145.0 818.6L146.5 820.6M149.5 822.6L151.0 821.0M151.0 821.0L152.5 818.8M154.0 816.7L155.5 814.2M163.0 811.9L164.5 814.0M164.5 814.0L166.0 816.7M167.5 818.9L169.0 821.2M172.0 822.2L173.5 821.0M185.5 812.0L187.0 814.5M187.0 814.5L188.5 816.9M188.5 816.9L190.0 819.1M194.5 822.6L196.0 821.4M197.5 819.8L199.0 818.1M199.0 818.1L200.5 816.3M230.5 814.2L232.0 815.6M241.0 821.2L242.5 819.9M242.5 819.9L244.0 817.4M253.0 813.7L254.5 815.6" stroke="#fff" stroke-width="1.25" stroke-opacity="0.375"/><path d="M181.0 784.5L182.5 787.8M158.5 802.9L160.0 801.6" stroke="#fff" stroke-width="2.0" stroke-opacity="0.625"/><path d="M203.5 782.0L205.0 784.8M248.5 782.6L250.0 785.3" stroke="#fff" stroke-width="2.0" stroke-opacity="0.5"/><path d="M142.0 775.5L143.5 773.9M154.0 774.0L155.5 775.1M163.0 777.0L164.5 775.3M184.0 779.1L185.5 777.4M187.0 775.3L188.5 773.8M221.5 773.3L223.0 774.4M232.0 774.4L233.5 773.7M242.5 772.7L244.0 773.8M245.5 774.6L247.0 775.9M253.0 775.9L254.5 774.6M139.0 774.5L140.5 773.2M140.5 773.2L142.0 771.4M142.0 771.4L143.5 771.0M152.5 769.3L154.0 771.0M154.0 771.0L155.5 772.4M155.5 772.4L157.0 772.7M161.5 773.8L163.0 773.4M163.0 773.4L164.5 772.2M164.5 772.2L166.0 770.1M175.0 768.3L176.5 771.0M176.5 771.0L178.0 771.8M178.0 771.8L179.5 772.8M184.0 774.0L185.5 772.6M185.5 772.6L187.0 772.5M187.0 772.5L188.5 770.7M197.5 768.7L199.0 769.9M199.0 769.9L200.5 770.1M200.5 770.1L202.0 771.4M206.5 772.1L208.0 771.8M208.0 771.8L209.5 771.3M209.5 771.3L211.0 769.2M220.0 768.7L221.5 769.9M221.5 769.9L223.0 771.6M223.0 771.6L224.5 771.6M229.0 772.5L230.5 771.7M230.5 771.7L232.0 771.6M232.0 771.6L233.5 770.3M242.5 768.2L244.0 769.9M244.0 769.9L245.5 770.6M245.5 770.6L247.0 772.0M251.5 772.5L253.0 772.4M253.0 772.4L254.5 771.3M211.0 821.5L212.5 822.9M140.5 818.8L142.0 821.1M142.0 821.1L143.5 823.3M143.5 823.3L145.0 825.3M149.5 828.8L151.0 827.0M163.0 818.9L164.5 821.4M172.0 828.2L173.5 827.2M176.5 823.5L178.0 821.0M185.5 819.4L187.0 821.0M187.0 821.0L188.5 823.6M188.5 823.6L190.0 825.5M190.0 825.5L191.5 827.0M194.5 828.9L196.0 827.2M196.0 827.2L197.5 825.9M197.5 825.9L199.0 824.4M199.0 824.4L200.5 822.7M208.0 821.7L209.5 822.8M209.5 822.8L211.0 824.5M212.5 826.0L214.0 827.7M218.5 827.6L220.0 826.1M235.0 826.2L236.5 827.5M241.0 827.1L242.5 825.7M242.5 825.7L244.0 824.2" stroke="#fff" stroke-width="1.25" stroke-opacity="0.125"/><path d="M143.5 773.9L145.0 772.5M145.0 772.5L146.5 771.7M149.5 771.7L151.0 771.7M166.0 774.1L167.5 772.4M172.0 771.8L173.5 771.6M191.5 771.9L193.0 771.6M194.5 771.8L196.0 771.7M215.5 771.7L217.0 771.4M218.5 771.6L220.0 772.2M238.0 771.3L239.5 771.4M241.0 772.2L242.5 772.7M143.5 771.0L145.0 768.9M145.0 768.9L146.5 767.1M146.5 767.1L148.0 767.3M148.0 767.3L149.5 767.1M149.5 767.1L151.0 767.5M151.0 767.5L152.5 769.3M166.0 770.1L167.5 768.8M167.5 768.8L169.0 767.7M169.0 767.7L170.5 766.2M170.5 766.2L172.0 766.4M172.0 766.4L173.5 767.6M173.5 767.6L175.0 768.3M188.5 770.7L190.0 769.5M190.0 769.5L191.5 767.7M191.5 767.7L193.0 766.9M193.0 766.9L194.5 766.3M194.5 766.3L196.0 767.9M196.0 767.9L197.5 768.7M211.0 769.2L212.5 768.8M212.5 768.8L214.0 767.2M214.0 767.2L215.5 766.1M215.5 766.1L217.0 766.3M217.0 766.3L218.5 767.8M218.5 767.8L220.0 768.7M233.5 770.3L235.0 768.3M235.0 768.3L236.5 767.3M236.5 767.3L238.0 767.0M238.0 767.0L239.5 767.4M239.5 767.4L241.0 767.1M241.0 767.1L242.5 768.2M146.5 827.1L148.0 828.2M169.0 827.3L170.5 828.8M170.5 828.8L172.0 828.2M214.0 827.7L215.5 828.5M236.5 827.5L238.0 828.6M238.0 828.6L239.5 828.3" stroke="#fff" stroke-width="1.0" stroke-opacity="0.125"/><path d="M146.5 771.7L148.0 771.2M148.0 771.2L149.5 771.7M151.0 771.7L152.5 773.0M167.5 772.4L169.0 772.0M169.0 772.0L170.5 771.2M170.5 771.2L172.0 771.8M173.5 771.6L175.0 772.9M188.5 773.8L190.0 772.5M190.0 772.5L191.5 771.9M193.0 771.6L194.5 771.8M196.0 771.7L197.5 772.5M211.0 773.4L212.5 772.3M212.5 772.3L214.0 771.8M214.0 771.8L215.5 771.7M217.0 771.4L218.5 771.6M233.5 773.7L235.0 772.2M235.0 772.2L236.5 771.8M236.5 771.8L238.0 771.3M239.5 771.4L241.0 772.2M169.0 817.5L170.5 819.3M146.5 820.6L148.0 822.5M148.0 822.5L149.5 822.6M169.0 821.2L170.5 822.2M170.5 822.2L172.0 822.2M193.0 822.5L194.5 822.6M215.5 822.4L217.0 822.4M146.5 824.1L148.0 825.8M148.0 825.8L149.5 825.6M169.0 824.2L170.5 825.6M170.5 825.6L172.0 825.3M191.5 824.0L193.0 825.5M193.0 825.5L194.5 825.7M214.0 824.1L215.5 825.5M215.5 825.5L217.0 825.8M236.5 824.5L238.0 825.7M238.0 825.7L239.5 825.6M148.0 828.2L149.5 828.8M191.5 827.0L193.0 828.7M193.0 828.7L194.5 828.9M215.5 828.5L217.0 828.3" stroke="#fff" stroke-width="1.0" stroke-opacity="0.25"/><path d="M137.5 775.0L139.0 774.5M157.0 772.7L158.5 773.9M158.5 773.9L160.0 774.9M160.0 774.9L161.5 773.8M179.5 772.8L181.0 773.9M181.0 773.9L182.5 775.7M182.5 775.7L184.0 774.0M202.0 771.4L203.5 772.0M203.5 772.0L205.0 773.3M205.0 773.3L206.5 772.1M224.5 771.6L226.0 773.1M226.0 773.1L227.5 773.5M227.5 773.5L229.0 772.5M247.0 772.0L248.5 772.5M248.5 772.5L250.0 773.5M250.0 773.5L251.5 772.5M229.0 819.5L230.5 820.9M245.5 822.3L247.0 820.9" stroke="#fff" stroke-width="1.5" stroke-opacity="0.125"/><path d="M137.5 801.3L139.0 802.2M155.5 807.4L157.0 804.6M179.5 804.8L181.0 803.0M182.5 801.3L184.0 802.6M184.0 802.6L185.5 805.0M206.5 805.9L208.0 807.4M223.0 809.1L224.5 806.6M227.5 804.0L229.0 805.5M229.0 805.5L230.5 807.2M245.5 808.9L247.0 807.2M251.5 804.9L253.0 806.9M158.5 810.3L160.0 808.8M226.0 812.8L227.5 811.4M248.5 812.5L250.0 811.6" stroke="#fff" stroke-width="1.75" stroke-opacity="0.625"/><path d="M140.5 804.2L142.0 806.7M143.5 810.0L145.0 812.2M151.0 814.4L152.5 812.6M152.5 812.6L154.0 810.0M154.0 810.0L155.5 807.4M163.0 804.6L164.5 807.3M173.5 814.7L175.0 812.1M175.0 812.1L176.5 809.8M176.5 809.8L178.0 807.1M185.5 805.0L187.0 807.3M187.0 807.3L188.5 810.0M199.0 811.5L200.5 809.6M209.5 809.1L211.0 811.7M211.0 811.7L212.5 813.7M218.5 815.1L220.0 813.3M232.0 809.0L233.5 811.1M233.5 811.1L235.0 812.9M242.5 813.0L244.0 811.3M139.0 806.2L140.5 808.4M155.5 810.5L157.0 808.6M157.0 808.6L158.5 806.4M160.0 805.2L161.5 806.7M179.5 808.6L181.0 806.3M184.0 806.8L185.5 808.6M200.5 812.5L202.0 810.9M206.5 809.4L208.0 810.6M223.0 812.1L224.5 810.5M224.5 810.5L226.0 809.1M227.5 807.5L229.0 809.1M229.0 809.1L230.5 810.2M245.5 812.4L247.0 810.4M247.0 810.4L248.5 809.0M251.5 808.9L253.0 810.4M157.0 811.8L158.5 810.3M182.5 809.3L184.0 810.2M202.0 814.8L203.5 813.3M205.0 812.0L206.5 813.3M224.5 813.8L226.0 812.8M227.5 811.4L229.0 812.8M247.0 813.8L248.5 812.5M250.0 811.6L251.5 812.4M251.5 812.4L253.0 813.7" stroke="#fff" stroke-width="1.5" stroke-opacity="0.5"/><path d="M145.0 812.2L146.5 814.7M149.5 816.4L151.0 814.4M167.5 812.2L169.0 814.8M172.0 816.5L173.5 814.7M193.0 816.6L194.5 816.2M212.5 813.7L214.0 815.5M215.5 816.5L217.0 816.6M235.0 812.9L236.5 815.4M236.5 815.4L238.0 816.5M239.5 816.5L241.0 815.4M140.5 808.4L142.0 810.7M163.0 808.3L164.5 810.8M197.5 816.9L199.0 814.9M208.0 810.6L209.5 812.8M233.5 814.6L235.0 816.3" stroke="#fff" stroke-width="1.25" stroke-opacity="0.5"/><path d="M157.0 804.6L158.5 802.9M160.0 801.6L161.5 802.9M202.0 807.5L203.5 805.7M205.0 804.7L206.5 805.9M224.5 806.6L226.0 805.3M247.0 807.2L248.5 805.3M250.0 803.8L251.5 804.9M181.0 806.3L182.5 805.6M203.5 809.3L205.0 808.6M226.0 809.1L227.5 807.5M248.5 809.0L250.0 807.4" stroke="#fff" stroke-width="1.75" stroke-opacity="0.75"/><path d="M203.5 805.7L205.0 804.7" stroke="#fff" stroke-width="2.0" stroke-opacity="1.0"/><path d="M248.5 805.3L250.0 803.8" stroke="#fff" stroke-width="2.0" stroke-opacity="0.875"/><path d="M137.5 804.7L139.0 806.2M182.5 805.6L184.0 806.8M205.0 808.6L206.5 809.4" stroke="#fff" stroke-width="1.5" stroke-opacity="0.625"/><path d="M146.5 818.0L148.0 819.2M148.0 819.2L149.5 819.1M170.5 819.3L172.0 819.4M191.5 818.1L193.0 819.4M193.0 819.4L194.5 819.6M214.0 818.0L215.5 819.3M236.5 818.2L238.0 819.7M238.0 819.7L239.5 819.4M191.5 821.3L193.0 822.5M214.0 821.6L215.5 822.4M236.5 821.1L238.0 822.8M238.0 822.8L239.5 822.6" stroke="#fff" stroke-width="1.0" stroke-opacity="0.375"/><path d="M215.5 819.3L217.0 819.8" stroke="#fff" stroke-width="1.0" stroke-opacity="0.5"/><path d="M181.0 817.4L182.5 816.3M226.0 819.7L227.5 818.9M248.5 819.9L250.0 818.8" stroke="#fff" stroke-width="1.75" stroke-opacity="0.25"/></g>
</g>
<rect x="139.5" y="759.3" width="113" height="76.3" fill="none" stroke="#707070" stroke-width="1"/>
<g clip-path="url(#ec11)">
<rect x="24.3" y="857" width="112.7" height="77.5" fill="#1b1b1b"/>
<rect x="24.3" y="857" width="112.7" height="77.5" filter="url(#sp11)" mask="url(#mk11)"/>
<path d="M22.3 884.7 L23.8 886.4 L25.3 885.1 L26.8 883.7 L28.3 882.6 L29.8 881.6 L31.3 880.9 L32.8 880.4 L34.3 880.1 L35.8 880.0 L37.3 880.2 L38.8 880.7 L40.3 881.4 L41.8 882.4 L43.3 883.6 L44.8 885.1 L46.3 887.0 L47.8 886.8 L49.3 885.0 L50.8 883.5 L52.3 882.3 L53.8 881.3 L55.3 880.6 L56.8 880.2 L58.3 880.0 L59.8 880.1 L61.3 880.5 L62.8 881.1 L64.3 882.1 L65.8 883.2 L67.3 884.7 L68.8 886.4 L70.3 887.7 L71.8 885.7 L73.3 884.1 L74.8 882.7 L76.3 881.7 L77.8 880.9 L79.3 880.3 L80.8 880.0 L82.3 880.0 L83.8 880.3 L85.3 880.7 L86.8 881.4 L88.3 882.3 L89.8 883.4 L91.3 884.7 L92.8 886.4 L94.3 885.1 L95.8 883.7 L97.3 882.6 L98.8 881.6 L100.3 880.9 L101.8 880.4 L103.3 880.1 L104.8 880.0 L106.3 880.2 L107.8 880.6 L109.3 881.2 L110.8 882.0 L112.3 883.1 L113.8 884.4 L115.3 886.0 L116.8 885.9 L118.3 884.3 L119.8 883.0 L121.3 882.0 L122.8 881.1 L124.3 880.5 L125.8 880.2 L127.3 880.0 L128.8 880.1 L130.3 880.4 L131.8 881.0 L133.3 881.8 L134.8 882.9 L136.3 884.2 L137.8 885.7 L139.3 886.9 L139.3 907.2 L137.8 907.6 L136.3 908.5 L134.8 909.7 L133.3 911.0 L131.8 912.3 L130.3 913.5 L128.8 914.4 L127.3 914.9 L125.8 914.2 L124.3 913.3 L122.8 912.1 L121.3 910.9 L119.8 909.6 L118.3 908.6 L116.8 907.8 L115.3 907.7 L113.8 908.5 L112.3 909.6 L110.8 910.8 L109.3 912.0 L107.8 913.2 L106.3 914.2 L104.8 914.9 L103.3 914.5 L101.8 913.7 L100.3 912.6 L98.8 911.4 L97.3 910.2 L95.8 909.1 L94.3 908.3 L92.8 907.8 L91.3 908.5 L89.8 909.4 L88.3 910.5 L86.8 911.7 L85.3 912.9 L83.8 913.9 L82.3 914.7 L80.8 914.7 L79.3 913.8 L77.8 912.5 L76.3 911.1 L74.8 909.6 L73.3 908.2 L71.8 907.0 L70.3 906.2 L68.8 906.6 L67.3 907.7 L65.8 909.0 L64.3 910.5 L62.8 912.0 L61.3 913.3 L59.8 914.4 L58.3 914.9 L56.8 914.1 L55.3 913.0 L53.8 911.6 L52.3 910.2 L50.8 908.8 L49.3 907.5 L47.8 906.6 L46.3 906.5 L44.8 907.4 L43.3 908.7 L41.8 910.1 L40.3 911.5 L38.8 912.9 L37.3 914.1 L35.8 914.9 L34.3 914.5 L32.8 913.7 L31.3 912.6 L29.8 911.4 L28.3 910.2 L26.8 909.2 L25.3 908.3 L23.8 907.8 L22.3 908.5 Z" fill="#161616" opacity="0.6" filter="url(#bl11)"/>
<rect x="24.3" y="857" width="112.7" height="2.5" fill="#e6e6e6" opacity="0.75"/>
<path d="M22.3 920.1 L23.8 921.0 L25.3 921.4 L26.8 921.5 L28.3 921.1 L29.8 923.3 L31.3 923.6 L32.8 922.9 L34.3 923.0 L35.8 922.2 L37.3 921.3 L38.8 922.3 L40.3 922.7 L41.8 920.7 L43.3 922.5 L44.8 920.1 L46.3 919.4 L47.8 918.8 L49.3 922.6 L50.8 922.4 L52.3 923.3 L53.8 922.8 L55.3 921.3 L56.8 922.4 L58.3 923.0 L59.8 921.7 L61.3 924.3 L62.8 922.1 L64.3 921.1 L65.8 922.7 L67.3 919.9 L68.8 921.8 L70.3 919.8 L71.8 920.9 L73.3 920.9 L74.8 921.9 L76.3 921.3 L77.8 921.2 L79.3 924.0 L80.8 922.1 L82.3 923.9 L83.8 922.0 L85.3 924.2 L86.8 923.7 L88.3 922.9 L89.8 922.5 L91.3 921.4 L92.8 921.2 L94.3 919.8 L95.8 921.4 L97.3 923.0 L98.8 921.4 L100.3 924.0 L101.8 924.1 L103.3 922.7 L104.8 922.6 L106.3 922.8 L107.8 922.4 L109.3 924.1 L110.8 921.8 L112.3 920.2 L113.8 919.9 L115.3 921.3 L116.8 922.2 L118.3 921.3 L119.8 921.8 L121.3 922.4 L122.8 923.3 L124.3 921.9 L125.8 923.3 L127.3 923.2 L128.8 923.4 L130.3 921.8 L131.8 921.5 L133.3 921.8 L134.8 923.2 L136.3 920.8 L137.8 921.0 L139.3 919.6 L140.8 919.7 L139.0 936.5 L22.3 936.5 Z" fill="#f6f6f6" opacity="0.94" filter="url(#bl11)"/>
<clipPath id="bc11"><path d="M22.3 920.1 L23.8 921.0 L25.3 921.4 L26.8 921.5 L28.3 921.1 L29.8 923.3 L31.3 923.6 L32.8 922.9 L34.3 923.0 L35.8 922.2 L37.3 921.3 L38.8 922.3 L40.3 922.7 L41.8 920.7 L43.3 922.5 L44.8 920.1 L46.3 919.4 L47.8 918.8 L49.3 922.6 L50.8 922.4 L52.3 923.3 L53.8 922.8 L55.3 921.3 L56.8 922.4 L58.3 923.0 L59.8 921.7 L61.3 924.3 L62.8 922.1 L64.3 921.1 L65.8 922.7 L67.3 919.9 L68.8 921.8 L70.3 919.8 L71.8 920.9 L73.3 920.9 L74.8 921.9 L76.3 921.3 L77.8 921.2 L79.3 924.0 L80.8 922.1 L82.3 923.9 L83.8 922.0 L85.3 924.2 L86.8 923.7 L88.3 922.9 L89.8 922.5 L91.3 921.4 L92.8 921.2 L94.3 919.8 L95.8 921.4 L97.3 923.0 L98.8 921.4 L100.3 924.0 L101.8 924.1 L103.3 922.7 L104.8 922.6 L106.3 922.8 L107.8 922.4 L109.3 924.1 L110.8 921.8 L112.3 920.2 L113.8 919.9 L115.3 921.3 L116.8 922.2 L118.3 921.3 L119.8 921.8 L121.3 922.4 L122.8 923.3 L124.3 921.9 L125.8 923.3 L127.3 923.2 L128.8 923.4 L130.3 921.8 L131.8 921.5 L133.3 921.8 L134.8 923.2 L136.3 920.8 L137.8 921.0 L139.3 919.6 L140.8 919.7 L139.0 936.5 L22.3 936.5 Z"/></clipPath>
<rect x="24.3" y="857" width="112.7" height="77.5" filter="url(#dk11)" clip-path="url(#bc11)" opacity="0.2"/>
<g filter="url(#bl11)" fill="none" stroke-linecap="round"><path d="M22.3 881.4L23.8 883.6M67.3 881.5L68.8 883.7" stroke="#fff" stroke-width="2.0" stroke-opacity="0.875"/><path d="M23.8 883.6L25.3 882.0M44.8 882.0L46.3 884.3M91.3 881.8L92.8 883.6M113.8 881.6L115.3 882.9M115.3 882.9L116.8 882.5M136.3 881.3L137.8 883.0" stroke="#fff" stroke-width="2.0" stroke-opacity="0.75"/><path d="M25.3 882.0L26.8 880.8M43.3 880.4L44.8 882.0M94.3 881.8L95.8 880.6M112.3 879.8L113.8 881.6" stroke="#fff" stroke-width="1.75" stroke-opacity="0.75"/><path d="M26.8 880.8L28.3 879.9M38.8 877.7L40.3 878.1M40.3 878.1L41.8 879.2M76.3 878.4L77.8 877.7M86.8 878.6L88.3 879.3M107.8 877.8L109.3 878.1M109.3 878.1L110.8 879.4M119.8 880.0L121.3 878.8M121.3 878.8L122.8 878.1M130.3 877.8L131.8 878.0" stroke="#fff" stroke-width="1.5" stroke-opacity="0.5"/><path d="M28.3 879.9L29.8 879.0" stroke="#fff" stroke-width="1.5" stroke-opacity="0.75"/><path d="M29.8 879.0L31.3 877.9M50.8 880.7L52.3 879.1M52.3 879.1L53.8 878.5M62.8 878.5L64.3 879.1M64.3 879.1L65.8 880.5M73.3 881.0L74.8 880.0M74.8 880.0L76.3 878.4M83.8 876.9L85.3 878.0M95.8 880.6L97.3 879.4M97.3 879.4L98.8 878.7M98.8 878.7L100.3 877.6M131.8 878.0L133.3 879.0M133.3 879.0L134.8 880.1" stroke="#fff" stroke-width="1.5" stroke-opacity="0.625"/><path d="M31.3 877.9L32.8 877.4M53.8 878.5L55.3 877.7M56.8 877.2L58.3 876.9M77.8 877.7L79.3 877.1M79.3 877.1L80.8 876.8M101.8 877.4L103.3 877.4M103.3 877.4L104.8 877.1M124.3 877.7L125.8 877.3M125.8 877.3L127.3 876.8M128.8 877.1L130.3 877.8" stroke="#fff" stroke-width="1.25" stroke-opacity="0.5"/><path d="M32.8 877.4L34.3 876.9M35.8 876.8L37.3 877.4M37.3 877.4L38.8 877.7M55.3 877.7L56.8 877.2M58.3 876.9L59.8 876.9M59.8 876.9L61.3 877.1M80.8 876.8L82.3 877.2M82.3 877.2L83.8 876.9M100.3 877.6L101.8 877.4M106.3 877.2L107.8 877.8M122.8 878.1L124.3 877.7M127.3 876.8L128.8 877.1" stroke="#fff" stroke-width="1.25" stroke-opacity="0.625"/><path d="M34.3 876.9L35.8 876.8M104.8 877.1L106.3 877.2" stroke="#fff" stroke-width="1.25" stroke-opacity="0.375"/><path d="M41.8 879.2L43.3 880.4M49.3 882.3L50.8 880.7M70.3 884.5L71.8 882.4M71.8 882.4L73.3 881.0M88.3 879.3L89.8 880.6M110.8 879.4L112.3 879.8" stroke="#fff" stroke-width="1.75" stroke-opacity="0.5"/><path d="M46.3 884.3L47.8 883.8M68.8 883.7L70.3 884.5M92.8 883.6L94.3 881.8" stroke="#fff" stroke-width="2.0" stroke-opacity="0.625"/><path d="M47.8 883.8L49.3 882.3M65.8 880.5L67.3 881.5M89.8 880.6L91.3 881.8M116.8 882.5L118.3 881.3M118.3 881.3L119.8 880.0M134.8 880.1L136.3 881.3" stroke="#fff" stroke-width="1.75" stroke-opacity="0.625"/><path d="M61.3 877.1L62.8 878.5M85.3 878.0L86.8 878.6M22.3 877.3L23.8 878.6" stroke="#fff" stroke-width="1.5" stroke-opacity="0.375"/><path d="M23.8 878.6L25.3 877.5M44.8 877.4L46.3 879.0M46.3 879.0L47.8 878.9M67.3 876.9L68.8 878.7M68.8 878.7L70.3 879.9M70.3 879.9L71.8 878.3M89.8 876.3L91.3 877.1M91.3 877.1L92.8 878.6M92.8 878.6L94.3 877.9M113.8 877.0L115.3 878.5M115.3 878.5L116.8 878.0M136.3 877.1L137.8 878.3" stroke="#fff" stroke-width="1.5" stroke-opacity="0.25"/><path d="M25.3 877.5L26.8 876.6M41.8 875.3L43.3 876.6M43.3 876.6L44.8 877.4M47.8 878.9L49.3 877.4M49.3 877.4L50.8 876.5M50.8 876.5L52.3 875.0M64.3 875.0L65.8 875.6M65.8 875.6L67.3 876.9M73.3 876.7L74.8 875.2M86.8 874.5L88.3 875.1M88.3 875.1L89.8 876.3M94.3 877.9L95.8 876.0M110.8 874.6L112.3 875.7M112.3 875.7L113.8 877.0M116.8 878.0L118.3 877.1M119.8 875.9L121.3 875.0M131.8 874.0L133.3 875.0M134.8 875.9L136.3 877.1" stroke="#fff" stroke-width="1.25" stroke-opacity="0.25"/><path d="M26.8 876.6L28.3 875.6M28.3 875.6L29.8 874.3M40.3 874.1L41.8 875.3M62.8 873.7L64.3 875.0M71.8 878.3L73.3 876.7M95.8 876.0L97.3 875.4M97.3 875.4L98.8 874.3M109.3 873.8L110.8 874.6M118.3 877.1L119.8 875.9M133.3 875.0L134.8 875.9M25.3 872.3L26.8 871.9M26.8 871.9L28.3 871.0M28.3 871.0L29.8 869.7M40.3 870.4L41.8 871.6M41.8 871.6L43.3 871.9M43.3 871.9L44.8 872.8M47.8 873.5L49.3 873.4M49.3 873.4L50.8 872.6M50.8 872.6L52.3 871.5M62.8 869.3L64.3 871.4M64.3 871.4L65.8 871.9M65.8 871.9L67.3 873.0M71.8 872.9L73.3 872.9M73.3 872.9L74.8 871.2M86.8 870.4L88.3 871.2M88.3 871.2L89.8 871.3M94.3 873.0L95.8 871.2M95.8 871.2L97.3 871.3M97.3 871.3L98.8 870.4M109.3 870.1L110.8 870.4M110.8 870.4L112.3 871.7M112.3 871.7L113.8 872.3M116.8 872.5L118.3 871.6M118.3 871.6L119.8 871.1M119.8 871.1L121.3 871.2M131.8 869.3L133.3 871.1M133.3 871.1L134.8 871.8M134.8 871.8L136.3 872.0M31.3 915.8L32.8 916.4M32.8 916.4L34.3 917.6M34.3 917.6L35.8 917.8M35.8 917.8L37.3 916.7M37.3 916.7L38.8 915.6M53.8 914.5L55.3 915.8M55.3 915.8L56.8 917.1M56.8 917.1L58.3 917.6M58.3 917.6L59.8 917.6M59.8 917.6L61.3 916.4M77.8 915.9L79.3 916.7M79.3 916.7L80.8 917.5M80.8 917.5L82.3 917.8M82.3 917.8L83.8 916.8M100.3 915.6L101.8 916.4M101.8 916.4L103.3 917.3M103.3 917.3L104.8 917.8M104.8 917.8L106.3 917.3M106.3 917.3L107.8 916.1M122.8 914.8L124.3 916.0M124.3 916.0L125.8 917.0M125.8 917.0L127.3 918.1M127.3 918.1L128.8 917.5M128.8 917.5L130.3 916.7M26.8 915.3L28.3 916.7M28.3 916.7L29.8 917.3M29.8 917.3L31.3 919.0M31.3 919.0L32.8 919.9M37.3 920.4L38.8 919.2M38.8 919.2L40.3 918.0M40.3 918.0L41.8 916.4M50.8 915.0L52.3 916.3M52.3 916.3L53.8 917.7M53.8 917.7L55.3 919.3M59.8 920.7L61.3 919.3M61.3 919.3L62.8 917.9M62.8 917.9L64.3 916.7M64.3 916.7L65.8 915.3M73.3 914.7L74.8 915.7M74.8 915.7L76.3 917.4M76.3 917.4L77.8 918.8M82.3 920.7L83.8 919.7M83.8 919.7L85.3 918.9M85.3 918.9L86.8 917.8M86.8 917.8L88.3 916.6M95.8 915.6L97.3 916.5M97.3 916.5L98.8 917.8M98.8 917.8L100.3 918.7M100.3 918.7L101.8 919.9M106.3 920.1L107.8 919.1M107.8 919.1L109.3 918.5M109.3 918.5L110.8 917.1M119.8 916.2L121.3 916.8M121.3 916.8L122.8 918.5M122.8 918.5L124.3 919.6M128.8 920.8L130.3 919.5M130.3 919.5L131.8 918.5M131.8 918.5L133.3 917.1M133.3 917.1L134.8 915.9M26.8 918.5L28.3 919.5M28.3 919.5L29.8 920.7M29.8 920.7L31.3 921.8M31.3 921.8L32.8 922.8M37.3 923.3L38.8 922.1M38.8 922.1L40.3 920.8M40.3 920.8L41.8 919.4M50.8 918.5L52.3 919.6M52.3 919.6L53.8 921.2M53.8 921.2L55.3 922.4M59.8 923.7L61.3 922.4M61.3 922.4L62.8 921.4M62.8 921.4L64.3 919.9M64.3 919.9L65.8 918.3M73.3 917.7L74.8 918.9M74.8 918.9L76.3 920.8M76.3 920.8L77.8 921.9M82.3 923.9L83.8 923.2M83.8 923.2L85.3 922.4M85.3 922.4L86.8 921.1M86.8 921.1L88.3 919.8M95.8 919.0L97.3 919.4M97.3 919.4L98.8 920.6M98.8 920.6L100.3 922.1M100.3 922.1L101.8 923.0M106.3 923.3L107.8 922.1M107.8 922.1L109.3 921.1M109.3 921.1L110.8 920.2M119.8 919.3L121.3 920.3M121.3 920.3L122.8 921.1M122.8 921.1L124.3 922.7M128.8 923.6L130.3 922.8M130.3 922.8L131.8 921.5M131.8 921.5L133.3 920.2M133.3 920.2L134.8 919.3" stroke="#fff" stroke-width="1.25" stroke-opacity="0.125"/><path d="M29.8 874.3L31.3 873.7M31.3 873.7L32.8 873.4M37.3 872.9L38.8 873.7M52.3 875.0L53.8 874.1M53.8 874.1L55.3 873.5M74.8 875.2L76.3 874.5M83.8 873.4L85.3 873.4M101.8 873.5L103.3 872.8M122.8 874.1L124.3 873.8M125.8 873.4L127.3 873.2M130.3 873.5L131.8 874.0M29.8 869.7L31.3 869.6M31.3 869.6L32.8 869.0M32.8 869.0L34.3 867.7M34.3 867.7L35.8 868.1M35.8 868.1L37.3 868.6M37.3 868.6L38.8 869.0M38.8 869.0L40.3 870.4M52.3 871.5L53.8 870.0M53.8 870.0L55.3 868.6M55.3 868.6L56.8 868.6M56.8 868.6L58.3 868.7M58.3 868.7L59.8 868.0M59.8 868.0L61.3 869.5M61.3 869.5L62.8 869.3M74.8 871.2L76.3 871.1M76.3 871.1L77.8 869.3M77.8 869.3L79.3 868.3M79.3 868.3L80.8 867.8M80.8 867.8L82.3 867.9M82.3 867.9L83.8 868.2M83.8 868.2L85.3 869.6M85.3 869.6L86.8 870.4M98.8 870.4L100.3 869.4M100.3 869.4L101.8 869.0M101.8 869.0L103.3 868.1M103.3 868.1L104.8 868.2M104.8 868.2L106.3 868.5M106.3 868.5L107.8 869.5M107.8 869.5L109.3 870.1M121.3 871.2L122.8 869.3M122.8 869.3L124.3 868.5M124.3 868.5L125.8 868.8M125.8 868.8L127.3 868.3M127.3 868.3L128.8 867.8M128.8 867.8L130.3 869.1M130.3 869.1L131.8 869.3M32.8 919.9L34.3 920.3M34.3 920.3L35.8 921.2M35.8 921.2L37.3 920.4M55.3 919.3L56.8 920.0M56.8 920.0L58.3 920.7M58.3 920.7L59.8 920.7M77.8 918.8L79.3 920.1M79.3 920.1L80.8 920.8M80.8 920.8L82.3 920.7M101.8 919.9L103.3 920.4M103.3 920.4L104.8 920.9M104.8 920.9L106.3 920.1M124.3 919.6L125.8 920.3M125.8 920.3L127.3 921.1M127.3 921.1L128.8 920.8M32.8 922.8L34.3 923.6M34.3 923.6L35.8 924.0M35.8 924.0L37.3 923.3M55.3 922.4L56.8 923.4M56.8 923.4L58.3 923.8M58.3 923.8L59.8 923.7M77.8 921.9L79.3 923.2M79.3 923.2L80.8 923.7M80.8 923.7L82.3 923.9M101.8 923.0L103.3 923.6M103.3 923.6L104.8 923.8M104.8 923.8L106.3 923.3M124.3 922.7L125.8 923.3M125.8 923.3L127.3 924.3M127.3 924.3L128.8 923.6" stroke="#fff" stroke-width="1.0" stroke-opacity="0.125"/><path d="M32.8 873.4L34.3 872.9M34.3 872.9L35.8 873.2M35.8 873.2L37.3 872.9M38.8 873.7L40.3 874.1M55.3 873.5L56.8 872.9M56.8 872.9L58.3 872.7M58.3 872.7L59.8 873.4M59.8 873.4L61.3 873.1M61.3 873.1L62.8 873.7M76.3 874.5L77.8 874.0M77.8 874.0L79.3 873.6M79.3 873.6L80.8 872.7M80.8 872.7L82.3 872.7M82.3 872.7L83.8 873.4M85.3 873.4L86.8 874.5M98.8 874.3L100.3 873.5M100.3 873.5L101.8 873.5M103.3 872.8L104.8 873.3M104.8 873.3L106.3 873.1M106.3 873.1L107.8 873.7M107.8 873.7L109.3 873.8M121.3 875.0L122.8 874.1M124.3 873.8L125.8 873.4M127.3 873.2L128.8 873.0M128.8 873.0L130.3 873.5" stroke="#fff" stroke-width="1.0" stroke-opacity="0.25"/><path d="M22.3 872.8L23.8 872.5M23.8 872.5L25.3 872.3M44.8 872.8L46.3 873.3M46.3 873.3L47.8 873.5M67.3 873.0L68.8 873.8M68.8 873.8L70.3 874.2M70.3 874.2L71.8 872.9M89.8 871.3L91.3 871.7M91.3 871.7L92.8 872.6M92.8 872.6L94.3 873.0M113.8 872.3L115.3 873.2M115.3 873.2L116.8 872.5M136.3 872.0L137.8 873.5M26.8 912.2L28.3 913.5M28.3 913.5L29.8 914.8M29.8 914.8L31.3 915.8M38.8 915.6L40.3 914.7M40.3 914.7L41.8 912.8M50.8 911.8L52.3 913.0M52.3 913.0L53.8 914.5M61.3 916.4L62.8 915.1M62.8 915.1L64.3 913.6M64.3 913.6L65.8 911.9M73.3 911.3L74.8 912.7M74.8 912.7L76.3 914.3M76.3 914.3L77.8 915.9M83.8 916.8L85.3 916.0M85.3 916.0L86.8 914.9M86.8 914.9L88.3 913.8M95.8 912.0L97.3 913.1M97.3 913.1L98.8 914.1M98.8 914.1L100.3 915.6M107.8 916.1L109.3 914.8M109.3 914.8L110.8 913.9M119.8 912.7L121.3 913.7M121.3 913.7L122.8 914.8M130.3 916.7L131.8 915.4M131.8 915.4L133.3 914.2M133.3 914.2L134.8 913.0M23.8 914.4L25.3 914.4M25.3 914.4L26.8 915.3M41.8 916.4L43.3 915.2M43.3 915.2L44.8 913.5M47.8 913.1L49.3 914.2M49.3 914.2L50.8 915.0M65.8 915.3L67.3 913.8M67.3 913.8L68.8 912.9M70.3 912.5L71.8 913.5M71.8 913.5L73.3 914.7M88.3 916.6L89.8 915.9M89.8 915.9L91.3 914.9M92.8 914.0L94.3 914.4M94.3 914.4L95.8 915.6M110.8 917.1L112.3 915.8M112.3 915.8L113.8 915.1M116.8 914.0L118.3 914.6M118.3 914.6L119.8 916.2M134.8 915.9L136.3 914.6M136.3 914.6L137.8 914.0M23.8 917.5L25.3 917.9M25.3 917.9L26.8 918.5M41.8 919.4L43.3 918.2M43.3 918.2L44.8 917.4M47.8 916.4L49.3 917.0M49.3 917.0L50.8 918.5M65.8 918.3L67.3 917.5M67.3 917.5L68.8 916.8M70.3 916.3L71.8 916.7M71.8 916.7L73.3 917.7M88.3 919.8L89.8 918.8M89.8 918.8L91.3 918.3M92.8 917.6L94.3 918.1M94.3 918.1L95.8 919.0M110.8 920.2L112.3 919.0M112.3 919.0L113.8 918.3M116.8 917.6L118.3 918.4M118.3 918.4L119.8 919.3M134.8 919.3L136.3 918.0M136.3 918.0L137.8 917.1" stroke="#fff" stroke-width="1.5" stroke-opacity="0.125"/><path d="M22.3 911.7L23.8 910.5M23.8 910.5L25.3 911.6M44.8 910.4L46.3 909.4M46.3 909.4L47.8 909.5M68.8 909.8L70.3 909.1M91.3 911.6L92.8 911.1M92.8 911.1L94.3 911.2M113.8 911.6L115.3 910.9M136.3 911.3L137.8 910.5" stroke="#fff" stroke-width="2.0" stroke-opacity="0.25"/><path d="M25.3 911.6L26.8 912.2M41.8 912.8L43.3 911.4M43.3 911.4L44.8 910.4M47.8 909.5L49.3 910.6M49.3 910.6L50.8 911.8M65.8 911.9L67.3 910.7M70.3 909.1L71.8 910.3M71.8 910.3L73.3 911.3M88.3 913.8L89.8 912.7M89.8 912.7L91.3 911.6M94.3 911.2L95.8 912.0M110.8 913.9L112.3 912.9M112.3 912.9L113.8 911.6M116.8 910.5L118.3 911.9M118.3 911.9L119.8 912.7M134.8 913.0L136.3 911.3M44.8 913.5L46.3 912.7M46.3 912.7L47.8 913.1M113.8 915.1L115.3 914.0M115.3 914.0L116.8 914.0M44.8 917.4L46.3 916.6M46.3 916.6L47.8 916.4M68.8 916.8L70.3 916.3M91.3 918.3L92.8 917.6M113.8 918.3L115.3 917.5M115.3 917.5L116.8 917.6" stroke="#fff" stroke-width="1.75" stroke-opacity="0.125"/><path d="M67.3 910.7L68.8 909.8M115.3 910.9L116.8 910.5" stroke="#fff" stroke-width="2.0" stroke-opacity="0.125"/><path d="M22.3 915.1L23.8 914.4M68.8 912.9L70.3 912.5M91.3 914.9L92.8 914.0M22.3 918.1L23.8 917.5" stroke="#fff" stroke-width="1.75" stroke-opacity="0.25"/></g>
<ellipse cx="69" cy="907" rx="3.5" ry="4" fill="#fff" opacity="0.4" filter="url(#bl11)"/>
<ellipse cx="90" cy="905" rx="3.5" ry="4.5" fill="#fff" opacity="0.45" filter="url(#bl11)"/>
<ellipse cx="56" cy="915" rx="2" ry="3" fill="#fff" opacity="0.35" filter="url(#bl11)"/>
<ellipse cx="70" cy="903" rx="2" ry="2" fill="#fff" opacity="0.4" filter="url(#bl11)"/>
<ellipse cx="91" cy="910" rx="2.5" ry="2" fill="#fff" opacity="0.4" filter="url(#bl11)"/>
</g>
<rect x="24.3" y="857" width="112.7" height="77.5" fill="none" stroke="#707070" stroke-width="1"/>
<g clip-path="url(#ec12)">
<rect x="139.5" y="857.5" width="113" height="77" fill="#1b1b1b"/>
<rect x="139.5" y="857.5" width="113" height="77" filter="url(#sp12)" mask="url(#mk12)"/>
<path d="M137.5 887.3 L139.0 884.8 L140.5 882.8 L142.0 881.1 L143.5 879.7 L145.0 878.8 L146.5 878.2 L148.0 878.0 L149.5 878.2 L151.0 878.7 L152.5 879.5 L154.0 880.6 L155.5 882.1 L157.0 883.8 L158.5 886.0 L160.0 886.8 L161.5 884.5 L163.0 882.6 L164.5 881.1 L166.0 879.8 L167.5 878.9 L169.0 878.3 L170.5 878.0 L172.0 878.1 L173.5 878.5 L175.0 879.3 L176.5 880.5 L178.0 882.0 L179.5 883.9 L181.0 886.2 L182.5 889.4 L184.0 886.2 L185.5 883.9 L187.0 882.0 L188.5 880.5 L190.0 879.3 L191.5 878.5 L193.0 878.1 L194.5 878.0 L196.0 878.3 L197.5 878.9 L199.0 879.9 L200.5 881.1 L202.0 882.7 L203.5 884.6 L205.0 886.9 L206.5 886.0 L208.0 883.9 L209.5 882.1 L211.0 880.7 L212.5 879.5 L214.0 878.7 L215.5 878.2 L217.0 878.0 L218.5 878.2 L220.0 878.6 L221.5 879.4 L223.0 880.5 L224.5 881.8 L226.0 883.5 L227.5 885.5 L229.0 886.3 L230.5 884.1 L232.0 882.4 L233.5 880.9 L235.0 879.7 L236.5 878.9 L238.0 878.3 L239.5 878.0 L241.0 878.1 L242.5 878.5 L244.0 879.2 L245.5 880.3 L247.0 881.7 L248.5 883.5 L250.0 885.6 L251.5 888.5 L253.0 885.6 L254.5 883.5 L256.0 881.7 L256.0 908.5 L254.5 906.4 L253.0 904.8 L251.5 903.6 L250.0 904.8 L248.5 906.4 L247.0 908.5 L245.5 910.7 L244.0 912.9 L242.5 914.8 L241.0 916.3 L239.5 916.7 L238.0 915.5 L236.5 913.9 L235.0 912.0 L233.5 910.0 L232.0 908.1 L230.5 906.5 L229.0 905.3 L227.5 905.7 L226.0 907.0 L224.5 908.7 L223.0 910.7 L221.5 912.7 L220.0 914.5 L218.5 916.0 L217.0 917.0 L215.5 915.9 L214.0 914.3 L212.5 912.4 L211.0 910.2 L209.5 908.1 L208.0 906.3 L206.5 904.8 L205.0 904.5 L203.5 905.7 L202.0 907.5 L200.5 909.5 L199.0 911.7 L197.5 913.7 L196.0 915.4 L194.5 916.7 L193.0 916.2 L191.5 914.6 L190.0 912.5 L188.5 910.2 L187.0 907.8 L185.5 905.6 L184.0 903.8 L182.5 902.5 L181.0 903.8 L179.5 905.6 L178.0 907.8 L176.5 910.2 L175.0 912.5 L173.5 914.6 L172.0 916.2 L170.5 916.7 L169.0 915.4 L167.5 913.7 L166.0 911.7 L164.5 909.6 L163.0 907.5 L161.5 905.8 L160.0 904.6 L158.5 904.9 L157.0 906.4 L155.5 908.2 L154.0 910.3 L152.5 912.4 L151.0 914.3 L149.5 915.9 L148.0 917.0 L146.5 915.7 L145.0 913.9 L143.5 911.6 L142.0 909.1 L140.5 906.7 L139.0 904.6 L137.5 902.9 Z" fill="#161616" opacity="0.6" filter="url(#bl12)"/>
<rect x="139.5" y="857.5" width="113" height="2.5" fill="#e6e6e6" opacity="0.75"/>
<path d="M137.5 923.9 L139.0 922.0 L140.5 922.2 L142.0 925.8 L143.5 923.5 L145.0 923.6 L146.5 925.4 L148.0 924.5 L149.5 926.2 L151.0 924.0 L152.5 926.1 L154.0 923.7 L155.5 924.2 L157.0 924.8 L158.5 923.4 L160.0 923.9 L161.5 923.9 L163.0 922.3 L164.5 925.4 L166.0 924.8 L167.5 924.1 L169.0 923.9 L170.5 926.1 L172.0 925.2 L173.5 926.3 L175.0 925.5 L176.5 925.8 L178.0 924.1 L179.5 924.0 L181.0 923.1 L182.5 921.1 L184.0 924.2 L185.5 922.8 L187.0 924.8 L188.5 925.8 L190.0 925.1 L191.5 923.7 L193.0 926.0 L194.5 925.5 L196.0 923.9 L197.5 923.3 L199.0 924.6 L200.5 922.7 L202.0 925.1 L203.5 923.2 L205.0 922.6 L206.5 922.5 L208.0 923.9 L209.5 925.2 L211.0 923.7 L212.5 924.2 L214.0 925.1 L215.5 924.3 L217.0 925.3 L218.5 925.1 L220.0 924.6 L221.5 925.2 L223.0 924.4 L224.5 922.6 L226.0 925.1 L227.5 922.5 L229.0 922.5 L230.5 923.0 L232.0 925.2 L233.5 925.7 L235.0 924.6 L236.5 924.4 L238.0 923.6 L239.5 926.3 L241.0 923.9 L242.5 925.0 L244.0 924.2 L245.5 923.8 L247.0 923.5 L248.5 922.5 L250.0 921.5 L251.5 922.2 L253.0 923.9 L254.5 924.0 L256.0 923.0 L254.5 936.5 L137.5 936.5 Z" fill="#f6f6f6" opacity="0.94" filter="url(#bl12)"/>
<clipPath id="bc12"><path d="M137.5 923.9 L139.0 922.0 L140.5 922.2 L142.0 925.8 L143.5 923.5 L145.0 923.6 L146.5 925.4 L148.0 924.5 L149.5 926.2 L151.0 924.0 L152.5 926.1 L154.0 923.7 L155.5 924.2 L157.0 924.8 L158.5 923.4 L160.0 923.9 L161.5 923.9 L163.0 922.3 L164.5 925.4 L166.0 924.8 L167.5 924.1 L169.0 923.9 L170.5 926.1 L172.0 925.2 L173.5 926.3 L175.0 925.5 L176.5 925.8 L178.0 924.1 L179.5 924.0 L181.0 923.1 L182.5 921.1 L184.0 924.2 L185.5 922.8 L187.0 924.8 L188.5 925.8 L190.0 925.1 L191.5 923.7 L193.0 926.0 L194.5 925.5 L196.0 923.9 L197.5 923.3 L199.0 924.6 L200.5 922.7 L202.0 925.1 L203.5 923.2 L205.0 922.6 L206.5 922.5 L208.0 923.9 L209.5 925.2 L211.0 923.7 L212.5 924.2 L214.0 925.1 L215.5 924.3 L217.0 925.3 L218.5 925.1 L220.0 924.6 L221.5 925.2 L223.0 924.4 L224.5 922.6 L226.0 925.1 L227.5 922.5 L229.0 922.5 L230.5 923.0 L232.0 925.2 L233.5 925.7 L235.0 924.6 L236.5 924.4 L238.0 923.6 L239.5 926.3 L241.0 923.9 L242.5 925.0 L244.0 924.2 L245.5 923.8 L247.0 923.5 L248.5 922.5 L250.0 921.5 L251.5 922.2 L253.0 923.9 L254.5 924.0 L256.0 923.0 L254.5 936.5 L137.5 936.5 Z"/></clipPath>
<rect x="139.5" y="857.5" width="113" height="77" filter="url(#dk12)" clip-path="url(#bc12)" opacity="0.2"/>
<g filter="url(#bl12)" fill="none" stroke-linecap="round"><path d="M137.5 884.5L139.0 881.5M155.5 879.0L157.0 881.0M161.5 881.2L163.0 879.5M184.0 883.3L185.5 880.9M202.0 879.7L203.5 881.8M206.5 882.8L208.0 880.9M224.5 879.0L226.0 880.8M229.0 883.0L230.5 880.9M230.5 880.9L232.0 879.7M248.5 880.4L250.0 882.5M251.5 885.4L253.0 882.4M253.0 882.4L254.5 880.7M178.0 910.6L179.5 908.4M182.5 905.8L184.0 906.5M184.0 906.5L185.5 908.6M200.5 912.8L202.0 910.8M202.0 910.8L203.5 908.8M206.5 907.7L208.0 909.6M229.0 908.3L230.5 909.5M230.5 909.5L232.0 911.1M247.0 911.7L248.5 909.1M248.5 909.1L250.0 907.7M157.0 913.1L158.5 911.3M205.0 911.1L206.5 911.6M227.5 912.0L229.0 912.2M181.0 914.4L182.5 912.9M205.0 915.0L206.5 914.7M227.5 916.1L229.0 915.5M250.0 918.3L251.5 917.7" stroke="#fff" stroke-width="1.75" stroke-opacity="0.5"/><path d="M139.0 881.5L140.5 880.0M140.5 880.0L142.0 878.1M175.0 876.3L176.5 877.7M187.0 878.7L188.5 877.2M199.0 877.0L200.5 878.3M208.0 880.9L209.5 879.3M211.0 877.4L212.5 876.8M220.0 876.0L221.5 876.4M232.0 879.7L233.5 877.8M142.0 912.3L143.5 914.5M151.0 917.0L152.5 915.6M154.0 913.4L155.5 910.9M163.0 910.7L164.5 912.9M187.0 910.8L188.5 913.2M208.0 909.6L209.5 911.0M209.5 911.0L211.0 912.9M220.0 917.6L221.5 915.8M137.5 909.6L139.0 911.0M155.5 914.6L157.0 913.1M160.0 911.4L161.5 912.4M161.5 912.4L163.0 914.1M179.5 912.0L181.0 910.2M184.0 910.4L185.5 912.3M200.5 915.6L202.0 914.2M202.0 914.2L203.5 912.5M224.5 915.4L226.0 913.8M229.0 912.2L230.5 913.0M247.0 914.7L248.5 912.9M248.5 912.9L250.0 911.4M251.5 910.5L253.0 911.6M253.0 911.6L254.5 913.1M248.5 916.6L250.0 915.1" stroke="#fff" stroke-width="1.5" stroke-opacity="0.5"/><path d="M142.0 878.1L143.5 876.7M152.5 876.8L154.0 877.6M154.0 877.6L155.5 879.0M163.0 879.5L164.5 877.9M164.5 877.9L166.0 876.6M173.5 875.2L175.0 876.3M176.5 877.7L178.0 879.0M185.5 880.9L187.0 878.7M188.5 877.2L190.0 876.0M197.5 875.6L199.0 877.0M209.5 879.3L211.0 877.4M221.5 876.4L223.0 877.5M223.0 877.5L224.5 879.0M233.5 877.8L235.0 876.9M242.5 875.3L244.0 876.5M244.0 876.5L245.5 877.0M245.5 877.0L247.0 878.5M139.0 907.7L140.5 909.9M140.5 909.9L142.0 912.3M152.5 915.6L154.0 913.4M164.5 912.9L166.0 914.5M173.5 917.7L175.0 915.3M175.0 915.3L176.5 913.1M176.5 913.1L178.0 910.6M185.5 908.6L187.0 910.8M188.5 913.2L190.0 915.7M197.5 916.5L199.0 914.3M199.0 914.3L200.5 912.8M211.0 912.9L212.5 915.6M221.5 915.8L223.0 914.0M223.0 914.0L224.5 911.7M232.0 911.1L233.5 912.9M233.5 912.9L235.0 915.1M242.5 918.0L244.0 916.1M244.0 916.1L245.5 913.8M245.5 913.8L247.0 911.7M178.0 914.1L179.5 912.0M206.5 911.6L208.0 912.6M230.5 913.0L232.0 914.6M137.5 913.6L139.0 914.6M155.5 917.8L157.0 916.4M160.0 914.8L161.5 915.7M161.5 915.7L163.0 917.3M178.0 917.8L179.5 915.9M179.5 915.9L181.0 914.4M182.5 912.9L184.0 914.1M184.0 914.1L185.5 915.6M200.5 919.3L202.0 917.4M202.0 917.4L203.5 915.5M206.5 914.7L208.0 916.6M224.5 918.6L226.0 917.0M229.0 915.5L230.5 916.7M230.5 916.7L232.0 918.0M247.0 918.2L248.5 916.6M251.5 914.3L253.0 915.1M253.0 915.1L254.5 916.4M179.5 919.4L181.0 917.8M206.5 918.8L208.0 920.0M248.5 920.2L250.0 918.3M251.5 917.7L253.0 918.3" stroke="#fff" stroke-width="1.5" stroke-opacity="0.375"/><path d="M143.5 876.7L145.0 875.8M148.0 875.2L149.5 875.1M167.5 875.7L169.0 875.5M170.5 875.3L172.0 875.0M190.0 876.0L191.5 875.9M194.5 874.8L196.0 875.6M235.0 876.9L236.5 876.2M236.5 876.2L238.0 875.4M166.0 914.5L167.5 916.7M170.5 919.5L172.0 919.2M191.5 917.4L193.0 919.2M212.5 915.6L214.0 917.4M215.5 918.8L217.0 920.3M217.0 920.3L218.5 918.7M218.5 918.7L220.0 917.6M235.0 915.1L236.5 917.1M139.0 911.0L140.5 913.5M140.5 913.5L142.0 915.5M163.0 914.1L164.5 916.2M175.0 918.9L176.5 916.6M208.0 912.6L209.5 914.8M244.0 919.3L245.5 917.1" stroke="#fff" stroke-width="1.25" stroke-opacity="0.5"/><path d="M145.0 875.8L146.5 875.4M146.5 875.4L148.0 875.2M149.5 875.1L151.0 875.9M166.0 876.6L167.5 875.7M172.0 875.0L173.5 875.2M191.5 875.9L193.0 874.9M193.0 874.9L194.5 874.8M196.0 875.6L197.5 875.6M212.5 876.8L214.0 875.6M214.0 875.6L215.5 875.0M215.5 875.0L217.0 874.7M217.0 874.7L218.5 875.0M218.5 875.0L220.0 876.0M238.0 875.4L239.5 875.2M239.5 875.2L241.0 875.0M143.5 914.5L145.0 916.8M145.0 916.8L146.5 918.4M146.5 918.4L148.0 919.8M148.0 919.8L149.5 918.9M149.5 918.9L151.0 917.0M167.5 916.7L169.0 918.2M169.0 918.2L170.5 919.5M172.0 919.2L173.5 917.7M190.0 915.7L191.5 917.4M193.0 919.2L194.5 919.4M194.5 919.4L196.0 918.5M196.0 918.5L197.5 916.5M214.0 917.4L215.5 918.8M236.5 917.1L238.0 918.9M238.0 918.9L239.5 919.7M239.5 919.7L241.0 919.4M241.0 919.4L242.5 918.0M143.5 918.1L145.0 920.1M149.5 922.0L151.0 920.3M151.0 920.3L152.5 918.5M152.5 918.5L154.0 916.7M154.0 916.7L155.5 914.6M166.0 918.3L167.5 920.0M172.0 922.3L173.5 920.5M176.5 916.6L178.0 914.1M185.5 912.3L187.0 914.0M187.0 914.0L188.5 916.7M190.0 918.4L191.5 920.9M197.5 920.1L199.0 918.2M199.0 918.2L200.5 915.6M211.0 916.2L212.5 918.7M212.5 918.7L214.0 920.7M223.0 916.8L224.5 915.4M232.0 914.6L233.5 916.5M235.0 918.2L236.5 919.9M241.0 922.0L242.5 920.7M242.5 920.7L244.0 919.3M245.5 917.1L247.0 914.7M151.0 923.3L152.5 922.0M154.0 919.6L155.5 917.8M176.5 920.1L178.0 917.8M188.5 919.7L190.0 922.1M190.0 922.1L191.5 923.5M197.5 923.2L199.0 921.1M208.0 916.6L209.5 917.7M220.0 923.4L221.5 922.2M232.0 918.0L233.5 919.8M235.0 921.7L236.5 923.0M241.0 925.1L242.5 924.3" stroke="#fff" stroke-width="1.25" stroke-opacity="0.375"/><path d="M151.0 875.9L152.5 876.8M157.0 876.5L158.5 878.1M158.5 878.1L160.0 878.6M160.0 878.6L161.5 876.6M179.5 876.5L181.0 878.4M181.0 878.4L182.5 881.3M182.5 881.3L184.0 878.2M202.0 875.2L203.5 876.7M203.5 876.7L205.0 879.0M205.0 879.0L206.5 878.0M226.0 875.9L227.5 877.6M227.5 877.6L229.0 878.2M229.0 878.2L230.5 876.8M248.5 875.9L250.0 877.5M250.0 877.5L251.5 880.3M251.5 880.3L253.0 878.0M137.5 917.3L139.0 918.2M155.5 921.2L157.0 920.3M160.0 918.3L161.5 919.3M161.5 919.3L163.0 921.3M178.0 920.9L179.5 919.4M182.5 916.8L184.0 917.4M184.0 917.4L185.5 919.0M200.5 922.9L202.0 920.6M202.0 920.6L203.5 919.2M224.5 922.3L226.0 920.8M229.0 919.0L230.5 919.8M230.5 919.8L232.0 921.2M247.0 921.4L248.5 920.2M253.0 918.3L254.5 920.2M155.5 925.2L157.0 923.7M160.0 922.3L161.5 923.3M161.5 923.3L163.0 924.1M178.0 924.7L179.5 923.0M179.5 923.0L181.0 921.1M184.0 921.5L185.5 923.1M202.0 924.2L203.5 922.9M206.5 922.1L208.0 923.2M224.5 925.1L226.0 923.8M229.0 922.5L230.5 923.9M247.0 925.3L248.5 923.7M248.5 923.7L250.0 922.4M253.0 922.0L254.5 923.2" stroke="#fff" stroke-width="1.5" stroke-opacity="0.25"/><path d="M157.0 881.0L158.5 882.8" stroke="#fff" stroke-width="2.0" stroke-opacity="0.375"/><path d="M158.5 882.8L160.0 884.2M203.5 881.8L205.0 883.7M227.5 882.7L229.0 883.0M205.0 907.5L206.5 907.7M227.5 908.6L229.0 908.3" stroke="#fff" stroke-width="2.0" stroke-opacity="0.5"/><path d="M160.0 884.2L161.5 881.2M178.0 879.0L179.5 880.7M182.5 886.1L184.0 883.3M200.5 878.3L202.0 879.7M247.0 878.5L248.5 880.4M155.5 910.9L157.0 909.1M224.5 911.7L226.0 910.3M203.5 912.5L205.0 911.1M157.0 916.4L158.5 915.3M158.5 915.3L160.0 914.8M203.5 915.5L205.0 915.0M226.0 917.0L227.5 916.1M250.0 915.1L251.5 914.3M157.0 920.3L158.5 918.7M158.5 918.7L160.0 918.3M181.0 917.8L182.5 916.8M203.5 919.2L205.0 918.3M205.0 918.3L206.5 918.8M226.0 920.8L227.5 919.2M227.5 919.2L229.0 919.0M181.0 921.1L182.5 920.3M250.0 922.4L251.5 921.2" stroke="#fff" stroke-width="1.75" stroke-opacity="0.375"/><path d="M169.0 875.5L170.5 875.3M241.0 875.0L242.5 875.3M137.5 879.3L139.0 876.8M152.5 872.6L154.0 873.3M154.0 873.3L155.5 874.4M155.5 874.4L157.0 876.5M163.0 875.4L164.5 873.8M175.0 872.1L176.5 873.3M176.5 873.3L178.0 874.5M178.0 874.5L179.5 876.5M184.0 878.2L185.5 876.2M185.5 876.2L187.0 874.6M200.5 873.6L202.0 875.2M208.0 876.3L209.5 874.4M209.5 874.4L211.0 873.2M221.5 872.4L223.0 873.2M223.0 873.2L224.5 874.3M230.5 876.8L232.0 875.2M244.0 872.0L245.5 872.8M245.5 872.8L247.0 874.2M253.0 878.0L254.5 875.8M142.0 915.5L143.5 918.1M164.5 916.2L166.0 918.3M173.5 920.5L175.0 918.9M188.5 916.7L190.0 918.4M196.0 921.6L197.5 920.1M209.5 914.8L211.0 916.2M218.5 922.0L220.0 920.5M220.0 920.5L221.5 918.8M221.5 918.8L223.0 916.8M233.5 916.5L235.0 918.2M139.0 914.6L140.5 916.9M140.5 916.9L142.0 918.7M142.0 918.7L143.5 921.2M143.5 921.2L145.0 923.3M149.5 924.7L151.0 923.3M152.5 922.0L154.0 919.6M163.0 917.3L164.5 919.2M164.5 919.2L166.0 921.4M166.0 921.4L167.5 922.9M172.0 925.2L173.5 924.2M173.5 924.2L175.0 921.7M175.0 921.7L176.5 920.1M185.5 915.6L187.0 918.0M187.0 918.0L188.5 919.7M196.0 924.9L197.5 923.2M199.0 921.1L200.5 919.3M209.5 917.7L211.0 920.0M211.0 920.0L212.5 922.0M212.5 922.0L214.0 923.8M218.5 925.4L220.0 923.4M221.5 922.2L223.0 920.2M223.0 920.2L224.5 918.6M233.5 919.8L235.0 921.7M242.5 924.3L244.0 922.5M244.0 922.5L245.5 920.1M245.5 920.1L247.0 918.2M139.0 918.2L140.5 920.0M140.5 920.0L142.0 922.2M142.0 922.2L143.5 924.7M143.5 924.7L145.0 926.4M149.5 928.4L151.0 926.5M152.5 924.8L154.0 923.2M154.0 923.2L155.5 921.2M163.0 921.3L164.5 922.9M164.5 922.9L166.0 924.6M166.0 924.6L167.5 926.1M172.0 928.4L173.5 926.8M173.5 926.8L175.0 925.5M175.0 925.5L176.5 923.4M176.5 923.4L178.0 920.9M185.5 919.0L187.0 920.8M187.0 920.8L188.5 923.3M188.5 923.3L190.0 925.4M190.0 925.4L191.5 927.2M196.0 927.8L197.5 926.4M199.0 924.6L200.5 922.9M208.0 920.0L209.5 921.4M209.5 921.4L211.0 923.4M211.0 923.4L212.5 924.8M212.5 924.8L214.0 926.6M218.5 928.3L220.0 926.7M221.5 925.3L223.0 923.7M223.0 923.7L224.5 922.3M232.0 921.2L233.5 923.2M235.0 924.6L236.5 926.3M241.0 928.6L242.5 926.8M242.5 926.8L244.0 925.5M244.0 925.5L245.5 923.8M245.5 923.8L247.0 921.4M139.0 921.9L140.5 923.8M140.5 923.8L142.0 925.4M152.5 928.0L154.0 926.5M154.0 926.5L155.5 925.2M163.0 924.1L164.5 926.2M164.5 926.2L166.0 927.9M175.0 928.4L176.5 926.9M197.5 929.4L199.0 927.8M232.0 925.1L233.5 926.6M233.5 926.6L235.0 928.0M245.5 927.2L247.0 925.3" stroke="#fff" stroke-width="1.25" stroke-opacity="0.25"/><path d="M179.5 880.7L181.0 882.9M137.5 906.0L139.0 907.7M160.0 907.4L161.5 908.7M161.5 908.7L163.0 910.7M179.5 908.4L181.0 906.9M251.5 906.6L253.0 907.9M253.0 907.9L254.5 909.7M158.5 911.3L160.0 911.4M181.0 910.2L182.5 909.1M226.0 913.8L227.5 912.0" stroke="#fff" stroke-width="1.75" stroke-opacity="0.625"/><path d="M181.0 882.9L182.5 886.1M250.0 882.5L251.5 885.4M157.0 909.1L158.5 907.9M158.5 907.9L160.0 907.4M181.0 906.9L182.5 905.8M203.5 908.8L205.0 907.5" stroke="#fff" stroke-width="2.0" stroke-opacity="0.75"/><path d="M205.0 883.7L206.5 882.8M226.0 880.8L227.5 882.7M226.0 910.3L227.5 908.6" stroke="#fff" stroke-width="2.0" stroke-opacity="0.625"/><path d="M139.0 876.8L140.5 875.3M140.5 875.3L142.0 873.5M161.5 876.6L163.0 875.4M187.0 874.6L188.5 873.3M199.0 872.6L200.5 873.6M206.5 878.0L208.0 876.3M224.5 874.3L226.0 875.9M232.0 875.2L233.5 873.6M247.0 874.2L248.5 875.9M137.5 874.1L139.0 872.7M139.0 872.7L140.5 871.7M140.5 871.7L142.0 869.9M152.5 868.0L154.0 870.2M154.0 870.2L155.5 870.4M155.5 870.4L157.0 871.4M161.5 871.9L163.0 871.2M163.0 871.2L164.5 870.5M175.0 868.0L176.5 869.3M176.5 869.3L178.0 871.8M178.0 871.8L179.5 872.0M184.0 873.7L185.5 872.7M185.5 872.7L187.0 871.5M187.0 871.5L188.5 869.7M199.0 868.4L200.5 870.4M200.5 870.4L202.0 871.3M206.5 872.2L208.0 872.4M208.0 872.4L209.5 870.4M209.5 870.4L211.0 870.3M221.5 868.7L223.0 869.2M223.0 869.2L224.5 870.9M224.5 870.9L226.0 872.0M230.5 872.5L232.0 870.6M232.0 870.6L233.5 869.3M244.0 868.5L245.5 870.1M245.5 870.1L247.0 870.9M247.0 870.9L248.5 871.8M253.0 873.1L254.5 871.7M151.0 926.5L152.5 924.8M197.5 926.4L199.0 924.6M220.0 926.7L221.5 925.3M233.5 923.2L235.0 924.6M142.0 925.4L143.5 928.0M143.5 928.0L145.0 929.8M149.5 931.2L151.0 930.2M151.0 930.2L152.5 928.0M166.0 927.9L167.5 929.7M172.0 931.4L173.5 930.2M173.5 930.2L175.0 928.4M176.5 926.9L178.0 924.7M185.5 923.1L187.0 924.4M187.0 924.4L188.5 926.2M188.5 926.2L190.0 928.1M190.0 928.1L191.5 929.8M196.0 930.7L197.5 929.4M199.0 927.8L200.5 926.3M208.0 923.2L209.5 925.2M209.5 925.2L211.0 926.8M211.0 926.8L212.5 928.1M212.5 928.1L214.0 929.5M218.5 931.1L220.0 929.8M220.0 929.8L221.5 928.5M221.5 928.5L223.0 926.7M223.0 926.7L224.5 925.1M235.0 928.0L236.5 929.6M241.0 931.6L242.5 930.4M242.5 930.4L244.0 928.8M244.0 928.8L245.5 927.2" stroke="#fff" stroke-width="1.25" stroke-opacity="0.125"/><path d="M142.0 873.5L143.5 872.4M145.0 871.4L146.5 871.4M148.0 871.0L149.5 871.2M149.5 871.2L151.0 871.5M164.5 873.8L166.0 872.7M167.5 872.1L169.0 871.1M170.5 871.1L172.0 871.0M172.0 871.0L173.5 871.5M188.5 873.3L190.0 872.2M190.0 872.2L191.5 871.6M191.5 871.6L193.0 871.1M193.0 871.1L194.5 871.2M196.0 871.4L197.5 871.6M212.5 872.3L214.0 871.7M215.5 870.9L217.0 870.7M220.0 871.6L221.5 872.4M235.0 872.9L236.5 871.7M238.0 871.0L239.5 871.3M241.0 870.9L242.5 871.6M142.0 869.9L143.5 868.3M143.5 868.3L145.0 867.3M145.0 867.3L146.5 867.0M146.5 867.0L148.0 866.6M148.0 866.6L149.5 866.6M149.5 866.6L151.0 867.4M151.0 867.4L152.5 868.0M164.5 870.5L166.0 868.6M166.0 868.6L167.5 867.5M167.5 867.5L169.0 867.1M169.0 867.1L170.5 866.4M170.5 866.4L172.0 865.8M172.0 865.8L173.5 867.1M173.5 867.1L175.0 868.0M188.5 869.7L190.0 867.9M190.0 867.9L191.5 866.9M191.5 866.9L193.0 865.7M193.0 865.7L194.5 865.5M194.5 865.5L196.0 866.4M196.0 866.4L197.5 867.8M197.5 867.8L199.0 868.4M211.0 870.3L212.5 868.2M212.5 868.2L214.0 866.8M214.0 866.8L215.5 866.7M215.5 866.7L217.0 866.5M217.0 866.5L218.5 866.2M218.5 866.2L220.0 866.8M220.0 866.8L221.5 868.7M233.5 869.3L235.0 869.2M235.0 869.2L236.5 867.7M236.5 867.7L238.0 866.2M238.0 866.2L239.5 866.1M239.5 866.1L241.0 866.6M241.0 866.6L242.5 867.6M242.5 867.6L244.0 868.5M217.0 928.9L218.5 928.3M145.0 929.8L146.5 930.9M146.5 930.9L148.0 931.8M148.0 931.8L149.5 931.2M167.5 929.7L169.0 931.0M169.0 931.0L170.5 931.7M170.5 931.7L172.0 931.4M191.5 929.8L193.0 931.5M193.0 931.5L194.5 931.6M194.5 931.6L196.0 930.7M214.0 929.5L215.5 931.4M215.5 931.4L217.0 932.3M217.0 932.3L218.5 931.1M236.5 929.6L238.0 930.8M238.0 930.8L239.5 931.6M239.5 931.6L241.0 931.6" stroke="#fff" stroke-width="1.0" stroke-opacity="0.125"/><path d="M143.5 872.4L145.0 871.4M146.5 871.4L148.0 871.0M151.0 871.5L152.5 872.6M166.0 872.7L167.5 872.1M169.0 871.1L170.5 871.1M173.5 871.5L175.0 872.1M194.5 871.2L196.0 871.4M197.5 871.6L199.0 872.6M211.0 873.2L212.5 872.3M214.0 871.7L215.5 870.9M217.0 870.7L218.5 870.8M218.5 870.8L220.0 871.6M233.5 873.6L235.0 872.9M236.5 871.7L238.0 871.0M239.5 871.3L241.0 870.9M242.5 871.6L244.0 872.0M148.0 923.1L149.5 922.0M167.5 920.0L169.0 921.4M191.5 920.9L193.0 922.0M193.0 922.0L194.5 922.6M214.0 920.7L215.5 922.1M215.5 922.1L217.0 923.2M236.5 919.9L238.0 921.3M238.0 921.3L239.5 922.7M239.5 922.7L241.0 922.0M145.0 923.3L146.5 924.9M148.0 926.2L149.5 924.7M191.5 923.5L193.0 925.6M194.5 925.8L196.0 924.9M214.0 923.8L215.5 924.9M145.0 926.4L146.5 928.0M146.5 928.0L148.0 928.7M148.0 928.7L149.5 928.4M167.5 926.1L169.0 927.7M169.0 927.7L170.5 928.6M170.5 928.6L172.0 928.4M191.5 927.2L193.0 928.6M193.0 928.6L194.5 928.7M194.5 928.7L196.0 927.8M214.0 926.6L215.5 927.7M215.5 927.7L217.0 928.9M236.5 926.3L238.0 927.8M238.0 927.8L239.5 928.8M239.5 928.8L241.0 928.6" stroke="#fff" stroke-width="1.0" stroke-opacity="0.25"/><path d="M157.0 871.4L158.5 872.5M158.5 872.5L160.0 872.4M160.0 872.4L161.5 871.9M179.5 872.0L181.0 873.3M181.0 873.3L182.5 873.4M182.5 873.4L184.0 873.7M202.0 871.3L203.5 871.6M203.5 871.6L205.0 873.3M205.0 873.3L206.5 872.2M226.0 872.0L227.5 872.6M227.5 872.6L229.0 872.8M229.0 872.8L230.5 872.5M248.5 871.8L250.0 872.6M250.0 872.6L251.5 873.7M251.5 873.7L253.0 873.1M137.5 920.8L139.0 921.9M182.5 920.3L184.0 921.5M200.5 926.3L202.0 924.2M230.5 923.9L232.0 925.1M251.5 921.2L253.0 922.0" stroke="#fff" stroke-width="1.5" stroke-opacity="0.125"/><path d="M250.0 907.7L251.5 906.6" stroke="#fff" stroke-width="2.0" stroke-opacity="0.875"/><path d="M145.0 920.1L146.5 921.5M146.5 921.5L148.0 923.1M169.0 921.4L170.5 923.0M170.5 923.0L172.0 922.3M194.5 922.6L196.0 921.6M217.0 923.2L218.5 922.0M146.5 924.9L148.0 926.2M167.5 922.9L169.0 924.2M169.0 924.2L170.5 925.8M170.5 925.8L172.0 925.2M193.0 925.6L194.5 925.8M215.5 924.9L217.0 926.1M217.0 926.1L218.5 925.4M236.5 923.0L238.0 924.7M238.0 924.7L239.5 925.7M239.5 925.7L241.0 925.1" stroke="#fff" stroke-width="1.0" stroke-opacity="0.375"/><path d="M182.5 909.1L184.0 910.4" stroke="#fff" stroke-width="1.5" stroke-opacity="0.625"/><path d="M250.0 911.4L251.5 910.5" stroke="#fff" stroke-width="1.75" stroke-opacity="0.75"/><path d="M157.0 923.7L158.5 922.4M158.5 922.4L160.0 922.3M203.5 922.9L205.0 922.3M205.0 922.3L206.5 922.1M226.0 923.8L227.5 923.2M227.5 923.2L229.0 922.5" stroke="#fff" stroke-width="1.75" stroke-opacity="0.25"/></g>
</g>
<rect x="139.5" y="857.5" width="113" height="77" fill="none" stroke="#707070" stroke-width="1"/>
<text font-size="13.11" fill="#1d1d1b" color="#1d1d1b" stroke-width="0.25" transform="translate(120.62 509.50) scale(1.0472 1)">Protocol 2</text>
<line x1="120.95" y1="510.80" x2="182.25" y2="510.80" stroke="#6a6a6a" stroke-width="1.4"/>
<circle cx="102.50" cy="525.00" r="2.5" fill="none" stroke="#4e6388" stroke-width="1.2"/>
<circle cx="166.80" cy="525.00" r="2.5" fill="none" stroke="#a53547" stroke-width="1.2"/>
<text font-size="11.39" fill="#1d1d1b" color="#1d1d1b" stroke-width="0.25" transform="translate(108.66 528.75) scale(0.8997 1)">Baseline</text>
<text font-size="11.39" fill="#1d1d1b" color="#1d1d1b" stroke-width="0.25" transform="translate(173.24 528.75) scale(0.8929 1)">2days</text>
<text font-size="14.39" fill="#1d1d1b" color="#1d1d1b" stroke-width="0.25" transform="translate(37.10 687.62) rotate(-90) scale(0.9446 1)">Fractional shortening %</text>
<text font-size="14.39" fill="#1d1d1b" color="#1d1d1b" stroke-width="0.25" transform="translate(53.65 632.53) rotate(-90) scale(0.8132 1)">(FS%)</text>
<line x1="84.30" y1="572.30" x2="84.30" y2="637.10" stroke="#1d1d1b" stroke-width="1.3"/>
<line x1="84.30" y1="643.70" x2="84.30" y2="660.20" stroke="#1d1d1b" stroke-width="1.3"/>
<line x1="83.70" y1="659.60" x2="220.80" y2="659.60" stroke="#1d1d1b" stroke-width="1.3"/>
<line x1="79.30" y1="584.40" x2="84.30" y2="584.40" stroke="#1d1d1b" stroke-width="1.2"/>
<text x="75.70" y="587.90" font-size="11.5" fill="#1d1d1b" color="#1d1d1b" stroke-width="0.25" text-anchor="end">50</text>
<line x1="79.30" y1="607.80" x2="84.30" y2="607.80" stroke="#1d1d1b" stroke-width="1.2"/>
<text x="75.70" y="611.30" font-size="11.5" fill="#1d1d1b" color="#1d1d1b" stroke-width="0.25" text-anchor="end">40</text>
<line x1="79.30" y1="631.20" x2="84.30" y2="631.20" stroke="#1d1d1b" stroke-width="1.2"/>
<text x="75.70" y="634.70" font-size="11.5" fill="#1d1d1b" color="#1d1d1b" stroke-width="0.25" text-anchor="end">30</text>
<line x1="79.30" y1="646.50" x2="84.30" y2="646.50" stroke="#1d1d1b" stroke-width="1.2"/>
<text x="75.70" y="650.00" font-size="11.5" fill="#1d1d1b" color="#1d1d1b" stroke-width="0.25" text-anchor="end">20</text>
<line x1="79.30" y1="659.60" x2="84.30" y2="659.60" stroke="#1d1d1b" stroke-width="1.2"/>
<text x="75.70" y="663.10" font-size="11.5" fill="#1d1d1b" color="#1d1d1b" stroke-width="0.25" text-anchor="end">0</text>
<line x1="80.00" y1="637.10" x2="88.80" y2="637.10" stroke="#1d1d1b" stroke-width="1.2"/>
<line x1="80.00" y1="643.70" x2="88.80" y2="643.70" stroke="#1d1d1b" stroke-width="1.2"/>
<line x1="116.30" y1="659.60" x2="116.30" y2="664.10" stroke="#1d1d1b" stroke-width="1.2"/>
<line x1="188.80" y1="659.60" x2="188.80" y2="664.10" stroke="#1d1d1b" stroke-width="1.2"/>
<text font-size="11.59" fill="#1d1d1b" color="#1d1d1b" stroke-width="0.25" transform="translate(97.42 678.80) scale(0.9929 1)">Control</text>
<text font-size="11.61" fill="#1d1d1b" color="#1d1d1b" stroke-width="0.25" transform="translate(180.16 678.80) scale(1.0003 1)">Cfz</text>
<circle cx="96.30" cy="590.60" r="2.2" fill="none" stroke="#4e6388" stroke-width="1.1"/>
<circle cx="99.60" cy="590.60" r="2.2" fill="none" stroke="#4e6388" stroke-width="1.1"/>
<circle cx="102.50" cy="597.30" r="2.2" fill="none" stroke="#4e6388" stroke-width="1.1"/>
<circle cx="105.40" cy="594.90" r="2.2" fill="none" stroke="#4e6388" stroke-width="1.1"/>
<circle cx="108.30" cy="591.00" r="2.2" fill="none" stroke="#4e6388" stroke-width="1.1"/>
<line x1="93.80" y1="593.00" x2="111.60" y2="593.00" stroke="#111" stroke-width="1.3"/>
<circle cx="129.40" cy="586.70" r="2.2" fill="none" stroke="#a53547" stroke-width="1.1"/>
<circle cx="126.00" cy="593.00" r="2.2" fill="none" stroke="#a53547" stroke-width="1.1"/>
<circle cx="132.80" cy="595.90" r="2.2" fill="none" stroke="#a53547" stroke-width="1.1"/>
<circle cx="136.60" cy="593.50" r="2.2" fill="none" stroke="#a53547" stroke-width="1.1"/>
<circle cx="126.00" cy="602.60" r="2.2" fill="none" stroke="#a53547" stroke-width="1.1"/>
<line x1="120.80" y1="594.40" x2="138.00" y2="594.40" stroke="#111" stroke-width="1.3"/>
<circle cx="169.50" cy="587.90" r="2.2" fill="none" stroke="#4e6388" stroke-width="1.1"/>
<circle cx="175.30" cy="589.50" r="2.2" fill="none" stroke="#4e6388" stroke-width="1.1"/>
<circle cx="181.20" cy="587.20" r="2.2" fill="none" stroke="#4e6388" stroke-width="1.1"/>
<circle cx="169.00" cy="594.80" r="2.2" fill="none" stroke="#4e6388" stroke-width="1.1"/>
<circle cx="175.30" cy="596.40" r="2.2" fill="none" stroke="#4e6388" stroke-width="1.1"/>
<circle cx="181.20" cy="594.80" r="2.2" fill="none" stroke="#4e6388" stroke-width="1.1"/>
<line x1="165.80" y1="592.00" x2="184.50" y2="592.00" stroke="#111" stroke-width="1.3"/>
<circle cx="197.00" cy="607.50" r="2.2" fill="none" stroke="#a53547" stroke-width="1.1"/>
<circle cx="199.50" cy="609.00" r="2.2" fill="none" stroke="#a53547" stroke-width="1.1"/>
<circle cx="201.80" cy="606.60" r="2.2" fill="none" stroke="#a53547" stroke-width="1.1"/>
<circle cx="204.20" cy="609.30" r="2.2" fill="none" stroke="#a53547" stroke-width="1.1"/>
<circle cx="206.20" cy="607.00" r="2.2" fill="none" stroke="#a53547" stroke-width="1.1"/>
<circle cx="208.00" cy="608.50" r="2.2" fill="none" stroke="#a53547" stroke-width="1.1"/>
<circle cx="202.50" cy="610.00" r="2.2" fill="none" stroke="#a53547" stroke-width="1.1"/>
<line x1="193.30" y1="608.00" x2="211.60" y2="608.00" stroke="#111" stroke-width="1.3"/>
<line x1="129.50" y1="558.80" x2="203.00" y2="558.80" stroke="#1d1d1b" stroke-width="1.1"/>
<line x1="129.50" y1="557.20" x2="129.50" y2="560.40" stroke="#1d1d1b" stroke-width="1.1"/>
<line x1="203.00" y1="557.20" x2="203.00" y2="560.40" stroke="#1d1d1b" stroke-width="1.1"/>
<path d="M159.45 553.80L163.45 553.80M160.45 552.07L162.45 555.53M162.45 552.07L160.45 555.53" stroke="#444" stroke-width="1.1" fill="none"/>
<path d="M164.25 553.80L168.25 553.80M165.25 552.07L167.25 555.53M167.25 552.07L165.25 555.53" stroke="#444" stroke-width="1.1" fill="none"/>
<path d="M169.05 553.80L173.05 553.80M170.05 552.07L172.05 555.53M172.05 552.07L170.05 555.53" stroke="#444" stroke-width="1.1" fill="none"/>
<line x1="175.50" y1="573.30" x2="203.00" y2="573.30" stroke="#1d1d1b" stroke-width="1.1"/>
<line x1="175.50" y1="571.70" x2="175.50" y2="574.90" stroke="#1d1d1b" stroke-width="1.1"/>
<line x1="203.00" y1="571.70" x2="203.00" y2="574.90" stroke="#1d1d1b" stroke-width="1.1"/>
<path d="M182.45 568.30L186.45 568.30M183.45 566.57L185.45 570.03M185.45 566.57L183.45 570.03" stroke="#444" stroke-width="1.1" fill="none"/>
<path d="M187.25 568.30L191.25 568.30M188.25 566.57L190.25 570.03M190.25 566.57L188.25 570.03" stroke="#444" stroke-width="1.1" fill="none"/>
<path d="M192.05 568.30L196.05 568.30M193.05 566.57L195.05 570.03M195.05 566.57L193.05 570.03" stroke="#444" stroke-width="1.1" fill="none"/>
<text font-size="12.97" fill="#1d1d1b" color="#1d1d1b" stroke-width="0.25" transform="translate(376.08 509.40) scale(1.0533 1)">Protocol 3</text>
<line x1="376.40" y1="510.70" x2="437.50" y2="510.70" stroke="#6a6a6a" stroke-width="1.4"/>
<circle cx="358.30" cy="525.00" r="2.5" fill="none" stroke="#4e6388" stroke-width="1.2"/>
<circle cx="422.70" cy="525.00" r="2.5" fill="none" stroke="#a53547" stroke-width="1.2"/>
<text font-size="11.39" fill="#1d1d1b" color="#1d1d1b" stroke-width="0.25" transform="translate(364.76 528.75) scale(0.9045 1)">Baseline</text>
<text font-size="11.39" fill="#1d1d1b" color="#1d1d1b" stroke-width="0.25" transform="translate(428.87 528.75) scale(0.9152 1)">6days</text>
<text font-size="14.54" fill="#1d1d1b" color="#1d1d1b" stroke-width="0.25" transform="translate(292.60 682.42) rotate(-90) scale(0.9425 1)">Fractional shortening %</text>
<text font-size="14.54" fill="#1d1d1b" color="#1d1d1b" stroke-width="0.25" transform="translate(309.20 628.54) rotate(-90) scale(0.8228 1)">(FS%)</text>
<line x1="340.10" y1="558.50" x2="340.10" y2="634.30" stroke="#1d1d1b" stroke-width="1.3"/>
<line x1="340.10" y1="642.00" x2="340.10" y2="660.10" stroke="#1d1d1b" stroke-width="1.3"/>
<line x1="339.50" y1="659.50" x2="478.80" y2="659.50" stroke="#1d1d1b" stroke-width="1.3"/>
<line x1="335.10" y1="563.00" x2="340.10" y2="563.00" stroke="#1d1d1b" stroke-width="1.2"/>
<text x="331.50" y="567.10" font-size="11.5" fill="#1d1d1b" color="#1d1d1b" stroke-width="0.25" text-anchor="end">50</text>
<line x1="335.10" y1="586.80" x2="340.10" y2="586.80" stroke="#1d1d1b" stroke-width="1.2"/>
<text x="331.50" y="590.90" font-size="11.5" fill="#1d1d1b" color="#1d1d1b" stroke-width="0.25" text-anchor="end">40</text>
<line x1="335.10" y1="610.50" x2="340.10" y2="610.50" stroke="#1d1d1b" stroke-width="1.2"/>
<text x="331.50" y="614.60" font-size="11.5" fill="#1d1d1b" color="#1d1d1b" stroke-width="0.25" text-anchor="end">30</text>
<line x1="335.10" y1="634.20" x2="344.60" y2="634.20" stroke="#1d1d1b" stroke-width="1.2"/>
<text x="331.50" y="636.60" font-size="11.5" fill="#1d1d1b" color="#1d1d1b" stroke-width="0.25" text-anchor="end">20</text>
<line x1="335.10" y1="641.80" x2="344.60" y2="641.80" stroke="#1d1d1b" stroke-width="1.2"/>
<text x="331.50" y="646.90" font-size="11.5" fill="#1d1d1b" color="#1d1d1b" stroke-width="0.25" text-anchor="end">20</text>
<line x1="335.10" y1="659.50" x2="340.10" y2="659.50" stroke="#1d1d1b" stroke-width="1.2"/>
<text x="331.50" y="663.60" font-size="11.5" fill="#1d1d1b" color="#1d1d1b" stroke-width="0.25" text-anchor="end">0</text>
<line x1="372.50" y1="659.50" x2="372.50" y2="664.00" stroke="#1d1d1b" stroke-width="1.2"/>
<line x1="446.30" y1="659.50" x2="446.30" y2="664.00" stroke="#1d1d1b" stroke-width="1.2"/>
<text font-size="11.52" fill="#1d1d1b" color="#1d1d1b" stroke-width="0.25" transform="translate(353.16 678.75) scale(1.0128 1)">Control</text>
<text font-size="11.54" fill="#1d1d1b" color="#1d1d1b" stroke-width="0.25" transform="translate(438.18 678.75) scale(0.9754 1)">Cfz</text>
<circle cx="349.20" cy="573.70" r="2.2" fill="none" stroke="#4e6388" stroke-width="1.1"/>
<circle cx="352.10" cy="576.00" r="2.2" fill="none" stroke="#4e6388" stroke-width="1.1"/>
<circle cx="355.60" cy="577.10" r="2.2" fill="none" stroke="#4e6388" stroke-width="1.1"/>
<circle cx="358.50" cy="573.70" r="2.2" fill="none" stroke="#4e6388" stroke-width="1.1"/>
<circle cx="358.50" cy="581.10" r="2.2" fill="none" stroke="#4e6388" stroke-width="1.1"/>
<circle cx="361.30" cy="580.00" r="2.2" fill="none" stroke="#4e6388" stroke-width="1.1"/>
<circle cx="364.20" cy="576.50" r="2.2" fill="none" stroke="#4e6388" stroke-width="1.1"/>
<circle cx="367.50" cy="572.50" r="2.2" fill="none" stroke="#4e6388" stroke-width="1.1"/>
<circle cx="359.00" cy="578.30" r="2.2" fill="none" stroke="#4e6388" stroke-width="1.1"/>
<line x1="357.30" y1="576.90" x2="361.90" y2="576.90" stroke="#111" stroke-width="1.3"/>
<circle cx="379.20" cy="576.50" r="2.2" fill="none" stroke="#a53547" stroke-width="1.1"/>
<circle cx="382.70" cy="579.40" r="2.2" fill="none" stroke="#a53547" stroke-width="1.1"/>
<circle cx="384.40" cy="585.20" r="2.2" fill="none" stroke="#a53547" stroke-width="1.1"/>
<circle cx="387.30" cy="582.30" r="2.2" fill="none" stroke="#a53547" stroke-width="1.1"/>
<circle cx="389.60" cy="578.30" r="2.2" fill="none" stroke="#a53547" stroke-width="1.1"/>
<circle cx="393.10" cy="576.50" r="2.2" fill="none" stroke="#a53547" stroke-width="1.1"/>
<circle cx="381.00" cy="578.30" r="2.2" fill="none" stroke="#a53547" stroke-width="1.1"/>
<line x1="376.90" y1="578.30" x2="394.80" y2="578.30" stroke="#111" stroke-width="1.3"/>
<circle cx="426.50" cy="571.50" r="2.2" fill="none" stroke="#4e6388" stroke-width="1.1"/>
<circle cx="429.40" cy="573.80" r="2.2" fill="none" stroke="#4e6388" stroke-width="1.1"/>
<circle cx="431.70" cy="575.60" r="2.2" fill="none" stroke="#4e6388" stroke-width="1.1"/>
<circle cx="432.90" cy="579.00" r="2.2" fill="none" stroke="#4e6388" stroke-width="1.1"/>
<circle cx="435.20" cy="574.40" r="2.2" fill="none" stroke="#4e6388" stroke-width="1.1"/>
<circle cx="438.10" cy="572.70" r="2.2" fill="none" stroke="#4e6388" stroke-width="1.1"/>
<line x1="423.70" y1="574.80" x2="441.30" y2="574.80" stroke="#111" stroke-width="1.3"/>
<circle cx="460.00" cy="579.80" r="2.2" fill="none" stroke="#a53547" stroke-width="1.1"/>
<circle cx="454.20" cy="587.10" r="2.2" fill="none" stroke="#a53547" stroke-width="1.1"/>
<circle cx="457.10" cy="584.80" r="2.2" fill="none" stroke="#a53547" stroke-width="1.1"/>
<circle cx="462.30" cy="584.20" r="2.2" fill="none" stroke="#a53547" stroke-width="1.1"/>
<circle cx="465.70" cy="587.10" r="2.2" fill="none" stroke="#a53547" stroke-width="1.1"/>
<circle cx="458.80" cy="590.00" r="2.2" fill="none" stroke="#a53547" stroke-width="1.1"/>
<circle cx="462.30" cy="588.80" r="2.2" fill="none" stroke="#a53547" stroke-width="1.1"/>
<circle cx="456.00" cy="588.30" r="2.2" fill="none" stroke="#a53547" stroke-width="1.1"/>
<line x1="451.30" y1="587.10" x2="469.20" y2="587.10" stroke="#111" stroke-width="1.3"/>
<line x1="386.30" y1="543.20" x2="460.60" y2="543.20" stroke="#1d1d1b" stroke-width="1.1"/>
<line x1="386.30" y1="541.60" x2="386.30" y2="544.80" stroke="#1d1d1b" stroke-width="1.1"/>
<line x1="460.60" y1="541.60" x2="460.60" y2="544.80" stroke="#1d1d1b" stroke-width="1.1"/>
<path d="M414.25 538.30L418.25 538.30M415.25 536.57L417.25 540.03M417.25 536.57L415.25 540.03" stroke="#444" stroke-width="1.1" fill="none"/>
<path d="M419.05 538.30L423.05 538.30M420.05 536.57L422.05 540.03M422.05 536.57L420.05 540.03" stroke="#444" stroke-width="1.1" fill="none"/>
<path d="M423.85 538.30L427.85 538.30M424.85 536.57L426.85 540.03M426.85 536.57L424.85 540.03" stroke="#444" stroke-width="1.1" fill="none"/>
<path d="M428.65 538.30L432.65 538.30M429.65 536.57L431.65 540.03M431.65 536.57L429.65 540.03" stroke="#444" stroke-width="1.1" fill="none"/>
<line x1="432.00" y1="561.30" x2="460.60" y2="561.30" stroke="#1d1d1b" stroke-width="1.1"/>
<line x1="432.00" y1="559.70" x2="432.00" y2="562.90" stroke="#1d1d1b" stroke-width="1.1"/>
<line x1="460.60" y1="559.70" x2="460.60" y2="562.90" stroke="#1d1d1b" stroke-width="1.1"/>
<path d="M437.10 555.60L441.10 555.60M438.10 553.87L440.10 557.33M440.10 553.87L438.10 557.33" stroke="#444" stroke-width="1.1" fill="none"/>
<path d="M441.90 555.60L445.90 555.60M442.90 553.87L444.90 557.33M444.90 553.87L442.90 557.33" stroke="#444" stroke-width="1.1" fill="none"/>
<path d="M446.70 555.60L450.70 555.60M447.70 553.87L449.70 557.33M449.70 553.87L447.70 557.33" stroke="#444" stroke-width="1.1" fill="none"/>
<path d="M451.50 555.60L455.50 555.60M452.50 553.87L454.50 557.33M454.50 553.87L452.50 557.33" stroke="#444" stroke-width="1.1" fill="none"/>
<text font-size="13.39" fill="#1d1d1b" color="#1d1d1b" stroke-width="0.25" transform="translate(371.70 738.30) scale(1.0018 1)">Protocol 5A</text>
<line x1="372.00" y1="739.60" x2="441.50" y2="739.60" stroke="#6a6a6a" stroke-width="1.4"/>
<circle cx="358.00" cy="755.80" r="2.5" fill="none" stroke="#4e6388" stroke-width="1.2"/>
<circle cx="422.10" cy="755.80" r="2.5" fill="none" stroke="#a53547" stroke-width="1.2"/>
<text font-size="11.04" fill="#1d1d1b" color="#1d1d1b" stroke-width="0.25" transform="translate(364.76 760.00) scale(0.9327 1)">Baseline</text>
<text font-size="11.04" fill="#1d1d1b" color="#1d1d1b" stroke-width="0.25" transform="translate(428.88 760.00) scale(0.9263 1)">6days</text>
<text font-size="14.54" fill="#1d1d1b" color="#1d1d1b" stroke-width="0.25" transform="translate(292.60 900.52) rotate(-90) scale(0.9358 1)">Fractional shortening %</text>
<text font-size="14.54" fill="#1d1d1b" color="#1d1d1b" stroke-width="0.25" transform="translate(309.20 846.66) rotate(-90) scale(0.8482 1)">(FS%)</text>
<line x1="339.60" y1="782.70" x2="339.60" y2="851.80" stroke="#1d1d1b" stroke-width="1.3"/>
<line x1="339.60" y1="858.80" x2="339.60" y2="876.40" stroke="#1d1d1b" stroke-width="1.3"/>
<line x1="339.00" y1="875.80" x2="476.50" y2="875.80" stroke="#1d1d1b" stroke-width="1.3"/>
<line x1="334.60" y1="795.20" x2="339.60" y2="795.20" stroke="#1d1d1b" stroke-width="1.2"/>
<text x="331.00" y="799.00" font-size="11.5" fill="#1d1d1b" color="#1d1d1b" stroke-width="0.25" text-anchor="end">50</text>
<line x1="334.60" y1="820.20" x2="339.60" y2="820.20" stroke="#1d1d1b" stroke-width="1.2"/>
<text x="331.00" y="824.00" font-size="11.5" fill="#1d1d1b" color="#1d1d1b" stroke-width="0.25" text-anchor="end">40</text>
<line x1="334.60" y1="845.20" x2="339.60" y2="845.20" stroke="#1d1d1b" stroke-width="1.2"/>
<text x="331.00" y="849.30" font-size="11.5" fill="#1d1d1b" color="#1d1d1b" stroke-width="0.25" text-anchor="end">30</text>
<line x1="334.60" y1="861.90" x2="339.60" y2="861.90" stroke="#1d1d1b" stroke-width="1.2"/>
<text x="331.00" y="865.80" font-size="11.5" fill="#1d1d1b" color="#1d1d1b" stroke-width="0.25" text-anchor="end">20</text>
<line x1="334.60" y1="875.80" x2="339.60" y2="875.80" stroke="#1d1d1b" stroke-width="1.2"/>
<text x="331.00" y="879.90" font-size="11.5" fill="#1d1d1b" color="#1d1d1b" stroke-width="0.25" text-anchor="end">0</text>
<line x1="335.40" y1="851.80" x2="344.60" y2="851.80" stroke="#1d1d1b" stroke-width="1.2"/>
<line x1="335.40" y1="858.80" x2="344.60" y2="858.80" stroke="#1d1d1b" stroke-width="1.2"/>
<line x1="371.90" y1="875.80" x2="371.90" y2="880.30" stroke="#1d1d1b" stroke-width="1.2"/>
<line x1="444.60" y1="875.80" x2="444.60" y2="880.30" stroke="#1d1d1b" stroke-width="1.2"/>
<text font-size="11.59" fill="#1d1d1b" color="#1d1d1b" stroke-width="0.25" transform="translate(352.70 895.20) scale(1.0110 1)">Control</text>
<text font-size="11.33" fill="#1d1d1b" color="#1d1d1b" stroke-width="0.25" transform="translate(436.46 895.00) scale(0.9459 1)">Cfz</text>
<circle cx="357.90" cy="799.80" r="2.2" fill="none" stroke="#4e6388" stroke-width="1.1"/>
<circle cx="351.50" cy="805.00" r="2.2" fill="none" stroke="#4e6388" stroke-width="1.1"/>
<circle cx="355.00" cy="806.10" r="2.2" fill="none" stroke="#4e6388" stroke-width="1.1"/>
<circle cx="360.80" cy="806.10" r="2.2" fill="none" stroke="#4e6388" stroke-width="1.1"/>
<circle cx="363.60" cy="805.00" r="2.2" fill="none" stroke="#4e6388" stroke-width="1.1"/>
<circle cx="357.30" cy="811.00" r="2.2" fill="none" stroke="#4e6388" stroke-width="1.1"/>
<line x1="349.20" y1="805.60" x2="367.50" y2="805.60" stroke="#111" stroke-width="1.3"/>
<circle cx="380.90" cy="809.60" r="2.2" fill="none" stroke="#a53547" stroke-width="1.1"/>
<circle cx="383.30" cy="810.80" r="2.2" fill="none" stroke="#a53547" stroke-width="1.1"/>
<circle cx="386.10" cy="811.30" r="2.2" fill="none" stroke="#a53547" stroke-width="1.1"/>
<circle cx="389.00" cy="809.00" r="2.2" fill="none" stroke="#a53547" stroke-width="1.1"/>
<circle cx="390.20" cy="810.20" r="2.2" fill="none" stroke="#a53547" stroke-width="1.1"/>
<circle cx="383.80" cy="816.00" r="2.2" fill="none" stroke="#a53547" stroke-width="1.1"/>
<line x1="376.30" y1="811.10" x2="394.40" y2="811.10" stroke="#111" stroke-width="1.3"/>
<circle cx="424.80" cy="803.70" r="2.2" fill="none" stroke="#4e6388" stroke-width="1.1"/>
<circle cx="428.30" cy="806.00" r="2.2" fill="none" stroke="#4e6388" stroke-width="1.1"/>
<circle cx="430.60" cy="810.00" r="2.2" fill="none" stroke="#4e6388" stroke-width="1.1"/>
<circle cx="433.50" cy="808.80" r="2.2" fill="none" stroke="#4e6388" stroke-width="1.1"/>
<circle cx="436.90" cy="806.00" r="2.2" fill="none" stroke="#4e6388" stroke-width="1.1"/>
<line x1="421.30" y1="807.50" x2="439.80" y2="807.50" stroke="#111" stroke-width="1.3"/>
<circle cx="451.90" cy="806.30" r="2.2" fill="none" stroke="#a53547" stroke-width="1.1"/>
<circle cx="457.70" cy="806.00" r="2.2" fill="none" stroke="#a53547" stroke-width="1.1"/>
<circle cx="464.00" cy="804.80" r="2.2" fill="none" stroke="#a53547" stroke-width="1.1"/>
<circle cx="461.10" cy="811.70" r="2.2" fill="none" stroke="#a53547" stroke-width="1.1"/>
<circle cx="454.20" cy="817.50" r="2.2" fill="none" stroke="#a53547" stroke-width="1.1"/>
<line x1="449.00" y1="809.40" x2="467.50" y2="809.40" stroke="#111" stroke-width="1.3"/>
<rect x="0" y="0" width="520" height="1" fill="#8c8c8c"/>
<rect x="0" y="0" width="1" height="945" fill="#8c8c8c"/>
<rect x="1" y="1" width="518" height="1" fill="#141414"/>
<rect x="1" y="1" width="1" height="943" fill="#141414"/>
<rect x="518" y="1" width="1" height="944" fill="#4a4a4a"/>
<rect x="519" y="0" width="1" height="945" fill="#0a0a0a"/>
<rect x="1" y="943" width="518" height="1" fill="#3a3a3a"/>
<rect x="0" y="944" width="520" height="1" fill="#0a0a0a"/>
</svg>
</body></html>
